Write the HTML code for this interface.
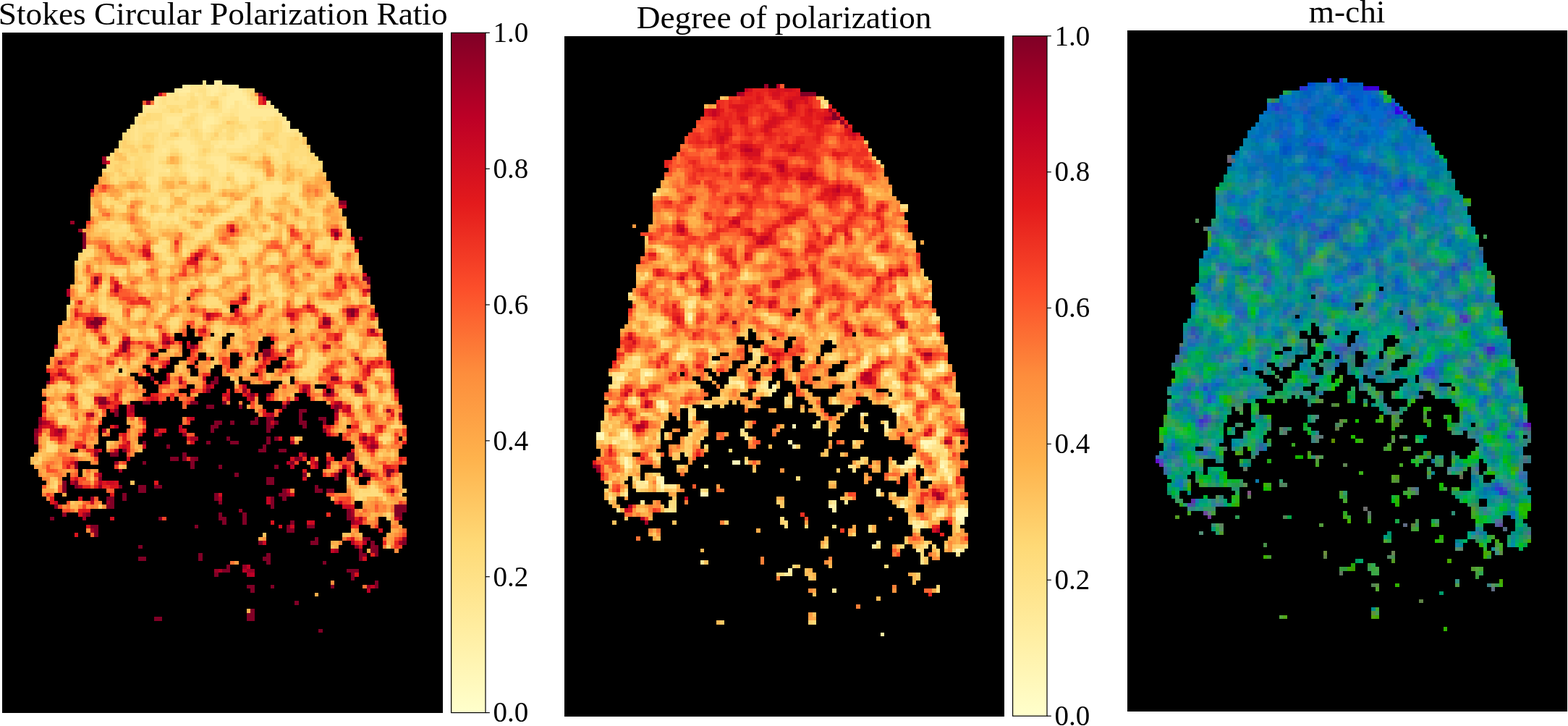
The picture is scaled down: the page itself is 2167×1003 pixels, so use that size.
<!DOCTYPE html>
<html><head><meta charset="utf-8"><title>Polarization maps</title>
<style>
html,body{margin:0;padding:0;background:#fff;}
body{width:2167px;height:1003px;position:relative;overflow:hidden;}
.pn{position:absolute;display:block;}
.ov{position:absolute;left:0;top:0;display:block;}
</style></head><body>
<svg class="pn" style="left:3px;top:45px" width="608.8" height="939.8" viewBox="0 0 110 170" preserveAspectRatio="none" shape-rendering="crispEdges"><rect width="110" height="170" fill="#000"/>
<path fill="#ffe58f" d="M50 12h1v1h-1zM47 13h4v1h-4zM47 14h2v1h-2zM55 14h1v1h-1zM60 14h1v1h-1zM42 15h2v1h-2zM46 15h1v1h-1zM49 15h1v1h-1zM54 15h1v1h-1zM39 16h1v1h-1zM41 16h2v1h-2zM44 16h3v1h-3zM49 16h1v1h-1zM54 16h1v1h-1zM61 16h1v1h-1zM39 17h1v1h-1zM41 17h5v1h-5zM49 17h2v1h-2zM58 17h1v1h-1zM62 17h1v1h-1zM66 17h1v1h-1zM35 18h1v1h-1zM39 18h2v1h-2zM50 18h1v1h-1zM58 18h1v1h-1zM63 18h1v1h-1zM65 18h3v1h-3zM35 19h5v1h-5zM45 19h4v1h-4zM50 19h3v1h-3zM57 19h2v1h-2zM40 20h5v1h-5zM46 20h1v1h-1zM49 20h2v1h-2zM53 20h1v1h-1zM55 20h2v1h-2zM58 20h1v1h-1zM68 20h2v1h-2zM40 21h1v1h-1zM49 21h1v1h-1zM54 21h1v1h-1zM62 21h3v1h-3zM66 21h1v1h-1zM70 21h1v1h-1zM38 22h1v1h-1zM40 22h1v1h-1zM44 22h1v1h-1zM49 22h1v1h-1zM54 22h1v1h-1zM60 22h4v1h-4zM33 23h1v1h-1zM36 23h3v1h-3zM40 23h3v1h-3zM44 23h1v1h-1zM49 23h1v1h-1zM52 23h1v1h-1zM61 23h2v1h-2zM70 23h1v1h-1zM33 24h1v1h-1zM40 24h2v1h-2zM45 24h2v1h-2zM52 24h1v1h-1zM55 24h1v1h-1zM61 24h1v1h-1zM64 24h1v1h-1zM70 24h1v1h-1zM72 24h2v1h-2zM33 25h1v1h-1zM39 25h1v1h-1zM46 25h1v1h-1zM50 25h1v1h-1zM60 25h2v1h-2zM33 26h1v1h-1zM39 26h1v1h-1zM44 26h1v1h-1zM46 26h1v1h-1zM50 26h1v1h-1zM55 26h1v1h-1zM58 26h1v1h-1zM61 26h1v1h-1zM39 27h1v1h-1zM41 27h2v1h-2zM47 27h1v1h-1zM52 27h2v1h-2zM56 27h2v1h-2zM62 27h2v1h-2zM39 28h3v1h-3zM43 28h1v1h-1zM48 28h1v1h-1zM55 28h1v1h-1zM60 28h1v1h-1zM38 29h2v1h-2zM41 29h1v1h-1zM44 29h1v1h-1zM48 29h1v1h-1zM53 29h1v1h-1zM56 29h4v1h-4zM67 29h2v1h-2zM38 30h3v1h-3zM45 30h1v1h-1zM47 30h2v1h-2zM52 30h4v1h-4zM68 30h1v1h-1zM38 31h1v1h-1zM46 31h1v1h-1zM48 31h1v1h-1zM51 31h1v1h-1zM38 32h1v1h-1zM46 32h1v1h-1zM51 32h2v1h-2zM56 32h1v1h-1zM38 33h2v1h-2zM45 33h1v1h-1zM47 33h2v1h-2zM53 33h1v1h-1zM56 33h1v1h-1zM58 33h3v1h-3zM38 34h3v1h-3zM45 34h1v1h-1zM48 34h2v1h-2zM56 34h2v1h-2zM60 34h2v1h-2zM38 35h1v1h-1zM46 35h1v1h-1zM49 35h1v1h-1zM54 35h2v1h-2zM61 35h4v1h-4zM36 36h3v1h-3zM47 36h2v1h-2zM58 36h1v1h-1zM64 36h1v1h-1zM37 37h2v1h-2zM53 37h1v1h-1zM59 37h2v1h-2zM68 37h1v1h-1zM53 38h1v1h-1zM65 38h5v1h-5zM65 39h5v1h-5zM65 40h2v1h-2zM40 41h1v1h-1zM66 41h1v1h-1zM39 42h2v1h-2zM54 42h2v1h-2zM58 43h3v1h-3zM35 44h1v1h-1zM58 44h2v1h-2zM39 45h2v1h-2zM55 45h3v1h-3zM38 46h1v1h-1zM43 46h1v1h-1zM54 46h2v1h-2zM53 47h1v1h-1zM51 49h1v1h-1zM62 53h1v1h-1z"/>
<path fill="#ffeda0" d="M53 12h2v1h-2zM45 13h2v1h-2zM51 13h3v1h-3zM56 13h2v1h-2zM44 14h3v1h-3zM52 14h2v1h-2zM58 14h2v1h-2zM52 15h1v1h-1zM57 15h3v1h-3zM56 16h5v1h-5zM56 17h2v1h-2zM60 17h1v1h-1zM56 18h1v1h-1zM61 18h1v1h-1zM51 21h2v1h-2zM50 22h3v1h-3zM50 23h1v1h-1z"/>
<path fill="#ffe998" d="M54 13h2v1h-2zM58 13h1v1h-1zM43 14h1v1h-1zM51 14h1v1h-1zM54 14h1v1h-1zM56 14h2v1h-2zM41 15h1v1h-1zM44 15h2v1h-2zM48 15h1v1h-1zM51 15h1v1h-1zM53 15h1v1h-1zM56 15h1v1h-1zM60 15h1v1h-1zM38 16h1v1h-1zM55 16h1v1h-1zM38 17h1v1h-1zM55 17h1v1h-1zM59 17h1v1h-1zM61 17h1v1h-1zM36 18h3v1h-3zM49 18h1v1h-1zM55 18h1v1h-1zM57 18h1v1h-1zM59 18h2v1h-2zM62 18h1v1h-1zM49 19h1v1h-1zM55 19h2v1h-2zM59 19h10v1h-10zM45 20h1v1h-1zM51 20h2v1h-2zM54 20h1v1h-1zM59 20h9v1h-9zM41 21h4v1h-4zM50 21h1v1h-1zM53 21h1v1h-1zM59 21h3v1h-3zM65 21h1v1h-1zM41 22h3v1h-3zM53 22h1v1h-1zM70 22h2v1h-2zM43 23h1v1h-1zM51 23h1v1h-1zM71 23h1v1h-1zM50 24h2v1h-2zM62 24h2v1h-2zM71 24h1v1h-1zM59 25h1v1h-1zM62 25h2v1h-2zM45 26h1v1h-1zM59 26h2v1h-2zM62 26h2v1h-2zM43 27h4v1h-4zM54 27h2v1h-2zM58 27h4v1h-4zM44 28h4v1h-4zM53 28h2v1h-2zM56 28h4v1h-4zM40 29h1v1h-1zM45 29h3v1h-3zM46 30h1v1h-1zM47 31h1v1h-1zM52 31h4v1h-4zM53 32h3v1h-3zM46 33h1v1h-1zM54 33h2v1h-2zM57 33h1v1h-1zM41 34h1v1h-1zM46 34h2v1h-2zM54 34h2v1h-2zM58 34h2v1h-2zM47 35h2v1h-2zM58 35h3v1h-3zM59 36h2v1h-2z"/>
<path fill="#fee187" d="M49 14h2v1h-2zM47 15h1v1h-1zM50 15h1v1h-1zM55 15h1v1h-1zM61 15h1v1h-1zM40 16h1v1h-1zM43 16h1v1h-1zM48 16h1v1h-1zM50 16h3v1h-3zM40 17h1v1h-1zM51 17h1v1h-1zM54 17h1v1h-1zM44 18h2v1h-2zM48 18h1v1h-1zM54 18h1v1h-1zM64 18h1v1h-1zM40 19h2v1h-2zM53 19h2v1h-2zM34 20h2v1h-2zM57 20h1v1h-1zM33 21h1v1h-1zM45 21h1v1h-1zM48 21h1v1h-1zM55 21h2v1h-2zM67 21h1v1h-1zM69 21h1v1h-1zM33 22h1v1h-1zM36 22h2v1h-2zM39 22h1v1h-1zM48 22h1v1h-1zM59 22h1v1h-1zM34 23h2v1h-2zM39 23h1v1h-1zM45 23h1v1h-1zM47 23h2v1h-2zM53 23h1v1h-1zM63 23h1v1h-1zM32 24h1v1h-1zM34 24h6v1h-6zM42 24h1v1h-1zM44 24h1v1h-1zM49 24h1v1h-1zM58 24h3v1h-3zM32 25h1v1h-1zM34 25h1v1h-1zM40 25h2v1h-2zM45 25h1v1h-1zM51 25h1v1h-1zM54 25h2v1h-2zM58 25h1v1h-1zM64 25h1v1h-1zM69 25h4v1h-4zM74 25h1v1h-1zM32 26h1v1h-1zM34 26h1v1h-1zM38 26h1v1h-1zM40 26h1v1h-1zM43 26h1v1h-1zM47 26h1v1h-1zM51 26h1v1h-1zM54 26h1v1h-1zM69 26h2v1h-2zM33 27h1v1h-1zM38 27h1v1h-1zM40 27h1v1h-1zM48 27h1v1h-1zM69 27h2v1h-2zM38 28h1v1h-1zM42 28h1v1h-1zM49 28h1v1h-1zM52 28h1v1h-1zM61 28h2v1h-2zM66 28h2v1h-2zM70 28h1v1h-1zM52 29h1v1h-1zM54 29h2v1h-2zM60 29h1v1h-1zM66 29h1v1h-1zM69 29h2v1h-2zM37 30h1v1h-1zM41 30h1v1h-1zM51 30h1v1h-1zM62 30h2v1h-2zM67 30h1v1h-1zM69 30h1v1h-1zM26 31h1v1h-1zM32 31h1v1h-1zM37 31h1v1h-1zM39 31h2v1h-2zM45 31h1v1h-1zM49 31h2v1h-2zM56 31h1v1h-1zM68 31h2v1h-2zM73 31h1v1h-1zM75 31h1v1h-1zM36 32h2v1h-2zM45 32h1v1h-1zM47 32h1v1h-1zM57 32h2v1h-2zM69 32h1v1h-1zM74 32h2v1h-2zM36 33h2v1h-2zM40 33h1v1h-1zM61 33h1v1h-1zM32 34h1v1h-1zM37 34h1v1h-1zM50 34h2v1h-2zM53 34h1v1h-1zM62 34h1v1h-1zM37 35h1v1h-1zM39 35h3v1h-3zM50 35h2v1h-2zM53 35h1v1h-1zM46 36h1v1h-1zM52 36h3v1h-3zM61 36h1v1h-1zM63 36h1v1h-1zM36 37h1v1h-1zM47 37h1v1h-1zM52 37h1v1h-1zM54 37h1v1h-1zM56 37h1v1h-1zM61 37h1v1h-1zM65 37h3v1h-3zM69 37h1v1h-1zM37 38h2v1h-2zM52 38h1v1h-1zM54 38h1v1h-1zM56 38h1v1h-1zM64 38h1v1h-1zM70 38h1v1h-1zM73 38h1v1h-1zM37 39h1v1h-1zM53 39h1v1h-1zM64 39h1v1h-1zM70 39h1v1h-1zM73 39h1v1h-1zM31 40h1v1h-1zM63 40h2v1h-2zM67 40h2v1h-2zM72 40h2v1h-2zM39 41h1v1h-1zM41 41h1v1h-1zM47 41h1v1h-1zM65 41h1v1h-1zM73 41h1v1h-1zM41 42h1v1h-1zM47 42h4v1h-4zM59 42h3v1h-3zM65 42h2v1h-2zM74 42h1v1h-1zM40 43h1v1h-1zM61 43h1v1h-1zM66 43h1v1h-1zM57 44h1v1h-1zM60 44h1v1h-1zM35 45h2v1h-2zM38 45h1v1h-1zM43 45h1v1h-1zM46 45h2v1h-2zM58 45h1v1h-1zM37 46h1v1h-1zM39 46h4v1h-4zM53 46h1v1h-1zM56 46h1v1h-1zM41 47h1v1h-1zM43 47h1v1h-1zM52 47h1v1h-1zM54 47h1v1h-1zM67 47h1v1h-1zM30 48h1v1h-1zM51 48h2v1h-2zM67 48h1v1h-1zM50 49h1v1h-1zM52 49h1v1h-1zM49 50h3v1h-3zM65 50h2v1h-2zM48 51h2v1h-2zM40 52h1v1h-1zM62 52h1v1h-1zM38 53h2v1h-2zM60 53h2v1h-2zM63 53h1v1h-1zM38 54h3v1h-3zM45 54h1v1h-1zM55 54h1v1h-1zM59 54h4v1h-4zM60 55h1v1h-1zM41 56h1v1h-1zM67 56h2v1h-2zM35 58h1v1h-1zM56 58h3v1h-3zM56 59h2v1h-2zM29 60h1v1h-1zM52 61h2v1h-2zM51 62h3v1h-3zM67 62h1v1h-1zM40 64h1v1h-1zM68 64h1v1h-1zM68 65h2v1h-2z"/>
<path fill="#fedd7e" d="M61 14h2v1h-2zM47 16h1v1h-1zM53 16h1v1h-1zM46 17h3v1h-3zM63 17h1v1h-1zM41 18h3v1h-3zM46 18h2v1h-2zM51 18h1v1h-1zM43 19h1v1h-1zM37 20h3v1h-3zM47 20h2v1h-2zM34 21h1v1h-1zM37 21h3v1h-3zM46 21h1v1h-1zM57 21h2v1h-2zM68 21h1v1h-1zM34 22h1v1h-1zM45 22h1v1h-1zM47 22h1v1h-1zM55 22h1v1h-1zM64 22h1v1h-1zM66 22h2v1h-2zM69 22h1v1h-1zM32 23h1v1h-1zM46 23h1v1h-1zM54 23h3v1h-3zM58 23h1v1h-1zM60 23h1v1h-1zM64 23h4v1h-4zM69 23h1v1h-1zM31 24h1v1h-1zM43 24h1v1h-1zM47 24h1v1h-1zM53 24h2v1h-2zM56 24h1v1h-1zM65 24h3v1h-3zM69 24h1v1h-1zM30 25h2v1h-2zM35 25h1v1h-1zM38 25h1v1h-1zM44 25h1v1h-1zM47 25h1v1h-1zM49 25h1v1h-1zM52 25h1v1h-1zM56 25h2v1h-2zM73 25h1v1h-1zM31 26h1v1h-1zM36 26h1v1h-1zM41 26h2v1h-2zM48 26h2v1h-2zM53 26h1v1h-1zM56 26h1v1h-1zM64 26h1v1h-1zM68 26h1v1h-1zM71 26h1v1h-1zM74 26h1v1h-1zM32 27h1v1h-1zM34 27h1v1h-1zM37 27h1v1h-1zM49 27h3v1h-3zM64 27h2v1h-2zM71 27h1v1h-1zM33 28h1v1h-1zM50 28h2v1h-2zM64 28h2v1h-2zM69 28h1v1h-1zM71 28h1v1h-1zM74 28h2v1h-2zM29 29h1v1h-1zM34 29h1v1h-1zM42 29h2v1h-2zM49 29h1v1h-1zM61 29h3v1h-3zM71 29h1v1h-1zM73 29h3v1h-3zM27 30h1v1h-1zM31 30h1v1h-1zM34 30h3v1h-3zM44 30h1v1h-1zM49 30h1v1h-1zM56 30h1v1h-1zM64 30h1v1h-1zM72 30h4v1h-4zM31 31h1v1h-1zM33 31h1v1h-1zM35 31h2v1h-2zM62 31h2v1h-2zM72 31h1v1h-1zM74 31h1v1h-1zM76 31h1v1h-1zM32 32h1v1h-1zM35 32h1v1h-1zM39 32h1v1h-1zM48 32h3v1h-3zM68 32h1v1h-1zM70 32h1v1h-1zM73 32h1v1h-1zM76 32h1v1h-1zM26 33h1v1h-1zM32 33h1v1h-1zM35 33h1v1h-1zM41 33h1v1h-1zM44 33h1v1h-1zM49 33h4v1h-4zM68 33h1v1h-1zM73 33h2v1h-2zM76 33h3v1h-3zM26 34h1v1h-1zM31 34h1v1h-1zM36 34h1v1h-1zM44 34h1v1h-1zM52 34h1v1h-1zM63 34h2v1h-2zM77 34h1v1h-1zM28 35h1v1h-1zM32 35h1v1h-1zM36 35h1v1h-1zM45 35h1v1h-1zM52 35h1v1h-1zM57 35h1v1h-1zM77 35h1v1h-1zM28 36h1v1h-1zM51 36h1v1h-1zM55 36h1v1h-1zM65 36h1v1h-1zM68 36h1v1h-1zM28 37h1v1h-1zM55 37h1v1h-1zM58 37h1v1h-1zM64 37h1v1h-1zM73 37h1v1h-1zM55 38h1v1h-1zM59 38h1v1h-1zM71 38h2v1h-2zM38 39h1v1h-1zM44 39h2v1h-2zM52 39h1v1h-1zM63 39h1v1h-1zM71 39h2v1h-2zM32 40h1v1h-1zM34 40h1v1h-1zM36 40h1v1h-1zM38 40h4v1h-4zM44 40h1v1h-1zM52 40h1v1h-1zM62 40h1v1h-1zM69 40h1v1h-1zM26 41h1v1h-1zM31 41h1v1h-1zM48 41h3v1h-3zM61 41h1v1h-1zM72 41h1v1h-1zM26 42h1v1h-1zM46 42h1v1h-1zM58 42h1v1h-1zM73 42h1v1h-1zM28 43h3v1h-3zM41 43h1v1h-1zM67 43h1v1h-1zM74 43h1v1h-1zM43 44h2v1h-2zM46 44h1v1h-1zM42 45h1v1h-1zM54 45h1v1h-1zM60 45h1v1h-1zM78 45h2v1h-2zM57 46h1v1h-1zM65 46h1v1h-1zM27 47h1v1h-1zM37 47h2v1h-2zM40 47h1v1h-1zM44 47h1v1h-1zM74 47h1v1h-1zM25 48h2v1h-2zM29 48h1v1h-1zM45 48h1v1h-1zM74 48h2v1h-2zM79 48h1v1h-1zM27 49h4v1h-4zM46 49h1v1h-1zM48 50h1v1h-1zM67 50h1v1h-1zM70 50h1v1h-1zM60 51h1v1h-1zM65 51h2v1h-2zM70 51h1v1h-1zM39 52h1v1h-1zM41 52h1v1h-1zM61 52h1v1h-1zM79 52h2v1h-2zM40 53h1v1h-1zM53 53h1v1h-1zM59 53h1v1h-1zM79 53h1v1h-1zM83 53h3v1h-3zM22 54h1v1h-1zM54 54h1v1h-1zM56 54h1v1h-1zM83 54h1v1h-1zM21 55h1v1h-1zM40 55h1v1h-1zM45 55h1v1h-1zM68 55h1v1h-1zM83 55h1v1h-1zM40 56h1v1h-1zM42 56h1v1h-1zM57 56h1v1h-1zM66 56h1v1h-1zM83 56h1v1h-1zM34 57h1v1h-1zM57 57h1v1h-1zM34 58h1v1h-1zM55 58h1v1h-1zM29 59h2v1h-2zM33 59h2v1h-2zM55 59h1v1h-1zM58 59h1v1h-1zM51 61h1v1h-1zM62 61h1v1h-1zM67 61h2v1h-2zM62 62h1v1h-1zM25 63h1v1h-1zM52 63h1v1h-1zM67 63h2v1h-2zM77 63h1v1h-1zM67 64h1v1h-1zM69 64h1v1h-1zM51 66h3v1h-3zM63 66h1v1h-1zM73 66h2v1h-2zM51 67h3v1h-3zM69 67h1v1h-1zM74 67h1v1h-1zM25 68h1v1h-1zM40 68h1v1h-1zM51 68h1v1h-1zM62 68h1v1h-1zM69 68h1v1h-1zM81 68h2v1h-2zM25 69h1v1h-1zM40 69h1v1h-1zM81 69h3v1h-3zM33 70h1v1h-1zM43 71h1v1h-1zM42 72h2v1h-2zM37 74h1v1h-1zM37 75h1v1h-1zM86 75h1v1h-1zM86 76h2v1h-2zM91 79h2v1h-2zM78 80h1v1h-1zM77 81h1v1h-1zM79 81h1v1h-1zM77 82h1v1h-1zM76 83h2v1h-2zM75 84h2v1h-2zM74 85h1v1h-1zM77 85h1v1h-1zM94 85h2v1h-2zM21 88h2v1h-2zM92 90h1v1h-1zM20 92h1v1h-1zM88 92h1v1h-1zM15 93h1v1h-1zM88 93h1v1h-1zM15 96h1v1h-1zM95 101h2v1h-2zM95 102h1v1h-1zM11 103h2v1h-2zM11 104h2v1h-2zM13 113h1v1h-1zM92 113h1v1h-1zM89 114h1v1h-1zM92 114h2v1h-2zM89 115h6v1h-6zM89 116h1v1h-1z"/>
<path fill="#c50524" d="M39 15h1v1h-1zM85 43h1v1h-1zM82 49h2v1h-2zM36 55h1v1h-1zM76 68h1v1h-1zM58 69h1v1h-1zM72 70h1v1h-1zM21 71h1v1h-1zM51 71h1v1h-1zM22 73h1v1h-1zM31 76h1v1h-1zM80 78h1v1h-1zM41 82h1v1h-1zM91 83h1v1h-1zM97 84h1v1h-1zM41 86h1v1h-1zM40 87h2v1h-2zM76 88h1v1h-1zM56 91h1v1h-1zM83 92h1v1h-1zM86 93h1v1h-1zM31 94h1v1h-1zM86 94h1v1h-1zM31 95h1v1h-1zM66 95h1v1h-1zM47 96h1v1h-1zM11 97h1v1h-1zM9 99h1v1h-1zM44 99h1v1h-1zM81 100h1v1h-1zM92 101h1v1h-1zM91 103h1v1h-1zM71 114h1v1h-1zM66 116h1v1h-1zM13 117h1v1h-1zM22 117h1v1h-1zM66 117h1v1h-1zM98 121h1v1h-1zM89 122h1v1h-1zM82 129h1v1h-1zM61 133h1v1h-1zM92 138h1v1h-1z"/>
<path fill="#fc5b2e" d="M40 15h1v1h-1zM35 17h1v1h-1zM22 40h1v1h-1zM84 49h1v1h-1zM55 51h1v1h-1zM36 52h1v1h-1zM43 53h1v1h-1zM67 53h1v1h-1zM69 53h1v1h-1zM50 55h1v1h-1zM46 56h1v1h-1zM30 57h1v1h-1zM21 58h1v1h-1zM21 59h1v1h-1zM37 59h1v1h-1zM23 60h1v1h-1zM76 60h1v1h-1zM42 61h1v1h-1zM27 63h1v1h-1zM30 64h1v1h-1zM27 65h1v1h-1zM29 65h3v1h-3zM80 65h1v1h-1zM84 65h1v1h-1zM29 66h1v1h-1zM71 67h1v1h-1zM76 67h1v1h-1zM65 68h1v1h-1zM90 68h1v1h-1zM42 69h1v1h-1zM59 69h1v1h-1zM75 69h1v1h-1zM23 70h1v1h-1zM31 70h1v1h-1zM63 70h1v1h-1zM78 70h1v1h-1zM91 70h1v1h-1zM50 71h1v1h-1zM61 71h1v1h-1zM20 72h1v1h-1zM59 72h1v1h-1zM86 72h2v1h-2zM45 74h1v1h-1zM41 75h1v1h-1zM45 75h1v1h-1zM66 75h2v1h-2zM26 77h1v1h-1zM33 77h1v1h-1zM62 77h1v1h-1zM73 77h1v1h-1zM80 77h1v1h-1zM30 80h1v1h-1zM32 80h1v1h-1zM15 81h1v1h-1zM94 81h1v1h-1zM13 82h1v1h-1zM16 82h1v1h-1zM83 82h1v1h-1zM95 82h1v1h-1zM14 83h1v1h-1zM73 83h1v1h-1zM83 83h1v1h-1zM13 84h1v1h-1zM71 84h1v1h-1zM16 85h1v1h-1zM14 86h1v1h-1zM80 86h2v1h-2zM33 87h1v1h-1zM66 87h1v1h-1zM33 88h1v1h-1zM28 89h1v1h-1zM16 90h1v1h-1zM41 90h1v1h-1zM27 91h1v1h-1zM40 91h1v1h-1zM46 91h1v1h-1zM17 92h1v1h-1zM45 92h1v1h-1zM84 94h1v1h-1zM10 95h1v1h-1zM91 95h1v1h-1zM18 96h1v1h-1zM22 96h1v1h-1zM21 98h1v1h-1zM20 99h2v1h-2zM31 99h1v1h-1zM86 99h1v1h-1zM19 100h1v1h-1zM26 100h1v1h-1zM46 100h2v1h-2zM83 100h1v1h-1zM85 100h1v1h-1zM98 101h1v1h-1zM20 102h1v1h-1zM46 102h1v1h-1zM15 106h2v1h-2zM85 106h1v1h-1zM86 107h1v1h-1zM95 107h1v1h-1zM17 108h1v1h-1zM13 109h1v1h-1zM18 110h1v1h-1zM86 110h1v1h-1zM94 111h1v1h-1zM10 113h1v1h-1zM14 113h1v1h-1zM22 113h1v1h-1zM14 114h1v1h-1zM27 114h1v1h-1zM97 115h1v1h-1zM23 116h1v1h-1zM21 117h1v1h-1zM93 118h1v1h-1zM90 122h1v1h-1z"/>
<path fill="#fed16e" d="M62 15h1v1h-1zM52 17h2v1h-2zM57 22h1v1h-1zM42 25h1v1h-1zM53 25h1v1h-1zM65 25h3v1h-3zM65 26h1v1h-1zM73 26h1v1h-1zM30 27h1v1h-1zM30 28h3v1h-3zM37 28h1v1h-1zM32 29h2v1h-2zM36 29h1v1h-1zM50 29h1v1h-1zM30 30h1v1h-1zM42 30h2v1h-2zM44 31h1v1h-1zM57 31h1v1h-1zM61 31h1v1h-1zM64 31h1v1h-1zM77 31h1v1h-1zM29 32h3v1h-3zM44 32h1v1h-1zM61 32h2v1h-2zM67 32h1v1h-1zM28 33h2v1h-2zM43 33h1v1h-1zM70 33h1v1h-1zM72 33h1v1h-1zM28 34h1v1h-1zM33 34h1v1h-1zM75 34h1v1h-1zM27 35h1v1h-1zM29 35h1v1h-1zM33 35h3v1h-3zM43 35h1v1h-1zM65 35h1v1h-1zM69 35h1v1h-1zM75 35h1v1h-1zM31 36h2v1h-2zM41 36h1v1h-1zM43 36h1v1h-1zM50 36h1v1h-1zM57 36h1v1h-1zM67 36h1v1h-1zM73 36h2v1h-2zM27 37h1v1h-1zM46 37h1v1h-1zM51 37h1v1h-1zM57 37h1v1h-1zM71 37h2v1h-2zM74 37h1v1h-1zM39 38h1v1h-1zM58 38h1v1h-1zM60 38h1v1h-1zM63 38h1v1h-1zM34 39h1v1h-1zM39 39h2v1h-2zM42 39h1v1h-1zM46 39h1v1h-1zM54 39h1v1h-1zM59 39h1v1h-1zM62 39h1v1h-1zM33 40h1v1h-1zM48 40h1v1h-1zM53 40h1v1h-1zM61 40h1v1h-1zM81 40h2v1h-2zM25 41h1v1h-1zM27 41h1v1h-1zM32 41h1v1h-1zM35 41h1v1h-1zM52 41h1v1h-1zM56 41h1v1h-1zM60 41h1v1h-1zM68 41h1v1h-1zM81 41h1v1h-1zM29 42h1v1h-1zM31 42h1v1h-1zM42 42h1v1h-1zM67 42h1v1h-1zM72 42h1v1h-1zM39 43h1v1h-1zM45 43h1v1h-1zM54 43h2v1h-2zM78 43h2v1h-2zM22 44h1v1h-1zM28 44h1v1h-1zM34 44h1v1h-1zM61 44h1v1h-1zM65 44h2v1h-2zM68 44h1v1h-1zM77 44h3v1h-3zM34 45h1v1h-1zM48 45h1v1h-1zM51 45h1v1h-1zM65 45h1v1h-1zM75 45h1v1h-1zM47 46h1v1h-1zM50 46h2v1h-2zM64 46h1v1h-1zM72 46h1v1h-1zM78 46h1v1h-1zM24 47h2v1h-2zM28 47h3v1h-3zM39 47h1v1h-1zM51 47h1v1h-1zM63 47h1v1h-1zM65 47h1v1h-1zM73 47h1v1h-1zM78 47h1v1h-1zM85 47h1v1h-1zM24 48h1v1h-1zM39 48h1v1h-1zM41 48h2v1h-2zM68 48h1v1h-1zM78 48h1v1h-1zM85 48h1v1h-1zM24 49h1v1h-1zM36 49h3v1h-3zM45 49h1v1h-1zM48 49h1v1h-1zM27 50h1v1h-1zM31 50h1v1h-1zM38 50h1v1h-1zM64 50h1v1h-1zM27 51h1v1h-1zM29 51h1v1h-1zM39 51h2v1h-2zM59 51h1v1h-1zM62 51h1v1h-1zM64 51h1v1h-1zM28 52h1v1h-1zM45 52h2v1h-2zM59 52h2v1h-2zM85 52h1v1h-1zM46 53h1v1h-1zM74 53h1v1h-1zM87 53h1v1h-1zM41 54h1v1h-1zM53 54h1v1h-1zM57 54h1v1h-1zM72 54h1v1h-1zM78 54h1v1h-1zM19 55h1v1h-1zM39 55h1v1h-1zM55 55h1v1h-1zM62 55h1v1h-1zM82 55h1v1h-1zM39 56h1v1h-1zM58 56h1v1h-1zM18 57h1v1h-1zM35 57h1v1h-1zM42 57h1v1h-1zM58 57h1v1h-1zM66 57h1v1h-1zM88 57h1v1h-1zM19 58h1v1h-1zM23 58h1v1h-1zM26 58h1v1h-1zM84 58h1v1h-1zM19 59h1v1h-1zM26 59h2v1h-2zM32 59h1v1h-1zM39 59h1v1h-1zM59 59h1v1h-1zM62 59h1v1h-1zM19 60h1v1h-1zM30 60h1v1h-1zM34 60h1v1h-1zM39 60h2v1h-2zM50 60h1v1h-1zM53 60h3v1h-3zM62 60h2v1h-2zM73 60h1v1h-1zM79 60h3v1h-3zM19 61h2v1h-2zM54 61h1v1h-1zM63 61h1v1h-1zM20 62h1v1h-1zM25 62h1v1h-1zM46 62h1v1h-1zM68 62h1v1h-1zM26 63h1v1h-1zM35 63h2v1h-2zM51 63h1v1h-1zM53 63h1v1h-1zM59 63h1v1h-1zM76 63h1v1h-1zM24 64h1v1h-1zM76 64h2v1h-2zM25 65h1v1h-1zM51 65h1v1h-1zM63 65h2v1h-2zM66 65h2v1h-2zM24 66h1v1h-1zM50 66h1v1h-1zM75 66h1v1h-1zM88 66h1v1h-1zM91 66h1v1h-1zM17 67h1v1h-1zM24 67h1v1h-1zM27 67h1v1h-1zM62 67h1v1h-1zM78 67h1v1h-1zM88 67h1v1h-1zM91 67h1v1h-1zM26 68h1v1h-1zM28 68h2v1h-2zM55 68h1v1h-1zM84 68h1v1h-1zM16 69h1v1h-1zM24 69h1v1h-1zM26 69h1v1h-1zM16 70h1v1h-1zM27 70h1v1h-1zM32 70h1v1h-1zM29 71h1v1h-1zM44 71h1v1h-1zM29 72h1v1h-1zM41 72h1v1h-1zM54 73h1v1h-1zM70 73h1v1h-1zM75 73h1v1h-1zM77 73h1v1h-1zM36 74h1v1h-1zM42 74h1v1h-1zM58 74h1v1h-1zM34 75h1v1h-1zM36 75h1v1h-1zM21 76h2v1h-2zM28 76h1v1h-1zM52 76h2v1h-2zM88 76h1v1h-1zM23 77h1v1h-1zM28 77h1v1h-1zM93 77h1v1h-1zM15 78h1v1h-1zM17 78h1v1h-1zM23 78h1v1h-1zM51 78h1v1h-1zM70 78h1v1h-1zM87 78h1v1h-1zM93 78h1v1h-1zM52 79h1v1h-1zM77 79h1v1h-1zM94 79h1v1h-1zM25 80h1v1h-1zM90 80h2v1h-2zM73 81h1v1h-1zM80 81h1v1h-1zM19 82h1v1h-1zM29 82h1v1h-1zM33 82h1v1h-1zM28 83h1v1h-1zM44 83h1v1h-1zM52 83h1v1h-1zM78 83h1v1h-1zM28 84h1v1h-1zM30 84h1v1h-1zM74 84h1v1h-1zM94 84h1v1h-1zM26 85h1v1h-1zM29 85h1v1h-1zM78 85h1v1h-1zM26 86h1v1h-1zM71 86h1v1h-1zM75 86h1v1h-1zM21 87h1v1h-1zM23 87h1v1h-1zM58 87h1v1h-1zM14 88h2v1h-2zM20 88h1v1h-1zM15 89h1v1h-1zM22 89h1v1h-1zM85 89h1v1h-1zM93 89h1v1h-1zM19 90h2v1h-2zM93 90h1v1h-1zM87 91h1v1h-1zM89 91h1v1h-1zM92 91h1v1h-1zM14 92h1v1h-1zM22 92h1v1h-1zM97 92h1v1h-1zM12 93h1v1h-1zM14 93h1v1h-1zM20 93h1v1h-1zM94 94h1v1h-1zM16 96h1v1h-1zM14 97h2v1h-2zM17 97h1v1h-1zM99 98h1v1h-1zM91 99h1v1h-1zM95 100h2v1h-2zM26 102h1v1h-1zM13 104h1v1h-1zM19 105h1v1h-1zM94 105h1v1h-1zM97 105h1v1h-1zM8 107h1v1h-1zM90 107h1v1h-1zM86 111h1v1h-1zM87 112h1v1h-1zM12 113h1v1h-1zM88 114h1v1h-1zM90 116h1v1h-1zM24 118h1v1h-1zM96 128h1v1h-1z"/>
<path fill="#fd8d3c" d="M63 15h1v1h-1zM66 32h1v1h-1zM66 34h1v1h-1zM23 38h1v1h-1zM63 42h1v1h-1zM82 43h1v1h-1zM73 44h1v1h-1zM81 44h1v1h-1zM22 46h1v1h-1zM33 49h1v1h-1zM55 49h1v1h-1zM22 52h1v1h-1zM35 52h1v1h-1zM56 52h1v1h-1zM72 52h1v1h-1zM76 52h1v1h-1zM31 53h1v1h-1zM77 53h1v1h-1zM25 54h1v1h-1zM27 54h1v1h-1zM33 54h1v1h-1zM69 54h1v1h-1zM75 54h1v1h-1zM29 55h1v1h-1zM51 55h2v1h-2zM23 56h2v1h-2zM64 56h1v1h-1zM76 56h1v1h-1zM78 56h2v1h-2zM27 57h1v1h-1zM31 57h1v1h-1zM72 57h1v1h-1zM77 57h1v1h-1zM68 58h1v1h-1zM73 58h1v1h-1zM36 59h1v1h-1zM38 59h1v1h-1zM44 59h1v1h-1zM66 59h1v1h-1zM21 60h1v1h-1zM43 60h1v1h-1zM46 60h3v1h-3zM33 61h1v1h-1zM76 61h1v1h-1zM42 62h2v1h-2zM73 62h1v1h-1zM23 64h1v1h-1zM81 64h1v1h-1zM85 64h1v1h-1zM79 65h1v1h-1zM36 66h1v1h-1zM58 66h1v1h-1zM76 66h1v1h-1zM30 67h1v1h-1zM42 68h1v1h-1zM46 68h1v1h-1zM48 68h1v1h-1zM72 68h1v1h-1zM17 69h1v1h-1zM53 69h1v1h-1zM63 69h1v1h-1zM90 69h2v1h-2zM30 70h1v1h-1zM62 70h1v1h-1zM81 70h1v1h-1zM17 71h1v1h-1zM54 71h1v1h-1zM67 71h1v1h-1zM82 71h1v1h-1zM34 72h1v1h-1zM45 72h1v1h-1zM14 73h1v1h-1zM17 73h1v1h-1zM45 73h1v1h-1zM91 73h1v1h-1zM29 74h1v1h-1zM60 74h1v1h-1zM85 74h1v1h-1zM23 75h1v1h-1zM61 75h1v1h-1zM78 75h1v1h-1zM89 75h1v1h-1zM15 76h1v1h-1zM73 76h1v1h-1zM78 76h1v1h-1zM24 77h1v1h-1zM54 77h1v1h-1zM63 77h1v1h-1zM68 77h1v1h-1zM81 77h1v1h-1zM34 78h1v1h-1zM63 78h1v1h-1zM73 78h1v1h-1zM79 79h1v1h-1zM87 79h1v1h-1zM36 80h1v1h-1zM55 80h1v1h-1zM39 81h2v1h-2zM60 81h1v1h-1zM83 81h1v1h-1zM95 81h1v1h-1zM51 82h1v1h-1zM74 82h1v1h-1zM12 83h1v1h-1zM15 83h1v1h-1zM27 83h1v1h-1zM59 83h1v1h-1zM34 84h1v1h-1zM55 84h1v1h-1zM62 84h1v1h-1zM72 84h1v1h-1zM55 85h1v1h-1zM68 85h1v1h-1zM79 85h1v1h-1zM31 86h1v1h-1zM42 86h1v1h-1zM61 86h1v1h-1zM63 86h1v1h-1zM65 86h1v1h-1zM16 87h1v1h-1zM42 87h2v1h-2zM74 87h2v1h-2zM80 87h1v1h-1zM17 88h1v1h-1zM25 88h1v1h-1zM27 88h1v1h-1zM84 88h2v1h-2zM32 89h1v1h-1zM42 89h1v1h-1zM68 89h1v1h-1zM77 89h1v1h-1zM97 89h1v1h-1zM79 90h1v1h-1zM18 91h1v1h-1zM68 91h1v1h-1zM12 92h1v1h-1zM31 92h1v1h-1zM98 93h1v1h-1zM90 94h1v1h-1zM99 94h1v1h-1zM64 95h1v1h-1zM93 96h1v1h-1zM93 97h1v1h-1zM96 97h1v1h-1zM14 98h1v1h-1zM32 98h1v1h-1zM83 98h1v1h-1zM19 99h1v1h-1zM89 99h1v1h-1zM95 99h1v1h-1zM99 99h1v1h-1zM25 100h1v1h-1zM99 100h1v1h-1zM19 101h1v1h-1zM33 101h1v1h-1zM100 101h1v1h-1zM16 102h2v1h-2zM14 104h1v1h-1zM26 104h1v1h-1zM90 104h1v1h-1zM16 105h1v1h-1zM32 105h1v1h-1zM78 106h1v1h-1zM13 107h1v1h-1zM22 107h1v1h-1zM82 107h1v1h-1zM10 108h1v1h-1zM12 108h1v1h-1zM87 108h1v1h-1zM14 109h1v1h-1zM80 109h1v1h-1zM9 110h1v1h-1zM21 110h1v1h-1zM11 111h1v1h-1zM94 112h1v1h-1zM96 112h1v1h-1zM72 114h1v1h-1zM84 115h2v1h-2zM87 116h1v1h-1zM24 117h1v1h-1zM87 117h1v1h-1zM15 118h1v1h-1zM19 118h1v1h-1zM23 118h1v1h-1zM94 118h1v1h-1zM91 119h1v1h-1zM94 119h2v1h-2zM91 122h2v1h-2zM98 122h1v1h-1zM21 124h1v1h-1zM88 124h1v1h-1zM99 124h1v1h-1zM98 125h1v1h-1zM84 127h1v1h-1zM98 129h1v1h-1zM82 137h1v1h-1z"/>
<path fill="#800026" d="M64 15h1v1h-1zM84 42h2v1h-2zM20 50h1v1h-1zM83 50h1v1h-1zM20 51h1v1h-1zM89 51h1v1h-1zM20 52h1v1h-1zM20 53h1v1h-1zM90 61h2v1h-2zM23 62h1v1h-1zM91 62h1v1h-1zM60 66h1v1h-1zM87 69h1v1h-1zM87 70h1v1h-1zM93 70h1v1h-1zM23 71h1v1h-1zM22 72h3v1h-3zM80 72h1v1h-1zM30 77h1v1h-1zM41 77h1v1h-1zM30 78h1v1h-1zM47 78h1v1h-1zM30 79h1v1h-1zM65 80h2v1h-2zM37 86h1v1h-1zM53 86h1v1h-1zM82 86h1v1h-1zM11 87h1v1h-1zM52 87h2v1h-2zM88 88h1v1h-1zM51 89h1v1h-1zM62 90h1v1h-1zM81 90h1v1h-1zM24 92h2v1h-2zM35 92h2v1h-2zM47 92h2v1h-2zM55 92h1v1h-1zM71 92h1v1h-1zM51 93h2v1h-2zM59 93h1v1h-1zM70 93h1v1h-1zM83 93h1v1h-1zM28 94h1v1h-1zM74 94h2v1h-2zM83 94h1v1h-1zM28 95h1v1h-1zM74 95h1v1h-1zM35 96h1v1h-1zM63 96h1v1h-1zM66 96h2v1h-2zM74 96h1v1h-1zM79 96h2v1h-2zM9 97h1v1h-1zM53 97h2v1h-2zM57 97h1v1h-1zM62 97h2v1h-2zM66 97h1v1h-1zM68 97h1v1h-1zM74 97h2v1h-2zM80 97h1v1h-1zM52 98h2v1h-2zM66 98h2v1h-2zM75 98h1v1h-1zM8 99h1v1h-1zM52 99h1v1h-1zM66 99h1v1h-1zM80 99h1v1h-1zM39 100h1v1h-1zM56 101h1v1h-1zM66 101h1v1h-1zM68 101h1v1h-1zM90 101h1v1h-1zM8 102h1v1h-1zM35 102h1v1h-1zM51 102h1v1h-1zM57 102h2v1h-2zM66 102h1v1h-1zM41 103h1v1h-1zM65 103h1v1h-1zM30 104h1v1h-1zM64 104h2v1h-2zM69 104h2v1h-2zM23 105h1v1h-1zM27 105h2v1h-2zM45 105h1v1h-1zM75 105h1v1h-1zM87 105h1v1h-1zM42 106h2v1h-2zM45 106h1v1h-1zM48 106h1v1h-1zM73 106h2v1h-2zM86 106h2v1h-2zM18 107h1v1h-1zM35 107h1v1h-1zM47 107h1v1h-1zM72 107h1v1h-1zM47 108h1v1h-1zM54 108h1v1h-1zM68 108h1v1h-1zM96 109h2v1h-2zM58 110h1v1h-1zM75 110h1v1h-1zM90 110h1v1h-1zM96 110h1v1h-1zM24 111h1v1h-1zM66 111h2v1h-2zM83 111h1v1h-1zM15 112h1v1h-1zM18 112h1v1h-1zM66 112h2v1h-2zM15 113h1v1h-1zM18 113h1v1h-1zM29 113h1v1h-1zM34 113h2v1h-2zM38 113h2v1h-2zM78 113h1v1h-1zM15 114h1v1h-1zM34 114h2v1h-2zM70 114h1v1h-1zM78 114h2v1h-2zM81 114h2v1h-2zM30 115h1v1h-1zM53 115h1v1h-1zM69 115h2v1h-2zM26 116h2v1h-2zM30 116h1v1h-1zM53 116h1v1h-1zM67 116h1v1h-1zM70 116h1v1h-1zM27 117h1v1h-1zM67 117h1v1h-1zM13 118h1v1h-1zM26 118h2v1h-2zM67 118h1v1h-1zM98 118h3v1h-3zM86 119h1v1h-1zM98 119h3v1h-3zM21 120h1v1h-1zM54 120h1v1h-1zM60 120h1v1h-1zM86 120h1v1h-1zM98 120h2v1h-2zM12 121h1v1h-1zM39 121h1v1h-1zM54 121h2v1h-2zM60 121h1v1h-1zM86 121h1v1h-1zM55 122h1v1h-1zM60 122h1v1h-1zM72 122h1v1h-1zM22 123h2v1h-2zM48 123h1v1h-1zM71 123h1v1h-1zM76 123h2v1h-2zM23 124h1v1h-1zM71 124h2v1h-2zM23 125h1v1h-1zM78 126h1v1h-1zM91 126h1v1h-1zM64 127h1v1h-1zM77 127h2v1h-2zM92 127h1v1h-1zM100 127h1v1h-1zM34 128h1v1h-1zM93 128h1v1h-1zM89 129h1v1h-1zM92 129h2v1h-2zM49 130h1v1h-1zM66 130h1v1h-1zM89 130h2v1h-2zM93 130h1v1h-1zM34 131h2v1h-2zM49 131h1v1h-1zM65 131h2v1h-2zM89 131h1v1h-1zM66 132h1v1h-1zM80 132h1v1h-1zM56 133h1v1h-1zM55 134h2v1h-2zM86 134h3v1h-3zM53 135h1v1h-1zM87 135h1v1h-1zM87 136h1v1h-1zM93 137h1v1h-1zM61 138h2v1h-2zM67 138h1v1h-1zM82 138h1v1h-1zM93 138h1v1h-1zM62 139h1v1h-1zM73 142h1v1h-1zM62 144h1v1h-1zM61 145h2v1h-2zM38 146h2v1h-2zM61 146h2v1h-2zM79 149h1v1h-1z"/>
<path fill="#fed976" d="M62 16h2v1h-2zM52 18h2v1h-2zM42 19h1v1h-1zM44 19h1v1h-1zM36 20h1v1h-1zM35 21h2v1h-2zM47 21h1v1h-1zM35 22h1v1h-1zM46 22h1v1h-1zM58 22h1v1h-1zM65 22h1v1h-1zM68 22h1v1h-1zM57 23h1v1h-1zM59 23h1v1h-1zM68 23h1v1h-1zM48 24h1v1h-1zM57 24h1v1h-1zM68 24h1v1h-1zM36 25h2v1h-2zM48 25h1v1h-1zM68 25h1v1h-1zM30 26h1v1h-1zM35 26h1v1h-1zM37 26h1v1h-1zM52 26h1v1h-1zM57 26h1v1h-1zM67 26h1v1h-1zM72 26h1v1h-1zM29 27h1v1h-1zM31 27h1v1h-1zM35 27h2v1h-2zM66 27h3v1h-3zM72 27h3v1h-3zM29 28h1v1h-1zM34 28h1v1h-1zM63 28h1v1h-1zM68 28h1v1h-1zM72 28h2v1h-2zM30 29h2v1h-2zM35 29h1v1h-1zM37 29h1v1h-1zM51 29h1v1h-1zM64 29h2v1h-2zM72 29h1v1h-1zM76 29h1v1h-1zM32 30h2v1h-2zM50 30h1v1h-1zM57 30h5v1h-5zM66 30h1v1h-1zM70 30h2v1h-2zM76 30h2v1h-2zM27 31h1v1h-1zM34 31h1v1h-1zM67 31h1v1h-1zM70 31h2v1h-2zM78 31h1v1h-1zM27 32h2v1h-2zM33 32h2v1h-2zM40 32h1v1h-1zM59 32h2v1h-2zM72 32h1v1h-1zM77 32h3v1h-3zM27 33h1v1h-1zM30 33h2v1h-2zM33 33h2v1h-2zM42 33h1v1h-1zM62 33h1v1h-1zM69 33h1v1h-1zM75 33h1v1h-1zM79 33h1v1h-1zM25 34h1v1h-1zM27 34h1v1h-1zM30 34h1v1h-1zM34 34h2v1h-2zM42 34h2v1h-2zM69 34h1v1h-1zM76 34h1v1h-1zM78 34h1v1h-1zM31 35h1v1h-1zM42 35h1v1h-1zM44 35h1v1h-1zM56 35h1v1h-1zM68 35h1v1h-1zM76 35h1v1h-1zM27 36h1v1h-1zM29 36h2v1h-2zM33 36h1v1h-1zM35 36h1v1h-1zM39 36h1v1h-1zM49 36h1v1h-1zM62 36h1v1h-1zM69 36h1v1h-1zM39 37h1v1h-1zM48 37h1v1h-1zM63 37h1v1h-1zM36 38h1v1h-1zM57 38h1v1h-1zM74 38h1v1h-1zM43 39h1v1h-1zM74 39h1v1h-1zM35 40h1v1h-1zM37 40h1v1h-1zM43 40h1v1h-1zM47 40h1v1h-1zM49 40h3v1h-3zM30 41h1v1h-1zM36 41h3v1h-3zM46 41h1v1h-1zM51 41h1v1h-1zM53 41h3v1h-3zM67 41h1v1h-1zM71 41h1v1h-1zM74 41h1v1h-1zM25 42h1v1h-1zM27 42h2v1h-2zM36 42h3v1h-3zM53 42h1v1h-1zM56 42h1v1h-1zM75 42h1v1h-1zM79 42h2v1h-2zM26 43h1v1h-1zM35 43h2v1h-2zM46 43h2v1h-2zM57 43h1v1h-1zM65 43h1v1h-1zM75 43h1v1h-1zM29 44h2v1h-2zM36 44h1v1h-1zM39 44h2v1h-2zM45 44h1v1h-1zM56 44h1v1h-1zM67 44h1v1h-1zM75 44h2v1h-2zM37 45h1v1h-1zM41 45h1v1h-1zM44 45h2v1h-2zM49 45h1v1h-1zM59 45h1v1h-1zM61 45h1v1h-1zM71 45h1v1h-1zM76 45h2v1h-2zM36 46h1v1h-1zM44 46h1v1h-1zM46 46h1v1h-1zM48 46h2v1h-2zM52 46h1v1h-1zM61 46h1v1h-1zM66 46h1v1h-1zM71 46h1v1h-1zM79 46h1v1h-1zM26 47h1v1h-1zM42 47h1v1h-1zM45 47h1v1h-1zM55 47h1v1h-1zM62 47h1v1h-1zM66 47h1v1h-1zM75 47h1v1h-1zM79 47h1v1h-1zM27 48h2v1h-2zM31 48h1v1h-1zM37 48h2v1h-2zM40 48h1v1h-1zM44 48h1v1h-1zM46 48h1v1h-1zM50 48h1v1h-1zM31 49h1v1h-1zM47 49h1v1h-1zM49 49h1v1h-1zM63 49h1v1h-1zM67 49h1v1h-1zM70 49h1v1h-1zM28 50h3v1h-3zM32 50h1v1h-1zM47 50h1v1h-1zM52 50h1v1h-1zM63 50h1v1h-1zM28 51h1v1h-1zM31 51h2v1h-2zM50 51h2v1h-2zM61 51h1v1h-1zM80 51h2v1h-2zM47 52h2v1h-2zM63 52h1v1h-1zM78 52h1v1h-1zM81 52h1v1h-1zM84 52h1v1h-1zM41 53h1v1h-1zM45 53h1v1h-1zM47 53h1v1h-1zM54 53h2v1h-2zM64 53h1v1h-1zM73 53h1v1h-1zM78 53h1v1h-1zM80 53h2v1h-2zM86 53h1v1h-1zM20 54h2v1h-2zM46 54h1v1h-1zM63 54h1v1h-1zM73 54h1v1h-1zM84 54h2v1h-2zM20 55h1v1h-1zM22 55h1v1h-1zM41 55h1v1h-1zM56 55h1v1h-1zM58 55h2v1h-2zM61 55h1v1h-1zM67 55h1v1h-1zM19 56h2v1h-2zM56 56h1v1h-1zM61 56h1v1h-1zM84 56h1v1h-1zM19 57h1v1h-1zM41 57h1v1h-1zM56 57h1v1h-1zM67 57h2v1h-2zM83 57h2v1h-2zM32 58h2v1h-2zM83 58h1v1h-1zM88 58h1v1h-1zM28 59h1v1h-1zM40 59h2v1h-2zM63 59h1v1h-1zM81 59h2v1h-2zM28 60h1v1h-1zM56 60h2v1h-2zM67 60h2v1h-2zM78 60h1v1h-1zM66 61h1v1h-1zM30 62h1v1h-1zM47 62h2v1h-2zM54 62h1v1h-1zM59 62h1v1h-1zM63 62h1v1h-1zM19 63h2v1h-2zM40 63h1v1h-1zM45 63h1v1h-1zM63 63h1v1h-1zM69 63h1v1h-1zM78 63h1v1h-1zM19 64h2v1h-2zM25 64h1v1h-1zM35 64h1v1h-1zM70 65h1v1h-1zM87 65h1v1h-1zM22 66h1v1h-1zM25 66h1v1h-1zM44 66h1v1h-1zM64 66h2v1h-2zM69 66h1v1h-1zM87 66h1v1h-1zM25 67h1v1h-1zM50 67h1v1h-1zM54 67h1v1h-1zM63 67h1v1h-1zM73 67h1v1h-1zM16 68h1v1h-1zM24 68h1v1h-1zM52 68h3v1h-3zM79 68h2v1h-2zM83 68h1v1h-1zM27 69h3v1h-3zM33 69h2v1h-2zM39 69h1v1h-1zM55 69h2v1h-2zM28 70h2v1h-2zM34 70h1v1h-1zM39 70h1v1h-1zM28 71h1v1h-1zM33 71h1v1h-1zM42 71h1v1h-1zM42 73h2v1h-2zM53 73h1v1h-1zM32 74h2v1h-2zM53 74h2v1h-2zM57 74h1v1h-1zM32 75h2v1h-2zM38 75h1v1h-1zM54 75h1v1h-1zM87 75h1v1h-1zM22 77h1v1h-1zM27 77h1v1h-1zM87 77h2v1h-2zM16 78h1v1h-1zM22 78h1v1h-1zM69 78h1v1h-1zM88 78h1v1h-1zM25 79h1v1h-1zM51 79h1v1h-1zM74 79h1v1h-1zM93 79h1v1h-1zM73 80h2v1h-2zM77 80h1v1h-1zM92 80h2v1h-2zM78 81h1v1h-1zM76 82h1v1h-1zM78 82h1v1h-1zM77 84h2v1h-2zM85 84h1v1h-1zM30 85h1v1h-1zM75 85h2v1h-2zM93 85h1v1h-1zM95 86h1v1h-1zM22 87h1v1h-1zM16 88h1v1h-1zM23 88h1v1h-1zM92 88h1v1h-1zM19 89h1v1h-1zM92 89h1v1h-1zM86 90h1v1h-1zM96 90h1v1h-1zM20 91h2v1h-2zM88 91h1v1h-1zM95 91h2v1h-2zM21 92h1v1h-1zM89 92h1v1h-1zM21 93h1v1h-1zM94 93h1v1h-1zM14 96h1v1h-1zM90 98h2v1h-2zM97 98h2v1h-2zM90 99h1v1h-1zM94 101h1v1h-1zM11 102h1v1h-1zM13 103h1v1h-1zM9 106h1v1h-1zM13 112h1v1h-1zM90 114h2v1h-2zM88 115h1v1h-1zM88 116h1v1h-1zM95 116h1v1h-1zM96 120h1v1h-1z"/>
<path fill="#ed2f22" d="M64 16h1v1h-1zM64 17h1v1h-1zM72 49h1v1h-1zM43 52h1v1h-1zM35 53h1v1h-1zM79 57h1v1h-1zM83 61h1v1h-1zM87 61h1v1h-1zM22 62h1v1h-1zM27 64h1v1h-1zM48 64h1v1h-1zM90 65h1v1h-1zM59 66h1v1h-1zM32 67h1v1h-1zM35 67h2v1h-2zM57 67h2v1h-2zM18 69h1v1h-1zM47 69h1v1h-1zM52 71h1v1h-1zM87 71h1v1h-1zM92 71h1v1h-1zM49 75h1v1h-1zM84 75h1v1h-1zM91 75h1v1h-1zM24 76h1v1h-1zM34 77h1v1h-1zM40 78h2v1h-2zM72 78h1v1h-1zM18 80h1v1h-1zM61 80h1v1h-1zM26 82h2v1h-2zM40 82h1v1h-1zM71 82h1v1h-1zM84 82h1v1h-1zM65 83h1v1h-1zM70 83h1v1h-1zM82 83h1v1h-1zM92 83h2v1h-2zM96 83h1v1h-1zM70 84h1v1h-1zM80 84h2v1h-2zM12 85h1v1h-1zM50 85h2v1h-2zM90 85h1v1h-1zM15 86h1v1h-1zM17 86h1v1h-1zM90 86h1v1h-1zM12 87h1v1h-1zM82 87h1v1h-1zM84 87h1v1h-1zM50 88h1v1h-1zM82 88h1v1h-1zM47 89h1v1h-1zM61 89h1v1h-1zM23 92h1v1h-1zM28 92h1v1h-1zM46 92h1v1h-1zM70 92h1v1h-1zM91 93h1v1h-1zM86 95h1v1h-1zM12 97h1v1h-1zM93 98h1v1h-1zM9 100h1v1h-1zM29 100h1v1h-1zM89 100h1v1h-1zM30 102h1v1h-1zM91 104h1v1h-1zM46 106h1v1h-1zM75 106h1v1h-1zM86 108h1v1h-1zM97 108h1v1h-1zM95 109h1v1h-1zM17 111h1v1h-1zM26 113h1v1h-1zM83 117h1v1h-1zM81 120h1v1h-1zM87 123h2v1h-2zM99 126h1v1h-1zM98 128h1v1h-1z"/>
<path fill="#b10026" d="M65 16h1v1h-1zM22 39h1v1h-1zM57 49h1v1h-1zM16 64h1v1h-1zM28 64h1v1h-1zM16 65h1v1h-1zM51 70h1v1h-1zM86 70h1v1h-1zM21 72h1v1h-1zM40 77h1v1h-1zM13 78h1v1h-1zM71 83h1v1h-1zM14 85h1v1h-1zM82 90h1v1h-1zM62 91h1v1h-1zM26 92h1v1h-1zM39 92h1v1h-1zM84 92h1v1h-1zM67 95h1v1h-1zM10 97h1v1h-1zM9 98h1v1h-1zM28 98h1v1h-1zM25 99h1v1h-1zM72 102h1v1h-1zM93 103h1v1h-1zM17 112h1v1h-1zM54 116h1v1h-1zM87 119h1v1h-1zM87 127h1v1h-1zM54 134h1v1h-1zM61 135h1v1h-1z"/>
<path fill="#980026" d="M36 17h1v1h-1zM25 31h1v1h-1zM25 32h1v1h-1zM17 47h1v1h-1zM19 49h1v1h-1zM86 69h1v1h-1zM80 71h1v1h-1zM92 74h1v1h-1zM31 77h1v1h-1zM71 79h1v1h-1zM88 81h1v1h-1zM60 89h1v1h-1zM88 89h1v1h-1zM24 91h1v1h-1zM96 94h1v1h-1zM14 99h1v1h-1zM8 100h1v1h-1zM45 100h1v1h-1zM92 103h1v1h-1zM28 107h1v1h-1zM83 110h1v1h-1zM71 115h1v1h-1zM22 116h1v1h-1zM59 119h1v1h-1zM99 121h1v1h-1zM87 122h1v1h-1zM100 126h1v1h-1zM60 133h1v1h-1zM53 134h1v1h-1zM61 134h2v1h-2zM91 138h1v1h-1z"/>
<path fill="#fd7435" d="M37 17h1v1h-1zM24 38h1v1h-1zM26 38h1v1h-1zM24 39h1v1h-1zM78 39h1v1h-1zM32 43h1v1h-1zM25 45h1v1h-1zM22 47h1v1h-1zM21 48h1v1h-1zM72 48h1v1h-1zM83 48h1v1h-1zM73 49h1v1h-1zM44 50h1v1h-1zM56 50h1v1h-1zM74 50h1v1h-1zM54 51h1v1h-1zM74 51h1v1h-1zM24 52h2v1h-2zM32 53h1v1h-1zM50 53h1v1h-1zM51 54h1v1h-1zM26 55h1v1h-1zM34 55h1v1h-1zM70 55h1v1h-1zM75 55h1v1h-1zM80 56h1v1h-1zM47 58h1v1h-1zM67 58h1v1h-1zM78 58h2v1h-2zM22 60h1v1h-1zM72 61h1v1h-1zM87 62h1v1h-1zM89 62h1v1h-1zM61 63h1v1h-1zM83 64h1v1h-1zM89 64h1v1h-1zM32 65h1v1h-1zM59 65h1v1h-1zM61 65h1v1h-1zM47 66h1v1h-1zM81 66h2v1h-2zM19 69h1v1h-1zM49 69h1v1h-1zM70 69h1v1h-1zM24 70h1v1h-1zM60 70h1v1h-1zM74 70h1v1h-1zM85 70h1v1h-1zM56 71h1v1h-1zM62 71h2v1h-2zM56 72h1v1h-1zM58 72h1v1h-1zM61 72h1v1h-1zM39 74h1v1h-1zM48 74h1v1h-1zM51 74h1v1h-1zM80 74h2v1h-2zM84 74h1v1h-1zM25 75h1v1h-1zM37 77h1v1h-1zM35 78h1v1h-1zM44 78h1v1h-1zM49 78h1v1h-1zM71 78h1v1h-1zM79 78h1v1h-1zM36 79h1v1h-1zM57 79h1v1h-1zM62 79h1v1h-1zM81 79h1v1h-1zM48 80h1v1h-1zM70 80h1v1h-1zM16 81h1v1h-1zM18 81h1v1h-1zM24 81h1v1h-1zM30 81h1v1h-1zM41 81h1v1h-1zM38 82h1v1h-1zM46 82h1v1h-1zM85 82h1v1h-1zM88 82h1v1h-1zM37 83h1v1h-1zM63 83h1v1h-1zM65 84h1v1h-1zM69 84h1v1h-1zM89 84h1v1h-1zM92 84h1v1h-1zM49 85h1v1h-1zM80 85h1v1h-1zM87 86h1v1h-1zM18 87h1v1h-1zM28 87h1v1h-1zM26 88h1v1h-1zM30 88h1v1h-1zM41 88h1v1h-1zM94 88h1v1h-1zM10 90h1v1h-1zM24 90h1v1h-1zM43 90h1v1h-1zM77 90h1v1h-1zM88 90h1v1h-1zM34 91h1v1h-1zM45 91h1v1h-1zM16 92h1v1h-1zM85 92h1v1h-1zM17 93h2v1h-2zM68 94h1v1h-1zM92 94h1v1h-1zM95 94h1v1h-1zM18 95h1v1h-1zM85 95h1v1h-1zM92 95h1v1h-1zM96 95h1v1h-1zM13 97h1v1h-1zM21 97h1v1h-1zM45 97h1v1h-1zM23 98h1v1h-1zM10 99h1v1h-1zM34 99h1v1h-1zM31 100h1v1h-1zM93 100h1v1h-1zM29 101h1v1h-1zM31 101h1v1h-1zM87 102h1v1h-1zM9 103h1v1h-1zM94 103h1v1h-1zM14 105h2v1h-2zM88 106h1v1h-1zM12 107h1v1h-1zM94 107h1v1h-1zM100 107h1v1h-1zM18 109h1v1h-1zM87 109h1v1h-1zM14 110h1v1h-1zM17 110h1v1h-1zM81 110h1v1h-1zM98 110h1v1h-1zM92 111h1v1h-1zM83 116h1v1h-1zM20 117h1v1h-1zM16 118h1v1h-1zM17 119h1v1h-1zM97 119h1v1h-1zM89 120h1v1h-1zM93 121h1v1h-1zM93 122h1v1h-1zM99 125h1v1h-1zM85 126h1v1h-1zM97 128h1v1h-1zM57 132h1v1h-1zM90 138h1v1h-1z"/>
<path fill="#d41020" d="M65 17h1v1h-1zM26 32h1v1h-1zM84 43h1v1h-1zM87 51h1v1h-1zM35 54h1v1h-1zM49 55h1v1h-1zM47 56h1v1h-1zM90 60h1v1h-1zM84 61h1v1h-1zM90 64h1v1h-1zM52 70h1v1h-1zM88 70h1v1h-1zM22 71h1v1h-1zM80 73h2v1h-2zM40 75h1v1h-1zM93 75h1v1h-1zM67 76h1v1h-1zM83 76h1v1h-1zM29 79h1v1h-1zM94 82h1v1h-1zM41 85h1v1h-1zM12 86h1v1h-1zM97 86h1v1h-1zM88 87h1v1h-1zM81 88h1v1h-1zM76 89h1v1h-1zM56 90h1v1h-1zM25 93h1v1h-1zM10 98h1v1h-1zM81 98h1v1h-1zM12 99h1v1h-1zM15 99h1v1h-1zM12 100h1v1h-1zM34 100h1v1h-1zM38 100h1v1h-1zM46 101h1v1h-1zM69 101h1v1h-1zM91 101h1v1h-1zM47 102h1v1h-1zM24 104h1v1h-1zM92 104h1v1h-1zM74 105h1v1h-1zM72 106h1v1h-1zM77 106h1v1h-1zM17 107h1v1h-1zM77 107h1v1h-1zM81 108h1v1h-1zM87 110h1v1h-1zM18 111h1v1h-1zM75 111h1v1h-1zM28 112h1v1h-1zM54 115h1v1h-1zM72 115h1v1h-1zM19 116h1v1h-1zM87 118h1v1h-1zM27 121h1v1h-1zM76 122h1v1h-1zM21 123h1v1h-1zM69 123h1v1h-1zM94 124h1v1h-1zM90 131h1v1h-1z"/>
<path fill="#fec965" d="M56 22h1v1h-1zM43 25h1v1h-1zM66 26h1v1h-1zM75 26h1v1h-1zM75 27h1v1h-1zM35 28h2v1h-2zM28 29h1v1h-1zM65 30h1v1h-1zM28 31h1v1h-1zM41 31h1v1h-1zM58 31h1v1h-1zM71 32h1v1h-1zM63 33h1v1h-1zM29 34h1v1h-1zM68 34h1v1h-1zM70 34h1v1h-1zM73 34h2v1h-2zM79 34h1v1h-1zM26 35h1v1h-1zM30 35h1v1h-1zM70 35h1v1h-1zM73 35h1v1h-1zM80 35h1v1h-1zM40 36h1v1h-1zM42 36h1v1h-1zM44 36h2v1h-2zM75 36h2v1h-2zM29 37h2v1h-2zM43 37h1v1h-1zM49 37h1v1h-1zM62 37h1v1h-1zM44 38h5v1h-5zM61 38h1v1h-1zM31 39h1v1h-1zM36 39h1v1h-1zM41 39h1v1h-1zM47 39h1v1h-1zM60 39h1v1h-1zM25 40h1v1h-1zM30 40h1v1h-1zM45 40h2v1h-2zM70 40h2v1h-2zM74 40h1v1h-1zM29 41h1v1h-1zM34 41h1v1h-1zM42 41h1v1h-1zM45 41h1v1h-1zM62 41h1v1h-1zM80 41h1v1h-1zM82 41h1v1h-1zM30 42h1v1h-1zM57 42h1v1h-1zM78 42h1v1h-1zM22 43h1v1h-1zM38 43h1v1h-1zM43 43h2v1h-2zM68 43h1v1h-1zM23 44h1v1h-1zM38 44h1v1h-1zM41 44h1v1h-1zM47 44h1v1h-1zM55 44h1v1h-1zM71 44h1v1h-1zM22 45h2v1h-2zM53 45h1v1h-1zM28 46h1v1h-1zM35 46h1v1h-1zM60 46h1v1h-1zM62 46h1v1h-1zM74 46h2v1h-2zM80 46h1v1h-1zM46 47h1v1h-1zM50 47h1v1h-1zM71 47h2v1h-2zM23 48h1v1h-1zM43 48h1v1h-1zM53 48h1v1h-1zM62 48h2v1h-2zM70 48h1v1h-1zM77 48h1v1h-1zM23 49h1v1h-1zM25 49h2v1h-2zM44 49h1v1h-1zM64 49h1v1h-1zM66 49h1v1h-1zM68 49h1v1h-1zM79 49h1v1h-1zM86 49h1v1h-1zM37 50h1v1h-1zM46 50h1v1h-1zM61 50h1v1h-1zM68 50h1v1h-1zM47 51h1v1h-1zM52 51h1v1h-1zM63 51h1v1h-1zM79 51h1v1h-1zM49 52h1v1h-1zM53 52h1v1h-1zM70 52h1v1h-1zM21 53h2v1h-2zM37 53h1v1h-1zM48 53h1v1h-1zM82 53h1v1h-1zM58 54h1v1h-1zM64 54h1v1h-1zM79 54h1v1h-1zM87 54h1v1h-1zM46 55h1v1h-1zM57 55h1v1h-1zM66 55h1v1h-1zM72 55h1v1h-1zM84 55h1v1h-1zM21 56h1v1h-1zM55 56h1v1h-1zM62 56h1v1h-1zM69 56h1v1h-1zM32 57h1v1h-1zM51 57h1v1h-1zM62 57h1v1h-1zM65 57h1v1h-1zM27 58h1v1h-1zM36 58h1v1h-1zM40 58h1v1h-1zM87 58h1v1h-1zM35 59h1v1h-1zM73 59h1v1h-1zM77 59h1v1h-1zM88 59h1v1h-1zM33 60h1v1h-1zM41 60h1v1h-1zM58 60h1v1h-1zM66 60h1v1h-1zM74 60h1v1h-1zM35 61h1v1h-1zM50 61h1v1h-1zM74 61h1v1h-1zM78 61h2v1h-2zM44 62h2v1h-2zM50 62h1v1h-1zM60 62h1v1h-1zM66 62h1v1h-1zM81 62h1v1h-1zM18 63h1v1h-1zM34 63h1v1h-1zM37 63h1v1h-1zM44 63h1v1h-1zM48 63h1v1h-1zM58 63h1v1h-1zM34 64h1v1h-1zM41 64h1v1h-1zM44 64h3v1h-3zM66 64h1v1h-1zM78 64h1v1h-1zM87 64h1v1h-1zM19 65h1v1h-1zM24 65h1v1h-1zM36 65h1v1h-1zM44 65h1v1h-1zM52 65h1v1h-1zM62 65h1v1h-1zM73 65h2v1h-2zM88 65h1v1h-1zM43 66h1v1h-1zM45 66h1v1h-1zM62 66h1v1h-1zM78 66h1v1h-1zM21 67h1v1h-1zM26 67h1v1h-1zM39 67h1v1h-1zM43 67h1v1h-1zM49 67h1v1h-1zM68 67h1v1h-1zM79 67h3v1h-3zM83 67h2v1h-2zM27 68h1v1h-1zM39 68h1v1h-1zM61 68h1v1h-1zM35 69h1v1h-1zM35 70h1v1h-1zM38 70h1v1h-1zM44 70h1v1h-1zM66 70h1v1h-1zM32 71h1v1h-1zM38 71h1v1h-1zM49 71h1v1h-1zM77 71h1v1h-1zM44 72h1v1h-1zM53 72h2v1h-2zM70 72h1v1h-1zM77 72h1v1h-1zM84 72h1v1h-1zM93 72h1v1h-1zM52 73h1v1h-1zM55 73h1v1h-1zM71 73h1v1h-1zM76 73h1v1h-1zM93 73h1v1h-1zM16 74h1v1h-1zM18 74h1v1h-1zM26 74h1v1h-1zM59 74h1v1h-1zM75 74h2v1h-2zM18 75h1v1h-1zM21 75h1v1h-1zM53 75h1v1h-1zM58 75h2v1h-2zM27 76h1v1h-1zM54 76h1v1h-1zM64 76h1v1h-1zM17 77h1v1h-1zM21 77h1v1h-1zM52 77h1v1h-1zM58 77h1v1h-1zM70 77h1v1h-1zM86 77h1v1h-1zM50 78h1v1h-1zM52 78h1v1h-1zM59 78h1v1h-1zM86 78h1v1h-1zM92 78h1v1h-1zM14 79h1v1h-1zM16 79h1v1h-1zM23 79h2v1h-2zM26 79h1v1h-1zM42 79h1v1h-1zM73 79h1v1h-1zM24 80h1v1h-1zM35 80h1v1h-1zM76 80h1v1h-1zM79 80h1v1h-1zM76 81h1v1h-1zM86 81h1v1h-1zM32 82h1v1h-1zM53 82h1v1h-1zM61 82h2v1h-2zM79 82h2v1h-2zM30 83h1v1h-1zM75 83h1v1h-1zM79 83h1v1h-1zM44 84h1v1h-1zM93 84h1v1h-1zM20 85h1v1h-1zM27 85h1v1h-1zM85 85h2v1h-2zM96 85h1v1h-1zM21 86h1v1h-1zM27 86h1v1h-1zM57 86h1v1h-1zM66 86h1v1h-1zM70 86h1v1h-1zM74 86h1v1h-1zM77 86h1v1h-1zM85 86h1v1h-1zM96 86h1v1h-1zM71 87h1v1h-1zM19 88h1v1h-1zM12 89h1v1h-1zM86 89h1v1h-1zM31 90h1v1h-1zM85 90h1v1h-1zM95 90h1v1h-1zM19 91h1v1h-1zM22 91h1v1h-1zM30 91h1v1h-1zM93 91h1v1h-1zM15 92h1v1h-1zM96 92h1v1h-1zM12 94h1v1h-1zM16 94h1v1h-1zM15 95h2v1h-2zM24 95h1v1h-1zM85 96h1v1h-1zM16 97h1v1h-1zM18 97h1v1h-1zM91 97h1v1h-1zM98 97h1v1h-1zM18 98h1v1h-1zM73 101h1v1h-1zM12 102h1v1h-1zM26 103h1v1h-1zM89 104h1v1h-1zM9 105h1v1h-1zM90 106h1v1h-1zM9 107h1v1h-1zM29 108h1v1h-1zM12 111h1v1h-1zM22 111h1v1h-1zM12 112h1v1h-1zM87 113h2v1h-2zM91 113h1v1h-1zM93 113h1v1h-1zM13 114h1v1h-1zM100 114h1v1h-1zM99 115h1v1h-1zM17 117h1v1h-1zM96 121h1v1h-1z"/>
<path fill="#fec25d" d="M76 28h1v1h-1zM28 30h2v1h-2zM29 31h2v1h-2zM59 31h1v1h-1zM41 32h1v1h-1zM64 33h1v1h-1zM72 34h1v1h-1zM78 35h1v1h-1zM26 36h1v1h-1zM34 36h1v1h-1zM56 36h1v1h-1zM66 36h1v1h-1zM70 36h1v1h-1zM77 36h1v1h-1zM34 37h2v1h-2zM70 37h1v1h-1zM40 38h1v1h-1zM43 38h1v1h-1zM30 39h1v1h-1zM33 39h1v1h-1zM35 39h1v1h-1zM48 39h2v1h-2zM51 39h1v1h-1zM56 39h3v1h-3zM61 39h1v1h-1zM42 40h1v1h-1zM54 40h1v1h-1zM33 41h1v1h-1zM64 41h1v1h-1zM69 41h1v1h-1zM75 41h1v1h-1zM78 41h2v1h-2zM35 42h1v1h-1zM51 42h1v1h-1zM62 42h1v1h-1zM77 42h1v1h-1zM25 43h1v1h-1zM27 43h1v1h-1zM48 43h3v1h-3zM53 43h1v1h-1zM56 43h1v1h-1zM69 43h3v1h-3zM73 43h1v1h-1zM76 43h1v1h-1zM80 43h1v1h-1zM37 44h1v1h-1zM42 44h1v1h-1zM48 44h1v1h-1zM70 44h1v1h-1zM84 44h1v1h-1zM28 45h1v1h-1zM64 45h1v1h-1zM72 45h1v1h-1zM29 46h1v1h-1zM45 46h1v1h-1zM73 46h1v1h-1zM76 46h1v1h-1zM59 47h1v1h-1zM61 47h1v1h-1zM64 47h1v1h-1zM68 47h1v1h-1zM77 47h1v1h-1zM80 47h1v1h-1zM84 47h1v1h-1zM35 48h1v1h-1zM47 48h1v1h-1zM69 48h1v1h-1zM73 48h1v1h-1zM39 49h2v1h-2zM42 49h1v1h-1zM61 49h2v1h-2zM80 49h1v1h-1zM23 50h2v1h-2zM26 50h1v1h-1zM33 50h1v1h-1zM39 50h1v1h-1zM45 50h1v1h-1zM60 50h1v1h-1zM76 50h1v1h-1zM80 50h1v1h-1zM86 50h1v1h-1zM30 51h1v1h-1zM33 51h2v1h-2zM46 51h1v1h-1zM58 51h1v1h-1zM67 51h1v1h-1zM76 51h1v1h-1zM50 52h1v1h-1zM52 52h1v1h-1zM73 52h1v1h-1zM82 52h2v1h-2zM52 53h1v1h-1zM56 53h1v1h-1zM58 53h1v1h-1zM72 53h1v1h-1zM81 54h2v1h-2zM86 54h1v1h-1zM42 55h1v1h-1zM63 55h1v1h-1zM73 55h1v1h-1zM72 56h1v1h-1zM88 56h1v1h-1zM33 57h1v1h-1zM39 57h2v1h-2zM50 57h1v1h-1zM87 57h1v1h-1zM25 58h1v1h-1zM28 58h2v1h-2zM41 58h1v1h-1zM51 58h1v1h-1zM59 58h1v1h-1zM76 58h1v1h-1zM82 58h1v1h-1zM23 59h1v1h-1zM25 59h1v1h-1zM43 59h1v1h-1zM54 59h1v1h-1zM64 59h1v1h-1zM79 59h1v1h-1zM83 59h1v1h-1zM85 59h1v1h-1zM87 59h1v1h-1zM89 59h1v1h-1zM35 60h1v1h-1zM52 60h1v1h-1zM82 60h1v1h-1zM29 61h1v1h-1zM36 61h1v1h-1zM47 61h1v1h-1zM49 61h1v1h-1zM65 61h1v1h-1zM80 61h2v1h-2zM26 62h1v1h-1zM40 62h1v1h-1zM58 62h1v1h-1zM61 62h1v1h-1zM65 62h1v1h-1zM69 62h1v1h-1zM77 62h2v1h-2zM82 62h1v1h-1zM46 63h1v1h-1zM64 63h1v1h-1zM81 63h1v1h-1zM36 64h2v1h-2zM55 64h1v1h-1zM58 64h1v1h-1zM63 64h1v1h-1zM70 64h1v1h-1zM75 64h1v1h-1zM88 64h1v1h-1zM20 65h1v1h-1zM41 65h1v1h-1zM45 65h1v1h-1zM55 65h3v1h-3zM71 65h1v1h-1zM75 65h1v1h-1zM86 65h1v1h-1zM21 66h1v1h-1zM49 66h1v1h-1zM66 66h3v1h-3zM84 66h1v1h-1zM90 66h1v1h-1zM28 67h1v1h-1zM44 67h1v1h-1zM75 67h1v1h-1zM87 67h1v1h-1zM41 68h1v1h-1zM68 68h1v1h-1zM73 68h1v1h-1zM62 69h1v1h-1zM66 69h2v1h-2zM80 69h1v1h-1zM76 70h1v1h-1zM82 70h2v1h-2zM34 71h1v1h-1zM65 71h1v1h-1zM76 71h1v1h-1zM75 72h1v1h-1zM26 73h1v1h-1zM57 73h2v1h-2zM69 73h1v1h-1zM74 73h1v1h-1zM89 73h1v1h-1zM17 74h1v1h-1zM27 74h1v1h-1zM38 74h1v1h-1zM43 74h1v1h-1zM52 74h1v1h-1zM55 74h2v1h-2zM69 74h3v1h-3zM86 74h2v1h-2zM16 75h1v1h-1zM27 75h1v1h-1zM55 75h1v1h-1zM75 75h1v1h-1zM88 75h1v1h-1zM17 76h2v1h-2zM37 76h2v1h-2zM58 76h1v1h-1zM85 76h1v1h-1zM89 76h1v1h-1zM15 77h2v1h-2zM18 77h1v1h-1zM51 77h1v1h-1zM59 77h1v1h-1zM69 77h1v1h-1zM76 77h1v1h-1zM92 77h1v1h-1zM27 78h1v1h-1zM91 78h1v1h-1zM13 79h1v1h-1zM15 79h1v1h-1zM22 79h1v1h-1zM27 79h1v1h-1zM85 79h1v1h-1zM90 79h1v1h-1zM52 80h1v1h-1zM85 80h1v1h-1zM19 81h3v1h-3zM34 81h1v1h-1zM53 81h1v1h-1zM62 81h1v1h-1zM74 81h1v1h-1zM52 82h1v1h-1zM18 83h1v1h-1zM29 83h1v1h-1zM32 83h2v1h-2zM38 83h1v1h-1zM87 83h1v1h-1zM27 84h1v1h-1zM31 84h1v1h-1zM84 84h1v1h-1zM86 84h1v1h-1zM66 85h1v1h-1zM73 85h1v1h-1zM46 86h1v1h-1zM76 86h1v1h-1zM14 87h1v1h-1zM20 87h1v1h-1zM78 87h1v1h-1zM12 88h2v1h-2zM34 88h1v1h-1zM91 88h1v1h-1zM11 89h1v1h-1zM14 89h1v1h-1zM18 89h1v1h-1zM20 89h2v1h-2zM78 89h1v1h-1zM96 89h1v1h-1zM11 90h1v1h-1zM21 90h1v1h-1zM72 90h1v1h-1zM84 90h1v1h-1zM87 90h1v1h-1zM31 91h1v1h-1zM69 91h1v1h-1zM85 91h2v1h-2zM94 91h1v1h-1zM13 92h1v1h-1zM19 92h1v1h-1zM30 92h1v1h-1zM87 92h1v1h-1zM95 92h1v1h-1zM13 93h1v1h-1zM19 93h1v1h-1zM89 93h1v1h-1zM14 95h1v1h-1zM33 96h1v1h-1zM23 97h1v1h-1zM85 97h1v1h-1zM90 97h1v1h-1zM17 98h1v1h-1zM84 99h1v1h-1zM11 101h1v1h-1zM97 101h1v1h-1zM27 102h1v1h-1zM96 102h1v1h-1zM10 104h1v1h-1zM34 104h1v1h-1zM95 104h1v1h-1zM97 104h1v1h-1zM10 105h1v1h-1zM20 105h1v1h-1zM95 105h2v1h-2zM7 106h2v1h-2zM89 106h1v1h-1zM91 106h1v1h-1zM91 107h1v1h-1zM13 111h1v1h-1zM32 112h1v1h-1zM86 112h1v1h-1zM92 112h1v1h-1zM87 114h1v1h-1zM94 114h1v1h-1zM95 115h1v1h-1zM95 120h1v1h-1zM65 125h1v1h-1zM85 125h2v1h-2zM82 128h1v1h-1z"/>
<path fill="#feab49" d="M42 31h1v1h-1zM65 31h1v1h-1zM65 33h1v1h-1zM25 36h1v1h-1zM71 36h1v1h-1zM79 36h2v1h-2zM33 37h1v1h-1zM44 37h2v1h-2zM76 37h1v1h-1zM78 37h2v1h-2zM33 38h2v1h-2zM42 38h1v1h-1zM79 38h1v1h-1zM81 38h1v1h-1zM28 40h2v1h-2zM59 41h1v1h-1zM63 41h1v1h-1zM70 41h1v1h-1zM23 42h2v1h-2zM64 42h1v1h-1zM31 43h1v1h-1zM51 43h1v1h-1zM26 44h1v1h-1zM33 44h1v1h-1zM51 44h1v1h-1zM53 44h1v1h-1zM62 44h1v1h-1zM27 45h1v1h-1zM30 45h1v1h-1zM33 45h1v1h-1zM63 45h1v1h-1zM82 45h2v1h-2zM34 46h1v1h-1zM23 47h1v1h-1zM34 47h2v1h-2zM56 47h1v1h-1zM58 47h1v1h-1zM82 47h2v1h-2zM22 48h1v1h-1zM33 48h2v1h-2zM49 48h1v1h-1zM61 48h1v1h-1zM84 48h1v1h-1zM20 49h1v1h-1zM35 49h1v1h-1zM65 49h1v1h-1zM76 49h1v1h-1zM21 50h1v1h-1zM40 50h3v1h-3zM81 50h1v1h-1zM25 51h1v1h-1zM37 51h1v1h-1zM42 51h1v1h-1zM68 51h2v1h-2zM86 51h1v1h-1zM34 52h1v1h-1zM42 52h1v1h-1zM51 52h1v1h-1zM58 52h1v1h-1zM71 52h1v1h-1zM74 52h1v1h-1zM29 53h1v1h-1zM42 53h1v1h-1zM65 53h1v1h-1zM30 54h1v1h-1zM42 54h1v1h-1zM52 54h1v1h-1zM68 54h1v1h-1zM77 54h1v1h-1zM71 55h1v1h-1zM78 55h1v1h-1zM31 56h1v1h-1zM51 56h1v1h-1zM63 56h1v1h-1zM71 56h1v1h-1zM73 56h1v1h-1zM87 56h1v1h-1zM36 57h1v1h-1zM38 57h1v1h-1zM53 57h1v1h-1zM59 57h1v1h-1zM22 58h1v1h-1zM38 58h1v1h-1zM42 58h2v1h-2zM61 58h1v1h-1zM64 58h2v1h-2zM74 58h1v1h-1zM86 58h1v1h-1zM50 59h1v1h-1zM84 59h1v1h-1zM25 60h1v1h-1zM31 60h1v1h-1zM42 60h1v1h-1zM77 60h1v1h-1zM89 60h1v1h-1zM18 61h1v1h-1zM46 61h1v1h-1zM48 61h1v1h-1zM55 61h1v1h-1zM73 61h1v1h-1zM89 61h1v1h-1zM38 62h1v1h-1zM41 62h1v1h-1zM49 62h1v1h-1zM57 62h1v1h-1zM70 62h1v1h-1zM74 62h1v1h-1zM17 63h1v1h-1zM24 63h1v1h-1zM42 63h1v1h-1zM57 63h1v1h-1zM60 63h1v1h-1zM65 63h1v1h-1zM51 64h1v1h-1zM59 64h1v1h-1zM65 64h1v1h-1zM79 64h1v1h-1zM18 65h1v1h-1zM37 65h1v1h-1zM54 65h1v1h-1zM28 66h1v1h-1zM40 66h1v1h-1zM56 66h1v1h-1zM71 66h2v1h-2zM77 66h1v1h-1zM79 66h1v1h-1zM38 67h1v1h-1zM45 67h1v1h-1zM55 67h1v1h-1zM64 67h1v1h-1zM77 67h1v1h-1zM86 67h1v1h-1zM90 67h1v1h-1zM20 68h2v1h-2zM56 68h1v1h-1zM74 68h1v1h-1zM92 68h1v1h-1zM20 69h2v1h-2zM52 69h1v1h-1zM65 69h1v1h-1zM40 70h1v1h-1zM55 70h2v1h-2zM75 70h1v1h-1zM36 71h1v1h-1zM39 71h1v1h-1zM64 71h1v1h-1zM15 72h1v1h-1zM32 72h1v1h-1zM40 72h1v1h-1zM63 72h1v1h-1zM66 72h1v1h-1zM68 72h1v1h-1zM71 72h1v1h-1zM78 72h1v1h-1zM85 72h1v1h-1zM15 73h1v1h-1zM32 73h2v1h-2zM48 73h1v1h-1zM66 73h1v1h-1zM72 73h1v1h-1zM82 73h2v1h-2zM87 73h1v1h-1zM34 74h2v1h-2zM41 74h1v1h-1zM61 74h1v1h-1zM63 74h1v1h-1zM68 74h1v1h-1zM73 74h1v1h-1zM78 74h1v1h-1zM83 74h1v1h-1zM88 74h1v1h-1zM19 75h1v1h-1zM28 75h2v1h-2zM62 75h2v1h-2zM69 75h2v1h-2zM72 75h1v1h-1zM29 76h1v1h-1zM35 76h2v1h-2zM51 76h1v1h-1zM62 76h2v1h-2zM72 76h1v1h-1zM79 76h1v1h-1zM94 76h1v1h-1zM20 77h1v1h-1zM57 77h1v1h-1zM75 77h1v1h-1zM91 77h1v1h-1zM19 78h1v1h-1zM24 78h3v1h-3zM78 78h1v1h-1zM85 78h1v1h-1zM89 78h1v1h-1zM20 79h2v1h-2zM33 79h1v1h-1zM41 79h1v1h-1zM56 79h1v1h-1zM69 79h1v1h-1zM76 79h1v1h-1zM83 79h2v1h-2zM88 79h2v1h-2zM19 80h1v1h-1zM26 80h1v1h-1zM34 80h1v1h-1zM39 80h1v1h-1zM41 80h1v1h-1zM75 80h1v1h-1zM86 80h1v1h-1zM89 80h1v1h-1zM33 81h1v1h-1zM75 81h1v1h-1zM18 82h1v1h-1zM21 82h3v1h-3zM25 82h1v1h-1zM87 82h1v1h-1zM19 83h1v1h-1zM88 83h1v1h-1zM16 84h1v1h-1zM25 84h2v1h-2zM33 84h1v1h-1zM18 85h1v1h-1zM70 85h1v1h-1zM58 86h1v1h-1zM67 86h3v1h-3zM73 86h1v1h-1zM93 86h1v1h-1zM24 87h1v1h-1zM48 87h1v1h-1zM63 87h1v1h-1zM92 87h1v1h-1zM31 88h2v1h-2zM42 88h1v1h-1zM17 89h1v1h-1zM26 89h1v1h-1zM69 89h1v1h-1zM73 89h1v1h-1zM15 90h1v1h-1zM34 90h1v1h-1zM71 90h1v1h-1zM97 90h1v1h-1zM90 91h2v1h-2zM97 91h1v1h-1zM93 92h1v1h-1zM61 93h1v1h-1zM93 93h1v1h-1zM11 94h1v1h-1zM20 94h1v1h-1zM23 94h1v1h-1zM98 94h1v1h-1zM11 95h1v1h-1zM84 95h1v1h-1zM88 95h1v1h-1zM95 95h1v1h-1zM90 96h1v1h-1zM31 97h2v1h-2zM92 97h1v1h-1zM89 98h1v1h-1zM32 99h1v1h-1zM83 99h1v1h-1zM85 99h1v1h-1zM32 100h1v1h-1zM97 100h1v1h-1zM22 102h1v1h-1zM33 102h1v1h-1zM14 103h1v1h-1zM27 103h1v1h-1zM34 103h1v1h-1zM15 104h1v1h-1zM18 105h1v1h-1zM21 105h1v1h-1zM11 106h1v1h-1zM93 106h1v1h-1zM9 108h1v1h-1zM14 108h1v1h-1zM82 108h1v1h-1zM91 108h1v1h-1zM10 109h1v1h-1zM16 109h1v1h-1zM20 109h1v1h-1zM81 109h2v1h-2zM10 110h1v1h-1zM20 110h1v1h-1zM10 114h3v1h-3zM15 115h1v1h-1zM100 116h1v1h-1zM90 117h1v1h-1zM89 119h1v1h-1zM96 119h1v1h-1zM87 124h1v1h-1zM98 124h1v1h-1zM88 125h1v1h-1zM96 125h1v1h-1zM64 126h1v1h-1zM82 127h1v1h-1zM91 129h1v1h-1zM78 140h1v1h-1z"/>
<path fill="#feba54" d="M43 31h1v1h-1zM60 31h1v1h-1zM66 31h1v1h-1zM43 32h1v1h-1zM63 32h2v1h-2zM71 33h1v1h-1zM65 34h1v1h-1zM25 35h1v1h-1zM71 35h1v1h-1zM74 35h1v1h-1zM79 35h1v1h-1zM72 36h1v1h-1zM26 37h1v1h-1zM40 37h1v1h-1zM50 37h1v1h-1zM75 37h1v1h-1zM77 37h1v1h-1zM28 38h2v1h-2zM35 38h1v1h-1zM49 38h1v1h-1zM51 38h1v1h-1zM80 38h1v1h-1zM32 39h1v1h-1zM50 39h1v1h-1zM55 39h1v1h-1zM80 39h2v1h-2zM26 40h1v1h-1zM60 40h1v1h-1zM80 40h1v1h-1zM22 41h1v1h-1zM24 41h1v1h-1zM57 41h1v1h-1zM83 41h1v1h-1zM22 42h1v1h-1zM52 42h1v1h-1zM68 42h1v1h-1zM71 42h1v1h-1zM82 42h1v1h-1zM34 43h1v1h-1zM37 43h1v1h-1zM42 43h1v1h-1zM62 43h1v1h-1zM64 43h1v1h-1zM72 43h1v1h-1zM77 43h1v1h-1zM27 44h1v1h-1zM54 44h1v1h-1zM64 44h1v1h-1zM69 44h1v1h-1zM72 44h1v1h-1zM74 44h1v1h-1zM29 45h1v1h-1zM50 45h1v1h-1zM62 45h1v1h-1zM66 45h1v1h-1zM70 45h1v1h-1zM74 45h1v1h-1zM84 45h1v1h-1zM27 46h1v1h-1zM58 46h1v1h-1zM70 46h1v1h-1zM77 46h1v1h-1zM81 46h1v1h-1zM36 47h1v1h-1zM32 48h1v1h-1zM36 48h1v1h-1zM59 48h1v1h-1zM64 48h1v1h-1zM66 48h1v1h-1zM76 48h1v1h-1zM32 49h1v1h-1zM41 49h1v1h-1zM43 49h1v1h-1zM69 49h1v1h-1zM74 49h2v1h-2zM78 49h1v1h-1zM22 50h1v1h-1zM25 50h1v1h-1zM62 50h1v1h-1zM69 50h1v1h-1zM71 50h1v1h-1zM79 50h1v1h-1zM26 51h1v1h-1zM41 51h1v1h-1zM53 51h1v1h-1zM71 51h1v1h-1zM75 51h1v1h-1zM78 51h1v1h-1zM85 51h1v1h-1zM29 52h1v1h-1zM33 52h1v1h-1zM38 52h1v1h-1zM64 52h1v1h-1zM86 52h1v1h-1zM23 54h1v1h-1zM37 54h1v1h-1zM47 54h1v1h-1zM74 54h1v1h-1zM80 54h1v1h-1zM23 55h1v1h-1zM38 55h1v1h-1zM44 55h1v1h-1zM54 55h1v1h-1zM69 55h1v1h-1zM88 55h1v1h-1zM22 56h1v1h-1zM38 56h1v1h-1zM43 56h1v1h-1zM82 56h1v1h-1zM20 57h1v1h-1zM43 57h1v1h-1zM52 57h1v1h-1zM61 57h1v1h-1zM69 57h1v1h-1zM75 57h1v1h-1zM82 57h1v1h-1zM18 58h1v1h-1zM20 58h1v1h-1zM24 58h1v1h-1zM30 58h1v1h-1zM62 58h2v1h-2zM75 58h1v1h-1zM85 58h1v1h-1zM74 59h3v1h-3zM78 59h1v1h-1zM80 59h1v1h-1zM18 60h1v1h-1zM26 60h1v1h-1zM32 60h1v1h-1zM51 60h1v1h-1zM64 60h1v1h-1zM26 61h1v1h-1zM30 61h1v1h-1zM40 61h1v1h-1zM64 61h1v1h-1zM82 61h1v1h-1zM21 62h1v1h-1zM35 62h3v1h-3zM64 62h1v1h-1zM76 62h1v1h-1zM79 62h1v1h-1zM38 63h2v1h-2zM41 63h1v1h-1zM47 63h1v1h-1zM62 63h1v1h-1zM66 63h1v1h-1zM70 63h1v1h-1zM75 63h1v1h-1zM82 63h1v1h-1zM26 64h1v1h-1zM54 64h1v1h-1zM56 64h1v1h-1zM62 64h1v1h-1zM64 64h1v1h-1zM72 64h1v1h-1zM35 65h1v1h-1zM40 65h1v1h-1zM65 65h1v1h-1zM78 65h1v1h-1zM23 66h1v1h-1zM26 66h1v1h-1zM54 66h1v1h-1zM70 66h1v1h-1zM89 66h1v1h-1zM23 67h1v1h-1zM40 67h2v1h-2zM66 67h1v1h-1zM70 67h1v1h-1zM82 67h1v1h-1zM85 67h1v1h-1zM17 68h1v1h-1zM34 68h1v1h-1zM45 68h1v1h-1zM50 68h1v1h-1zM63 68h1v1h-1zM61 69h1v1h-1zM68 69h2v1h-2zM37 70h1v1h-1zM43 70h1v1h-1zM45 70h1v1h-1zM67 70h1v1h-1zM16 71h1v1h-1zM27 71h1v1h-1zM37 71h1v1h-1zM46 71h1v1h-1zM48 71h1v1h-1zM66 71h1v1h-1zM69 71h2v1h-2zM75 71h1v1h-1zM83 71h2v1h-2zM89 71h1v1h-1zM16 72h1v1h-1zM28 72h1v1h-1zM30 72h1v1h-1zM37 72h1v1h-1zM48 72h2v1h-2zM64 72h2v1h-2zM69 72h1v1h-1zM76 72h1v1h-1zM92 72h1v1h-1zM30 73h1v1h-1zM36 73h2v1h-2zM41 73h1v1h-1zM44 73h1v1h-1zM56 73h1v1h-1zM64 73h1v1h-1zM15 74h1v1h-1zM19 74h1v1h-1zM65 74h1v1h-1zM14 75h1v1h-1zM17 75h1v1h-1zM22 75h1v1h-1zM35 75h1v1h-1zM14 76h1v1h-1zM20 76h1v1h-1zM23 76h1v1h-1zM33 76h2v1h-2zM59 76h1v1h-1zM92 76h1v1h-1zM19 77h1v1h-1zM50 77h1v1h-1zM53 77h1v1h-1zM85 77h1v1h-1zM21 78h1v1h-1zM58 78h1v1h-1zM60 78h1v1h-1zM77 78h1v1h-1zM94 78h1v1h-1zM35 79h1v1h-1zM43 79h1v1h-1zM53 79h1v1h-1zM78 79h1v1h-1zM14 80h1v1h-1zM21 80h1v1h-1zM42 80h1v1h-1zM84 80h1v1h-1zM95 80h1v1h-1zM35 81h1v1h-1zM81 81h1v1h-1zM20 82h1v1h-1zM34 82h1v1h-1zM86 82h1v1h-1zM43 83h1v1h-1zM45 83h1v1h-1zM61 83h1v1h-1zM45 84h1v1h-1zM60 84h1v1h-1zM73 84h1v1h-1zM87 84h1v1h-1zM25 85h1v1h-1zM28 85h1v1h-1zM60 85h1v1h-1zM87 85h1v1h-1zM22 86h1v1h-1zM25 86h1v1h-1zM47 86h2v1h-2zM86 86h1v1h-1zM15 87h1v1h-1zM70 87h1v1h-1zM77 87h1v1h-1zM91 87h1v1h-1zM24 88h1v1h-1zM23 89h3v1h-3zM79 89h1v1h-1zM12 90h1v1h-1zM32 90h1v1h-1zM91 90h1v1h-1zM94 90h1v1h-1zM32 91h1v1h-1zM94 92h1v1h-1zM22 93h1v1h-1zM13 94h1v1h-1zM15 94h1v1h-1zM24 94h1v1h-1zM88 94h1v1h-1zM13 95h1v1h-1zM89 95h1v1h-1zM94 95h1v1h-1zM17 96h1v1h-1zM19 96h1v1h-1zM89 96h1v1h-1zM95 96h1v1h-1zM98 96h1v1h-1zM33 97h1v1h-1zM33 98h1v1h-1zM85 98h1v1h-1zM96 98h1v1h-1zM96 99h1v1h-1zM33 103h1v1h-1zM94 104h1v1h-1zM11 105h2v1h-2zM90 105h1v1h-1zM10 106h1v1h-1zM94 106h1v1h-1zM97 106h1v1h-1zM7 107h1v1h-1zM89 107h1v1h-1zM30 108h1v1h-1zM83 108h1v1h-1zM92 108h1v1h-1zM22 110h1v1h-1zM76 110h1v1h-1zM98 111h1v1h-1zM98 112h1v1h-1zM87 115h1v1h-1zM82 116h1v1h-1zM94 116h1v1h-1zM18 117h2v1h-2zM96 117h1v1h-1zM17 118h2v1h-2zM92 120h1v1h-1zM89 125h1v1h-1z"/>
<path fill="#feb24c" d="M42 32h1v1h-1zM67 33h1v1h-1zM71 34h1v1h-1zM72 35h1v1h-1zM78 36h1v1h-1zM25 37h1v1h-1zM31 37h1v1h-1zM41 37h2v1h-2zM30 38h1v1h-1zM41 38h1v1h-1zM62 38h1v1h-1zM29 39h1v1h-1zM24 40h1v1h-1zM56 40h1v1h-1zM58 40h2v1h-2zM23 41h1v1h-1zM28 41h1v1h-1zM43 41h2v1h-2zM77 41h1v1h-1zM43 42h3v1h-3zM69 42h2v1h-2zM76 42h1v1h-1zM81 42h1v1h-1zM83 42h1v1h-1zM52 43h1v1h-1zM83 43h1v1h-1zM31 44h1v1h-1zM50 44h1v1h-1zM63 44h1v1h-1zM83 44h1v1h-1zM24 45h1v1h-1zM52 45h1v1h-1zM80 45h1v1h-1zM23 46h3v1h-3zM30 46h1v1h-1zM59 46h1v1h-1zM63 46h1v1h-1zM67 46h1v1h-1zM84 46h2v1h-2zM31 47h1v1h-1zM49 47h1v1h-1zM60 47h1v1h-1zM70 47h1v1h-1zM76 47h1v1h-1zM54 48h1v1h-1zM80 48h1v1h-1zM22 49h1v1h-1zM53 49h1v1h-1zM60 49h1v1h-1zM77 49h1v1h-1zM85 49h1v1h-1zM36 50h1v1h-1zM53 50h1v1h-1zM75 50h1v1h-1zM85 50h1v1h-1zM22 51h1v1h-1zM38 51h1v1h-1zM45 51h1v1h-1zM57 51h1v1h-1zM27 52h1v1h-1zM30 52h1v1h-1zM32 52h1v1h-1zM65 52h1v1h-1zM28 53h1v1h-1zM57 53h1v1h-1zM29 54h1v1h-1zM44 54h1v1h-1zM67 54h1v1h-1zM71 54h1v1h-1zM30 55h3v1h-3zM74 55h1v1h-1zM32 56h1v1h-1zM44 56h2v1h-2zM59 56h2v1h-2zM65 56h1v1h-1zM22 57h2v1h-2zM25 57h2v1h-2zM55 57h1v1h-1zM85 57h1v1h-1zM31 58h1v1h-1zM39 58h1v1h-1zM50 58h1v1h-1zM52 58h1v1h-1zM77 58h1v1h-1zM89 58h1v1h-1zM18 59h1v1h-1zM24 59h1v1h-1zM31 59h1v1h-1zM42 59h1v1h-1zM47 59h1v1h-1zM86 59h1v1h-1zM20 60h1v1h-1zM59 60h1v1h-1zM86 60h1v1h-1zM21 61h1v1h-1zM25 61h1v1h-1zM39 61h1v1h-1zM61 61h1v1h-1zM69 61h1v1h-1zM18 62h2v1h-2zM31 62h1v1h-1zM39 62h1v1h-1zM75 62h1v1h-1zM33 63h1v1h-1zM43 63h1v1h-1zM54 63h1v1h-1zM56 63h1v1h-1zM74 63h1v1h-1zM79 63h1v1h-1zM18 64h1v1h-1zM38 64h2v1h-2zM43 64h1v1h-1zM52 64h1v1h-1zM57 64h1v1h-1zM71 64h1v1h-1zM74 64h1v1h-1zM86 64h1v1h-1zM21 65h1v1h-1zM23 65h1v1h-1zM43 65h1v1h-1zM50 65h1v1h-1zM53 65h1v1h-1zM77 65h1v1h-1zM27 66h1v1h-1zM55 66h1v1h-1zM22 67h1v1h-1zM37 67h1v1h-1zM47 67h2v1h-2zM89 67h1v1h-1zM38 68h1v1h-1zM44 68h1v1h-1zM49 68h1v1h-1zM78 68h1v1h-1zM32 69h1v1h-1zM38 69h1v1h-1zM41 69h1v1h-1zM45 69h1v1h-1zM54 69h1v1h-1zM60 69h1v1h-1zM26 70h1v1h-1zM46 70h1v1h-1zM65 70h1v1h-1zM84 70h1v1h-1zM90 70h1v1h-1zM30 71h1v1h-1zM41 71h1v1h-1zM45 71h1v1h-1zM78 71h1v1h-1zM90 71h1v1h-1zM19 72h1v1h-1zM26 72h1v1h-1zM36 72h1v1h-1zM89 72h1v1h-1zM19 73h1v1h-1zM27 73h1v1h-1zM29 73h1v1h-1zM31 73h1v1h-1zM62 73h1v1h-1zM65 73h1v1h-1zM67 73h2v1h-2zM78 73h1v1h-1zM86 73h1v1h-1zM88 73h1v1h-1zM25 74h1v1h-1zM31 74h1v1h-1zM62 74h1v1h-1zM74 74h1v1h-1zM77 74h1v1h-1zM94 74h1v1h-1zM15 75h1v1h-1zM26 75h1v1h-1zM60 75h1v1h-1zM74 75h1v1h-1zM19 76h1v1h-1zM71 76h1v1h-1zM71 77h1v1h-1zM77 77h1v1h-1zM89 77h1v1h-1zM20 78h1v1h-1zM28 78h1v1h-1zM53 78h1v1h-1zM76 78h1v1h-1zM50 79h1v1h-1zM82 79h1v1h-1zM13 80h1v1h-1zM20 80h1v1h-1zM40 80h1v1h-1zM51 80h1v1h-1zM53 80h1v1h-1zM81 80h2v1h-2zM94 80h1v1h-1zM29 81h1v1h-1zM61 81h1v1h-1zM90 81h1v1h-1zM30 82h1v1h-1zM44 82h2v1h-2zM25 83h1v1h-1zM31 83h1v1h-1zM51 83h1v1h-1zM86 83h1v1h-1zM18 84h2v1h-2zM32 84h1v1h-1zM43 84h1v1h-1zM79 84h1v1h-1zM95 84h1v1h-1zM31 85h1v1h-1zM42 85h2v1h-2zM45 85h2v1h-2zM56 85h1v1h-1zM61 85h1v1h-1zM67 85h1v1h-1zM88 85h1v1h-1zM20 86h1v1h-1zM78 86h1v1h-1zM92 86h1v1h-1zM96 87h1v1h-1zM13 89h1v1h-1zM16 89h1v1h-1zM40 89h1v1h-1zM84 89h1v1h-1zM91 89h1v1h-1zM14 90h1v1h-1zM22 90h1v1h-1zM30 90h1v1h-1zM48 90h1v1h-1zM69 90h1v1h-1zM79 91h1v1h-1zM11 92h1v1h-1zM11 93h1v1h-1zM89 94h1v1h-1zM93 94h1v1h-1zM19 95h1v1h-1zM20 96h1v1h-1zM84 96h1v1h-1zM19 97h1v1h-1zM84 97h1v1h-1zM34 98h1v1h-1zM84 98h1v1h-1zM97 99h1v1h-1zM10 100h1v1h-1zM17 100h1v1h-1zM10 101h1v1h-1zM74 101h1v1h-1zM10 102h1v1h-1zM88 102h1v1h-1zM10 103h1v1h-1zM16 103h1v1h-1zM16 104h1v1h-1zM8 105h1v1h-1zM89 105h1v1h-1zM93 105h1v1h-1zM98 105h1v1h-1zM21 106h1v1h-1zM76 107h1v1h-1zM94 108h1v1h-1zM93 112h1v1h-1zM11 113h1v1h-1zM99 113h1v1h-1zM91 116h2v1h-2zM96 116h1v1h-1zM95 117h1v1h-1zM97 117h1v1h-1zM93 120h1v1h-1zM97 120h1v1h-1zM91 121h2v1h-2zM97 124h1v1h-1zM83 127h1v1h-1zM96 127h1v1h-1zM83 128h1v1h-1zM61 144h1v1h-1z"/>
<path fill="#fd9c42" d="M65 32h1v1h-1zM66 33h1v1h-1zM67 35h1v1h-1zM24 37h1v1h-1zM77 38h2v1h-2zM23 39h1v1h-1zM27 39h2v1h-2zM23 40h1v1h-1zM57 40h1v1h-1zM76 40h1v1h-1zM79 40h1v1h-1zM58 41h1v1h-1zM32 42h1v1h-1zM24 43h1v1h-1zM52 44h1v1h-1zM31 45h1v1h-1zM67 45h1v1h-1zM69 45h1v1h-1zM26 46h1v1h-1zM48 47h1v1h-1zM60 48h1v1h-1zM81 48h1v1h-1zM21 49h1v1h-1zM54 49h1v1h-1zM59 49h1v1h-1zM71 49h1v1h-1zM34 50h1v1h-1zM43 50h1v1h-1zM54 50h1v1h-1zM77 50h1v1h-1zM24 51h1v1h-1zM35 51h2v1h-2zM77 51h1v1h-1zM37 52h1v1h-1zM54 52h1v1h-1zM66 52h1v1h-1zM69 52h1v1h-1zM75 52h1v1h-1zM27 53h1v1h-1zM30 53h1v1h-1zM33 53h1v1h-1zM71 53h1v1h-1zM28 54h1v1h-1zM31 54h1v1h-1zM25 55h1v1h-1zM33 55h1v1h-1zM64 55h1v1h-1zM79 55h2v1h-2zM34 56h1v1h-1zM50 56h1v1h-1zM54 56h1v1h-1zM63 57h2v1h-2zM74 57h1v1h-1zM76 57h1v1h-1zM37 58h1v1h-1zM60 58h1v1h-1zM66 58h1v1h-1zM70 58h1v1h-1zM22 59h1v1h-1zM46 59h1v1h-1zM53 59h1v1h-1zM60 59h1v1h-1zM65 59h1v1h-1zM38 60h1v1h-1zM65 60h1v1h-1zM72 60h1v1h-1zM88 60h1v1h-1zM31 61h2v1h-2zM41 61h1v1h-1zM45 61h1v1h-1zM56 61h1v1h-1zM58 61h3v1h-3zM75 61h1v1h-1zM77 61h1v1h-1zM55 62h1v1h-1zM71 62h1v1h-1zM71 63h1v1h-1zM82 64h1v1h-1zM22 65h1v1h-1zM34 65h1v1h-1zM46 65h1v1h-1zM85 65h1v1h-1zM89 65h1v1h-1zM17 66h2v1h-2zM38 66h1v1h-1zM42 66h1v1h-1zM57 66h1v1h-1zM86 66h1v1h-1zM20 67h1v1h-1zM42 67h1v1h-1zM56 67h1v1h-1zM23 68h1v1h-1zM33 68h1v1h-1zM67 68h1v1h-1zM85 68h1v1h-1zM44 69h1v1h-1zM79 69h1v1h-1zM41 70h2v1h-2zM48 70h1v1h-1zM35 71h1v1h-1zM40 71h1v1h-1zM18 72h1v1h-1zM31 72h1v1h-1zM33 72h1v1h-1zM39 72h1v1h-1zM62 72h1v1h-1zM67 72h1v1h-1zM83 72h1v1h-1zM91 72h1v1h-1zM18 73h1v1h-1zM34 73h1v1h-1zM40 73h1v1h-1zM59 73h1v1h-1zM84 73h2v1h-2zM92 73h1v1h-1zM14 74h1v1h-1zM20 74h1v1h-1zM30 74h1v1h-1zM89 74h1v1h-1zM31 75h1v1h-1zM71 75h1v1h-1zM26 76h1v1h-1zM57 76h1v1h-1zM61 76h1v1h-1zM90 76h1v1h-1zM38 77h1v1h-1zM72 77h1v1h-1zM78 77h1v1h-1zM94 77h1v1h-1zM42 78h2v1h-2zM54 78h1v1h-1zM82 78h1v1h-1zM19 79h1v1h-1zM32 79h1v1h-1zM34 79h1v1h-1zM49 79h1v1h-1zM59 79h1v1h-1zM63 79h1v1h-1zM75 79h1v1h-1zM22 80h1v1h-1zM44 80h1v1h-1zM12 82h1v1h-1zM28 82h1v1h-1zM49 82h1v1h-1zM60 82h1v1h-1zM73 82h1v1h-1zM11 83h1v1h-1zM17 83h1v1h-1zM50 83h1v1h-1zM80 83h1v1h-1zM17 84h1v1h-1zM24 84h1v1h-1zM96 84h1v1h-1zM23 85h1v1h-1zM35 85h1v1h-1zM19 86h1v1h-1zM23 86h1v1h-1zM25 87h3v1h-3zM64 87h1v1h-1zM90 87h1v1h-1zM48 88h2v1h-2zM69 88h1v1h-1zM77 88h1v1h-1zM86 88h1v1h-1zM96 88h1v1h-1zM10 89h1v1h-1zM41 89h1v1h-1zM87 89h1v1h-1zM95 89h1v1h-1zM25 90h1v1h-1zM47 90h1v1h-1zM70 90h1v1h-1zM33 91h1v1h-1zM72 91h1v1h-1zM84 91h1v1h-1zM92 92h1v1h-1zM16 93h1v1h-1zM64 93h1v1h-1zM14 94h1v1h-1zM18 94h1v1h-1zM12 95h1v1h-1zM17 95h1v1h-1zM90 95h1v1h-1zM23 96h1v1h-1zM86 96h1v1h-1zM20 97h1v1h-1zM19 98h1v1h-1zM100 98h1v1h-1zM33 99h1v1h-1zM16 100h1v1h-1zM33 100h1v1h-1zM87 100h1v1h-1zM18 101h1v1h-1zM23 101h1v1h-1zM9 102h1v1h-1zM28 102h1v1h-1zM32 102h1v1h-1zM73 102h1v1h-1zM94 102h1v1h-1zM97 102h1v1h-1zM17 103h1v1h-1zM88 103h2v1h-2zM19 104h1v1h-1zM88 104h1v1h-1zM13 105h1v1h-1zM12 106h1v1h-1zM22 106h1v1h-1zM96 106h1v1h-1zM98 106h1v1h-1zM14 107h1v1h-1zM83 107h1v1h-1zM96 107h1v1h-1zM13 108h1v1h-1zM90 108h1v1h-1zM15 109h1v1h-1zM11 110h1v1h-1zM21 111h1v1h-1zM87 111h1v1h-1zM95 111h1v1h-1zM99 111h1v1h-1zM90 113h1v1h-1zM95 113h1v1h-1zM99 114h1v1h-1zM96 115h1v1h-1zM93 116h1v1h-1zM98 116h1v1h-1zM91 118h1v1h-1zM97 121h1v1h-1zM89 126h1v1h-1zM97 126h1v1h-1zM58 132h1v1h-1z"/>
<path fill="#fea346" d="M67 34h1v1h-1zM24 36h1v1h-1zM32 37h1v1h-1zM80 37h2v1h-2zM31 38h1v1h-1zM50 38h1v1h-1zM75 38h1v1h-1zM75 39h1v1h-1zM27 40h1v1h-1zM55 40h1v1h-1zM75 40h1v1h-1zM77 40h1v1h-1zM76 41h1v1h-1zM34 42h1v1h-1zM23 43h1v1h-1zM33 43h1v1h-1zM63 43h1v1h-1zM81 43h1v1h-1zM32 44h1v1h-1zM80 44h1v1h-1zM82 44h1v1h-1zM68 45h1v1h-1zM81 45h1v1h-1zM82 46h2v1h-2zM47 47h1v1h-1zM69 47h1v1h-1zM81 47h1v1h-1zM48 48h1v1h-1zM55 48h1v1h-1zM35 50h1v1h-1zM59 50h1v1h-1zM78 50h1v1h-1zM23 51h1v1h-1zM23 53h1v1h-1zM44 53h1v1h-1zM49 53h1v1h-1zM70 53h1v1h-1zM24 54h1v1h-1zM66 54h1v1h-1zM24 55h1v1h-1zM43 55h1v1h-1zM65 55h1v1h-1zM81 55h1v1h-1zM85 55h1v1h-1zM87 55h1v1h-1zM25 56h1v1h-1zM33 56h1v1h-1zM70 56h1v1h-1zM74 56h2v1h-2zM21 57h1v1h-1zM37 57h1v1h-1zM44 57h1v1h-1zM70 57h1v1h-1zM73 57h1v1h-1zM86 57h1v1h-1zM54 58h1v1h-1zM69 58h1v1h-1zM81 58h1v1h-1zM20 59h1v1h-1zM51 59h1v1h-1zM61 59h1v1h-1zM67 59h1v1h-1zM69 59h1v1h-1zM27 60h1v1h-1zM49 60h1v1h-1zM61 60h1v1h-1zM69 60h1v1h-1zM57 61h1v1h-1zM29 62h1v1h-1zM34 62h1v1h-1zM80 62h1v1h-1zM86 62h1v1h-1zM21 63h1v1h-1zM31 63h1v1h-1zM73 63h1v1h-1zM80 63h1v1h-1zM87 63h1v1h-1zM42 64h1v1h-1zM53 64h1v1h-1zM80 64h1v1h-1zM26 65h1v1h-1zM38 65h1v1h-1zM42 65h1v1h-1zM58 65h1v1h-1zM72 65h1v1h-1zM76 65h1v1h-1zM19 66h2v1h-2zM41 66h1v1h-1zM48 66h1v1h-1zM85 66h1v1h-1zM46 67h1v1h-1zM65 67h1v1h-1zM72 67h1v1h-1zM60 68h1v1h-1zM66 68h1v1h-1zM70 68h1v1h-1zM36 69h1v1h-1zM51 69h1v1h-1zM84 69h1v1h-1zM25 70h1v1h-1zM36 70h1v1h-1zM47 70h1v1h-1zM68 70h2v1h-2zM47 71h1v1h-1zM85 71h1v1h-1zM27 72h1v1h-1zM50 72h1v1h-1zM52 72h1v1h-1zM55 72h1v1h-1zM74 72h1v1h-1zM88 72h1v1h-1zM90 72h1v1h-1zM16 73h1v1h-1zM25 73h1v1h-1zM28 73h1v1h-1zM35 73h1v1h-1zM51 73h1v1h-1zM60 73h1v1h-1zM63 73h1v1h-1zM90 73h1v1h-1zM21 74h1v1h-1zM28 74h1v1h-1zM66 74h1v1h-1zM42 75h1v1h-1zM48 75h1v1h-1zM64 75h1v1h-1zM73 75h1v1h-1zM76 75h1v1h-1zM79 75h2v1h-2zM85 75h1v1h-1zM32 76h1v1h-1zM69 76h2v1h-2zM74 76h3v1h-3zM91 76h1v1h-1zM93 76h1v1h-1zM14 77h1v1h-1zM84 77h1v1h-1zM95 77h1v1h-1zM18 78h1v1h-1zM56 78h2v1h-2zM75 78h1v1h-1zM17 79h1v1h-1zM54 79h1v1h-1zM86 79h1v1h-1zM95 79h1v1h-1zM23 80h1v1h-1zM56 80h1v1h-1zM60 80h1v1h-1zM83 80h1v1h-1zM12 81h1v1h-1zM22 81h1v1h-1zM25 81h1v1h-1zM32 81h1v1h-1zM82 81h1v1h-1zM85 81h1v1h-1zM87 81h1v1h-1zM63 82h1v1h-1zM75 82h1v1h-1zM81 82h1v1h-1zM26 83h1v1h-1zM34 83h1v1h-1zM60 83h1v1h-1zM62 83h1v1h-1zM51 84h1v1h-1zM58 84h2v1h-2zM61 84h1v1h-1zM68 84h1v1h-1zM88 84h1v1h-1zM19 85h1v1h-1zM21 85h1v1h-1zM24 85h1v1h-1zM57 85h1v1h-1zM59 85h1v1h-1zM71 85h2v1h-2zM84 85h1v1h-1zM92 85h1v1h-1zM24 86h1v1h-1zM30 86h1v1h-1zM94 86h1v1h-1zM46 87h2v1h-2zM49 87h1v1h-1zM95 87h1v1h-1zM18 88h1v1h-1zM43 88h1v1h-1zM58 88h1v1h-1zM71 88h2v1h-2zM83 88h1v1h-1zM93 88h1v1h-1zM30 89h2v1h-2zM71 89h2v1h-2zM13 90h1v1h-1zM33 90h1v1h-1zM13 91h2v1h-2zM70 91h1v1h-1zM78 91h1v1h-1zM81 92h1v1h-1zM86 92h1v1h-1zM98 92h1v1h-1zM63 93h1v1h-1zM87 93h1v1h-1zM95 93h1v1h-1zM17 94h1v1h-1zM19 94h1v1h-1zM63 94h1v1h-1zM98 95h1v1h-1zM13 96h1v1h-1zM88 96h1v1h-1zM22 97h1v1h-1zM86 97h1v1h-1zM89 97h1v1h-1zM97 97h1v1h-1zM92 98h1v1h-1zM18 99h1v1h-1zM26 99h1v1h-1zM92 99h1v1h-1zM22 100h1v1h-1zM94 100h1v1h-1zM17 101h1v1h-1zM32 101h1v1h-1zM87 101h1v1h-1zM13 102h1v1h-1zM21 102h1v1h-1zM23 102h1v1h-1zM15 103h1v1h-1zM96 103h1v1h-1zM9 104h1v1h-1zM33 104h1v1h-1zM96 104h1v1h-1zM98 104h1v1h-1zM91 105h1v1h-1zM20 106h1v1h-1zM95 106h1v1h-1zM92 107h1v1h-1zM8 108h1v1h-1zM93 108h1v1h-1zM9 109h1v1h-1zM22 109h1v1h-1zM94 109h1v1h-1zM99 110h1v1h-1zM22 112h1v1h-1zM97 112h1v1h-1zM99 112h1v1h-1zM86 113h1v1h-1zM89 113h1v1h-1zM94 113h1v1h-1zM98 115h1v1h-1zM97 116h1v1h-1zM99 116h1v1h-1zM91 117h1v1h-1zM98 117h1v1h-1zM96 118h1v1h-1zM18 119h1v1h-1zM94 120h1v1h-1zM97 122h1v1h-1zM99 123h1v1h-1zM97 125h1v1h-1zM96 126h1v1h-1z"/>
<path fill="#fd943f" d="M66 35h1v1h-1zM27 38h1v1h-1zM32 38h1v1h-1zM76 38h1v1h-1zM26 39h1v1h-1zM77 39h1v1h-1zM79 39h1v1h-1zM33 42h1v1h-1zM24 44h2v1h-2zM49 44h1v1h-1zM73 45h1v1h-1zM31 46h1v1h-1zM33 46h1v1h-1zM69 46h1v1h-1zM33 47h1v1h-1zM57 47h1v1h-1zM65 48h1v1h-1zM71 48h1v1h-1zM34 49h1v1h-1zM21 51h1v1h-1zM82 51h1v1h-1zM84 51h1v1h-1zM26 52h1v1h-1zM44 52h1v1h-1zM57 52h1v1h-1zM77 52h1v1h-1zM87 52h1v1h-1zM34 53h1v1h-1zM51 53h1v1h-1zM48 54h1v1h-1zM65 54h1v1h-1zM28 55h1v1h-1zM26 56h1v1h-1zM81 56h1v1h-1zM85 56h1v1h-1zM24 57h1v1h-1zM49 57h1v1h-1zM54 57h1v1h-1zM71 57h1v1h-1zM44 58h1v1h-1zM53 58h1v1h-1zM52 59h1v1h-1zM68 59h1v1h-1zM70 59h1v1h-1zM72 59h1v1h-1zM36 60h1v1h-1zM34 61h1v1h-1zM37 61h2v1h-2zM43 61h2v1h-2zM70 61h2v1h-2zM30 63h1v1h-1zM32 63h1v1h-1zM49 63h2v1h-2zM55 63h1v1h-1zM86 63h1v1h-1zM33 64h1v1h-1zM50 64h1v1h-1zM73 64h1v1h-1zM39 65h1v1h-1zM49 65h1v1h-1zM37 66h1v1h-1zM39 66h1v1h-1zM80 66h1v1h-1zM29 67h1v1h-1zM61 67h1v1h-1zM67 67h1v1h-1zM22 68h1v1h-1zM30 68h2v1h-2zM35 68h1v1h-1zM37 68h1v1h-1zM46 69h1v1h-1zM17 70h1v1h-1zM49 70h1v1h-1zM61 70h1v1h-1zM77 70h1v1h-1zM79 70h1v1h-1zM89 70h1v1h-1zM26 71h1v1h-1zM31 71h1v1h-1zM68 71h1v1h-1zM74 71h1v1h-1zM38 72h1v1h-1zM73 72h1v1h-1zM20 73h1v1h-1zM49 73h1v1h-1zM73 73h1v1h-1zM44 74h1v1h-1zM67 74h1v1h-1zM79 74h1v1h-1zM82 74h1v1h-1zM90 74h1v1h-1zM20 75h1v1h-1zM65 75h1v1h-1zM68 75h1v1h-1zM60 76h1v1h-1zM80 76h1v1h-1zM60 77h1v1h-1zM90 77h1v1h-1zM14 78h1v1h-1zM33 78h1v1h-1zM39 78h1v1h-1zM61 78h1v1h-1zM68 78h1v1h-1zM74 78h1v1h-1zM90 78h1v1h-1zM60 79h1v1h-1zM70 79h1v1h-1zM15 80h1v1h-1zM33 80h1v1h-1zM43 80h1v1h-1zM80 80h1v1h-1zM23 81h1v1h-1zM28 81h1v1h-1zM71 81h2v1h-2zM84 81h1v1h-1zM91 81h2v1h-2zM24 82h1v1h-1zM35 82h1v1h-1zM50 82h1v1h-1zM54 82h1v1h-1zM90 82h1v1h-1zM49 83h1v1h-1zM85 83h1v1h-1zM38 84h1v1h-1zM49 84h2v1h-2zM22 85h1v1h-1zM44 85h1v1h-1zM58 85h1v1h-1zM65 85h1v1h-1zM28 86h2v1h-2zM32 86h1v1h-1zM45 86h1v1h-1zM49 86h1v1h-1zM60 86h1v1h-1zM62 86h1v1h-1zM91 86h1v1h-1zM19 87h1v1h-1zM31 87h1v1h-1zM62 87h1v1h-1zM76 87h1v1h-1zM79 87h1v1h-1zM11 88h1v1h-1zM27 89h1v1h-1zM34 89h1v1h-1zM70 89h1v1h-1zM83 89h1v1h-1zM18 90h1v1h-1zM26 90h1v1h-1zM12 91h1v1h-1zM63 91h1v1h-1zM83 91h1v1h-1zM63 92h1v1h-1zM90 92h1v1h-1zM23 93h1v1h-1zM97 93h1v1h-1zM21 94h1v1h-1zM87 94h1v1h-1zM93 95h1v1h-1zM24 96h1v1h-1zM31 96h1v1h-1zM91 96h1v1h-1zM94 96h1v1h-1zM94 97h2v1h-2zM99 97h1v1h-1zM16 98h1v1h-1zM11 99h1v1h-1zM18 100h1v1h-1zM88 100h1v1h-1zM9 101h1v1h-1zM16 101h1v1h-1zM21 101h1v1h-1zM88 101h1v1h-1zM22 103h1v1h-1zM28 103h1v1h-1zM32 103h1v1h-1zM95 103h1v1h-1zM17 105h1v1h-1zM88 105h1v1h-1zM13 106h2v1h-2zM19 106h1v1h-1zM92 106h1v1h-1zM10 107h1v1h-1zM93 107h1v1h-1zM17 109h1v1h-1zM23 109h1v1h-1zM12 110h1v1h-1zM15 110h1v1h-1zM94 110h1v1h-1zM97 111h1v1h-1zM11 112h1v1h-1zM14 112h1v1h-1zM92 117h1v1h-1zM94 117h1v1h-1zM21 118h1v1h-1zM25 118h1v1h-1zM90 118h1v1h-1zM92 118h1v1h-1zM92 119h1v1h-1zM90 120h2v1h-2zM87 125h1v1h-1zM65 126h1v1h-1zM97 127h1v1h-1z"/>
<path fill="#f74427" d="M25 38h1v1h-1zM56 49h1v1h-1zM73 50h1v1h-1zM36 53h1v1h-1zM50 54h1v1h-1zM28 56h2v1h-2zM45 59h1v1h-1zM84 60h1v1h-1zM22 61h1v1h-1zM24 62h1v1h-1zM85 62h1v1h-1zM22 64h1v1h-1zM47 65h1v1h-1zM81 65h1v1h-1zM30 66h2v1h-2zM61 66h1v1h-1zM64 68h1v1h-1zM89 68h1v1h-1zM74 69h1v1h-1zM78 69h1v1h-1zM92 69h1v1h-1zM20 70h1v1h-1zM80 70h1v1h-1zM20 71h1v1h-1zM73 71h1v1h-1zM60 72h1v1h-1zM50 73h1v1h-1zM50 75h1v1h-1zM42 76h1v1h-1zM81 76h2v1h-2zM67 78h1v1h-1zM37 79h2v1h-2zM47 80h1v1h-1zM59 80h1v1h-1zM72 80h1v1h-1zM36 81h1v1h-1zM46 81h1v1h-1zM15 82h1v1h-1zM47 82h1v1h-1zM56 82h1v1h-1zM66 82h1v1h-1zM91 82h1v1h-1zM81 83h1v1h-1zM90 83h1v1h-1zM82 84h1v1h-1zM34 85h1v1h-1zM13 86h1v1h-1zM38 87h1v1h-1zM59 88h1v1h-1zM97 88h1v1h-1zM29 89h1v1h-1zM58 89h1v1h-1zM17 90h1v1h-1zM39 90h1v1h-1zM83 90h1v1h-1zM16 91h1v1h-1zM81 91h2v1h-2zM98 91h1v1h-1zM62 92h1v1h-1zM99 93h1v1h-1zM87 95h1v1h-1zM24 97h1v1h-1zM82 98h1v1h-1zM23 99h1v1h-1zM86 100h1v1h-1zM92 100h1v1h-1zM100 100h1v1h-1zM14 102h1v1h-1zM27 104h1v1h-1zM22 105h1v1h-1zM17 106h1v1h-1zM23 106h1v1h-1zM15 107h1v1h-1zM30 107h1v1h-1zM84 107h1v1h-1zM28 108h1v1h-1zM91 109h1v1h-1zM97 110h1v1h-1zM20 111h1v1h-1zM86 116h1v1h-1zM86 117h1v1h-1zM99 117h1v1h-1zM14 118h1v1h-1zM20 118h1v1h-1zM40 121h1v1h-1zM100 125h1v1h-1zM99 128h1v1h-1z"/>
<path fill="#fc6731" d="M25 39h1v1h-1zM26 45h1v1h-1zM32 46h1v1h-1zM73 51h1v1h-1zM67 52h2v1h-2zM24 53h2v1h-2zM66 53h1v1h-1zM32 54h1v1h-1zM43 54h1v1h-1zM76 54h1v1h-1zM37 55h1v1h-1zM86 55h1v1h-1zM30 56h1v1h-1zM37 56h1v1h-1zM52 56h1v1h-1zM77 56h1v1h-1zM28 57h2v1h-2zM60 57h1v1h-1zM80 57h1v1h-1zM71 58h1v1h-1zM85 61h1v1h-1zM88 61h1v1h-1zM32 62h1v1h-1zM89 63h1v1h-1zM91 63h1v1h-1zM31 64h1v1h-1zM47 64h1v1h-1zM61 64h1v1h-1zM33 65h1v1h-1zM82 65h2v1h-2zM33 66h1v1h-1zM18 67h1v1h-1zM36 68h1v1h-1zM43 68h1v1h-1zM47 68h1v1h-1zM86 68h1v1h-1zM88 68h1v1h-1zM22 69h1v1h-1zM48 69h1v1h-1zM64 70h1v1h-1zM70 70h1v1h-1zM53 71h1v1h-1zM55 71h1v1h-1zM88 71h1v1h-1zM35 72h1v1h-1zM57 72h1v1h-1zM72 72h1v1h-1zM82 72h1v1h-1zM38 73h1v1h-1zM47 73h1v1h-1zM22 74h1v1h-1zM24 74h1v1h-1zM93 74h1v1h-1zM24 75h1v1h-1zM30 75h1v1h-1zM51 75h1v1h-1zM29 77h1v1h-1zM35 77h1v1h-1zM39 77h1v1h-1zM43 77h1v1h-1zM61 77h1v1h-1zM83 77h1v1h-1zM62 78h1v1h-1zM84 78h1v1h-1zM95 78h1v1h-1zM18 79h1v1h-1zM58 79h1v1h-1zM68 79h1v1h-1zM27 80h1v1h-1zM87 80h2v1h-2zM13 81h1v1h-1zM17 81h1v1h-1zM26 81h1v1h-1zM54 81h1v1h-1zM89 81h1v1h-1zM93 81h1v1h-1zM37 82h1v1h-1zM64 82h1v1h-1zM21 83h1v1h-1zM55 83h1v1h-1zM89 83h1v1h-1zM95 83h1v1h-1zM23 84h1v1h-1zM57 84h1v1h-1zM69 85h1v1h-1zM89 85h1v1h-1zM18 86h1v1h-1zM43 86h1v1h-1zM29 87h1v1h-1zM65 87h1v1h-1zM85 87h1v1h-1zM94 87h1v1h-1zM28 88h2v1h-2zM40 88h1v1h-1zM44 88h1v1h-1zM35 89h1v1h-1zM39 89h1v1h-1zM43 89h1v1h-1zM49 89h1v1h-1zM59 89h1v1h-1zM94 89h1v1h-1zM29 90h1v1h-1zM45 90h1v1h-1zM89 90h1v1h-1zM11 91h1v1h-1zM15 91h1v1h-1zM45 93h1v1h-1zM92 93h1v1h-1zM64 94h1v1h-1zM25 95h1v1h-1zM68 95h1v1h-1zM32 96h1v1h-1zM87 96h1v1h-1zM97 96h1v1h-1zM87 97h1v1h-1zM20 98h1v1h-1zM22 98h1v1h-1zM35 98h1v1h-1zM88 99h1v1h-1zM93 101h1v1h-1zM15 102h1v1h-1zM99 103h1v1h-1zM81 105h1v1h-1zM18 106h1v1h-1zM29 107h1v1h-1zM98 107h1v1h-1zM21 109h1v1h-1zM23 111h1v1h-1zM88 111h1v1h-1zM20 112h2v1h-2zM96 113h1v1h-1zM26 114h1v1h-1zM98 114h1v1h-1zM12 115h1v1h-1zM100 117h1v1h-1zM90 119h1v1h-1zM93 119h1v1h-1zM100 124h1v1h-1zM22 125h1v1h-1zM95 126h1v1h-1z"/>
<path fill="#fd8038" d="M76 39h1v1h-1zM78 40h1v1h-1zM32 45h1v1h-1zM68 46h1v1h-1zM32 47h1v1h-1zM58 48h1v1h-1zM82 48h1v1h-1zM81 49h1v1h-1zM55 50h1v1h-1zM58 50h1v1h-1zM43 51h2v1h-2zM56 51h1v1h-1zM72 51h1v1h-1zM21 52h1v1h-1zM23 52h1v1h-1zM31 52h1v1h-1zM55 52h1v1h-1zM70 54h1v1h-1zM53 55h1v1h-1zM77 55h1v1h-1zM35 56h1v1h-1zM86 56h1v1h-1zM45 57h1v1h-1zM81 57h1v1h-1zM46 58h1v1h-1zM49 58h1v1h-1zM80 58h1v1h-1zM49 59h1v1h-1zM37 60h1v1h-1zM60 60h1v1h-1zM70 60h2v1h-2zM75 60h1v1h-1zM83 60h1v1h-1zM85 60h1v1h-1zM87 60h1v1h-1zM28 61h1v1h-1zM86 61h1v1h-1zM33 62h1v1h-1zM56 62h1v1h-1zM90 62h1v1h-1zM72 63h1v1h-1zM88 63h1v1h-1zM90 63h1v1h-1zM17 64h1v1h-1zM21 64h1v1h-1zM32 64h1v1h-1zM60 64h1v1h-1zM17 65h1v1h-1zM48 65h1v1h-1zM91 65h1v1h-1zM83 66h1v1h-1zM18 68h2v1h-2zM32 68h1v1h-1zM59 68h1v1h-1zM91 68h1v1h-1zM23 69h1v1h-1zM30 69h1v1h-1zM37 69h1v1h-1zM43 69h1v1h-1zM89 69h1v1h-1zM57 70h1v1h-1zM19 71h1v1h-1zM59 71h1v1h-1zM71 71h1v1h-1zM91 71h1v1h-1zM93 71h1v1h-1zM17 72h1v1h-1zM51 72h1v1h-1zM61 73h1v1h-1zM40 74h1v1h-1zM64 74h1v1h-1zM39 75h1v1h-1zM77 75h1v1h-1zM90 75h1v1h-1zM16 76h1v1h-1zM39 76h1v1h-1zM50 76h1v1h-1zM49 77h1v1h-1zM79 77h1v1h-1zM82 77h1v1h-1zM32 78h1v1h-1zM38 78h1v1h-1zM83 78h1v1h-1zM44 79h1v1h-1zM55 79h1v1h-1zM61 79h1v1h-1zM16 80h1v1h-1zM54 80h1v1h-1zM62 80h1v1h-1zM14 81h1v1h-1zM27 81h1v1h-1zM64 81h1v1h-1zM31 82h1v1h-1zM70 82h1v1h-1zM16 83h1v1h-1zM20 83h1v1h-1zM23 83h2v1h-2zM39 83h1v1h-1zM74 83h1v1h-1zM84 83h1v1h-1zM20 84h2v1h-2zM46 84h1v1h-1zM83 84h1v1h-1zM17 85h1v1h-1zM88 86h2v1h-2zM13 87h1v1h-1zM30 87h1v1h-1zM32 87h1v1h-1zM73 88h1v1h-1zM90 88h1v1h-1zM95 88h1v1h-1zM33 89h1v1h-1zM23 90h1v1h-1zM68 90h1v1h-1zM78 90h1v1h-1zM29 91h1v1h-1zM44 91h1v1h-1zM80 91h1v1h-1zM10 92h1v1h-1zM56 92h1v1h-1zM59 92h1v1h-1zM91 92h1v1h-1zM96 93h1v1h-1zM22 94h1v1h-1zM20 95h1v1h-1zM23 95h1v1h-1zM11 96h2v1h-2zM45 96h1v1h-1zM92 96h1v1h-1zM34 97h1v1h-1zM16 99h2v1h-2zM22 99h1v1h-1zM82 99h1v1h-1zM98 99h1v1h-1zM11 100h1v1h-1zM21 100h1v1h-1zM23 100h1v1h-1zM91 100h1v1h-1zM22 101h1v1h-1zM86 101h1v1h-1zM29 102h1v1h-1zM99 102h1v1h-1zM21 103h1v1h-1zM97 103h2v1h-2zM20 104h1v1h-1zM32 104h1v1h-1zM93 104h1v1h-1zM11 107h1v1h-1zM23 107h1v1h-1zM97 107h1v1h-1zM84 108h1v1h-1zM83 109h1v1h-1zM92 109h2v1h-2zM13 110h1v1h-1zM10 111h1v1h-1zM14 111h1v1h-1zM88 112h1v1h-1zM95 112h1v1h-1zM98 113h1v1h-1zM86 114h1v1h-1zM95 114h1v1h-1zM10 115h1v1h-1zM83 115h1v1h-1zM86 115h1v1h-1zM11 116h1v1h-1zM23 117h1v1h-1zM93 117h1v1h-1zM22 118h1v1h-1zM95 118h1v1h-1zM97 118h1v1h-1zM88 119h1v1h-1zM88 120h1v1h-1zM92 123h1v1h-1zM97 123h2v1h-2zM88 126h1v1h-1zM95 128h1v1h-1z"/>
<path fill="#f23924" d="M21 47h1v1h-1zM56 48h1v1h-1zM72 50h1v1h-1zM26 53h1v1h-1zM26 54h1v1h-1zM49 54h1v1h-1zM36 56h1v1h-1zM49 56h1v1h-1zM78 57h1v1h-1zM48 58h1v1h-1zM45 60h1v1h-1zM27 61h1v1h-1zM27 62h1v1h-1zM84 62h1v1h-1zM23 63h1v1h-1zM28 65h1v1h-1zM35 66h1v1h-1zM33 67h2v1h-2zM75 68h1v1h-1zM71 69h3v1h-3zM76 69h1v1h-1zM85 69h1v1h-1zM19 70h1v1h-1zM22 70h1v1h-1zM50 70h1v1h-1zM54 70h1v1h-1zM59 70h1v1h-1zM73 70h1v1h-1zM57 71h1v1h-1zM60 71h1v1h-1zM25 72h1v1h-1zM79 72h1v1h-1zM24 73h1v1h-1zM39 73h1v1h-1zM81 75h2v1h-2zM84 76h1v1h-1zM32 77h1v1h-1zM29 80h1v1h-1zM31 80h1v1h-1zM68 80h1v1h-1zM71 80h1v1h-1zM48 81h1v1h-1zM51 81h1v1h-1zM55 81h1v1h-1zM55 82h1v1h-1zM59 82h1v1h-1zM72 82h1v1h-1zM93 82h1v1h-1zM56 84h1v1h-1zM64 84h1v1h-1zM64 85h1v1h-1zM82 85h2v1h-2zM84 86h1v1h-1zM45 87h1v1h-1zM81 87h1v1h-1zM87 87h1v1h-1zM74 88h1v1h-1zM26 91h1v1h-1zM42 91h1v1h-1zM47 91h1v1h-1zM55 91h1v1h-1zM67 91h1v1h-1zM18 92h1v1h-1zM26 93h2v1h-2zM97 94h1v1h-1zM21 96h1v1h-1zM46 97h1v1h-1zM13 98h1v1h-1zM93 99h1v1h-1zM100 99h1v1h-1zM82 100h1v1h-1zM98 100h1v1h-1zM15 101h1v1h-1zM72 101h1v1h-1zM85 101h1v1h-1zM18 102h2v1h-2zM89 102h1v1h-1zM90 103h1v1h-1zM100 106h1v1h-1zM16 107h1v1h-1zM73 107h1v1h-1zM99 107h1v1h-1zM98 108h1v1h-1zM80 110h1v1h-1zM89 110h1v1h-1zM93 110h1v1h-1zM23 112h1v1h-1zM96 114h1v1h-1zM11 115h1v1h-1zM85 117h1v1h-1zM90 121h1v1h-1zM93 123h1v1h-1zM86 126h1v1h-1zM89 127h1v1h-1z"/>
<path fill="#db151e" d="M57 48h1v1h-1zM82 50h1v1h-1zM36 54h1v1h-1zM35 55h1v1h-1zM47 57h2v1h-2zM28 62h1v1h-1zM18 70h1v1h-1zM58 70h1v1h-1zM92 70h1v1h-1zM79 73h1v1h-1zM92 75h1v1h-1zM42 77h1v1h-1zM46 77h1v1h-1zM36 78h2v1h-2zM67 79h1v1h-1zM28 80h1v1h-1zM67 80h1v1h-1zM68 81h1v1h-1zM64 83h1v1h-1zM15 85h1v1h-1zM36 85h1v1h-1zM97 85h1v1h-1zM16 86h1v1h-1zM50 89h1v1h-1zM80 89h1v1h-1zM76 90h1v1h-1zM98 90h1v1h-1zM28 91h1v1h-1zM38 91h1v1h-1zM66 91h1v1h-1zM24 93h1v1h-1zM65 95h1v1h-1zM46 96h1v1h-1zM99 96h1v1h-1zM11 98h1v1h-1zM94 98h1v1h-1zM35 99h1v1h-1zM40 99h1v1h-1zM45 99h1v1h-1zM30 100h1v1h-1zM90 100h1v1h-1zM87 104h1v1h-1zM16 108h1v1h-1zM75 109h1v1h-1zM92 110h1v1h-1zM25 112h1v1h-1zM27 113h2v1h-2zM20 119h1v1h-1zM19 120h1v1h-1zM67 122h1v1h-1zM18 125h1v1h-1zM87 126h1v1h-1zM89 128h1v1h-1zM88 135h1v1h-1z"/>
<path fill="#fc4e2a" d="M58 49h1v1h-1zM57 50h1v1h-1zM68 53h1v1h-1zM75 53h1v1h-1zM34 54h1v1h-1zM27 55h1v1h-1zM47 55h1v1h-1zM76 55h1v1h-1zM27 56h1v1h-1zM45 58h1v1h-1zM72 58h1v1h-1zM48 59h1v1h-1zM71 59h1v1h-1zM24 60h1v1h-1zM44 60h1v1h-1zM72 62h1v1h-1zM83 62h1v1h-1zM88 62h1v1h-1zM22 63h1v1h-1zM83 63h2v1h-2zM29 64h1v1h-1zM49 64h1v1h-1zM84 64h1v1h-1zM32 66h1v1h-1zM31 67h1v1h-1zM71 68h1v1h-1zM87 68h1v1h-1zM31 69h1v1h-1zM50 69h1v1h-1zM21 70h1v1h-1zM18 71h1v1h-1zM58 71h1v1h-1zM79 71h1v1h-1zM46 72h2v1h-2zM94 75h1v1h-1zM68 76h1v1h-1zM77 76h1v1h-1zM36 77h1v1h-1zM74 77h1v1h-1zM28 79h1v1h-1zM48 79h1v1h-1zM80 79h1v1h-1zM64 80h1v1h-1zM69 80h1v1h-1zM31 81h1v1h-1zM47 81h1v1h-1zM56 81h1v1h-1zM17 82h1v1h-1zM36 82h1v1h-1zM39 82h1v1h-1zM82 82h1v1h-1zM13 83h1v1h-1zM22 83h1v1h-1zM48 83h1v1h-1zM56 83h1v1h-1zM94 83h1v1h-1zM12 84h1v1h-1zM22 84h1v1h-1zM35 84h1v1h-1zM81 85h1v1h-1zM64 86h1v1h-1zM79 86h1v1h-1zM50 87h1v1h-1zM73 87h1v1h-1zM86 87h1v1h-1zM89 87h1v1h-1zM93 87h1v1h-1zM39 88h1v1h-1zM45 88h1v1h-1zM70 88h1v1h-1zM48 89h1v1h-1zM27 90h1v1h-1zM40 90h1v1h-1zM44 90h1v1h-1zM90 90h1v1h-1zM35 91h1v1h-1zM39 91h1v1h-1zM71 91h1v1h-1zM77 91h1v1h-1zM62 93h1v1h-1zM90 93h1v1h-1zM25 94h1v1h-1zM34 96h1v1h-1zM96 96h1v1h-1zM83 97h1v1h-1zM88 97h1v1h-1zM15 98h1v1h-1zM95 98h1v1h-1zM87 99h1v1h-1zM20 100h1v1h-1zM12 101h2v1h-2zM20 101h1v1h-1zM98 102h1v1h-1zM31 105h1v1h-1zM92 105h1v1h-1zM85 107h1v1h-1zM87 107h1v1h-1zM11 108h1v1h-1zM15 108h1v1h-1zM11 109h2v1h-2zM95 110h1v1h-1zM19 111h1v1h-1zM93 111h1v1h-1zM96 111h1v1h-1zM19 112h1v1h-1zM91 112h1v1h-1zM97 113h1v1h-1zM81 115h2v1h-2zM84 116h2v1h-2zM16 117h1v1h-1zM15 119h2v1h-2zM98 126h1v1h-1z"/>
<path fill="#e31a1c" d="M84 50h1v1h-1zM76 53h1v1h-1zM88 54h1v1h-1zM46 57h1v1h-1zM85 63h1v1h-1zM60 65h1v1h-1zM19 67h1v1h-1zM60 67h1v1h-1zM53 70h1v1h-1zM72 71h1v1h-1zM49 74h1v1h-1zM83 75h1v1h-1zM30 76h1v1h-1zM44 77h1v1h-1zM29 78h1v1h-1zM67 81h1v1h-1zM65 82h1v1h-1zM89 82h1v1h-1zM92 82h1v1h-1zM72 83h1v1h-1zM14 84h1v1h-1zM63 84h1v1h-1zM91 85h1v1h-1zM87 88h1v1h-1zM37 90h1v1h-1zM60 90h1v1h-1zM63 90h1v1h-1zM36 91h1v1h-1zM85 93h1v1h-1zM10 94h1v1h-1zM65 94h1v1h-1zM69 94h1v1h-1zM91 94h1v1h-1zM97 95h1v1h-1zM80 98h1v1h-1zM39 99h1v1h-1zM14 101h1v1h-1zM30 101h1v1h-1zM93 102h1v1h-1zM100 102h1v1h-1zM18 103h2v1h-2zM29 103h1v1h-1zM31 103h1v1h-1zM31 104h1v1h-1zM81 106h2v1h-2zM99 106h1v1h-1zM95 108h2v1h-2zM38 112h1v1h-1zM23 113h1v1h-1zM27 115h1v1h-1zM12 116h1v1h-1zM12 117h1v1h-1zM19 119h1v1h-1zM21 119h1v1h-1zM88 121h1v1h-1z"/>
<path fill="#cc0a22" d="M83 51h1v1h-1zM48 55h1v1h-1zM71 70h1v1h-1zM21 73h1v1h-1zM50 74h1v1h-1zM25 76h1v1h-1zM40 76h2v1h-2zM31 78h1v1h-1zM46 78h1v1h-1zM48 78h1v1h-1zM81 78h1v1h-1zM37 81h1v1h-1zM40 83h1v1h-1zM91 84h1v1h-1zM44 86h1v1h-1zM52 88h1v1h-1zM28 90h1v1h-1zM55 90h1v1h-1zM17 91h1v1h-1zM23 91h1v1h-1zM37 91h1v1h-1zM61 91h1v1h-1zM28 93h1v1h-1zM31 93h1v1h-1zM27 94h1v1h-1zM85 94h1v1h-1zM21 95h1v1h-1zM32 95h1v1h-1zM67 97h1v1h-1zM12 98h1v1h-1zM89 101h1v1h-1zM31 102h1v1h-1zM90 102h1v1h-1zM30 103h1v1h-1zM35 103h1v1h-1zM31 106h1v1h-1zM26 112h2v1h-2zM85 118h2v1h-2zM77 122h1v1h-1zM72 123h1v1h-1zM65 127h1v1h-1z"/>
<path fill="#8c0026" d="M48 56h1v1h-1zM23 61h1v1h-1zM81 72h1v1h-1zM23 73h1v1h-1zM65 79h2v1h-2zM83 86h1v1h-1zM89 88h1v1h-1zM75 89h1v1h-1zM82 89h1v1h-1zM89 89h1v1h-1zM66 90h1v1h-1zM25 91h1v1h-1zM9 96h1v1h-1zM38 99h1v1h-1zM8 101h1v1h-1zM86 105h1v1h-1zM47 106h1v1h-1zM81 107h1v1h-1zM18 108h1v1h-1zM91 110h1v1h-1zM24 113h1v1h-1zM54 117h1v1h-1zM15 120h1v1h-1zM87 121h1v1h-1zM90 126h1v1h-1zM88 128h1v1h-1zM92 128h1v1h-1z"/>
<path fill="#e8241f" d="M53 56h1v1h-1zM24 61h1v1h-1zM29 63h1v1h-1zM34 66h1v1h-1zM59 67h1v1h-1zM77 68h1v1h-1zM64 69h1v1h-1zM77 69h1v1h-1zM86 71h1v1h-1zM23 74h1v1h-1zM91 74h1v1h-1zM25 77h1v1h-1zM31 79h1v1h-1zM47 79h1v1h-1zM72 79h1v1h-1zM17 80h1v1h-1zM38 81h1v1h-1zM66 81h1v1h-1zM96 82h1v1h-1zM11 84h1v1h-1zM15 84h1v1h-1zM90 84h1v1h-1zM13 85h1v1h-1zM17 87h1v1h-1zM83 87h1v1h-1zM56 89h1v1h-1zM74 89h1v1h-1zM90 89h1v1h-1zM38 90h1v1h-1zM42 90h1v1h-1zM67 90h1v1h-1zM27 92h1v1h-1zM29 92h1v1h-1zM82 92h1v1h-1zM10 93h1v1h-1zM10 96h1v1h-1zM35 97h1v1h-1zM27 98h1v1h-1zM87 98h2v1h-2zM81 99h1v1h-1zM94 99h1v1h-1zM15 100h1v1h-1zM91 102h1v1h-1zM21 104h2v1h-2zM77 108h1v1h-1zM86 109h1v1h-1zM98 109h1v1h-1zM23 110h1v1h-1zM82 110h1v1h-1zM20 113h2v1h-2zM25 113h1v1h-1zM88 127h1v1h-1zM95 127h1v1h-1zM98 127h1v1h-1zM92 130h1v1h-1z"/>
<path fill="#bd0026" d="M28 63h1v1h-1zM88 69h1v1h-1zM25 71h1v1h-1zM81 71h1v1h-1zM65 81h1v1h-1zM50 86h1v1h-1zM97 87h1v1h-1zM60 88h1v1h-1zM75 88h1v1h-1zM61 90h1v1h-1zM80 90h1v1h-1zM73 91h1v1h-1zM82 93h1v1h-1zM83 95h1v1h-1zM83 96h1v1h-1zM44 98h1v1h-1zM13 99h1v1h-1zM13 100h2v1h-2zM92 102h1v1h-1zM28 104h1v1h-1zM71 107h1v1h-1zM72 108h1v1h-1zM78 108h1v1h-1zM85 108h1v1h-1zM90 109h1v1h-1zM24 112h1v1h-1zM97 114h1v1h-1zM84 117h1v1h-1zM88 122h1v1h-1zM90 127h1v1h-1zM60 134h1v1h-1zM62 135h1v1h-1zM91 139h1v1h-1z"/>
<path fill="#a50026" d="M91 64h1v1h-1zM24 71h1v1h-1zM14 82h1v1h-1zM44 87h1v1h-1zM51 88h1v1h-1zM98 89h1v1h-1zM32 93h1v1h-1zM84 93h1v1h-1zM32 94h1v1h-1zM22 95h1v1h-1zM99 95h1v1h-1zM47 101h2v1h-2zM20 103h1v1h-1zM23 104h1v1h-1zM78 107h1v1h-1zM29 109h1v1h-1zM84 109h1v1h-1zM24 110h1v1h-1zM19 113h1v1h-1zM26 117h1v1h-1zM20 120h1v1h-1zM87 120h1v1h-1zM20 121h1v1h-1zM89 121h1v1h-1zM22 124h1v1h-1zM99 127h1v1h-1zM83 129h1v1h-1z"/></svg>
<svg class="pn" style="left:780px;top:49.5px" width="607.8" height="940" viewBox="0 0 110 170" preserveAspectRatio="none" shape-rendering="crispEdges"><rect width="110" height="170" fill="#000"/>
<path fill="#980026" d="M50 12h1v1h-1zM43 14h1v1h-1zM66 18h1v1h-1zM69 21h1v1h-1zM70 22h1v1h-1zM8 108h1v1h-1zM93 115h1v1h-1z"/>
<path fill="#b10026" d="M53 12h1v1h-1zM44 14h1v1h-1zM84 72h1v1h-1zM75 84h1v1h-1zM20 92h1v1h-1zM18 97h2v1h-2zM8 107h1v1h-1zM19 120h1v1h-1zM93 123h1v1h-1z"/>
<path fill="#fc5b2e" d="M54 12h1v1h-1zM47 20h1v1h-1zM33 22h1v1h-1zM67 22h1v1h-1zM68 23h1v1h-1zM42 25h2v1h-2zM65 25h1v1h-1zM68 26h1v1h-1zM31 27h1v1h-1zM68 27h1v1h-1zM29 28h2v1h-2zM34 28h1v1h-1zM51 28h1v1h-1zM31 29h3v1h-3zM50 29h2v1h-2zM65 29h1v1h-1zM76 29h1v1h-1zM29 30h1v1h-1zM35 30h1v1h-1zM57 30h1v1h-1zM70 30h1v1h-1zM27 31h1v1h-1zM29 31h1v1h-1zM34 31h2v1h-2zM41 31h3v1h-3zM56 31h1v1h-1zM27 32h1v1h-1zM29 32h1v1h-1zM40 32h1v1h-1zM49 32h2v1h-2zM69 32h1v1h-1zM30 33h1v1h-1zM39 33h1v1h-1zM63 33h1v1h-1zM73 33h1v1h-1zM25 34h2v1h-2zM30 34h1v1h-1zM68 34h1v1h-1zM35 35h1v1h-1zM42 35h1v1h-1zM65 35h1v1h-1zM30 36h1v1h-1zM38 36h1v1h-1zM42 36h1v1h-1zM45 36h1v1h-1zM66 36h1v1h-1zM70 36h1v1h-1zM31 37h1v1h-1zM35 37h1v1h-1zM39 37h1v1h-1zM42 37h2v1h-2zM50 37h2v1h-2zM62 37h2v1h-2zM73 37h1v1h-1zM28 38h2v1h-2zM41 38h3v1h-3zM46 38h1v1h-1zM56 38h1v1h-1zM63 38h1v1h-1zM30 39h2v1h-2zM52 39h2v1h-2zM59 39h2v1h-2zM62 39h1v1h-1zM25 40h1v1h-1zM36 40h1v1h-1zM42 40h1v1h-1zM50 40h1v1h-1zM52 40h1v1h-1zM60 40h1v1h-1zM70 40h1v1h-1zM23 41h1v1h-1zM36 41h2v1h-2zM61 41h1v1h-1zM64 41h1v1h-1zM71 41h1v1h-1zM75 41h1v1h-1zM22 42h1v1h-1zM24 42h1v1h-1zM27 42h1v1h-1zM37 42h1v1h-1zM39 42h1v1h-1zM41 42h1v1h-1zM44 42h1v1h-1zM57 42h1v1h-1zM65 42h1v1h-1zM75 42h1v1h-1zM30 43h1v1h-1zM38 43h2v1h-2zM44 43h1v1h-1zM47 43h1v1h-1zM68 43h1v1h-1zM75 43h1v1h-1zM80 43h1v1h-1zM38 44h1v1h-1zM67 44h1v1h-1zM28 45h1v1h-1zM47 45h1v1h-1zM49 45h1v1h-1zM59 45h1v1h-1zM61 45h1v1h-1zM73 45h1v1h-1zM37 46h1v1h-1zM46 46h1v1h-1zM50 46h2v1h-2zM66 46h1v1h-1zM69 46h1v1h-1zM73 46h1v1h-1zM25 47h1v1h-1zM30 47h1v1h-1zM39 47h1v1h-1zM45 47h2v1h-2zM55 47h1v1h-1zM61 47h1v1h-1zM63 47h1v1h-1zM72 47h3v1h-3zM78 47h1v1h-1zM23 48h1v1h-1zM26 48h1v1h-1zM43 48h1v1h-1zM49 48h1v1h-1zM71 48h1v1h-1zM85 48h1v1h-1zM22 49h2v1h-2zM43 49h1v1h-1zM55 49h1v1h-1zM76 49h1v1h-1zM23 50h1v1h-1zM45 50h1v1h-1zM53 50h1v1h-1zM76 50h1v1h-1zM25 51h2v1h-2zM33 51h1v1h-1zM36 51h2v1h-2zM53 51h1v1h-1zM67 51h1v1h-1zM71 51h1v1h-1zM81 51h1v1h-1zM41 52h1v1h-1zM52 52h2v1h-2zM81 52h1v1h-1zM29 53h1v1h-1zM38 53h1v1h-1zM42 53h1v1h-1zM56 53h1v1h-1zM83 53h1v1h-1zM20 54h1v1h-1zM38 54h1v1h-1zM42 54h1v1h-1zM57 54h1v1h-1zM59 54h1v1h-1zM85 54h1v1h-1zM63 55h1v1h-1zM67 55h2v1h-2zM72 55h1v1h-1zM33 56h1v1h-1zM57 56h1v1h-1zM61 56h1v1h-1zM63 56h1v1h-1zM66 56h1v1h-1zM33 57h1v1h-1zM51 57h2v1h-2zM57 57h1v1h-1zM70 57h1v1h-1zM72 57h2v1h-2zM83 57h1v1h-1zM88 57h1v1h-1zM25 58h1v1h-1zM33 58h2v1h-2zM60 58h1v1h-1zM77 58h1v1h-1zM39 59h1v1h-1zM64 59h1v1h-1zM76 59h1v1h-1zM27 60h1v1h-1zM41 60h1v1h-1zM53 60h1v1h-1zM64 60h1v1h-1zM56 61h1v1h-1zM67 61h2v1h-2zM81 61h1v1h-1zM21 62h1v1h-1zM36 62h1v1h-1zM65 62h1v1h-1zM79 62h1v1h-1zM65 64h1v1h-1zM71 64h1v1h-1zM77 64h1v1h-1zM35 65h1v1h-1zM53 65h1v1h-1zM56 65h1v1h-1zM62 65h1v1h-1zM75 65h1v1h-1zM86 65h1v1h-1zM25 66h1v1h-1zM27 66h2v1h-2zM47 66h1v1h-1zM77 66h2v1h-2zM84 66h1v1h-1zM88 66h1v1h-1zM21 67h1v1h-1zM24 67h1v1h-1zM78 67h1v1h-1zM82 67h1v1h-1zM91 67h1v1h-1zM24 68h1v1h-1zM29 68h1v1h-1zM40 68h1v1h-1zM51 68h1v1h-1zM56 68h1v1h-1zM60 68h2v1h-2zM69 68h1v1h-1zM81 68h1v1h-1zM33 69h1v1h-1zM41 69h1v1h-1zM44 69h1v1h-1zM38 70h1v1h-1zM41 70h2v1h-2zM47 70h1v1h-1zM56 70h1v1h-1zM60 70h1v1h-1zM47 71h1v1h-1zM69 72h1v1h-1zM30 73h1v1h-1zM33 73h1v1h-1zM42 73h2v1h-2zM74 73h1v1h-1zM93 73h1v1h-1zM15 74h1v1h-1zM34 74h1v1h-1zM37 74h1v1h-1zM52 74h1v1h-1zM14 75h1v1h-1zM33 75h2v1h-2zM37 75h1v1h-1zM86 75h1v1h-1zM18 77h1v1h-1zM21 77h1v1h-1zM57 77h1v1h-1zM59 77h1v1h-1zM13 78h1v1h-1zM43 78h1v1h-1zM24 79h1v1h-1zM33 79h2v1h-2zM88 79h1v1h-1zM35 80h1v1h-1zM44 80h1v1h-1zM56 80h1v1h-1zM78 80h1v1h-1zM86 80h1v1h-1zM93 80h1v1h-1zM21 81h2v1h-2zM24 81h1v1h-1zM33 81h1v1h-1zM25 82h1v1h-1zM61 82h1v1h-1zM33 83h2v1h-2zM60 83h1v1h-1zM34 84h1v1h-1zM50 84h2v1h-2zM59 84h2v1h-2zM97 84h1v1h-1zM46 85h1v1h-1zM73 85h1v1h-1zM94 85h1v1h-1zM27 86h1v1h-1zM61 86h1v1h-1zM86 86h1v1h-1zM75 87h1v1h-1zM18 88h1v1h-1zM93 88h1v1h-1zM10 89h2v1h-2zM73 89h1v1h-1zM86 89h1v1h-1zM14 90h1v1h-1zM19 90h1v1h-1zM14 91h1v1h-1zM63 91h1v1h-1zM88 91h1v1h-1zM92 91h1v1h-1zM95 91h1v1h-1zM90 92h1v1h-1zM97 92h1v1h-1zM14 93h1v1h-1zM88 94h1v1h-1zM17 96h1v1h-1zM33 96h1v1h-1zM97 96h1v1h-1zM99 97h1v1h-1zM97 99h2v1h-2zM39 100h1v1h-1zM47 101h1v1h-1zM100 101h1v1h-1zM96 102h1v1h-1zM10 104h1v1h-1zM24 104h1v1h-1zM32 104h1v1h-1zM34 104h1v1h-1zM89 104h1v1h-1zM9 105h1v1h-1zM11 105h1v1h-1zM18 105h1v1h-1zM32 105h1v1h-1zM12 106h1v1h-1zM21 106h1v1h-1zM47 106h1v1h-1zM90 106h1v1h-1zM99 107h1v1h-1zM12 108h1v1h-1zM80 109h1v1h-1zM86 110h1v1h-1zM83 111h1v1h-1zM86 111h1v1h-1zM12 112h1v1h-1zM32 112h1v1h-1zM87 112h1v1h-1zM94 113h1v1h-1zM91 114h1v1h-1zM99 115h1v1h-1zM96 117h1v1h-1zM89 119h1v1h-1zM82 128h1v1h-1z"/>
<path fill="#c50524" d="M45 13h1v1h-1zM56 16h1v1h-1zM56 17h1v1h-1zM37 18h1v1h-1zM37 19h1v1h-1zM65 20h1v1h-1zM72 24h1v1h-1zM57 28h1v1h-1zM53 32h1v1h-1zM61 34h1v1h-1zM59 35h2v1h-2zM42 46h1v1h-1zM50 50h1v1h-1zM29 60h1v1h-1zM35 62h1v1h-1zM34 63h1v1h-1zM84 71h1v1h-1zM16 75h1v1h-1zM76 85h1v1h-1zM18 98h1v1h-1zM96 101h1v1h-1zM30 115h1v1h-1z"/>
<path fill="#d41020" d="M46 13h1v1h-1zM53 13h1v1h-1zM55 13h2v1h-2zM52 14h2v1h-2zM57 15h2v1h-2zM60 15h1v1h-1zM55 16h1v1h-1zM57 16h1v1h-1zM60 16h1v1h-1zM57 17h1v1h-1zM36 18h1v1h-1zM38 18h1v1h-1zM56 18h2v1h-2zM61 18h1v1h-1zM36 19h1v1h-1zM38 19h1v1h-1zM66 19h1v1h-1zM44 20h1v1h-1zM52 20h1v1h-1zM51 21h2v1h-2zM65 21h1v1h-1zM50 22h2v1h-2zM50 23h1v1h-1zM71 23h1v1h-1zM40 24h1v1h-1zM71 24h1v1h-1zM39 26h1v1h-1zM44 27h1v1h-1zM46 27h1v1h-1zM47 28h2v1h-2zM45 29h4v1h-4zM53 33h1v1h-1zM45 34h1v1h-1zM49 35h2v1h-2zM61 35h1v1h-1zM67 39h2v1h-2zM44 40h1v1h-1zM57 45h1v1h-1zM29 47h1v1h-1zM46 49h1v1h-1zM51 49h1v1h-1zM70 49h1v1h-1zM53 61h1v1h-1zM51 66h2v1h-2zM63 66h1v1h-1zM28 70h1v1h-1zM28 71h1v1h-1zM70 72h1v1h-1zM71 73h1v1h-1zM75 73h1v1h-1zM17 76h1v1h-1zM52 79h1v1h-1zM90 80h1v1h-1zM79 81h1v1h-1zM16 88h1v1h-1zM98 98h1v1h-1zM90 99h1v1h-1zM92 113h1v1h-1zM94 114h1v1h-1zM92 123h1v1h-1z"/>
<path fill="#e8241f" d="M47 13h4v1h-4zM47 14h1v1h-1zM49 14h1v1h-1zM55 14h1v1h-1zM44 15h4v1h-4zM54 15h1v1h-1zM61 15h1v1h-1zM38 16h1v1h-1zM41 16h1v1h-1zM44 16h1v1h-1zM47 16h1v1h-1zM49 16h1v1h-1zM54 16h1v1h-1zM61 16h1v1h-1zM46 17h1v1h-1zM50 17h1v1h-1zM58 17h1v1h-1zM60 17h1v1h-1zM66 17h1v1h-1zM42 18h1v1h-1zM49 18h3v1h-3zM58 18h1v1h-1zM63 18h1v1h-1zM39 19h1v1h-1zM41 19h1v1h-1zM45 19h1v1h-1zM49 19h1v1h-1zM51 19h1v1h-1zM53 19h1v1h-1zM55 19h1v1h-1zM58 19h1v1h-1zM62 19h1v1h-1zM38 20h4v1h-4zM56 20h1v1h-1zM62 20h1v1h-1zM54 21h1v1h-1zM59 21h1v1h-1zM67 21h1v1h-1zM70 21h1v1h-1zM38 22h1v1h-1zM45 22h1v1h-1zM49 22h1v1h-1zM53 22h1v1h-1zM60 22h1v1h-1zM62 22h1v1h-1zM71 22h1v1h-1zM39 23h1v1h-1zM45 23h1v1h-1zM61 23h2v1h-2zM64 23h1v1h-1zM37 24h1v1h-1zM45 24h1v1h-1zM52 24h1v1h-1zM55 24h1v1h-1zM64 24h1v1h-1zM33 25h1v1h-1zM37 25h1v1h-1zM51 25h1v1h-1zM58 25h2v1h-2zM62 25h1v1h-1zM71 25h1v1h-1zM33 26h2v1h-2zM40 26h1v1h-1zM44 26h3v1h-3zM55 26h1v1h-1zM63 26h1v1h-1zM39 27h1v1h-1zM42 27h2v1h-2zM48 27h2v1h-2zM39 28h1v1h-1zM49 28h1v1h-1zM55 28h1v1h-1zM59 28h2v1h-2zM56 29h2v1h-2zM60 29h2v1h-2zM69 29h2v1h-2zM40 30h1v1h-1zM45 30h1v1h-1zM62 30h1v1h-1zM68 30h1v1h-1zM25 31h1v1h-1zM32 31h1v1h-1zM47 31h2v1h-2zM51 31h1v1h-1zM55 31h1v1h-1zM25 32h1v1h-1zM74 32h1v1h-1zM76 32h1v1h-1zM34 33h1v1h-1zM45 33h1v1h-1zM47 33h1v1h-1zM57 33h4v1h-4zM40 34h1v1h-1zM48 34h1v1h-1zM53 34h1v1h-1zM58 34h1v1h-1zM44 35h1v1h-1zM46 35h1v1h-1zM48 35h1v1h-1zM54 35h1v1h-1zM60 36h1v1h-1zM62 36h1v1h-1zM64 36h1v1h-1zM47 37h2v1h-2zM66 37h1v1h-1zM73 38h1v1h-1zM69 39h3v1h-3zM45 40h1v1h-1zM47 40h1v1h-1zM63 40h1v1h-1zM65 40h1v1h-1zM73 40h1v1h-1zM26 41h1v1h-1zM45 41h1v1h-1zM53 41h1v1h-1zM66 41h1v1h-1zM46 42h1v1h-1zM54 42h2v1h-2zM58 43h3v1h-3zM35 44h1v1h-1zM56 44h1v1h-1zM72 44h1v1h-1zM36 45h1v1h-1zM42 47h1v1h-1zM62 47h1v1h-1zM70 47h1v1h-1zM79 47h1v1h-1zM30 48h1v1h-1zM38 48h1v1h-1zM45 48h1v1h-1zM52 48h1v1h-1zM67 48h1v1h-1zM30 49h1v1h-1zM45 49h1v1h-1zM49 49h1v1h-1zM21 50h1v1h-1zM47 50h1v1h-1zM71 50h1v1h-1zM52 51h1v1h-1zM65 51h1v1h-1zM80 52h1v1h-1zM41 53h1v1h-1zM60 53h4v1h-4zM40 54h1v1h-1zM46 54h1v1h-1zM40 55h2v1h-2zM41 56h1v1h-1zM32 57h1v1h-1zM42 57h1v1h-1zM62 57h1v1h-1zM32 58h1v1h-1zM58 58h1v1h-1zM85 58h1v1h-1zM24 59h1v1h-1zM29 59h1v1h-1zM82 59h1v1h-1zM28 60h1v1h-1zM34 60h1v1h-1zM55 60h1v1h-1zM57 60h1v1h-1zM78 61h1v1h-1zM67 62h1v1h-1zM77 63h1v1h-1zM20 64h1v1h-1zM46 64h1v1h-1zM67 64h1v1h-1zM69 64h1v1h-1zM75 66h1v1h-1zM52 67h1v1h-1zM74 67h1v1h-1zM83 67h1v1h-1zM82 68h1v1h-1zM27 69h2v1h-2zM40 69h1v1h-1zM70 71h1v1h-1zM32 74h1v1h-1zM76 74h1v1h-1zM15 75h1v1h-1zM16 77h1v1h-1zM59 78h1v1h-1zM13 79h1v1h-1zM24 80h1v1h-1zM25 81h1v1h-1zM23 82h1v1h-1zM29 82h1v1h-1zM27 84h1v1h-1zM85 84h1v1h-1zM26 85h1v1h-1zM95 85h1v1h-1zM74 86h1v1h-1zM15 88h1v1h-1zM20 88h1v1h-1zM22 88h1v1h-1zM92 89h1v1h-1zM92 90h2v1h-2zM73 91h1v1h-1zM21 92h1v1h-1zM12 93h1v1h-1zM99 99h1v1h-1zM96 100h1v1h-1zM11 104h1v1h-1zM9 109h1v1h-1zM98 110h1v1h-1zM98 111h1v1h-1zM96 121h1v1h-1zM92 122h1v1h-1zM94 124h1v1h-1zM91 139h1v1h-1z"/>
<path fill="#db151e" d="M51 13h2v1h-2zM54 13h1v1h-1zM57 13h1v1h-1zM58 14h1v1h-1zM48 15h1v1h-1zM52 15h2v1h-2zM56 15h1v1h-1zM58 16h1v1h-1zM38 17h1v1h-1zM42 17h4v1h-4zM55 17h1v1h-1zM35 18h1v1h-1zM43 18h2v1h-2zM56 19h1v1h-1zM61 19h1v1h-1zM65 19h1v1h-1zM68 19h1v1h-1zM45 20h1v1h-1zM53 20h2v1h-2zM64 20h1v1h-1zM44 21h1v1h-1zM53 21h1v1h-1zM66 21h1v1h-1zM52 22h1v1h-1zM38 23h1v1h-1zM40 23h1v1h-1zM38 24h2v1h-2zM41 24h1v1h-1zM73 24h1v1h-1zM38 25h1v1h-1zM40 25h1v1h-1zM72 25h1v1h-1zM38 26h1v1h-1zM54 27h1v1h-1zM57 27h2v1h-2zM56 28h1v1h-1zM46 30h1v1h-1zM52 31h3v1h-3zM46 33h1v1h-1zM55 33h1v1h-1zM61 33h1v1h-1zM47 34h1v1h-1zM49 34h1v1h-1zM54 34h2v1h-2zM45 35h1v1h-1zM71 37h1v1h-1zM65 38h2v1h-2zM70 38h2v1h-2zM65 39h1v1h-1zM73 39h1v1h-1zM67 40h1v1h-1zM79 42h1v1h-1zM78 43h1v1h-1zM43 45h1v1h-1zM55 45h2v1h-2zM41 46h1v1h-1zM43 47h1v1h-1zM29 49h1v1h-1zM48 50h1v1h-1zM51 50h1v1h-1zM66 50h1v1h-1zM50 51h1v1h-1zM66 51h1v1h-1zM79 52h1v1h-1zM45 54h1v1h-1zM57 58h1v1h-1zM62 58h1v1h-1zM23 59h1v1h-1zM56 59h2v1h-2zM62 59h1v1h-1zM85 59h1v1h-1zM78 60h1v1h-1zM52 61h1v1h-1zM34 62h1v1h-1zM52 62h2v1h-2zM35 63h1v1h-1zM56 69h1v1h-1zM39 70h1v1h-1zM70 73h1v1h-1zM16 74h1v1h-1zM89 79h1v1h-1zM91 80h1v1h-1zM77 82h1v1h-1zM74 84h1v1h-1zM77 85h1v1h-1zM85 85h1v1h-1zM92 88h1v1h-1zM93 89h1v1h-1zM21 91h1v1h-1zM20 96h1v1h-1zM17 97h1v1h-1zM20 97h1v1h-1zM11 103h1v1h-1zM19 105h1v1h-1zM16 118h1v1h-1z"/>
<path fill="#e31a1c" d="M58 13h1v1h-1zM45 14h2v1h-2zM48 14h1v1h-1zM51 14h1v1h-1zM54 14h1v1h-1zM56 14h2v1h-2zM49 15h1v1h-1zM55 15h1v1h-1zM45 16h2v1h-2zM48 16h1v1h-1zM59 16h1v1h-1zM41 17h1v1h-1zM61 17h1v1h-1zM39 18h1v1h-1zM45 18h1v1h-1zM60 18h1v1h-1zM62 18h1v1h-1zM65 18h1v1h-1zM67 18h1v1h-1zM35 19h1v1h-1zM43 19h2v1h-2zM52 19h1v1h-1zM57 19h1v1h-1zM60 19h1v1h-1zM63 19h2v1h-2zM37 20h1v1h-1zM43 20h1v1h-1zM51 20h1v1h-1zM55 20h1v1h-1zM59 20h3v1h-3zM63 20h1v1h-1zM69 20h1v1h-1zM40 21h1v1h-1zM45 21h1v1h-1zM50 21h1v1h-1zM60 21h2v1h-2zM64 21h1v1h-1zM40 22h1v1h-1zM61 22h1v1h-1zM63 22h2v1h-2zM37 23h1v1h-1zM41 23h1v1h-1zM49 23h1v1h-1zM51 23h1v1h-1zM63 23h1v1h-1zM70 23h1v1h-1zM46 24h1v1h-1zM50 24h2v1h-2zM63 24h1v1h-1zM70 24h1v1h-1zM63 25h1v1h-1zM36 26h1v1h-1zM58 26h2v1h-2zM47 27h1v1h-1zM55 27h2v1h-2zM58 28h1v1h-1zM39 29h2v1h-2zM44 29h1v1h-1zM67 29h2v1h-2zM39 30h1v1h-1zM47 30h2v1h-2zM52 32h1v1h-1zM55 32h1v1h-1zM44 34h1v1h-1zM50 34h1v1h-1zM56 34h1v1h-1zM62 34h1v1h-1zM51 35h1v1h-1zM55 35h1v1h-1zM58 35h1v1h-1zM63 35h1v1h-1zM48 36h3v1h-3zM61 36h1v1h-1zM67 37h1v1h-1zM69 37h1v1h-1zM69 38h1v1h-1zM64 39h1v1h-1zM66 39h1v1h-1zM72 39h1v1h-1zM31 40h1v1h-1zM64 40h1v1h-1zM66 40h1v1h-1zM72 40h1v1h-1zM40 41h1v1h-1zM46 41h1v1h-1zM73 42h2v1h-2zM57 44h3v1h-3zM42 45h1v1h-1zM71 45h1v1h-1zM78 45h1v1h-1zM55 46h2v1h-2zM41 47h1v1h-1zM52 47h2v1h-2zM46 48h1v1h-1zM51 48h1v1h-1zM70 48h1v1h-1zM47 49h1v1h-1zM50 49h1v1h-1zM63 49h1v1h-1zM51 51h1v1h-1zM61 52h2v1h-2zM21 54h2v1h-2zM55 54h1v1h-1zM45 55h1v1h-1zM42 56h1v1h-1zM23 58h1v1h-1zM81 58h1v1h-1zM83 58h1v1h-1zM33 59h1v1h-1zM58 59h1v1h-1zM56 60h1v1h-1zM34 64h1v1h-1zM40 64h1v1h-1zM27 67h1v1h-1zM27 70h1v1h-1zM76 73h1v1h-1zM54 79h1v1h-1zM53 80h1v1h-1zM12 81h1v1h-1zM53 81h1v1h-1zM86 81h1v1h-1zM33 82h1v1h-1zM78 82h1v1h-1zM86 82h1v1h-1zM76 83h1v1h-1zM77 86h1v1h-1zM89 92h1v1h-1zM15 93h1v1h-1zM16 94h1v1h-1zM19 98h1v1h-1zM33 104h1v1h-1zM7 106h1v1h-1zM93 122h1v1h-1z"/>
<path fill="#ed2f22" d="M50 14h1v1h-1zM51 15h1v1h-1zM39 16h1v1h-1zM42 16h2v1h-2zM39 17h1v1h-1zM47 17h1v1h-1zM49 17h1v1h-1zM59 17h1v1h-1zM41 18h1v1h-1zM46 18h1v1h-1zM48 18h1v1h-1zM52 18h1v1h-1zM55 18h1v1h-1zM59 18h1v1h-1zM64 18h1v1h-1zM40 19h1v1h-1zM42 19h1v1h-1zM46 19h1v1h-1zM54 19h1v1h-1zM59 19h1v1h-1zM42 20h1v1h-1zM49 20h1v1h-1zM57 20h2v1h-2zM38 21h2v1h-2zM41 21h3v1h-3zM62 21h2v1h-2zM39 22h1v1h-1zM41 22h1v1h-1zM44 22h1v1h-1zM59 22h1v1h-1zM46 23h3v1h-3zM54 23h1v1h-1zM65 23h1v1h-1zM32 24h2v1h-2zM47 24h1v1h-1zM53 24h2v1h-2zM62 24h1v1h-1zM69 24h1v1h-1zM32 25h1v1h-1zM36 25h1v1h-1zM41 25h1v1h-1zM46 25h1v1h-1zM50 25h1v1h-1zM52 25h1v1h-1zM54 25h1v1h-1zM60 25h2v1h-2zM69 25h1v1h-1zM73 25h2v1h-2zM31 26h2v1h-2zM35 26h1v1h-1zM37 26h1v1h-1zM49 26h3v1h-3zM57 26h1v1h-1zM60 26h3v1h-3zM36 27h1v1h-1zM41 27h1v1h-1zM53 27h1v1h-1zM59 27h4v1h-4zM40 28h2v1h-2zM43 28h1v1h-1zM53 28h2v1h-2zM61 28h1v1h-1zM67 28h1v1h-1zM71 28h1v1h-1zM74 28h2v1h-2zM38 29h1v1h-1zM41 29h1v1h-1zM58 29h2v1h-2zM62 29h1v1h-1zM73 29h3v1h-3zM38 30h1v1h-1zM41 30h1v1h-1zM44 30h1v1h-1zM49 30h1v1h-1zM52 30h2v1h-2zM60 30h2v1h-2zM26 31h1v1h-1zM31 31h1v1h-1zM45 31h1v1h-1zM62 31h1v1h-1zM72 31h2v1h-2zM75 31h1v1h-1zM32 32h1v1h-1zM46 32h1v1h-1zM75 32h1v1h-1zM33 33h1v1h-1zM37 33h1v1h-1zM48 33h1v1h-1zM56 33h1v1h-1zM62 33h1v1h-1zM32 34h1v1h-1zM41 34h1v1h-1zM51 34h1v1h-1zM57 34h1v1h-1zM32 35h1v1h-1zM47 35h1v1h-1zM64 35h1v1h-1zM33 36h1v1h-1zM36 36h1v1h-1zM47 36h1v1h-1zM51 36h1v1h-1zM59 36h1v1h-1zM63 36h1v1h-1zM65 36h1v1h-1zM68 36h1v1h-1zM36 37h1v1h-1zM61 37h1v1h-1zM65 37h1v1h-1zM70 37h1v1h-1zM48 38h1v1h-1zM64 38h1v1h-1zM72 38h1v1h-1zM43 39h2v1h-2zM48 39h1v1h-1zM40 40h1v1h-1zM43 40h1v1h-1zM68 40h1v1h-1zM25 41h1v1h-1zM44 41h1v1h-1zM72 41h2v1h-2zM66 42h1v1h-1zM78 42h1v1h-1zM57 43h1v1h-1zM73 43h2v1h-2zM79 43h1v1h-1zM44 44h2v1h-2zM77 44h2v1h-2zM44 45h1v1h-1zM46 45h1v1h-1zM54 45h1v1h-1zM72 45h1v1h-1zM28 46h1v1h-1zM53 46h1v1h-1zM70 46h2v1h-2zM79 46h1v1h-1zM69 47h1v1h-1zM85 47h1v1h-1zM39 48h1v1h-1zM50 48h1v1h-1zM69 48h1v1h-1zM28 49h1v1h-1zM37 49h1v1h-1zM32 50h1v1h-1zM52 50h1v1h-1zM63 50h1v1h-1zM61 51h1v1h-1zM47 52h3v1h-3zM39 54h1v1h-1zM41 54h1v1h-1zM54 54h1v1h-1zM56 54h1v1h-1zM46 55h1v1h-1zM88 55h1v1h-1zM68 56h1v1h-1zM61 57h1v1h-1zM55 58h2v1h-2zM61 58h1v1h-1zM71 58h1v1h-1zM76 58h1v1h-1zM30 59h1v1h-1zM55 59h1v1h-1zM63 59h1v1h-1zM84 59h1v1h-1zM33 60h1v1h-1zM81 60h1v1h-1zM78 62h1v1h-1zM67 63h1v1h-1zM19 64h1v1h-1zM68 64h1v1h-1zM48 65h1v1h-1zM63 65h1v1h-1zM68 65h1v1h-1zM48 66h1v1h-1zM62 66h1v1h-1zM90 66h1v1h-1zM16 68h1v1h-1zM27 68h1v1h-1zM55 69h1v1h-1zM67 69h1v1h-1zM29 70h1v1h-1zM29 71h1v1h-1zM85 71h1v1h-1zM85 72h1v1h-1zM70 74h1v1h-1zM17 75h1v1h-1zM16 76h1v1h-1zM15 77h1v1h-1zM17 77h1v1h-1zM16 78h1v1h-1zM51 78h1v1h-1zM53 78h1v1h-1zM88 78h1v1h-1zM14 79h1v1h-1zM51 79h1v1h-1zM52 80h1v1h-1zM34 82h1v1h-1zM53 82h1v1h-1zM77 83h1v1h-1zM87 83h1v1h-1zM30 84h1v1h-1zM15 87h1v1h-1zM22 87h1v1h-1zM19 88h1v1h-1zM21 88h1v1h-1zM14 89h1v1h-1zM20 89h1v1h-1zM88 92h1v1h-1zM16 95h1v1h-1zM97 98h1v1h-1zM91 99h1v1h-1zM95 100h1v1h-1zM87 109h1v1h-1zM13 113h1v1h-1zM93 113h1v1h-1zM89 114h2v1h-2zM59 119h1v1h-1z"/>
<path fill="#800026" d="M59 14h4v1h-4zM67 19h1v1h-1zM67 20h2v1h-2zM42 71h1v1h-1zM100 98h1v1h-1zM7 107h1v1h-1z"/>
<path fill="#fec965" d="M39 15h1v1h-1zM64 15h1v1h-1zM64 17h1v1h-1zM75 26h1v1h-1zM77 30h1v1h-1zM79 32h1v1h-1zM23 38h1v1h-1zM25 38h1v1h-1zM76 38h1v1h-1zM84 43h2v1h-2zM26 45h1v1h-1zM20 50h1v1h-1zM20 51h1v1h-1zM87 51h1v1h-1zM22 52h1v1h-1zM87 52h1v1h-1zM75 53h1v1h-1zM25 54h1v1h-1zM49 54h1v1h-1zM35 55h1v1h-1zM37 55h1v1h-1zM49 55h1v1h-1zM37 56h1v1h-1zM45 58h1v1h-1zM18 59h1v1h-1zM44 59h1v1h-1zM46 59h1v1h-1zM20 60h1v1h-1zM83 61h1v1h-1zM23 62h1v1h-1zM84 62h1v1h-1zM27 63h1v1h-1zM29 63h1v1h-1zM85 63h1v1h-1zM29 64h1v1h-1zM60 65h1v1h-1zM84 65h1v1h-1zM90 65h1v1h-1zM60 66h1v1h-1zM19 67h1v1h-1zM76 68h1v1h-1zM19 69h1v1h-1zM32 69h1v1h-1zM87 69h2v1h-2zM18 70h2v1h-2zM64 70h1v1h-1zM21 71h1v1h-1zM50 71h1v1h-1zM80 71h1v1h-1zM25 72h1v1h-1zM58 72h2v1h-2zM18 73h1v1h-1zM45 73h1v1h-1zM56 73h1v1h-1zM81 73h1v1h-1zM44 74h1v1h-1zM60 74h1v1h-1zM84 74h1v1h-1zM50 75h2v1h-2zM82 75h1v1h-1zM26 76h1v1h-1zM90 76h2v1h-2zM29 77h1v1h-1zM31 77h2v1h-2zM35 77h2v1h-2zM40 77h2v1h-2zM78 77h1v1h-1zM76 78h1v1h-1zM78 78h1v1h-1zM81 78h1v1h-1zM66 79h1v1h-1zM84 79h1v1h-1zM27 80h1v1h-1zM76 80h1v1h-1zM38 81h1v1h-1zM76 81h1v1h-1zM15 83h1v1h-1zM22 83h1v1h-1zM11 84h1v1h-1zM57 84h1v1h-1zM69 84h1v1h-1zM79 84h1v1h-1zM82 84h1v1h-1zM20 85h2v1h-2zM80 85h1v1h-1zM14 86h1v1h-1zM81 86h1v1h-1zM30 87h1v1h-1zM33 87h1v1h-1zM27 88h1v1h-1zM29 88h1v1h-1zM44 88h1v1h-1zM82 88h1v1h-1zM39 89h1v1h-1zM75 89h1v1h-1zM83 89h1v1h-1zM96 89h1v1h-1zM38 90h1v1h-1zM40 90h1v1h-1zM80 90h1v1h-1zM83 90h1v1h-1zM35 91h1v1h-1zM42 91h1v1h-1zM79 91h1v1h-1zM86 91h1v1h-1zM98 93h1v1h-1zM22 95h1v1h-1zM74 95h1v1h-1zM10 96h1v1h-1zM13 96h1v1h-1zM35 97h1v1h-1zM45 97h1v1h-1zM74 97h2v1h-2zM88 97h1v1h-1zM16 98h1v1h-1zM88 98h1v1h-1zM95 98h1v1h-1zM13 99h1v1h-1zM25 100h1v1h-1zM31 100h1v1h-1zM46 100h1v1h-1zM98 100h1v1h-1zM11 101h1v1h-1zM20 101h1v1h-1zM23 101h1v1h-1zM33 101h1v1h-1zM13 102h1v1h-1zM31 102h1v1h-1zM73 102h1v1h-1zM27 104h2v1h-2zM31 104h1v1h-1zM65 104h1v1h-1zM93 104h1v1h-1zM13 105h1v1h-1zM27 105h1v1h-1zM45 105h1v1h-1zM23 106h1v1h-1zM18 107h1v1h-1zM28 107h1v1h-1zM16 108h1v1h-1zM47 108h1v1h-1zM68 108h1v1h-1zM81 108h1v1h-1zM97 108h1v1h-1zM23 109h1v1h-1zM97 109h1v1h-1zM15 110h1v1h-1zM18 110h1v1h-1zM17 111h1v1h-1zM19 113h1v1h-1zM26 113h1v1h-1zM97 113h1v1h-1zM86 114h1v1h-1zM27 115h1v1h-1zM11 116h1v1h-1zM86 116h1v1h-1zM54 117h1v1h-1zM19 118h1v1h-1zM95 118h1v1h-1zM15 120h1v1h-1zM93 120h1v1h-1zM22 124h1v1h-1zM65 126h1v1h-1zM88 127h1v1h-1zM97 127h1v1h-1zM93 129h1v1h-1zM90 130h1v1h-1zM90 131h1v1h-1zM58 132h1v1h-1zM61 135h1v1h-1zM88 135h1v1h-1zM39 146h1v1h-1z"/>
<path fill="#feba54" d="M40 15h1v1h-1zM63 15h1v1h-1zM35 17h1v1h-1zM24 39h1v1h-1zM25 44h1v1h-1zM32 45h1v1h-1zM84 49h1v1h-1zM55 51h1v1h-1zM83 51h1v1h-1zM85 51h1v1h-1zM20 52h1v1h-1zM24 52h1v1h-1zM58 52h1v1h-1zM32 54h1v1h-1zM35 54h1v1h-1zM48 54h1v1h-1zM76 54h1v1h-1zM26 55h1v1h-1zM24 56h1v1h-1zM48 56h1v1h-1zM26 57h1v1h-1zM29 57h2v1h-2zM19 59h1v1h-1zM48 59h1v1h-1zM68 59h2v1h-2zM89 60h1v1h-1zM18 61h1v1h-1zM32 61h1v1h-1zM37 61h1v1h-1zM84 61h1v1h-1zM73 62h2v1h-2zM89 62h1v1h-1zM62 63h1v1h-1zM27 64h1v1h-1zM59 64h1v1h-1zM42 65h1v1h-1zM29 66h1v1h-1zM36 66h2v1h-2zM45 66h1v1h-1zM18 67h1v1h-1zM20 67h1v1h-1zM45 67h1v1h-1zM65 67h1v1h-1zM19 68h2v1h-2zM64 68h1v1h-1zM77 68h1v1h-1zM89 68h1v1h-1zM48 69h1v1h-1zM74 69h1v1h-1zM90 69h1v1h-1zM49 70h1v1h-1zM71 70h1v1h-1zM17 71h1v1h-1zM73 71h1v1h-1zM79 71h1v1h-1zM18 72h1v1h-1zM45 72h1v1h-1zM79 72h1v1h-1zM87 72h1v1h-1zM39 73h1v1h-1zM58 73h1v1h-1zM65 73h1v1h-1zM79 73h1v1h-1zM20 74h1v1h-1zM22 74h1v1h-1zM24 75h1v1h-1zM45 75h1v1h-1zM63 75h1v1h-1zM65 75h1v1h-1zM73 75h1v1h-1zM29 76h1v1h-1zM31 76h1v1h-1zM35 76h1v1h-1zM41 76h2v1h-2zM60 76h1v1h-1zM75 76h2v1h-2zM62 77h1v1h-1zM74 77h1v1h-1zM95 77h1v1h-1zM24 78h1v1h-1zM63 78h1v1h-1zM68 78h1v1h-1zM75 78h1v1h-1zM77 78h1v1h-1zM17 79h1v1h-1zM36 79h1v1h-1zM49 79h1v1h-1zM60 79h1v1h-1zM78 79h1v1h-1zM83 79h1v1h-1zM60 80h1v1h-1zM31 81h1v1h-1zM48 81h1v1h-1zM51 81h1v1h-1zM93 81h1v1h-1zM95 81h1v1h-1zM14 83h1v1h-1zM24 83h1v1h-1zM70 83h1v1h-1zM74 83h1v1h-1zM82 83h1v1h-1zM50 85h2v1h-2zM56 85h1v1h-1zM68 85h1v1h-1zM72 85h1v1h-1zM29 86h1v1h-1zM57 86h1v1h-1zM80 86h1v1h-1zM25 87h2v1h-2zM30 88h1v1h-1zM70 88h2v1h-2zM84 88h1v1h-1zM28 89h2v1h-2zM40 89h1v1h-1zM48 89h1v1h-1zM95 89h1v1h-1zM18 90h1v1h-1zM24 90h1v1h-1zM28 90h1v1h-1zM61 90h1v1h-1zM90 90h1v1h-1zM15 91h1v1h-1zM39 91h1v1h-1zM77 91h1v1h-1zM81 91h1v1h-1zM85 91h1v1h-1zM18 92h1v1h-1zM82 92h1v1h-1zM92 92h2v1h-2zM23 93h1v1h-1zM25 94h1v1h-1zM63 94h1v1h-1zM69 94h1v1h-1zM84 94h1v1h-1zM12 95h1v1h-1zM23 95h1v1h-1zM90 95h1v1h-1zM92 95h1v1h-1zM31 96h1v1h-1zM45 96h1v1h-1zM99 96h1v1h-1zM10 97h1v1h-1zM12 97h2v1h-2zM66 97h1v1h-1zM87 97h1v1h-1zM89 97h1v1h-1zM12 98h1v1h-1zM32 99h1v1h-1zM35 99h1v1h-1zM86 99h1v1h-1zM17 100h1v1h-1zM21 100h1v1h-1zM32 100h1v1h-1zM90 100h1v1h-1zM21 101h1v1h-1zM51 102h1v1h-1zM98 102h1v1h-1zM29 103h1v1h-1zM15 104h1v1h-1zM64 104h1v1h-1zM87 104h1v1h-1zM93 105h1v1h-1zM17 106h1v1h-1zM75 106h1v1h-1zM93 106h1v1h-1zM17 107h1v1h-1zM93 107h1v1h-1zM96 107h2v1h-2zM18 108h1v1h-1zM86 108h1v1h-1zM84 109h1v1h-1zM90 109h1v1h-1zM21 110h1v1h-1zM82 110h1v1h-1zM88 111h1v1h-1zM21 112h1v1h-1zM12 114h1v1h-1zM81 114h1v1h-1zM70 115h2v1h-2zM94 117h1v1h-1zM20 118h1v1h-1zM85 118h1v1h-1zM97 118h1v1h-1zM97 122h1v1h-1zM97 123h1v1h-1zM91 126h1v1h-1zM95 126h1v1h-1zM64 127h1v1h-1zM34 128h1v1h-1zM92 128h1v1h-1zM66 132h1v1h-1zM60 134h1v1h-1zM87 134h1v1h-1zM62 135h1v1h-1zM87 135h1v1h-1zM78 140h1v1h-1zM38 146h1v1h-1z"/>
<path fill="#f23924" d="M41 15h2v1h-2zM50 15h1v1h-1zM62 15h1v1h-1zM40 16h1v1h-1zM50 16h1v1h-1zM53 16h1v1h-1zM62 16h1v1h-1zM40 17h1v1h-1zM48 17h1v1h-1zM51 17h1v1h-1zM54 17h1v1h-1zM62 17h1v1h-1zM40 18h1v1h-1zM47 18h1v1h-1zM47 19h2v1h-2zM50 19h1v1h-1zM34 20h3v1h-3zM50 20h1v1h-1zM49 21h1v1h-1zM55 21h2v1h-2zM58 21h1v1h-1zM37 22h1v1h-1zM46 22h1v1h-1zM48 22h1v1h-1zM54 22h1v1h-1zM58 22h1v1h-1zM65 22h1v1h-1zM36 23h1v1h-1zM44 23h1v1h-1zM52 23h2v1h-2zM55 23h2v1h-2zM60 23h1v1h-1zM66 23h1v1h-1zM31 24h1v1h-1zM36 24h1v1h-1zM42 24h1v1h-1zM44 24h1v1h-1zM48 24h2v1h-2zM56 24h1v1h-1zM59 24h3v1h-3zM68 24h1v1h-1zM31 25h1v1h-1zM34 25h1v1h-1zM45 25h1v1h-1zM47 25h1v1h-1zM55 25h1v1h-1zM57 25h1v1h-1zM64 25h1v1h-1zM41 26h1v1h-1zM48 26h1v1h-1zM52 26h1v1h-1zM54 26h1v1h-1zM64 26h1v1h-1zM69 26h1v1h-1zM33 27h2v1h-2zM38 27h1v1h-1zM51 27h2v1h-2zM63 27h1v1h-1zM71 27h1v1h-1zM74 27h1v1h-1zM52 28h1v1h-1zM62 28h1v1h-1zM70 28h1v1h-1zM72 28h1v1h-1zM29 29h1v1h-1zM42 29h1v1h-1zM49 29h1v1h-1zM71 29h2v1h-2zM54 30h2v1h-2zM63 30h1v1h-1zM69 30h1v1h-1zM72 30h3v1h-3zM33 31h1v1h-1zM40 31h1v1h-1zM46 31h1v1h-1zM49 31h2v1h-2zM61 31h1v1h-1zM63 31h1v1h-1zM76 31h1v1h-1zM33 32h1v1h-1zM45 32h1v1h-1zM51 32h1v1h-1zM58 32h1v1h-1zM61 32h2v1h-2zM72 32h2v1h-2zM32 33h1v1h-1zM35 33h2v1h-2zM38 33h1v1h-1zM44 33h1v1h-1zM52 33h1v1h-1zM75 33h2v1h-2zM34 34h1v1h-1zM38 34h1v1h-1zM52 34h1v1h-1zM31 35h1v1h-1zM53 35h1v1h-1zM56 35h1v1h-1zM32 36h1v1h-1zM35 36h1v1h-1zM54 36h2v1h-2zM37 37h2v1h-2zM49 37h1v1h-1zM60 37h1v1h-1zM64 37h1v1h-1zM37 38h1v1h-1zM47 38h1v1h-1zM53 38h1v1h-1zM45 39h1v1h-1zM49 39h1v1h-1zM74 39h1v1h-1zM32 40h1v1h-1zM41 40h1v1h-1zM46 40h1v1h-1zM48 40h2v1h-2zM30 41h2v1h-2zM41 41h1v1h-1zM47 41h1v1h-1zM65 41h1v1h-1zM67 41h2v1h-2zM45 42h1v1h-1zM80 42h1v1h-1zM45 43h2v1h-2zM55 43h1v1h-1zM46 44h1v1h-1zM60 44h1v1h-1zM71 44h1v1h-1zM73 44h1v1h-1zM75 44h1v1h-1zM35 45h1v1h-1zM38 45h1v1h-1zM40 45h1v1h-1zM45 45h1v1h-1zM58 45h1v1h-1zM79 45h1v1h-1zM54 46h1v1h-1zM57 46h1v1h-1zM27 47h1v1h-1zM38 47h1v1h-1zM40 47h1v1h-1zM51 47h1v1h-1zM68 47h1v1h-1zM27 48h1v1h-1zM40 48h1v1h-1zM44 48h1v1h-1zM68 48h1v1h-1zM79 48h1v1h-1zM36 49h1v1h-1zM38 49h1v1h-1zM44 49h1v1h-1zM52 49h1v1h-1zM71 49h1v1h-1zM31 50h1v1h-1zM36 50h3v1h-3zM65 50h1v1h-1zM70 50h1v1h-1zM47 51h1v1h-1zM62 51h1v1h-1zM79 51h2v1h-2zM28 52h1v1h-1zM46 52h1v1h-1zM50 52h1v1h-1zM78 52h1v1h-1zM39 53h1v1h-1zM46 53h1v1h-1zM64 53h1v1h-1zM79 53h1v1h-1zM60 54h1v1h-1zM63 54h1v1h-1zM88 54h1v1h-1zM21 55h2v1h-2zM32 56h1v1h-1zM67 56h1v1h-1zM88 56h1v1h-1zM71 57h1v1h-1zM84 57h1v1h-1zM22 58h1v1h-1zM24 58h1v1h-1zM74 58h1v1h-1zM82 58h1v1h-1zM34 59h1v1h-1zM59 59h1v1h-1zM73 59h1v1h-1zM62 60h2v1h-2zM79 60h2v1h-2zM63 61h1v1h-1zM79 61h1v1h-1zM47 62h1v1h-1zM36 63h1v1h-1zM47 63h1v1h-1zM68 63h1v1h-1zM81 63h1v1h-1zM35 64h1v1h-1zM52 65h1v1h-1zM22 66h1v1h-1zM49 66h1v1h-1zM53 66h1v1h-1zM87 66h1v1h-1zM47 67h1v1h-1zM63 67h1v1h-1zM73 67h1v1h-1zM81 67h1v1h-1zM25 68h1v1h-1zM28 68h1v1h-1zM73 68h1v1h-1zM68 69h1v1h-1zM82 69h1v1h-1zM34 70h1v1h-1zM38 71h1v1h-1zM29 72h1v1h-1zM71 72h1v1h-1zM83 72h1v1h-1zM77 73h1v1h-1zM33 74h1v1h-1zM94 74h1v1h-1zM32 75h1v1h-1zM14 76h2v1h-2zM15 78h1v1h-1zM50 78h1v1h-1zM52 78h1v1h-1zM54 78h1v1h-1zM25 79h1v1h-1zM56 79h2v1h-2zM92 79h1v1h-1zM54 80h1v1h-1zM23 81h1v1h-1zM80 81h1v1h-1zM30 83h1v1h-1zM38 83h2v1h-2zM52 83h1v1h-1zM78 83h1v1h-1zM86 83h1v1h-1zM77 84h1v1h-1zM84 84h1v1h-1zM27 85h1v1h-1zM96 85h1v1h-1zM23 87h1v1h-1zM31 90h1v1h-1zM14 92h1v1h-1zM19 92h1v1h-1zM13 93h1v1h-1zM88 93h1v1h-1zM17 94h1v1h-1zM17 98h1v1h-1zM33 103h1v1h-1zM19 104h1v1h-1zM91 106h1v1h-1zM9 110h1v1h-1zM95 113h1v1h-1zM89 115h1v1h-1zM22 118h1v1h-1zM69 123h1v1h-1z"/>
<path fill="#f74427" d="M43 15h1v1h-1zM51 16h2v1h-2zM63 16h1v1h-1zM63 17h1v1h-1zM53 18h2v1h-2zM46 20h1v1h-1zM33 21h2v1h-2zM37 21h1v1h-1zM46 21h1v1h-1zM48 21h1v1h-1zM57 21h1v1h-1zM36 22h1v1h-1zM42 22h2v1h-2zM47 22h1v1h-1zM55 22h1v1h-1zM57 22h1v1h-1zM66 22h1v1h-1zM32 23h1v1h-1zM35 23h1v1h-1zM42 23h2v1h-2zM57 23h2v1h-2zM69 23h1v1h-1zM34 24h2v1h-2zM57 24h2v1h-2zM65 24h3v1h-3zM35 25h1v1h-1zM44 25h1v1h-1zM49 25h1v1h-1zM53 25h1v1h-1zM56 25h1v1h-1zM70 25h1v1h-1zM42 26h2v1h-2zM47 26h1v1h-1zM53 26h1v1h-1zM56 26h1v1h-1zM70 26h5v1h-5zM32 27h1v1h-1zM35 27h1v1h-1zM37 27h1v1h-1zM40 27h1v1h-1zM50 27h1v1h-1zM69 27h2v1h-2zM73 27h1v1h-1zM38 28h1v1h-1zM42 28h1v1h-1zM64 28h3v1h-3zM68 28h2v1h-2zM73 28h1v1h-1zM43 29h1v1h-1zM52 29h2v1h-2zM55 29h1v1h-1zM63 29h1v1h-1zM66 29h1v1h-1zM27 30h1v1h-1zM30 30h4v1h-4zM42 30h2v1h-2zM50 30h2v1h-2zM39 31h1v1h-1zM44 31h1v1h-1zM26 32h1v1h-1zM30 32h1v1h-1zM34 32h1v1h-1zM36 32h1v1h-1zM47 32h1v1h-1zM56 32h2v1h-2zM60 32h1v1h-1zM77 32h1v1h-1zM26 33h1v1h-1zM41 33h1v1h-1zM49 33h1v1h-1zM77 33h1v1h-1zM31 34h1v1h-1zM33 34h1v1h-1zM35 34h3v1h-3zM39 34h1v1h-1zM43 34h1v1h-1zM63 34h1v1h-1zM37 35h1v1h-1zM40 35h2v1h-2zM52 35h1v1h-1zM57 35h1v1h-1zM77 35h1v1h-1zM31 36h1v1h-1zM37 36h1v1h-1zM46 36h1v1h-1zM52 36h1v1h-1zM67 36h1v1h-1zM69 36h1v1h-1zM71 36h1v1h-1zM53 37h3v1h-3zM59 37h1v1h-1zM38 38h1v1h-1zM54 38h1v1h-1zM59 38h1v1h-1zM37 39h1v1h-1zM41 39h2v1h-2zM47 39h1v1h-1zM63 39h1v1h-1zM30 40h1v1h-1zM69 40h1v1h-1zM74 40h1v1h-1zM24 41h1v1h-1zM29 41h1v1h-1zM43 41h1v1h-1zM48 41h3v1h-3zM52 41h1v1h-1zM54 41h1v1h-1zM74 41h1v1h-1zM79 41h1v1h-1zM25 42h2v1h-2zM28 42h1v1h-1zM53 42h1v1h-1zM56 42h1v1h-1zM58 42h3v1h-3zM67 42h1v1h-1zM72 42h1v1h-1zM28 43h2v1h-2zM56 43h1v1h-1zM36 44h1v1h-1zM55 44h1v1h-1zM39 45h1v1h-1zM41 45h1v1h-1zM60 45h1v1h-1zM70 45h1v1h-1zM29 46h1v1h-1zM38 46h1v1h-1zM52 46h1v1h-1zM62 46h1v1h-1zM72 46h1v1h-1zM44 47h1v1h-1zM50 47h1v1h-1zM54 47h1v1h-1zM67 47h1v1h-1zM71 47h1v1h-1zM24 48h1v1h-1zM62 48h1v1h-1zM77 48h1v1h-1zM19 49h3v1h-3zM27 49h1v1h-1zM48 49h1v1h-1zM62 49h1v1h-1zM67 49h1v1h-1zM77 49h1v1h-1zM22 50h1v1h-1zM33 50h1v1h-1zM35 50h1v1h-1zM67 50h1v1h-1zM30 51h2v1h-2zM70 51h1v1h-1zM29 52h2v1h-2zM34 52h1v1h-1zM45 52h1v1h-1zM63 52h1v1h-1zM40 53h1v1h-1zM45 53h1v1h-1zM54 53h2v1h-2zM80 53h1v1h-1zM55 55h1v1h-1zM60 55h1v1h-1zM19 56h1v1h-1zM40 56h1v1h-1zM56 57h1v1h-1zM68 57h1v1h-1zM85 57h1v1h-1zM73 58h1v1h-1zM75 58h1v1h-1zM22 59h1v1h-1zM32 59h1v1h-1zM74 59h1v1h-1zM77 59h1v1h-1zM83 59h1v1h-1zM35 60h1v1h-1zM39 60h1v1h-1zM54 60h1v1h-1zM29 61h1v1h-1zM34 61h1v1h-1zM51 61h1v1h-1zM54 61h1v1h-1zM62 61h1v1h-1zM51 62h1v1h-1zM68 62h1v1h-1zM19 63h2v1h-2zM33 63h1v1h-1zM41 63h1v1h-1zM46 63h1v1h-1zM48 63h1v1h-1zM52 63h1v1h-1zM65 63h1v1h-1zM78 63h1v1h-1zM41 64h1v1h-1zM47 64h1v1h-1zM66 64h1v1h-1zM78 64h1v1h-1zM47 65h1v1h-1zM64 65h1v1h-1zM69 65h1v1h-1zM87 65h1v1h-1zM50 66h1v1h-1zM73 66h2v1h-2zM48 67h1v1h-1zM88 67h1v1h-1zM83 68h1v1h-1zM26 69h1v1h-1zM29 69h1v1h-1zM34 69h1v1h-1zM39 69h1v1h-1zM60 69h2v1h-2zM33 70h1v1h-1zM40 70h1v1h-1zM66 70h1v1h-1zM82 70h2v1h-2zM27 71h1v1h-1zM33 71h1v1h-1zM28 72h1v1h-1zM42 72h1v1h-1zM75 72h1v1h-1zM34 73h1v1h-1zM52 73h1v1h-1zM53 74h2v1h-2zM71 74h1v1h-1zM75 74h1v1h-1zM77 74h2v1h-2zM18 76h1v1h-1zM50 77h1v1h-1zM58 77h1v1h-1zM56 78h1v1h-1zM58 78h1v1h-1zM90 78h2v1h-2zM55 79h1v1h-1zM93 79h1v1h-1zM13 80h1v1h-1zM25 80h1v1h-1zM89 80h1v1h-1zM78 81h1v1h-1zM81 81h1v1h-1zM90 81h1v1h-1zM12 82h1v1h-1zM52 82h1v1h-1zM29 83h1v1h-1zM51 83h1v1h-1zM60 85h1v1h-1zM86 85h1v1h-1zM46 86h1v1h-1zM16 87h1v1h-1zM76 87h2v1h-2zM58 88h1v1h-1zM18 89h1v1h-1zM85 89h1v1h-1zM20 90h1v1h-1zM30 90h1v1h-1zM30 91h1v1h-1zM12 94h1v1h-1zM47 96h1v1h-1zM98 97h1v1h-1zM90 98h1v1h-1zM68 101h1v1h-1zM11 102h1v1h-1zM87 102h1v1h-1zM97 104h1v1h-1zM99 111h1v1h-1zM13 112h1v1h-1zM71 114h1v1h-1zM92 115h1v1h-1zM89 116h1v1h-1zM20 120h1v1h-1zM100 125h1v1h-1z"/>
<path fill="#cc0a22" d="M59 15h1v1h-1zM39 25h1v1h-1zM45 27h1v1h-1zM44 28h1v1h-1zM46 34h1v1h-1zM59 34h2v1h-2zM62 35h1v1h-1zM68 37h1v1h-1zM67 38h1v1h-1zM43 46h1v1h-1zM28 47h1v1h-1zM28 48h1v1h-1zM49 50h1v1h-1zM48 51h1v1h-1zM84 58h1v1h-1zM81 59h1v1h-1zM35 61h1v1h-1zM51 67h1v1h-1zM53 79h1v1h-1zM75 86h1v1h-1zM15 89h1v1h-1zM20 91h1v1h-1zM19 96h1v1h-1zM91 98h1v1h-1zM100 99h1v1h-1zM15 118h1v1h-1z"/>
<path fill="#fee187" d="M64 16h1v1h-1zM78 31h1v1h-1zM84 42h2v1h-2zM83 49h1v1h-1zM24 53h1v1h-1zM77 55h1v1h-1zM20 59h1v1h-1zM45 60h1v1h-1zM50 69h1v1h-1zM85 69h1v1h-1zM92 69h1v1h-1zM24 71h1v1h-1zM92 71h1v1h-1zM81 72h1v1h-1zM92 74h1v1h-1zM66 75h1v1h-1zM79 77h1v1h-1zM36 78h1v1h-1zM85 78h1v1h-1zM47 79h1v1h-1zM80 79h1v1h-1zM74 81h1v1h-1zM17 82h1v1h-1zM74 82h1v1h-1zM93 82h1v1h-1zM19 83h1v1h-1zM21 83h1v1h-1zM71 83h1v1h-1zM91 83h2v1h-2zM81 84h1v1h-1zM41 85h1v1h-1zM57 85h1v1h-1zM19 86h1v1h-1zM83 86h1v1h-1zM82 87h1v1h-1zM88 89h1v1h-1zM98 89h1v1h-1zM81 90h1v1h-1zM55 91h2v1h-2zM29 92h1v1h-1zM86 92h1v1h-1zM31 93h1v1h-1zM85 93h1v1h-1zM85 94h1v1h-1zM94 98h1v1h-1zM16 99h1v1h-1zM31 99h1v1h-1zM44 99h2v1h-2zM66 99h1v1h-1zM13 100h1v1h-1zM23 100h1v1h-1zM92 100h1v1h-1zM13 101h1v1h-1zM16 101h1v1h-1zM93 102h1v1h-1zM91 103h1v1h-1zM92 104h1v1h-1zM14 105h1v1h-1zM16 105h1v1h-1zM94 105h1v1h-1zM72 107h1v1h-1zM15 108h1v1h-1zM85 108h1v1h-1zM94 108h1v1h-1zM17 110h1v1h-1zM96 111h1v1h-1zM23 112h1v1h-1zM34 113h1v1h-1zM66 116h1v1h-1zM26 117h1v1h-1zM85 117h1v1h-1zM99 117h1v1h-1zM25 118h1v1h-1zM27 118h1v1h-1zM93 118h1v1h-1zM55 122h1v1h-1zM67 122h1v1h-1zM76 123h1v1h-1zM97 128h1v1h-1zM93 138h1v1h-1z"/>
<path fill="#fed976" d="M65 16h1v1h-1zM76 28h1v1h-1zM23 39h1v1h-1zM84 50h1v1h-1zM78 55h1v1h-1zM36 56h1v1h-1zM79 56h1v1h-1zM37 59h1v1h-1zM37 60h1v1h-1zM87 60h1v1h-1zM90 60h1v1h-1zM88 61h1v1h-1zM28 63h1v1h-1zM61 63h1v1h-1zM84 63h1v1h-1zM28 64h1v1h-1zM83 64h1v1h-1zM17 65h1v1h-1zM32 65h1v1h-1zM36 67h1v1h-1zM20 70h1v1h-1zM23 70h2v1h-2zM30 70h1v1h-1zM53 70h1v1h-1zM86 70h1v1h-1zM22 72h1v1h-1zM57 72h1v1h-1zM80 72h1v1h-1zM22 73h2v1h-2zM90 75h1v1h-1zM67 76h1v1h-1zM82 76h1v1h-1zM30 77h1v1h-1zM34 77h1v1h-1zM29 78h1v1h-1zM83 78h1v1h-1zM67 79h1v1h-1zM71 79h1v1h-1zM31 80h1v1h-1zM36 81h1v1h-1zM47 81h1v1h-1zM14 82h3v1h-3zM18 82h1v1h-1zM81 83h1v1h-1zM95 83h1v1h-1zM70 84h2v1h-2zM69 85h1v1h-1zM20 86h1v1h-1zM32 87h1v1h-1zM43 87h1v1h-1zM48 87h1v1h-1zM81 87h1v1h-1zM49 88h1v1h-1zM39 90h1v1h-1zM56 90h1v1h-1zM67 90h1v1h-1zM82 90h1v1h-1zM18 91h1v1h-1zM84 91h1v1h-1zM32 93h1v1h-1zM92 93h1v1h-1zM19 94h2v1h-2zM75 94h1v1h-1zM11 97h1v1h-1zM63 97h1v1h-1zM14 98h1v1h-1zM23 99h1v1h-1zM25 99h1v1h-1zM10 100h1v1h-1zM30 100h1v1h-1zM34 100h1v1h-1zM10 101h1v1h-1zM15 101h1v1h-1zM17 101h1v1h-1zM14 102h1v1h-1zM18 102h1v1h-1zM35 102h1v1h-1zM94 102h1v1h-1zM41 103h1v1h-1zM94 104h1v1h-1zM22 105h1v1h-1zM74 105h1v1h-1zM95 105h1v1h-1zM83 107h1v1h-1zM22 109h1v1h-1zM93 109h2v1h-2zM93 110h1v1h-1zM95 110h1v1h-1zM10 113h1v1h-1zM18 113h1v1h-1zM23 113h1v1h-1zM35 113h1v1h-1zM11 114h1v1h-1zM14 114h1v1h-1zM97 114h1v1h-1zM85 115h1v1h-1zM85 116h1v1h-1zM92 119h1v1h-1zM90 121h1v1h-1zM60 122h1v1h-1zM76 122h1v1h-1zM98 122h1v1h-1zM88 123h1v1h-1zM98 123h1v1h-1zM72 124h1v1h-1zM90 126h1v1h-1zM65 127h1v1h-1zM78 127h1v1h-1zM89 127h1v1h-1zM92 127h1v1h-1zM89 128h1v1h-1zM93 128h1v1h-1zM57 132h1v1h-1zM93 137h1v1h-1zM62 146h1v1h-1z"/>
<path fill="#fd9c42" d="M36 17h1v1h-1zM65 31h1v1h-1zM66 32h1v1h-1zM66 33h1v1h-1zM70 33h2v1h-2zM66 34h1v1h-1zM70 34h1v1h-1zM73 34h1v1h-1zM73 35h2v1h-2zM79 36h1v1h-1zM26 37h1v1h-1zM75 39h1v1h-1zM22 40h1v1h-1zM76 40h2v1h-2zM81 40h2v1h-2zM76 41h1v1h-1zM32 42h1v1h-1zM34 42h1v1h-1zM63 42h1v1h-1zM70 42h1v1h-1zM42 43h1v1h-1zM62 43h1v1h-1zM82 43h1v1h-1zM22 44h1v1h-1zM24 45h1v1h-1zM27 45h1v1h-1zM22 46h1v1h-1zM76 46h1v1h-1zM83 46h2v1h-2zM17 47h1v1h-1zM65 47h1v1h-1zM21 48h1v1h-1zM59 49h1v1h-1zM85 49h1v1h-1zM56 51h1v1h-1zM74 51h1v1h-1zM76 51h1v1h-1zM82 51h1v1h-1zM37 52h1v1h-1zM44 52h1v1h-1zM54 52h1v1h-1zM56 52h1v1h-1zM67 52h1v1h-1zM20 53h1v1h-1zM31 53h1v1h-1zM37 53h1v1h-1zM58 53h1v1h-1zM71 53h1v1h-1zM77 53h1v1h-1zM87 53h1v1h-1zM27 54h1v1h-1zM31 54h1v1h-1zM43 54h1v1h-1zM65 54h1v1h-1zM68 54h1v1h-1zM34 55h1v1h-1zM30 56h1v1h-1zM64 56h1v1h-1zM74 56h1v1h-1zM21 57h1v1h-1zM40 57h1v1h-1zM46 57h1v1h-1zM64 57h1v1h-1zM18 58h2v1h-2zM21 58h1v1h-1zM26 58h1v1h-1zM38 58h1v1h-1zM40 58h1v1h-1zM46 58h1v1h-1zM53 58h1v1h-1zM66 58h1v1h-1zM35 59h1v1h-1zM67 59h1v1h-1zM86 59h1v1h-1zM49 60h1v1h-1zM72 60h1v1h-1zM33 61h1v1h-1zM41 61h1v1h-1zM47 61h2v1h-2zM59 61h1v1h-1zM61 61h1v1h-1zM70 61h1v1h-1zM73 61h1v1h-1zM75 61h2v1h-2zM18 62h1v1h-1zM26 62h1v1h-1zM86 62h1v1h-1zM74 63h1v1h-1zM42 64h1v1h-1zM44 64h1v1h-1zM51 64h1v1h-1zM62 64h1v1h-1zM82 64h1v1h-1zM24 65h1v1h-1zM26 65h2v1h-2zM39 65h1v1h-1zM45 65h1v1h-1zM54 65h2v1h-2zM82 65h2v1h-2zM23 66h1v1h-1zM43 66h1v1h-1zM66 66h2v1h-2zM71 66h1v1h-1zM37 67h1v1h-1zM55 67h1v1h-1zM86 67h1v1h-1zM23 68h1v1h-1zM35 68h1v1h-1zM42 68h1v1h-1zM70 68h1v1h-1zM79 68h1v1h-1zM65 69h1v1h-1zM80 69h1v1h-1zM45 70h1v1h-1zM81 70h1v1h-1zM32 71h1v1h-1zM65 71h1v1h-1zM68 71h1v1h-1zM89 71h2v1h-2zM32 72h1v1h-1zM52 72h1v1h-1zM63 72h1v1h-1zM78 72h1v1h-1zM24 73h1v1h-1zM61 73h1v1h-1zM73 73h1v1h-1zM85 73h1v1h-1zM18 74h1v1h-1zM24 74h1v1h-1zM40 74h1v1h-1zM51 74h1v1h-1zM59 74h1v1h-1zM62 74h1v1h-1zM82 74h1v1h-1zM90 74h1v1h-1zM28 75h1v1h-1zM41 75h1v1h-1zM72 75h1v1h-1zM77 75h1v1h-1zM81 75h1v1h-1zM28 76h1v1h-1zM32 76h1v1h-1zM34 76h1v1h-1zM50 76h1v1h-1zM71 76h1v1h-1zM88 76h1v1h-1zM68 77h1v1h-1zM70 77h2v1h-2zM89 77h1v1h-1zM18 78h1v1h-1zM22 78h1v1h-1zM25 78h1v1h-1zM35 78h1v1h-1zM40 78h1v1h-1zM74 78h1v1h-1zM82 78h1v1h-1zM15 79h1v1h-1zM41 79h1v1h-1zM84 80h1v1h-1zM56 81h1v1h-1zM68 81h1v1h-1zM73 81h1v1h-1zM26 82h1v1h-1zM45 82h1v1h-1zM83 82h1v1h-1zM90 82h1v1h-1zM96 82h1v1h-1zM13 83h1v1h-1zM25 83h1v1h-1zM31 83h1v1h-1zM56 83h1v1h-1zM63 83h1v1h-1zM79 83h1v1h-1zM83 83h1v1h-1zM16 84h1v1h-1zM32 84h1v1h-1zM35 84h1v1h-1zM43 84h1v1h-1zM95 84h1v1h-1zM24 85h1v1h-1zM58 85h1v1h-1zM97 85h1v1h-1zM18 86h1v1h-1zM45 86h1v1h-1zM48 86h1v1h-1zM90 86h1v1h-1zM62 87h2v1h-2zM71 87h1v1h-1zM59 88h1v1h-1zM73 88h1v1h-1zM94 88h1v1h-1zM17 89h1v1h-1zM41 89h1v1h-1zM10 90h1v1h-1zM26 90h1v1h-1zM44 90h1v1h-1zM60 90h1v1h-1zM63 90h1v1h-1zM77 90h1v1h-1zM79 90h1v1h-1zM13 91h1v1h-1zM71 91h1v1h-1zM82 91h1v1h-1zM87 91h1v1h-1zM11 92h2v1h-2zM45 92h1v1h-1zM59 92h1v1h-1zM63 92h1v1h-1zM81 92h1v1h-1zM91 92h1v1h-1zM98 92h1v1h-1zM19 93h1v1h-1zM26 93h1v1h-1zM61 93h1v1h-1zM90 93h1v1h-1zM18 94h1v1h-1zM64 94h1v1h-1zM11 95h1v1h-1zM23 96h1v1h-1zM14 97h1v1h-1zM32 97h1v1h-1zM86 97h1v1h-1zM27 98h1v1h-1zM85 98h1v1h-1zM89 98h1v1h-1zM11 99h1v1h-1zM17 99h1v1h-1zM20 99h1v1h-1zM87 99h1v1h-1zM95 99h1v1h-1zM22 100h1v1h-1zM26 100h1v1h-1zM29 101h1v1h-1zM46 101h1v1h-1zM10 102h1v1h-1zM20 102h1v1h-1zM27 102h1v1h-1zM95 102h1v1h-1zM27 103h1v1h-1zM96 103h1v1h-1zM70 104h1v1h-1zM17 105h1v1h-1zM97 106h1v1h-1zM92 107h1v1h-1zM98 107h1v1h-1zM83 108h1v1h-1zM75 109h1v1h-1zM94 111h1v1h-1zM38 112h1v1h-1zM11 113h1v1h-1zM86 113h1v1h-1zM70 114h1v1h-1zM15 115h1v1h-1zM97 115h2v1h-2zM22 116h1v1h-1zM91 116h1v1h-1zM20 117h1v1h-1zM87 117h1v1h-1zM90 117h1v1h-1zM17 119h1v1h-1zM21 119h1v1h-1zM60 121h1v1h-1zM71 123h1v1h-1zM99 123h1v1h-1zM88 124h1v1h-1zM98 124h1v1h-1zM87 126h2v1h-2zM100 126h1v1h-1zM92 129h1v1h-1zM61 144h1v1h-1z"/>
<path fill="#feab49" d="M37 17h1v1h-1zM24 37h1v1h-1zM75 37h1v1h-1zM78 38h2v1h-2zM27 39h1v1h-1zM80 39h1v1h-1zM78 40h2v1h-2zM32 43h1v1h-1zM81 44h1v1h-1zM26 46h1v1h-1zM21 47h1v1h-1zM65 48h1v1h-1zM73 48h1v1h-1zM83 48h1v1h-1zM74 49h1v1h-1zM69 50h1v1h-1zM73 50h1v1h-1zM82 50h1v1h-1zM58 51h1v1h-1zM77 51h1v1h-1zM89 51h1v1h-1zM25 52h1v1h-1zM36 52h1v1h-1zM43 52h1v1h-1zM72 52h1v1h-1zM32 53h1v1h-1zM66 53h1v1h-1zM37 54h1v1h-1zM75 54h1v1h-1zM24 55h1v1h-1zM86 55h1v1h-1zM25 56h1v1h-1zM35 56h1v1h-1zM86 56h1v1h-1zM36 57h1v1h-1zM45 57h1v1h-1zM20 58h1v1h-1zM28 58h2v1h-2zM39 58h1v1h-1zM44 58h1v1h-1zM67 58h1v1h-1zM78 58h2v1h-2zM38 59h1v1h-1zM70 59h1v1h-1zM87 59h1v1h-1zM75 60h2v1h-2zM83 60h1v1h-1zM86 60h1v1h-1zM23 61h2v1h-2zM44 61h1v1h-1zM46 61h1v1h-1zM43 62h1v1h-1zM30 64h1v1h-1zM38 64h1v1h-1zM73 64h1v1h-1zM90 64h1v1h-1zM18 65h1v1h-1zM29 65h1v1h-1zM37 65h2v1h-2zM80 65h1v1h-1zM19 66h1v1h-1zM42 66h1v1h-1zM59 66h1v1h-1zM85 66h1v1h-1zM29 67h1v1h-1zM34 67h1v1h-1zM42 67h1v1h-1zM71 67h1v1h-1zM76 67h1v1h-1zM85 67h1v1h-1zM48 68h1v1h-1zM65 68h1v1h-1zM71 68h1v1h-1zM78 68h1v1h-1zM86 68h1v1h-1zM90 68h1v1h-1zM17 69h1v1h-1zM21 69h1v1h-1zM37 69h1v1h-1zM53 69h1v1h-1zM58 69h1v1h-1zM72 69h1v1h-1zM84 69h1v1h-1zM25 70h1v1h-1zM89 70h1v1h-1zM26 71h1v1h-1zM35 71h1v1h-1zM54 71h2v1h-2zM64 71h1v1h-1zM86 71h1v1h-1zM15 72h1v1h-1zM31 72h1v1h-1zM44 72h1v1h-1zM47 72h1v1h-1zM55 72h1v1h-1zM60 72h1v1h-1zM17 73h1v1h-1zM38 73h1v1h-1zM63 73h1v1h-1zM67 73h1v1h-1zM80 73h1v1h-1zM19 74h1v1h-1zM29 74h1v1h-1zM39 74h1v1h-1zM56 74h1v1h-1zM58 74h1v1h-1zM65 74h1v1h-1zM87 74h1v1h-1zM91 74h1v1h-1zM93 74h1v1h-1zM22 75h1v1h-1zM29 75h2v1h-2zM40 75h1v1h-1zM64 75h1v1h-1zM88 75h1v1h-1zM27 76h1v1h-1zM33 76h1v1h-1zM36 76h1v1h-1zM39 76h2v1h-2zM61 76h2v1h-2zM74 76h1v1h-1zM78 76h2v1h-2zM54 77h1v1h-1zM60 77h1v1h-1zM23 78h1v1h-1zM61 78h1v1h-1zM86 78h1v1h-1zM19 79h1v1h-1zM21 79h1v1h-1zM62 79h1v1h-1zM69 79h1v1h-1zM86 79h1v1h-1zM62 80h1v1h-1zM77 80h1v1h-1zM83 80h1v1h-1zM55 81h1v1h-1zM89 81h1v1h-1zM84 82h1v1h-1zM17 83h2v1h-2zM64 83h1v1h-1zM17 84h1v1h-1zM24 84h1v1h-1zM46 84h1v1h-1zM63 84h1v1h-1zM17 85h1v1h-1zM65 85h1v1h-1zM31 86h1v1h-1zM69 86h1v1h-1zM71 86h1v1h-1zM19 87h1v1h-1zM64 87h1v1h-1zM94 87h1v1h-1zM27 89h1v1h-1zM43 89h1v1h-1zM49 89h1v1h-1zM61 89h1v1h-1zM72 89h1v1h-1zM23 90h1v1h-1zM62 90h1v1h-1zM66 90h1v1h-1zM84 90h1v1h-1zM97 90h1v1h-1zM45 91h1v1h-1zM61 91h1v1h-1zM83 91h1v1h-1zM96 91h1v1h-1zM87 92h1v1h-1zM18 93h1v1h-1zM28 93h1v1h-1zM52 93h1v1h-1zM22 94h1v1h-1zM97 94h1v1h-1zM14 95h1v1h-1zM28 95h1v1h-1zM32 95h1v1h-1zM64 95h1v1h-1zM68 95h1v1h-1zM85 95h1v1h-1zM93 95h1v1h-1zM34 96h1v1h-1zM74 96h1v1h-1zM86 96h1v1h-1zM67 97h1v1h-1zM83 97h1v1h-1zM34 98h1v1h-1zM22 99h1v1h-1zM34 99h1v1h-1zM81 99h2v1h-2zM18 101h2v1h-2zM32 101h1v1h-1zM66 101h1v1h-1zM88 101h1v1h-1zM29 102h1v1h-1zM13 103h1v1h-1zM98 103h1v1h-1zM91 104h1v1h-1zM31 105h1v1h-1zM88 105h1v1h-1zM13 106h1v1h-1zM77 106h1v1h-1zM81 106h1v1h-1zM89 106h1v1h-1zM10 107h1v1h-1zM30 107h1v1h-1zM17 108h1v1h-1zM28 108h1v1h-1zM77 108h2v1h-2zM11 109h1v1h-1zM20 109h1v1h-1zM92 109h1v1h-1zM13 110h1v1h-1zM22 110h1v1h-1zM75 110h1v1h-1zM97 110h1v1h-1zM93 111h1v1h-1zM97 111h1v1h-1zM15 112h1v1h-1zM67 112h1v1h-1zM88 112h1v1h-1zM14 113h1v1h-1zM27 114h1v1h-1zM96 114h1v1h-1zM98 114h1v1h-1zM98 116h1v1h-1zM12 117h1v1h-1zM91 118h2v1h-2zM19 119h1v1h-1zM88 120h1v1h-1zM94 120h1v1h-1zM72 122h1v1h-1zM77 122h1v1h-1zM91 122h1v1h-1zM48 123h1v1h-1zM72 123h1v1h-1zM21 124h1v1h-1zM22 125h1v1h-1zM96 125h1v1h-1zM87 127h1v1h-1zM95 128h1v1h-1zM66 131h1v1h-1zM86 134h1v1h-1zM92 138h1v1h-1zM62 145h1v1h-1z"/>
<path fill="#fc4e2a" d="M52 17h2v1h-2zM48 20h1v1h-1zM35 21h2v1h-2zM68 21h1v1h-1zM34 22h2v1h-2zM56 22h1v1h-1zM69 22h1v1h-1zM33 23h1v1h-1zM59 23h1v1h-1zM67 23h1v1h-1zM43 24h1v1h-1zM30 25h1v1h-1zM48 25h1v1h-1zM68 25h1v1h-1zM30 26h1v1h-1zM64 27h2v1h-2zM72 27h1v1h-1zM75 27h1v1h-1zM33 28h1v1h-1zM50 28h1v1h-1zM63 28h1v1h-1zM30 29h1v1h-1zM54 29h1v1h-1zM64 29h1v1h-1zM36 30h2v1h-2zM56 30h1v1h-1zM59 30h1v1h-1zM67 30h1v1h-1zM71 30h1v1h-1zM75 30h1v1h-1zM30 31h1v1h-1zM36 31h1v1h-1zM38 31h1v1h-1zM60 31h1v1h-1zM68 31h2v1h-2zM74 31h1v1h-1zM28 32h1v1h-1zM31 32h1v1h-1zM35 32h1v1h-1zM37 32h2v1h-2zM44 32h1v1h-1zM48 32h1v1h-1zM59 32h1v1h-1zM31 33h1v1h-1zM40 33h1v1h-1zM43 33h1v1h-1zM50 33h2v1h-2zM74 33h1v1h-1zM64 34h1v1h-1zM76 34h1v1h-1zM33 35h2v1h-2zM36 35h1v1h-1zM38 35h2v1h-2zM43 35h1v1h-1zM68 35h1v1h-1zM41 36h1v1h-1zM43 36h2v1h-2zM53 36h1v1h-1zM58 36h1v1h-1zM52 37h1v1h-1zM56 37h1v1h-1zM72 37h1v1h-1zM36 38h1v1h-1zM49 38h1v1h-1zM52 38h1v1h-1zM60 38h1v1h-1zM40 39h1v1h-1zM46 39h1v1h-1zM37 40h3v1h-3zM53 40h1v1h-1zM62 40h1v1h-1zM71 40h1v1h-1zM39 41h1v1h-1zM51 41h1v1h-1zM55 41h2v1h-2zM60 41h1v1h-1zM78 41h1v1h-1zM29 42h1v1h-1zM40 42h1v1h-1zM47 42h4v1h-4zM52 42h1v1h-1zM68 42h1v1h-1zM54 43h1v1h-1zM66 43h2v1h-2zM72 43h1v1h-1zM39 44h1v1h-1zM43 44h1v1h-1zM54 44h1v1h-1zM68 44h1v1h-1zM70 44h1v1h-1zM74 44h1v1h-1zM76 44h1v1h-1zM79 44h1v1h-1zM84 44h1v1h-1zM37 45h1v1h-1zM77 45h1v1h-1zM39 46h2v1h-2zM44 46h1v1h-1zM61 46h1v1h-1zM78 46h1v1h-1zM24 47h1v1h-1zM49 47h1v1h-1zM25 48h1v1h-1zM37 48h1v1h-1zM41 48h2v1h-2zM47 48h1v1h-1zM63 48h1v1h-1zM78 48h1v1h-1zM24 49h1v1h-1zM31 49h1v1h-1zM61 49h1v1h-1zM66 49h1v1h-1zM30 50h1v1h-1zM46 50h1v1h-1zM61 50h2v1h-2zM64 50h1v1h-1zM80 50h1v1h-1zM27 51h3v1h-3zM32 51h1v1h-1zM34 51h1v1h-1zM46 51h1v1h-1zM60 51h1v1h-1zM63 51h2v1h-2zM39 52h1v1h-1zM60 52h1v1h-1zM64 52h2v1h-2zM30 53h1v1h-1zM47 53h1v1h-1zM53 53h1v1h-1zM78 53h1v1h-1zM29 54h1v1h-1zM61 54h2v1h-2zM42 55h1v1h-1zM56 55h1v1h-1zM56 56h1v1h-1zM62 56h1v1h-1zM72 56h1v1h-1zM84 56h1v1h-1zM34 57h1v1h-1zM41 57h1v1h-1zM43 57h1v1h-1zM50 57h1v1h-1zM31 58h1v1h-1zM43 58h1v1h-1zM63 58h1v1h-1zM72 58h1v1h-1zM25 59h2v1h-2zM28 59h1v1h-1zM41 59h1v1h-1zM61 59h1v1h-1zM72 59h1v1h-1zM75 59h1v1h-1zM80 59h1v1h-1zM30 60h1v1h-1zM58 60h1v1h-1zM36 61h1v1h-1zM55 61h1v1h-1zM20 62h1v1h-1zM48 62h1v1h-1zM54 62h1v1h-1zM63 62h1v1h-1zM66 62h1v1h-1zM77 62h1v1h-1zM81 62h2v1h-2zM40 63h1v1h-1zM45 63h1v1h-1zM64 63h1v1h-1zM66 63h1v1h-1zM69 63h1v1h-1zM79 63h1v1h-1zM64 64h1v1h-1zM70 64h1v1h-1zM72 64h1v1h-1zM20 65h1v1h-1zM49 65h1v1h-1zM51 65h1v1h-1zM57 65h1v1h-1zM66 65h1v1h-1zM70 65h1v1h-1zM76 65h1v1h-1zM64 66h1v1h-1zM89 66h1v1h-1zM91 66h1v1h-1zM17 67h1v1h-1zM25 67h1v1h-1zM39 67h1v1h-1zM50 67h1v1h-1zM53 67h1v1h-1zM69 67h1v1h-1zM75 67h1v1h-1zM87 67h1v1h-1zM26 68h1v1h-1zM54 68h2v1h-2zM16 69h1v1h-1zM25 69h1v1h-1zM66 69h1v1h-1zM83 69h1v1h-1zM61 70h1v1h-1zM67 70h1v1h-1zM84 70h1v1h-1zM39 71h1v1h-1zM48 71h1v1h-1zM69 71h1v1h-1zM93 72h1v1h-1zM27 73h1v1h-1zM51 73h1v1h-1zM17 74h1v1h-1zM18 75h1v1h-1zM38 75h1v1h-1zM22 77h1v1h-1zM44 78h1v1h-1zM57 78h1v1h-1zM89 78h1v1h-1zM94 79h2v1h-2zM92 80h1v1h-1zM95 80h1v1h-1zM34 81h1v1h-1zM62 82h1v1h-1zM79 82h1v1h-1zM85 82h1v1h-1zM87 82h1v1h-1zM59 83h1v1h-1zM75 83h1v1h-1zM28 85h1v1h-1zM30 85h1v1h-1zM59 85h1v1h-1zM84 85h1v1h-1zM87 85h1v1h-1zM47 86h1v1h-1zM85 86h1v1h-1zM95 86h1v1h-1zM21 87h1v1h-1zM14 88h1v1h-1zM23 88h1v1h-1zM58 89h1v1h-1zM48 90h1v1h-1zM94 90h1v1h-1zM19 91h1v1h-1zM89 91h1v1h-1zM13 92h1v1h-1zM96 92h1v1h-1zM11 93h1v1h-1zM16 93h1v1h-1zM65 94h1v1h-1zM66 95h1v1h-1zM88 95h1v1h-1zM96 95h1v1h-1zM95 96h1v1h-1zM91 97h1v1h-1zM97 97h1v1h-1zM18 99h1v1h-1zM84 99h1v1h-1zM48 101h1v1h-1zM12 104h1v1h-1zM20 104h1v1h-1zM8 106h1v1h-1zM10 106h2v1h-2zM9 107h1v1h-1zM9 108h1v1h-1zM99 110h1v1h-1zM12 113h1v1h-1zM91 113h1v1h-1zM72 114h1v1h-1zM100 114h1v1h-1zM93 116h1v1h-1zM17 117h1v1h-1zM23 118h1v1h-1zM60 120h1v1h-1zM96 120h1v1h-1zM87 125h1v1h-1zM83 129h1v1h-1z"/>
<path fill="#ffe998" d="M65 17h1v1h-1zM22 39h1v1h-1zM31 66h1v1h-1zM83 75h1v1h-1zM84 77h1v1h-1zM79 78h1v1h-1zM48 79h1v1h-1zM29 80h1v1h-1zM14 84h1v1h-1zM91 84h1v1h-1zM42 86h1v1h-1zM50 86h1v1h-1zM49 87h1v1h-1zM51 88h1v1h-1zM51 89h1v1h-1zM17 90h1v1h-1zM23 92h1v1h-1zM31 94h1v1h-1zM91 94h1v1h-1zM31 95h1v1h-1zM99 95h1v1h-1zM80 96h1v1h-1zM44 98h1v1h-1zM75 98h1v1h-1zM80 98h1v1h-1zM93 99h1v1h-1zM14 100h1v1h-1zM16 102h1v1h-1zM35 107h1v1h-1zM95 107h1v1h-1zM91 110h1v1h-1zM19 111h1v1h-1zM18 112h2v1h-2zM26 112h2v1h-2zM11 115h1v1h-1zM67 116h1v1h-1zM70 116h1v1h-1zM84 116h1v1h-1zM13 118h1v1h-1zM98 121h1v1h-1zM88 128h1v1h-1zM99 128h1v1h-1zM34 131h1v1h-1zM56 134h1v1h-1zM67 138h1v1h-1z"/>
<path fill="#bd0026" d="M66 20h1v1h-1zM45 28h2v1h-2zM54 32h1v1h-1zM54 33h1v1h-1zM68 38h1v1h-1zM29 48h1v1h-1zM49 51h1v1h-1zM83 71h1v1h-1zM76 84h1v1h-1zM74 85h2v1h-2zM76 86h1v1h-1zM19 89h1v1h-1zM92 114h1v1h-1zM94 115h1v1h-1z"/>
<path fill="#fc6731" d="M47 21h1v1h-1zM34 23h1v1h-1zM65 26h1v1h-1zM66 27h2v1h-2zM35 29h1v1h-1zM37 29h1v1h-1zM34 30h1v1h-1zM58 30h1v1h-1zM64 30h1v1h-1zM76 30h1v1h-1zM37 31h1v1h-1zM58 31h1v1h-1zM64 31h1v1h-1zM71 31h1v1h-1zM77 31h1v1h-1zM41 32h1v1h-1zM43 32h1v1h-1zM63 32h1v1h-1zM68 32h1v1h-1zM70 32h1v1h-1zM78 32h1v1h-1zM27 33h1v1h-1zM42 33h1v1h-1zM64 33h1v1h-1zM68 33h1v1h-1zM72 33h1v1h-1zM78 33h1v1h-1zM42 34h1v1h-1zM75 34h1v1h-1zM77 34h1v1h-1zM30 35h1v1h-1zM75 35h2v1h-2zM39 36h2v1h-2zM56 36h2v1h-2zM28 37h1v1h-1zM30 37h1v1h-1zM32 37h1v1h-1zM40 37h2v1h-2zM46 37h1v1h-1zM39 38h1v1h-1zM44 38h2v1h-2zM51 38h1v1h-1zM55 38h1v1h-1zM61 38h1v1h-1zM74 38h1v1h-1zM36 39h1v1h-1zM39 39h1v1h-1zM50 39h1v1h-1zM24 40h1v1h-1zM29 40h1v1h-1zM51 40h1v1h-1zM59 40h1v1h-1zM61 40h1v1h-1zM75 40h1v1h-1zM22 41h1v1h-1zM27 41h1v1h-1zM38 41h1v1h-1zM42 41h1v1h-1zM59 41h1v1h-1zM63 41h1v1h-1zM69 41h1v1h-1zM80 41h1v1h-1zM23 42h1v1h-1zM30 42h1v1h-1zM36 42h1v1h-1zM38 42h1v1h-1zM42 42h2v1h-2zM51 42h1v1h-1zM22 43h2v1h-2zM36 43h1v1h-1zM40 43h1v1h-1zM50 43h1v1h-1zM53 43h1v1h-1zM61 43h1v1h-1zM69 43h1v1h-1zM71 43h1v1h-1zM77 43h1v1h-1zM28 44h2v1h-2zM37 44h1v1h-1zM47 44h1v1h-1zM61 44h1v1h-1zM69 44h1v1h-1zM83 44h1v1h-1zM48 45h1v1h-1zM50 45h2v1h-2zM53 45h1v1h-1zM74 45h3v1h-3zM35 46h1v1h-1zM45 46h1v1h-1zM49 46h1v1h-1zM65 46h1v1h-1zM74 46h1v1h-1zM80 46h1v1h-1zM37 47h1v1h-1zM77 47h1v1h-1zM80 47h1v1h-1zM53 48h1v1h-1zM75 48h1v1h-1zM35 49h1v1h-1zM39 49h4v1h-4zM54 49h1v1h-1zM64 49h1v1h-1zM80 49h1v1h-1zM27 50h2v1h-2zM34 50h1v1h-1zM43 50h1v1h-1zM54 50h1v1h-1zM56 50h1v1h-1zM21 51h1v1h-1zM35 51h1v1h-1zM27 52h1v1h-1zM33 52h1v1h-1zM40 52h1v1h-1zM42 52h1v1h-1zM51 52h1v1h-1zM34 53h1v1h-1zM52 53h1v1h-1zM53 54h1v1h-1zM64 54h1v1h-1zM72 54h1v1h-1zM20 55h1v1h-1zM39 55h1v1h-1zM54 55h1v1h-1zM57 55h1v1h-1zM59 55h1v1h-1zM66 55h1v1h-1zM69 55h1v1h-1zM20 56h1v1h-1zM45 56h1v1h-1zM51 56h1v1h-1zM55 56h1v1h-1zM69 56h3v1h-3zM35 57h1v1h-1zM49 57h1v1h-1zM67 57h1v1h-1zM81 57h1v1h-1zM42 58h1v1h-1zM49 58h3v1h-3zM70 58h1v1h-1zM88 58h1v1h-1zM31 59h1v1h-1zM40 59h1v1h-1zM42 59h2v1h-2zM79 59h1v1h-1zM26 60h1v1h-1zM52 60h1v1h-1zM73 60h1v1h-1zM82 60h1v1h-1zM21 61h1v1h-1zM39 61h1v1h-1zM57 61h1v1h-1zM64 61h1v1h-1zM30 62h1v1h-1zM45 62h2v1h-2zM64 62h1v1h-1zM69 62h1v1h-1zM18 63h1v1h-1zM53 63h1v1h-1zM63 63h1v1h-1zM70 63h1v1h-1zM24 64h1v1h-1zM45 64h1v1h-1zM63 64h1v1h-1zM76 64h1v1h-1zM79 64h1v1h-1zM86 64h1v1h-1zM21 65h1v1h-1zM50 65h1v1h-1zM67 65h1v1h-1zM71 65h1v1h-1zM77 65h2v1h-2zM21 66h1v1h-1zM57 66h1v1h-1zM69 66h1v1h-1zM72 66h1v1h-1zM22 67h1v1h-1zM26 67h1v1h-1zM28 67h1v1h-1zM62 67h1v1h-1zM80 67h1v1h-1zM89 67h1v1h-1zM34 68h1v1h-1zM39 68h1v1h-1zM52 68h2v1h-2zM68 68h1v1h-1zM92 68h1v1h-1zM35 69h1v1h-1zM26 70h1v1h-1zM35 70h1v1h-1zM43 70h2v1h-2zM55 70h1v1h-1zM34 71h1v1h-1zM43 71h1v1h-1zM61 71h1v1h-1zM66 71h1v1h-1zM41 72h1v1h-1zM43 72h1v1h-1zM48 72h1v1h-1zM62 72h1v1h-1zM31 73h1v1h-1zM53 73h1v1h-1zM72 73h1v1h-1zM26 74h2v1h-2zM36 74h1v1h-1zM79 74h1v1h-1zM31 75h1v1h-1zM21 76h1v1h-1zM58 76h2v1h-2zM87 76h1v1h-1zM14 77h1v1h-1zM20 77h1v1h-1zM17 78h1v1h-1zM20 78h1v1h-1zM87 78h1v1h-1zM93 78h1v1h-1zM35 79h1v1h-1zM43 79h2v1h-2zM58 79h1v1h-1zM14 80h1v1h-1zM23 80h1v1h-1zM33 80h1v1h-1zM55 80h1v1h-1zM73 80h1v1h-1zM85 80h1v1h-1zM85 81h1v1h-1zM91 81h1v1h-1zM13 82h1v1h-1zM32 82h1v1h-1zM39 82h1v1h-1zM28 83h1v1h-1zM61 83h1v1h-1zM85 83h1v1h-1zM26 84h1v1h-1zM78 84h1v1h-1zM96 84h1v1h-1zM34 85h1v1h-1zM26 86h1v1h-1zM60 86h1v1h-1zM67 86h1v1h-1zM73 86h1v1h-1zM89 86h1v1h-1zM93 86h1v1h-1zM58 87h1v1h-1zM16 89h1v1h-1zM22 89h1v1h-1zM31 89h1v1h-1zM35 89h1v1h-1zM59 89h1v1h-1zM78 89h1v1h-1zM91 89h1v1h-1zM13 90h1v1h-1zM15 90h1v1h-1zM29 90h1v1h-1zM32 90h3v1h-3zM90 91h1v1h-1zM93 91h1v1h-1zM17 93h1v1h-1zM64 93h1v1h-1zM89 93h1v1h-1zM15 94h1v1h-1zM89 95h1v1h-1zM15 96h1v1h-1zM53 97h1v1h-1zM92 98h1v1h-1zM19 99h1v1h-1zM38 99h2v1h-2zM83 99h1v1h-1zM87 100h1v1h-1zM99 100h2v1h-2zM10 103h1v1h-1zM34 103h1v1h-1zM10 105h1v1h-1zM20 105h1v1h-1zM89 105h3v1h-3zM20 106h1v1h-1zM99 106h1v1h-1zM12 107h2v1h-2zM76 107h1v1h-1zM100 107h1v1h-1zM10 109h1v1h-1zM29 109h1v1h-1zM82 109h1v1h-1zM10 110h1v1h-1zM87 110h1v1h-1zM86 112h1v1h-1zM92 112h1v1h-1zM94 112h2v1h-2zM98 112h1v1h-1zM38 113h1v1h-1zM95 114h1v1h-1zM99 114h1v1h-1zM91 115h1v1h-1zM95 115h1v1h-1zM96 116h1v1h-1zM15 119h2v1h-2zM89 120h1v1h-1zM95 120h1v1h-1zM88 125h1v1h-1zM90 138h2v1h-2z"/>
<path fill="#fd7435" d="M68 22h1v1h-1zM66 25h2v1h-2zM29 27h2v1h-2zM32 28h1v1h-1zM35 28h2v1h-2zM28 29h1v1h-1zM34 29h1v1h-1zM36 29h1v1h-1zM66 30h1v1h-1zM28 31h1v1h-1zM57 31h1v1h-1zM59 31h1v1h-1zM67 31h1v1h-1zM70 31h1v1h-1zM39 32h1v1h-1zM42 32h1v1h-1zM64 32h1v1h-1zM29 33h1v1h-1zM79 33h1v1h-1zM69 34h1v1h-1zM69 35h2v1h-2zM28 36h1v1h-1zM34 36h1v1h-1zM72 36h1v1h-1zM75 36h2v1h-2zM27 37h1v1h-1zM33 37h1v1h-1zM58 37h1v1h-1zM30 38h1v1h-1zM32 38h1v1h-1zM40 38h1v1h-1zM57 38h1v1h-1zM29 39h1v1h-1zM32 39h1v1h-1zM38 39h1v1h-1zM51 39h1v1h-1zM61 39h1v1h-1zM54 40h1v1h-1zM28 41h1v1h-1zM32 41h1v1h-1zM35 41h1v1h-1zM57 41h1v1h-1zM31 42h1v1h-1zM77 42h1v1h-1zM27 43h1v1h-1zM35 43h1v1h-1zM37 43h1v1h-1zM49 43h1v1h-1zM52 43h1v1h-1zM83 43h1v1h-1zM30 44h1v1h-1zM34 44h1v1h-1zM40 44h1v1h-1zM50 44h1v1h-1zM53 44h1v1h-1zM66 44h1v1h-1zM82 44h1v1h-1zM52 45h1v1h-1zM62 45h4v1h-4zM69 45h1v1h-1zM27 46h1v1h-1zM36 46h1v1h-1zM47 46h2v1h-2zM63 46h2v1h-2zM81 46h1v1h-1zM26 47h1v1h-1zM56 47h1v1h-1zM66 47h1v1h-1zM75 47h1v1h-1zM82 47h1v1h-1zM84 47h1v1h-1zM35 48h1v1h-1zM54 48h2v1h-2zM60 48h2v1h-2zM53 49h1v1h-1zM60 49h1v1h-1zM69 49h1v1h-1zM78 49h2v1h-2zM24 50h1v1h-1zM26 50h1v1h-1zM29 50h1v1h-1zM42 50h1v1h-1zM60 50h1v1h-1zM72 50h1v1h-1zM75 50h1v1h-1zM81 50h1v1h-1zM22 51h1v1h-1zM38 51h1v1h-1zM42 51h1v1h-1zM45 51h1v1h-1zM35 52h1v1h-1zM70 52h1v1h-1zM84 52h1v1h-1zM21 53h1v1h-1zM28 53h1v1h-1zM48 53h1v1h-1zM81 53h2v1h-2zM84 53h1v1h-1zM71 54h1v1h-1zM73 54h1v1h-1zM83 54h1v1h-1zM87 54h1v1h-1zM19 55h1v1h-1zM28 55h1v1h-1zM44 55h1v1h-1zM58 55h1v1h-1zM62 55h1v1h-1zM71 55h1v1h-1zM31 56h1v1h-1zM34 56h1v1h-1zM39 56h1v1h-1zM43 56h2v1h-2zM46 56h1v1h-1zM52 56h1v1h-1zM60 56h1v1h-1zM31 57h1v1h-1zM54 57h2v1h-2zM63 57h1v1h-1zM66 57h1v1h-1zM74 57h3v1h-3zM82 57h1v1h-1zM35 58h1v1h-1zM41 58h1v1h-1zM54 58h1v1h-1zM59 58h1v1h-1zM86 58h1v1h-1zM27 59h1v1h-1zM60 59h1v1h-1zM71 59h1v1h-1zM78 59h1v1h-1zM23 60h1v1h-1zM32 60h1v1h-1zM40 60h1v1h-1zM42 60h1v1h-1zM51 60h1v1h-1zM59 60h1v1h-1zM28 61h1v1h-1zM77 61h1v1h-1zM80 61h1v1h-1zM39 62h3v1h-3zM55 62h1v1h-1zM76 62h1v1h-1zM21 63h1v1h-1zM25 63h1v1h-1zM37 63h1v1h-1zM76 63h1v1h-1zM80 63h1v1h-1zM82 63h1v1h-1zM90 63h1v1h-1zM18 64h1v1h-1zM36 64h1v1h-1zM48 64h1v1h-1zM53 64h1v1h-1zM56 64h2v1h-2zM87 64h1v1h-1zM22 65h1v1h-1zM25 65h1v1h-1zM34 65h1v1h-1zM36 65h1v1h-1zM65 65h1v1h-1zM72 65h1v1h-1zM26 66h1v1h-1zM56 66h1v1h-1zM76 66h1v1h-1zM81 66h1v1h-1zM49 67h1v1h-1zM72 67h1v1h-1zM77 67h1v1h-1zM45 68h1v1h-1zM47 68h1v1h-1zM62 68h1v1h-1zM72 68h1v1h-1zM38 69h1v1h-1zM54 69h1v1h-1zM62 69h1v1h-1zM69 69h1v1h-1zM81 69h1v1h-1zM16 70h1v1h-1zM69 70h1v1h-1zM40 71h2v1h-2zM46 71h1v1h-1zM49 71h1v1h-1zM75 71h1v1h-1zM27 72h1v1h-1zM30 72h1v1h-1zM33 72h1v1h-1zM49 72h1v1h-1zM61 72h1v1h-1zM68 72h1v1h-1zM72 72h1v1h-1zM74 72h1v1h-1zM76 72h2v1h-2zM29 73h1v1h-1zM32 73h1v1h-1zM35 73h2v1h-2zM69 73h1v1h-1zM84 73h1v1h-1zM89 73h1v1h-1zM30 74h1v1h-1zM38 74h1v1h-1zM42 74h1v1h-1zM21 75h1v1h-1zM36 75h1v1h-1zM54 75h1v1h-1zM58 75h2v1h-2zM80 75h1v1h-1zM19 76h2v1h-2zM37 76h1v1h-1zM19 77h1v1h-1zM44 77h1v1h-1zM49 77h1v1h-1zM51 77h1v1h-1zM72 77h1v1h-1zM60 78h1v1h-1zM92 78h1v1h-1zM59 79h1v1h-1zM34 80h1v1h-1zM40 80h1v1h-1zM81 80h1v1h-1zM32 81h1v1h-1zM35 81h1v1h-1zM54 81h1v1h-1zM64 81h1v1h-1zM71 81h2v1h-2zM87 81h1v1h-1zM22 82h1v1h-1zM28 82h1v1h-1zM80 82h1v1h-1zM11 83h1v1h-1zM40 83h1v1h-1zM49 83h1v1h-1zM65 83h1v1h-1zM88 83h1v1h-1zM49 84h1v1h-1zM61 84h1v1h-1zM86 84h1v1h-1zM31 85h1v1h-1zM55 85h1v1h-1zM61 85h1v1h-1zM78 85h1v1h-1zM88 85h1v1h-1zM96 86h1v1h-1zM17 87h1v1h-1zM46 87h1v1h-1zM66 87h1v1h-1zM74 87h1v1h-1zM78 87h1v1h-1zM91 87h1v1h-1zM34 88h1v1h-1zM85 88h1v1h-1zM21 89h1v1h-1zM34 89h1v1h-1zM79 89h1v1h-1zM87 89h1v1h-1zM11 90h1v1h-1zM45 90h1v1h-1zM47 90h1v1h-1zM71 90h1v1h-1zM91 90h1v1h-1zM26 91h1v1h-1zM29 91h1v1h-1zM31 91h1v1h-1zM72 91h1v1h-1zM94 91h1v1h-1zM95 92h1v1h-1zM45 93h1v1h-1zM13 94h1v1h-1zM87 94h1v1h-1zM94 94h1v1h-1zM84 95h1v1h-1zM95 95h1v1h-1zM18 96h1v1h-1zM21 96h1v1h-1zM32 96h1v1h-1zM85 96h1v1h-1zM21 97h2v1h-2zM96 97h1v1h-1zM52 99h1v1h-1zM89 99h1v1h-1zM96 99h1v1h-1zM85 101h1v1h-1zM87 101h1v1h-1zM28 102h1v1h-1zM47 102h1v1h-1zM100 102h1v1h-1zM12 103h1v1h-1zM26 103h1v1h-1zM26 104h1v1h-1zM90 104h1v1h-1zM98 104h1v1h-1zM97 105h1v1h-1zM9 106h1v1h-1zM19 106h1v1h-1zM11 107h1v1h-1zM13 108h1v1h-1zM87 108h1v1h-1zM92 108h1v1h-1zM81 109h1v1h-1zM83 109h1v1h-1zM86 109h1v1h-1zM80 110h1v1h-1zM72 115h1v1h-1zM88 115h1v1h-1zM90 115h1v1h-1zM88 116h1v1h-1zM92 116h1v1h-1zM94 116h1v1h-1zM88 119h1v1h-1zM90 120h1v1h-1zM23 123h1v1h-1zM87 124h1v1h-1zM18 125h1v1h-1zM86 125h1v1h-1zM91 129h1v1h-1z"/>
<path fill="#fd8d3c" d="M66 26h1v1h-1zM65 32h1v1h-1zM67 32h1v1h-1zM28 33h1v1h-1zM65 33h1v1h-1zM67 33h1v1h-1zM27 34h1v1h-1zM74 34h1v1h-1zM79 34h1v1h-1zM29 35h1v1h-1zM67 35h1v1h-1zM71 35h1v1h-1zM29 36h1v1h-1zM74 36h1v1h-1zM77 36h2v1h-2zM45 37h1v1h-1zM57 37h1v1h-1zM81 37h1v1h-1zM33 38h2v1h-2zM58 38h1v1h-1zM28 39h1v1h-1zM35 39h1v1h-1zM56 39h1v1h-1zM58 39h1v1h-1zM26 40h1v1h-1zM34 40h2v1h-2zM56 40h1v1h-1zM58 40h1v1h-1zM33 41h1v1h-1zM71 42h1v1h-1zM81 42h1v1h-1zM24 43h1v1h-1zM33 43h1v1h-1zM41 43h1v1h-1zM43 43h1v1h-1zM48 43h1v1h-1zM70 43h1v1h-1zM23 44h1v1h-1zM27 44h1v1h-1zM41 44h2v1h-2zM49 44h1v1h-1zM52 44h1v1h-1zM63 44h1v1h-1zM23 45h1v1h-1zM29 45h1v1h-1zM67 45h1v1h-1zM81 45h1v1h-1zM24 46h1v1h-1zM59 46h1v1h-1zM75 46h1v1h-1zM77 46h1v1h-1zM23 47h1v1h-1zM34 47h1v1h-1zM58 47h3v1h-3zM81 47h1v1h-1zM22 48h1v1h-1zM33 48h1v1h-1zM36 48h1v1h-1zM64 48h1v1h-1zM80 48h1v1h-1zM84 48h1v1h-1zM25 49h2v1h-2zM33 49h2v1h-2zM56 49h1v1h-1zM81 49h1v1h-1zM86 49h1v1h-1zM25 50h1v1h-1zM40 50h1v1h-1zM86 50h1v1h-1zM23 51h1v1h-1zM43 51h2v1h-2zM59 51h1v1h-1zM31 52h2v1h-2zM38 52h1v1h-1zM59 52h1v1h-1zM71 52h1v1h-1zM22 53h1v1h-1zM33 53h1v1h-1zM51 53h1v1h-1zM65 53h1v1h-1zM70 53h1v1h-1zM85 53h1v1h-1zM23 54h1v1h-1zM28 54h1v1h-1zM34 54h1v1h-1zM58 54h1v1h-1zM67 54h1v1h-1zM82 54h1v1h-1zM86 54h1v1h-1zM47 55h1v1h-1zM52 55h2v1h-2zM65 55h1v1h-1zM87 55h1v1h-1zM50 56h1v1h-1zM75 56h1v1h-1zM85 56h1v1h-1zM18 57h3v1h-3zM22 57h1v1h-1zM25 57h1v1h-1zM38 57h2v1h-2zM60 57h1v1h-1zM65 57h1v1h-1zM86 57h1v1h-1zM30 58h1v1h-1zM36 58h1v1h-1zM47 58h2v1h-2zM52 58h1v1h-1zM65 58h1v1h-1zM69 58h1v1h-1zM80 58h1v1h-1zM50 59h2v1h-2zM22 60h1v1h-1zM38 60h1v1h-1zM61 60h1v1h-1zM65 60h2v1h-2zM68 60h1v1h-1zM85 60h1v1h-1zM20 61h1v1h-1zM30 61h1v1h-1zM40 61h1v1h-1zM50 61h1v1h-1zM37 62h2v1h-2zM42 62h1v1h-1zM56 62h1v1h-1zM58 62h1v1h-1zM75 62h1v1h-1zM26 63h1v1h-1zM38 63h1v1h-1zM57 63h2v1h-2zM75 63h1v1h-1zM22 64h1v1h-1zM32 64h2v1h-2zM52 64h1v1h-1zM55 64h1v1h-1zM23 65h1v1h-1zM41 65h1v1h-1zM46 65h1v1h-1zM58 65h1v1h-1zM74 65h1v1h-1zM38 66h1v1h-1zM58 66h1v1h-1zM65 66h1v1h-1zM41 67h1v1h-1zM43 67h2v1h-2zM64 67h1v1h-1zM70 67h1v1h-1zM90 67h1v1h-1zM17 68h1v1h-1zM22 68h1v1h-1zM33 68h1v1h-1zM63 68h1v1h-1zM67 68h1v1h-1zM74 68h1v1h-1zM24 69h1v1h-1zM45 69h2v1h-2zM57 70h1v1h-1zM62 70h1v1h-1zM70 70h1v1h-1zM37 71h1v1h-1zM59 71h1v1h-1zM71 71h1v1h-1zM76 71h1v1h-1zM82 71h1v1h-1zM19 72h1v1h-1zM37 72h2v1h-2zM51 72h1v1h-1zM67 72h1v1h-1zM90 72h1v1h-1zM37 73h1v1h-1zM54 73h1v1h-1zM90 73h2v1h-2zM41 74h1v1h-1zM55 74h1v1h-1zM69 74h1v1h-1zM80 74h2v1h-2zM39 75h1v1h-1zM42 75h1v1h-1zM53 75h1v1h-1zM55 75h1v1h-1zM78 75h1v1h-1zM87 75h1v1h-1zM72 76h1v1h-1zM28 77h1v1h-1zM46 77h1v1h-1zM52 77h1v1h-1zM88 77h1v1h-1zM93 77h1v1h-1zM19 78h1v1h-1zM26 78h1v1h-1zM39 78h1v1h-1zM42 78h1v1h-1zM49 78h1v1h-1zM70 78h1v1h-1zM94 78h1v1h-1zM16 79h1v1h-1zM26 79h1v1h-1zM50 79h1v1h-1zM63 79h1v1h-1zM73 79h2v1h-2zM26 80h1v1h-1zM41 80h1v1h-1zM70 80h1v1h-1zM13 81h1v1h-1zM26 81h1v1h-1zM40 81h2v1h-2zM62 81h1v1h-1zM35 82h1v1h-1zM44 82h1v1h-1zM54 82h1v1h-1zM64 82h2v1h-2zM70 82h1v1h-1zM81 82h2v1h-2zM12 83h1v1h-1zM26 83h1v1h-1zM32 83h1v1h-1zM44 83h1v1h-1zM62 83h1v1h-1zM84 83h1v1h-1zM25 84h1v1h-1zM38 84h1v1h-1zM73 84h1v1h-1zM83 84h1v1h-1zM88 84h1v1h-1zM16 86h2v1h-2zM22 86h3v1h-3zM28 86h1v1h-1zM68 86h1v1h-1zM18 87h1v1h-1zM70 87h1v1h-1zM96 87h1v1h-1zM17 88h1v1h-1zM24 88h1v1h-1zM31 88h1v1h-1zM77 88h1v1h-1zM13 89h1v1h-1zM69 89h1v1h-1zM74 89h1v1h-1zM77 89h1v1h-1zM94 89h1v1h-1zM70 90h1v1h-1zM22 91h1v1h-1zM27 91h1v1h-1zM27 92h1v1h-1zM48 92h1v1h-1zM27 93h1v1h-1zM95 93h1v1h-1zM23 94h1v1h-1zM65 95h1v1h-1zM67 95h1v1h-1zM94 95h1v1h-1zM22 96h1v1h-1zM88 96h1v1h-1zM23 97h1v1h-1zM85 97h1v1h-1zM95 97h1v1h-1zM52 98h1v1h-1zM29 100h1v1h-1zM83 100h1v1h-1zM94 101h1v1h-1zM21 102h1v1h-1zM26 102h1v1h-1zM32 102h1v1h-1zM66 102h1v1h-1zM88 103h1v1h-1zM88 104h1v1h-1zM8 105h1v1h-1zM78 106h1v1h-1zM92 106h1v1h-1zM98 106h1v1h-1zM22 107h1v1h-1zM98 109h1v1h-1zM12 111h1v1h-1zM14 112h1v1h-1zM87 113h1v1h-1zM90 113h1v1h-1zM96 113h1v1h-1zM13 114h1v1h-1zM96 115h1v1h-1zM23 117h1v1h-1zM91 117h1v1h-1zM93 117h1v1h-1zM96 118h1v1h-1zM90 119h1v1h-1zM21 123h1v1h-1zM100 124h1v1h-1zM86 126h1v1h-1zM96 126h1v1h-1zM92 130h1v1h-1zM65 131h1v1h-1zM61 138h1v1h-1z"/>
<path fill="#fd8038" d="M67 26h1v1h-1zM31 28h1v1h-1zM37 28h1v1h-1zM28 30h1v1h-1zM71 32h1v1h-1zM69 33h1v1h-1zM65 34h1v1h-1zM67 34h1v1h-1zM78 34h1v1h-1zM28 35h1v1h-1zM78 35h1v1h-1zM80 35h1v1h-1zM27 36h1v1h-1zM73 36h1v1h-1zM29 37h1v1h-1zM34 37h1v1h-1zM44 37h1v1h-1zM74 37h1v1h-1zM31 38h1v1h-1zM35 38h1v1h-1zM50 38h1v1h-1zM62 38h1v1h-1zM33 39h2v1h-2zM54 39h1v1h-1zM33 40h1v1h-1zM58 41h1v1h-1zM62 41h1v1h-1zM81 41h1v1h-1zM35 42h1v1h-1zM61 42h2v1h-2zM69 42h1v1h-1zM83 42h1v1h-1zM25 43h2v1h-2zM34 43h1v1h-1zM51 43h1v1h-1zM65 43h1v1h-1zM76 43h1v1h-1zM48 44h1v1h-1zM51 44h1v1h-1zM65 44h1v1h-1zM34 45h1v1h-1zM66 45h1v1h-1zM80 45h1v1h-1zM82 45h1v1h-1zM23 46h1v1h-1zM30 46h1v1h-1zM58 46h1v1h-1zM60 46h1v1h-1zM67 46h2v1h-2zM82 46h1v1h-1zM47 47h2v1h-2zM57 47h1v1h-1zM83 47h1v1h-1zM31 48h1v1h-1zM34 48h1v1h-1zM48 48h1v1h-1zM59 48h1v1h-1zM74 48h1v1h-1zM76 48h1v1h-1zM32 49h1v1h-1zM68 49h1v1h-1zM75 49h1v1h-1zM39 50h1v1h-1zM41 50h1v1h-1zM44 50h1v1h-1zM55 50h1v1h-1zM68 50h1v1h-1zM77 50h1v1h-1zM79 50h1v1h-1zM24 51h1v1h-1zM39 51h2v1h-2zM72 51h1v1h-1zM75 51h1v1h-1zM78 51h1v1h-1zM66 52h1v1h-1zM83 52h1v1h-1zM49 53h1v1h-1zM59 53h1v1h-1zM30 54h1v1h-1zM44 54h1v1h-1zM47 54h1v1h-1zM52 54h1v1h-1zM74 54h1v1h-1zM80 54h2v1h-2zM84 54h1v1h-1zM23 55h1v1h-1zM30 55h1v1h-1zM32 55h2v1h-2zM51 55h1v1h-1zM61 55h1v1h-1zM64 55h1v1h-1zM70 55h1v1h-1zM73 55h2v1h-2zM83 55h2v1h-2zM21 56h1v1h-1zM38 56h1v1h-1zM54 56h1v1h-1zM58 56h1v1h-1zM73 56h1v1h-1zM83 56h1v1h-1zM44 57h1v1h-1zM47 57h2v1h-2zM53 57h1v1h-1zM58 57h2v1h-2zM69 57h1v1h-1zM77 57h1v1h-1zM64 58h1v1h-1zM54 59h1v1h-1zM65 59h1v1h-1zM24 60h2v1h-2zM31 60h1v1h-1zM50 60h1v1h-1zM67 60h1v1h-1zM74 60h1v1h-1zM77 60h1v1h-1zM22 61h1v1h-1zM49 61h1v1h-1zM65 61h2v1h-2zM22 62h1v1h-1zM29 62h1v1h-1zM44 62h1v1h-1zM57 62h1v1h-1zM62 62h1v1h-1zM70 62h1v1h-1zM80 62h1v1h-1zM91 62h1v1h-1zM30 63h2v1h-2zM39 63h1v1h-1zM42 63h1v1h-1zM51 63h1v1h-1zM54 63h1v1h-1zM56 63h1v1h-1zM21 64h1v1h-1zM23 64h1v1h-1zM25 64h2v1h-2zM31 64h1v1h-1zM54 64h1v1h-1zM58 64h1v1h-1zM75 64h1v1h-1zM80 64h1v1h-1zM19 65h1v1h-1zM40 65h1v1h-1zM73 65h1v1h-1zM79 65h1v1h-1zM88 65h1v1h-1zM70 66h1v1h-1zM79 66h2v1h-2zM82 66h2v1h-2zM38 67h1v1h-1zM56 67h2v1h-2zM68 67h1v1h-1zM84 67h1v1h-1zM41 68h1v1h-1zM44 68h1v1h-1zM66 68h1v1h-1zM80 68h1v1h-1zM84 68h1v1h-1zM43 69h1v1h-1zM46 70h1v1h-1zM48 70h1v1h-1zM68 70h1v1h-1zM36 71h1v1h-1zM60 71h1v1h-1zM50 72h1v1h-1zM92 72h1v1h-1zM28 73h1v1h-1zM48 73h2v1h-2zM62 73h1v1h-1zM78 73h1v1h-1zM82 73h2v1h-2zM86 73h1v1h-1zM25 74h1v1h-1zM31 74h1v1h-1zM35 74h1v1h-1zM19 75h1v1h-1zM48 75h1v1h-1zM69 75h3v1h-3zM79 75h1v1h-1zM22 76h1v1h-1zM69 76h1v1h-1zM86 76h1v1h-1zM27 77h1v1h-1zM14 78h1v1h-1zM21 78h1v1h-1zM34 78h1v1h-1zM73 78h1v1h-1zM42 79h1v1h-1zM21 80h1v1h-1zM39 80h1v1h-1zM42 80h1v1h-1zM82 80h1v1h-1zM94 80h1v1h-1zM14 81h1v1h-1zM82 81h1v1h-1zM21 82h1v1h-1zM24 82h1v1h-1zM30 82h1v1h-1zM40 82h1v1h-1zM56 82h1v1h-1zM60 82h1v1h-1zM63 82h1v1h-1zM43 83h1v1h-1zM48 83h1v1h-1zM50 83h1v1h-1zM28 84h1v1h-1zM31 84h1v1h-1zM33 84h1v1h-1zM45 84h1v1h-1zM55 84h1v1h-1zM58 84h1v1h-1zM65 84h1v1h-1zM87 84h1v1h-1zM25 85h1v1h-1zM29 85h1v1h-1zM45 85h1v1h-1zM93 85h1v1h-1zM62 86h1v1h-1zM66 86h1v1h-1zM78 86h1v1h-1zM92 86h1v1h-1zM94 86h1v1h-1zM24 87h1v1h-1zM38 87h1v1h-1zM73 87h1v1h-1zM90 87h1v1h-1zM92 87h1v1h-1zM11 88h1v1h-1zM42 88h1v1h-1zM86 88h1v1h-1zM91 88h1v1h-1zM12 89h1v1h-1zM25 89h1v1h-1zM30 89h1v1h-1zM32 89h1v1h-1zM42 89h1v1h-1zM12 90h1v1h-1zM72 90h1v1h-1zM78 90h1v1h-1zM85 90h2v1h-2zM32 91h1v1h-1zM91 91h1v1h-1zM15 92h1v1h-1zM22 92h1v1h-1zM20 93h1v1h-1zM27 94h2v1h-2zM89 94h1v1h-1zM15 95h1v1h-1zM17 95h1v1h-1zM19 95h1v1h-1zM16 96h1v1h-1zM96 96h1v1h-1zM98 96h1v1h-1zM90 97h1v1h-1zM92 97h1v1h-1zM20 98h1v1h-1zM28 98h1v1h-1zM96 98h1v1h-1zM88 99h1v1h-1zM38 100h1v1h-1zM47 100h1v1h-1zM88 100h1v1h-1zM69 101h1v1h-1zM86 101h1v1h-1zM97 101h1v1h-1zM23 102h1v1h-1zM46 102h1v1h-1zM99 102h1v1h-1zM20 103h1v1h-1zM32 103h1v1h-1zM99 103h1v1h-1zM12 105h1v1h-1zM21 105h1v1h-1zM81 105h1v1h-1zM96 105h1v1h-1zM98 105h1v1h-1zM18 106h1v1h-1zM90 107h2v1h-2zM76 110h1v1h-1zM22 111h1v1h-1zM87 111h1v1h-1zM93 112h1v1h-1zM99 112h1v1h-1zM29 113h1v1h-1zM39 113h1v1h-1zM89 113h1v1h-1zM23 116h1v1h-1zM30 116h1v1h-1zM90 116h1v1h-1zM95 116h1v1h-1zM97 116h1v1h-1zM21 117h1v1h-1zM92 117h1v1h-1zM21 118h1v1h-1zM18 119h1v1h-1zM39 121h1v1h-1zM99 125h1v1h-1zM82 129h1v1h-1zM49 130h1v1h-1zM66 130h1v1h-1zM49 131h1v1h-1zM53 135h1v1h-1zM82 137h1v1h-1zM73 142h1v1h-1z"/>
<path fill="#fd943f" d="M65 30h1v1h-1zM66 31h1v1h-1zM28 34h2v1h-2zM72 34h1v1h-1zM25 35h3v1h-3zM66 35h1v1h-1zM72 35h1v1h-1zM79 35h1v1h-1zM26 36h1v1h-1zM80 36h1v1h-1zM77 37h1v1h-1zM79 37h2v1h-2zM80 38h1v1h-1zM55 39h1v1h-1zM57 39h1v1h-1zM23 40h1v1h-1zM28 40h1v1h-1zM55 40h1v1h-1zM57 40h1v1h-1zM34 41h1v1h-1zM70 41h1v1h-1zM77 41h1v1h-1zM82 41h2v1h-2zM33 42h1v1h-1zM64 42h1v1h-1zM82 42h1v1h-1zM31 43h1v1h-1zM81 43h1v1h-1zM31 44h2v1h-2zM62 44h1v1h-1zM64 44h1v1h-1zM80 44h1v1h-1zM68 45h1v1h-1zM83 45h1v1h-1zM25 46h1v1h-1zM34 46h1v1h-1zM85 46h1v1h-1zM35 47h1v1h-1zM64 47h1v1h-1zM32 48h1v1h-1zM66 48h1v1h-1zM81 48h1v1h-1zM65 49h1v1h-1zM78 50h1v1h-1zM41 51h1v1h-1zM57 51h1v1h-1zM68 51h1v1h-1zM26 52h1v1h-1zM74 52h1v1h-1zM82 52h1v1h-1zM44 53h1v1h-1zM50 53h1v1h-1zM57 53h1v1h-1zM72 53h3v1h-3zM86 53h1v1h-1zM33 54h1v1h-1zM51 54h1v1h-1zM69 54h2v1h-2zM79 54h1v1h-1zM27 55h1v1h-1zM29 55h1v1h-1zM31 55h1v1h-1zM38 55h1v1h-1zM43 55h1v1h-1zM82 55h1v1h-1zM85 55h1v1h-1zM28 56h1v1h-1zM47 56h1v1h-1zM59 56h1v1h-1zM65 56h1v1h-1zM87 56h1v1h-1zM23 57h1v1h-1zM37 57h1v1h-1zM80 57h1v1h-1zM87 57h1v1h-1zM87 58h1v1h-1zM52 59h2v1h-2zM66 59h1v1h-1zM88 59h1v1h-1zM60 60h1v1h-1zM71 60h1v1h-1zM84 60h1v1h-1zM25 61h2v1h-2zM38 61h1v1h-1zM43 61h1v1h-1zM58 61h1v1h-1zM69 61h1v1h-1zM82 61h1v1h-1zM19 62h1v1h-1zM33 62h1v1h-1zM49 62h2v1h-2zM59 62h1v1h-1zM17 63h1v1h-1zM22 63h2v1h-2zM32 63h1v1h-1zM44 63h1v1h-1zM49 63h1v1h-1zM55 63h1v1h-1zM71 63h1v1h-1zM86 63h1v1h-1zM37 64h1v1h-1zM39 64h1v1h-1zM49 64h1v1h-1zM81 64h1v1h-1zM44 65h1v1h-1zM85 65h1v1h-1zM89 65h1v1h-1zM20 66h1v1h-1zM39 66h2v1h-2zM44 66h1v1h-1zM55 66h1v1h-1zM68 66h1v1h-1zM23 67h1v1h-1zM33 67h1v1h-1zM40 67h1v1h-1zM54 67h1v1h-1zM58 67h1v1h-1zM61 67h1v1h-1zM79 67h1v1h-1zM21 68h1v1h-1zM38 68h1v1h-1zM46 68h1v1h-1zM59 68h1v1h-1zM91 68h1v1h-1zM42 69h1v1h-1zM59 69h1v1h-1zM17 70h1v1h-1zM36 70h2v1h-2zM65 70h1v1h-1zM73 70h1v1h-1zM76 70h1v1h-1zM90 70h1v1h-1zM19 71h1v1h-1zM44 71h1v1h-1zM62 71h1v1h-1zM67 71h1v1h-1zM74 71h1v1h-1zM77 71h2v1h-2zM26 72h1v1h-1zM34 72h1v1h-1zM36 72h1v1h-1zM39 72h2v1h-2zM54 72h1v1h-1zM73 72h1v1h-1zM91 72h1v1h-1zM16 73h1v1h-1zM26 73h1v1h-1zM41 73h1v1h-1zM50 73h1v1h-1zM68 73h1v1h-1zM88 73h1v1h-1zM14 74h1v1h-1zM28 74h1v1h-1zM48 74h1v1h-1zM86 74h1v1h-1zM20 75h1v1h-1zM35 75h1v1h-1zM60 75h1v1h-1zM38 76h1v1h-1zM57 76h1v1h-1zM64 76h1v1h-1zM94 76h1v1h-1zM38 77h1v1h-1zM43 77h1v1h-1zM69 77h1v1h-1zM73 77h1v1h-1zM87 77h1v1h-1zM27 78h1v1h-1zM33 78h1v1h-1zM20 79h1v1h-1zM23 79h1v1h-1zM82 79h1v1h-1zM43 80h1v1h-1zM51 80h1v1h-1zM72 80h1v1h-1zM79 80h1v1h-1zM27 81h3v1h-3zM77 81h1v1h-1zM92 81h1v1h-1zM38 82h1v1h-1zM49 82h1v1h-1zM66 82h1v1h-1zM88 82h1v1h-1zM91 82h1v1h-1zM27 83h1v1h-1zM55 83h1v1h-1zM44 84h1v1h-1zM62 84h1v1h-1zM64 85h1v1h-1zM25 86h1v1h-1zM58 86h1v1h-1zM63 86h1v1h-1zM91 86h1v1h-1zM14 87h1v1h-1zM47 87h1v1h-1zM85 87h1v1h-1zM93 87h1v1h-1zM32 88h1v1h-1zM69 88h1v1h-1zM23 89h2v1h-2zM26 89h1v1h-1zM33 89h1v1h-1zM21 90h1v1h-1zM25 90h1v1h-1zM43 90h1v1h-1zM69 90h1v1h-1zM87 90h1v1h-1zM95 90h1v1h-1zM28 91h1v1h-1zM47 91h1v1h-1zM70 91h1v1h-1zM98 91h1v1h-1zM10 92h1v1h-1zM10 93h1v1h-1zM21 93h2v1h-2zM51 93h1v1h-1zM87 93h1v1h-1zM94 93h1v1h-1zM96 93h1v1h-1zM11 94h1v1h-1zM97 95h1v1h-1zM14 96h1v1h-1zM46 96h1v1h-1zM84 96h1v1h-1zM89 96h1v1h-1zM16 97h1v1h-1zM46 97h1v1h-1zM84 97h1v1h-1zM35 98h1v1h-1zM53 98h1v1h-1zM83 98h1v1h-1zM26 99h1v1h-1zM92 99h1v1h-1zM18 100h1v1h-1zM85 100h2v1h-2zM9 102h1v1h-1zM33 102h1v1h-1zM88 102h1v1h-1zM97 102h1v1h-1zM19 103h1v1h-1zM21 103h1v1h-1zM97 103h1v1h-1zM31 106h1v1h-1zM46 106h1v1h-1zM48 106h1v1h-1zM100 106h1v1h-1zM23 107h1v1h-1zM14 108h1v1h-1zM29 108h1v1h-1zM54 108h1v1h-1zM82 108h1v1h-1zM91 108h1v1h-1zM98 108h1v1h-1zM18 109h1v1h-1zM83 110h1v1h-1zM13 111h1v1h-1zM96 112h1v1h-1zM22 113h1v1h-1zM88 114h1v1h-1zM87 115h1v1h-1zM22 117h1v1h-1zM97 117h1v1h-1zM17 118h1v1h-1zM96 119h1v1h-1zM81 120h1v1h-1zM23 124h1v1h-1zM89 125h1v1h-1zM99 126h1v1h-1zM82 127h1v1h-1zM96 127h1v1h-1zM83 128h1v1h-1zM96 128h1v1h-1zM93 130h1v1h-1zM82 138h1v1h-1z"/>
<path fill="#fea346" d="M71 34h1v1h-1zM24 36h1v1h-1zM25 37h1v1h-1zM76 37h1v1h-1zM78 37h1v1h-1zM27 38h1v1h-1zM27 40h1v1h-1zM80 40h1v1h-1zM76 42h1v1h-1zM63 43h2v1h-2zM24 44h1v1h-1zM26 44h1v1h-1zM33 44h1v1h-1zM22 45h1v1h-1zM30 45h1v1h-1zM33 45h1v1h-1zM84 45h1v1h-1zM22 47h1v1h-1zM31 47h1v1h-1zM33 47h1v1h-1zM36 47h1v1h-1zM76 47h1v1h-1zM56 48h1v1h-1zM58 48h1v1h-1zM72 48h1v1h-1zM82 48h1v1h-1zM72 49h1v1h-1zM57 50h1v1h-1zM59 50h1v1h-1zM74 50h1v1h-1zM85 50h1v1h-1zM54 51h1v1h-1zM69 51h1v1h-1zM73 51h1v1h-1zM55 52h1v1h-1zM68 52h2v1h-2zM73 52h1v1h-1zM77 52h1v1h-1zM27 53h1v1h-1zM35 53h1v1h-1zM43 53h1v1h-1zM69 53h1v1h-1zM66 54h1v1h-1zM78 54h1v1h-1zM75 55h1v1h-1zM81 55h1v1h-1zM22 56h1v1h-1zM29 56h1v1h-1zM53 56h1v1h-1zM76 56h1v1h-1zM81 56h2v1h-2zM24 57h1v1h-1zM37 58h1v1h-1zM68 58h1v1h-1zM49 59h1v1h-1zM36 60h1v1h-1zM42 61h1v1h-1zM45 61h1v1h-1zM60 61h1v1h-1zM74 61h1v1h-1zM25 62h1v1h-1zM28 62h1v1h-1zM31 62h1v1h-1zM60 62h2v1h-2zM90 62h1v1h-1zM24 63h1v1h-1zM43 63h1v1h-1zM59 63h1v1h-1zM72 63h1v1h-1zM89 63h1v1h-1zM91 63h1v1h-1zM17 64h1v1h-1zM43 64h1v1h-1zM50 64h1v1h-1zM74 64h1v1h-1zM85 64h1v1h-1zM88 64h2v1h-2zM28 65h1v1h-1zM61 65h1v1h-1zM81 65h1v1h-1zM24 66h1v1h-1zM41 66h1v1h-1zM54 66h1v1h-1zM61 66h1v1h-1zM46 67h1v1h-1zM59 67h2v1h-2zM66 67h1v1h-1zM37 68h1v1h-1zM43 68h1v1h-1zM50 68h1v1h-1zM87 68h2v1h-2zM36 69h1v1h-1zM47 69h1v1h-1zM70 69h2v1h-2zM73 69h1v1h-1zM89 69h1v1h-1zM91 69h1v1h-1zM59 70h1v1h-1zM74 70h2v1h-2zM79 70h1v1h-1zM16 71h1v1h-1zM20 71h1v1h-1zM45 71h1v1h-1zM56 71h1v1h-1zM87 71h1v1h-1zM93 71h1v1h-1zM16 72h1v1h-1zM20 72h1v1h-1zM35 72h1v1h-1zM66 72h1v1h-1zM82 72h1v1h-1zM86 72h1v1h-1zM88 72h2v1h-2zM15 73h1v1h-1zM25 73h1v1h-1zM55 73h1v1h-1zM87 73h1v1h-1zM92 73h1v1h-1zM43 74h1v1h-1zM57 74h1v1h-1zM61 74h1v1h-1zM74 74h1v1h-1zM83 74h1v1h-1zM89 74h1v1h-1zM27 75h1v1h-1zM62 75h1v1h-1zM68 75h1v1h-1zM75 75h2v1h-2zM23 76h1v1h-1zM52 76h3v1h-3zM63 76h1v1h-1zM68 76h1v1h-1zM70 76h1v1h-1zM73 76h1v1h-1zM89 76h1v1h-1zM23 77h1v1h-1zM53 77h1v1h-1zM76 77h2v1h-2zM91 77h2v1h-2zM94 77h1v1h-1zM32 78h1v1h-1zM38 78h1v1h-1zM46 78h1v1h-1zM67 78h1v1h-1zM69 78h1v1h-1zM72 78h1v1h-1zM32 79h1v1h-1zM38 79h1v1h-1zM70 79h1v1h-1zM87 79h1v1h-1zM22 80h1v1h-1zM59 80h1v1h-1zM64 80h1v1h-1zM71 80h1v1h-1zM80 80h1v1h-1zM87 80h1v1h-1zM20 81h1v1h-1zM39 81h1v1h-1zM83 81h2v1h-2zM20 82h1v1h-1zM27 82h1v1h-1zM51 82h1v1h-1zM76 82h1v1h-1zM23 83h1v1h-1zM45 83h1v1h-1zM96 83h1v1h-1zM64 84h1v1h-1zM18 85h1v1h-1zM23 85h1v1h-1zM35 85h1v1h-1zM66 85h2v1h-2zM83 85h1v1h-1zM89 85h1v1h-1zM92 85h1v1h-1zM15 86h1v1h-1zM21 86h1v1h-1zM37 86h1v1h-1zM65 86h1v1h-1zM70 86h1v1h-1zM87 86h2v1h-2zM12 88h2v1h-2zM43 88h1v1h-1zM72 88h1v1h-1zM74 88h1v1h-1zM68 89h1v1h-1zM70 89h2v1h-2zM80 89h1v1h-1zM84 89h1v1h-1zM27 90h1v1h-1zM41 90h2v1h-2zM33 91h1v1h-1zM44 91h1v1h-1zM69 91h1v1h-1zM78 91h1v1h-1zM97 91h1v1h-1zM16 92h2v1h-2zM28 92h1v1h-1zM94 92h1v1h-1zM97 93h1v1h-1zM14 94h1v1h-1zM68 94h1v1h-1zM93 94h1v1h-1zM95 94h1v1h-1zM20 95h1v1h-1zM24 95h1v1h-1zM98 95h1v1h-1zM91 96h1v1h-1zM21 98h1v1h-1zM82 98h1v1h-1zM84 98h1v1h-1zM40 99h1v1h-1zM19 100h1v1h-1zM81 100h2v1h-2zM74 101h1v1h-1zM12 102h1v1h-1zM22 102h1v1h-1zM9 103h1v1h-1zM28 103h1v1h-1zM9 104h1v1h-1zM13 104h1v1h-1zM22 106h1v1h-1zM72 106h1v1h-1zM10 108h2v1h-2zM90 108h1v1h-1zM91 109h1v1h-1zM75 111h1v1h-1zM95 111h1v1h-1zM22 112h1v1h-1zM97 112h1v1h-1zM28 113h1v1h-1zM88 113h1v1h-1zM99 113h1v1h-1zM26 114h1v1h-1zM87 114h1v1h-1zM54 115h1v1h-1zM81 115h1v1h-1zM83 115h1v1h-1zM99 116h1v1h-1zM86 118h2v1h-2zM87 119h1v1h-1zM91 119h1v1h-1zM91 120h1v1h-1zM97 120h1v1h-1zM99 124h1v1h-1zM97 125h1v1h-1zM64 126h1v1h-1zM97 126h1v1h-1zM62 138h1v1h-1zM61 145h1v1h-1z"/>
<path fill="#feb24c" d="M25 36h1v1h-1zM26 38h1v1h-1zM77 38h1v1h-1zM81 38h1v1h-1zM25 39h2v1h-2zM76 39h2v1h-2zM79 39h1v1h-1zM81 39h1v1h-1zM25 45h1v1h-1zM31 45h1v1h-1zM31 46h3v1h-3zM32 47h1v1h-1zM57 48h1v1h-1zM84 51h1v1h-1zM21 52h1v1h-1zM57 52h1v1h-1zM75 52h1v1h-1zM68 53h1v1h-1zM24 54h1v1h-1zM50 54h1v1h-1zM77 54h1v1h-1zM50 55h1v1h-1zM80 55h1v1h-1zM23 56h1v1h-1zM26 56h2v1h-2zM49 56h1v1h-1zM21 59h1v1h-1zM47 59h1v1h-1zM21 60h1v1h-1zM43 60h1v1h-1zM69 60h2v1h-2zM19 61h1v1h-1zM71 61h2v1h-2zM85 61h2v1h-2zM89 61h2v1h-2zM71 62h1v1h-1zM85 62h1v1h-1zM50 63h1v1h-1zM73 63h1v1h-1zM87 63h1v1h-1zM30 65h1v1h-1zM43 65h1v1h-1zM17 66h2v1h-2zM33 66h2v1h-2zM86 66h1v1h-1zM67 67h1v1h-1zM32 68h1v1h-1zM36 68h1v1h-1zM49 68h1v1h-1zM51 69h2v1h-2zM32 70h1v1h-1zM54 70h1v1h-1zM58 70h1v1h-1zM77 70h2v1h-2zM80 70h1v1h-1zM18 71h1v1h-1zM30 71h1v1h-1zM58 71h1v1h-1zM63 71h1v1h-1zM53 72h1v1h-1zM64 72h2v1h-2zM14 73h1v1h-1zM19 73h2v1h-2zM40 73h1v1h-1zM44 73h1v1h-1zM57 73h1v1h-1zM60 73h1v1h-1zM64 73h1v1h-1zM66 73h1v1h-1zM21 74h1v1h-1zM49 74h1v1h-1zM63 74h1v1h-1zM68 74h1v1h-1zM73 74h1v1h-1zM88 74h1v1h-1zM25 75h2v1h-2zM49 75h1v1h-1zM74 75h1v1h-1zM94 75h1v1h-1zM51 76h1v1h-1zM77 76h1v1h-1zM92 76h1v1h-1zM37 77h1v1h-1zM39 77h1v1h-1zM42 77h1v1h-1zM61 77h1v1h-1zM63 77h1v1h-1zM75 77h1v1h-1zM81 77h1v1h-1zM90 77h1v1h-1zM28 78h1v1h-1zM31 78h1v1h-1zM41 78h1v1h-1zM62 78h1v1h-1zM71 78h1v1h-1zM22 79h1v1h-1zM27 79h1v1h-1zM77 79h1v1h-1zM81 79h1v1h-1zM85 79h1v1h-1zM15 80h1v1h-1zM20 80h1v1h-1zM32 80h1v1h-1zM69 80h1v1h-1zM74 80h1v1h-1zM88 80h1v1h-1zM19 81h1v1h-1zM30 81h1v1h-1zM61 81h1v1h-1zM65 81h3v1h-3zM19 82h1v1h-1zM31 82h1v1h-1zM41 82h1v1h-1zM50 82h1v1h-1zM55 82h1v1h-1zM59 82h1v1h-1zM71 82h1v1h-1zM92 82h1v1h-1zM37 83h1v1h-1zM18 84h1v1h-1zM23 84h1v1h-1zM56 84h1v1h-1zM22 85h1v1h-1zM44 85h1v1h-1zM49 85h1v1h-1zM30 86h1v1h-1zM32 86h1v1h-1zM64 86h1v1h-1zM84 86h1v1h-1zM20 87h1v1h-1zM27 87h1v1h-1zM45 87h1v1h-1zM65 87h1v1h-1zM79 87h1v1h-1zM86 87h1v1h-1zM95 87h1v1h-1zM33 88h1v1h-1zM39 88h1v1h-1zM41 88h1v1h-1zM75 88h2v1h-2zM81 88h1v1h-1zM90 88h1v1h-1zM97 88h1v1h-1zM56 89h1v1h-1zM60 89h1v1h-1zM22 90h1v1h-1zM68 90h1v1h-1zM76 90h1v1h-1zM96 90h1v1h-1zM98 90h1v1h-1zM12 91h1v1h-1zM46 91h1v1h-1zM62 91h1v1h-1zM66 91h1v1h-1zM26 92h1v1h-1zM30 92h1v1h-1zM47 92h1v1h-1zM62 93h2v1h-2zM24 94h1v1h-1zM90 94h1v1h-1zM96 94h1v1h-1zM98 94h1v1h-1zM13 95h1v1h-1zM18 95h1v1h-1zM25 95h1v1h-1zM66 96h2v1h-2zM90 96h1v1h-1zM92 96h1v1h-1zM15 97h1v1h-1zM33 97h1v1h-1zM54 97h1v1h-1zM68 97h1v1h-1zM94 97h1v1h-1zM22 98h2v1h-2zM67 98h1v1h-1zM87 98h1v1h-1zM12 99h1v1h-1zM21 99h1v1h-1zM33 99h1v1h-1zM85 99h1v1h-1zM33 100h1v1h-1zM94 100h1v1h-1zM97 100h1v1h-1zM8 102h1v1h-1zM19 102h1v1h-1zM14 103h1v1h-1zM17 103h2v1h-2zM22 103h1v1h-1zM35 103h1v1h-1zM89 103h1v1h-1zM16 104h1v1h-1zM96 104h1v1h-1zM92 105h1v1h-1zM14 107h1v1h-1zM47 107h1v1h-1zM73 107h1v1h-1zM78 107h1v1h-1zM30 108h1v1h-1zM12 109h1v1h-1zM14 109h1v1h-1zM16 109h2v1h-2zM11 110h1v1h-1zM20 110h1v1h-1zM94 110h1v1h-1zM21 111h1v1h-1zM92 111h1v1h-1zM17 112h1v1h-1zM28 112h1v1h-1zM66 112h1v1h-1zM91 112h1v1h-1zM21 113h1v1h-1zM98 113h1v1h-1zM10 114h1v1h-1zM79 114h1v1h-1zM10 115h1v1h-1zM53 115h1v1h-1zM82 115h1v1h-1zM84 115h1v1h-1zM86 115h1v1h-1zM12 116h1v1h-1zM82 116h1v1h-1zM87 116h1v1h-1zM100 116h1v1h-1zM13 117h1v1h-1zM18 117h2v1h-2zM86 117h1v1h-1zM14 118h1v1h-1zM24 118h1v1h-1zM90 118h1v1h-1zM20 119h1v1h-1zM86 119h1v1h-1zM21 120h1v1h-1zM91 121h3v1h-3zM97 121h1v1h-1zM22 123h1v1h-1zM77 123h1v1h-1zM71 124h1v1h-1zM97 124h1v1h-1zM65 125h1v1h-1zM98 125h1v1h-1zM89 126h1v1h-1zM98 126h1v1h-1zM61 133h1v1h-1zM62 134h1v1h-1z"/>
<path fill="#fec25d" d="M24 38h1v1h-1zM75 38h1v1h-1zM78 39h1v1h-1zM57 49h2v1h-2zM73 49h1v1h-1zM82 49h1v1h-1zM58 50h1v1h-1zM86 51h1v1h-1zM76 52h1v1h-1zM85 52h1v1h-1zM26 53h1v1h-1zM36 53h1v1h-1zM67 53h1v1h-1zM76 53h1v1h-1zM25 55h1v1h-1zM48 55h1v1h-1zM77 56h1v1h-1zM80 56h1v1h-1zM28 57h1v1h-1zM27 58h1v1h-1zM89 58h1v1h-1zM36 59h1v1h-1zM89 59h1v1h-1zM18 60h1v1h-1zM47 60h2v1h-2zM88 60h1v1h-1zM27 61h1v1h-1zM31 61h1v1h-1zM91 61h1v1h-1zM27 62h1v1h-1zM72 62h1v1h-1zM88 63h1v1h-1zM33 65h1v1h-1zM59 65h1v1h-1zM35 66h1v1h-1zM18 68h1v1h-1zM75 68h1v1h-1zM85 68h1v1h-1zM20 69h1v1h-1zM22 69h2v1h-2zM63 69h1v1h-1zM76 69h1v1h-1zM79 69h1v1h-1zM50 70h1v1h-1zM63 70h1v1h-1zM72 70h1v1h-1zM85 70h1v1h-1zM87 70h2v1h-2zM57 71h1v1h-1zM72 71h1v1h-1zM91 71h1v1h-1zM21 72h1v1h-1zM46 72h1v1h-1zM47 73h1v1h-1zM23 74h1v1h-1zM50 74h1v1h-1zM85 74h1v1h-1zM23 75h1v1h-1zM61 75h1v1h-1zM30 76h1v1h-1zM80 76h2v1h-2zM93 76h1v1h-1zM26 77h1v1h-1zM33 77h1v1h-1zM82 77h1v1h-1zM86 77h1v1h-1zM95 78h1v1h-1zM18 79h1v1h-1zM61 79h1v1h-1zM65 79h1v1h-1zM72 79h1v1h-1zM19 80h1v1h-1zM36 80h1v1h-1zM60 81h1v1h-1zM37 82h1v1h-1zM46 82h2v1h-2zM72 82h2v1h-2zM89 82h1v1h-1zM16 83h1v1h-1zM73 83h1v1h-1zM89 83h1v1h-1zM68 84h1v1h-1zM72 84h1v1h-1zM89 84h1v1h-1zM93 84h2v1h-2zM15 85h2v1h-2zM90 85h1v1h-1zM53 86h1v1h-1zM79 86h1v1h-1zM97 86h1v1h-1zM28 87h1v1h-1zM80 87h1v1h-1zM84 87h1v1h-1zM89 87h1v1h-1zM97 87h1v1h-1zM25 88h1v1h-1zM28 88h1v1h-1zM40 88h1v1h-1zM45 88h1v1h-1zM60 88h1v1h-1zM83 88h1v1h-1zM87 88h1v1h-1zM96 88h1v1h-1zM47 89h1v1h-1zM76 89h1v1h-1zM37 90h1v1h-1zM88 90h2v1h-2zM37 91h2v1h-2zM40 91h1v1h-1zM46 92h1v1h-1zM56 92h1v1h-1zM62 92h1v1h-1zM59 93h1v1h-1zM92 94h1v1h-1zM21 95h1v1h-1zM83 95h1v1h-1zM87 95h1v1h-1zM11 96h2v1h-2zM79 96h1v1h-1zM83 96h1v1h-1zM87 96h1v1h-1zM93 96h2v1h-2zM9 97h1v1h-1zM31 97h1v1h-1zM10 98h2v1h-2zM33 98h1v1h-1zM89 100h1v1h-1zM91 100h1v1h-1zM8 101h2v1h-2zM22 101h1v1h-1zM73 101h1v1h-1zM98 101h1v1h-1zM72 102h1v1h-1zM15 103h1v1h-1zM65 103h1v1h-1zM21 104h1v1h-1zM23 104h1v1h-1zM69 104h1v1h-1zM28 105h1v1h-1zM77 107h1v1h-1zM81 107h2v1h-2zM21 109h1v1h-1zM12 110h1v1h-1zM14 110h1v1h-1zM81 110h1v1h-1zM89 110h1v1h-1zM10 111h1v1h-1zM14 111h1v1h-1zM66 111h2v1h-2zM11 112h1v1h-1zM20 113h1v1h-1zM25 113h1v1h-1zM69 115h1v1h-1zM54 116h1v1h-1zM83 116h1v1h-1zM24 117h1v1h-1zM95 117h1v1h-1zM100 117h1v1h-1zM18 118h1v1h-1zM95 119h1v1h-1zM86 120h1v1h-1zM12 121h1v1h-1zM27 121h1v1h-1zM87 123h1v1h-1zM23 125h1v1h-1zM85 125h1v1h-1zM83 127h1v1h-1zM35 131h1v1h-1zM60 133h1v1h-1zM61 134h1v1h-1zM87 136h1v1h-1zM62 139h1v1h-1zM62 144h1v1h-1z"/>
<path fill="#fed16e" d="M83 50h1v1h-1zM23 52h1v1h-1zM86 52h1v1h-1zM23 53h1v1h-1zM25 53h1v1h-1zM26 54h1v1h-1zM76 55h1v1h-1zM79 55h1v1h-1zM78 56h1v1h-1zM27 57h1v1h-1zM78 57h1v1h-1zM46 60h1v1h-1zM24 62h1v1h-1zM32 62h1v1h-1zM87 62h1v1h-1zM60 63h1v1h-1zM16 65h1v1h-1zM31 65h1v1h-1zM91 65h1v1h-1zM30 67h1v1h-1zM35 67h1v1h-1zM30 68h2v1h-2zM18 69h1v1h-1zM49 69h1v1h-1zM75 69h1v1h-1zM77 69h2v1h-2zM21 70h1v1h-1zM91 70h1v1h-1zM22 71h1v1h-1zM51 71h1v1h-1zM53 71h1v1h-1zM81 71h1v1h-1zM88 71h1v1h-1zM17 72h1v1h-1zM56 72h1v1h-1zM59 73h1v1h-1zM45 74h1v1h-1zM64 74h1v1h-1zM66 74h2v1h-2zM85 77h1v1h-1zM31 79h1v1h-1zM37 79h1v1h-1zM68 79h1v1h-1zM75 79h1v1h-1zM79 79h1v1h-1zM16 80h1v1h-1zM30 80h1v1h-1zM65 80h1v1h-1zM68 80h1v1h-1zM15 81h2v1h-2zM46 81h1v1h-1zM88 81h1v1h-1zM36 82h1v1h-1zM80 83h1v1h-1zM22 84h1v1h-1zM92 84h1v1h-1zM36 85h1v1h-1zM42 85h2v1h-2zM71 85h1v1h-1zM79 85h1v1h-1zM81 85h2v1h-2zM29 87h1v1h-1zM31 87h1v1h-1zM40 87h1v1h-1zM42 87h1v1h-1zM53 87h1v1h-1zM87 87h1v1h-1zM26 88h1v1h-1zM95 88h1v1h-1zM50 89h1v1h-1zM90 89h1v1h-1zM97 89h1v1h-1zM16 90h1v1h-1zM11 91h1v1h-1zM34 91h1v1h-1zM36 91h1v1h-1zM68 91h1v1h-1zM80 91h1v1h-1zM31 92h1v1h-1zM39 92h1v1h-1zM55 92h1v1h-1zM70 92h1v1h-1zM86 93h1v1h-1zM91 93h1v1h-1zM93 93h1v1h-1zM10 94h1v1h-1zM21 94h1v1h-1zM86 94h1v1h-1zM10 95h1v1h-1zM86 95h1v1h-1zM9 96h1v1h-1zM24 96h1v1h-1zM34 97h1v1h-1zM93 97h1v1h-1zM9 98h1v1h-1zM13 98h1v1h-1zM32 98h1v1h-1zM66 98h1v1h-1zM81 98h1v1h-1zM10 99h1v1h-1zM80 99h1v1h-1zM11 100h1v1h-1zM93 100h1v1h-1zM14 101h1v1h-1zM30 101h2v1h-2zM30 102h1v1h-1zM58 102h1v1h-1zM16 103h1v1h-1zM30 103h2v1h-2zM14 104h1v1h-1zM75 105h1v1h-1zM73 106h1v1h-1zM88 106h1v1h-1zM96 106h1v1h-1zM29 107h1v1h-1zM89 107h1v1h-1zM84 108h1v1h-1zM93 108h1v1h-1zM13 109h1v1h-1zM15 109h1v1h-1zM27 113h1v1h-1zM12 115h1v1h-1zM53 116h1v1h-1zM83 117h1v1h-1zM98 117h1v1h-1zM87 120h1v1h-1zM40 121h1v1h-1zM54 121h1v1h-1zM86 121h1v1h-1zM85 126h1v1h-1zM95 127h1v1h-1zM98 127h2v1h-2zM53 134h1v1h-1zM88 134h1v1h-1zM61 146h1v1h-1z"/>
<path fill="#ffe58f" d="M36 54h1v1h-1zM36 55h1v1h-1zM45 59h1v1h-1zM16 64h1v1h-1zM91 64h1v1h-1zM32 66h1v1h-1zM93 70h1v1h-1zM23 71h1v1h-1zM23 72h2v1h-2zM91 75h1v1h-1zM93 75h1v1h-1zM24 76h1v1h-1zM83 77h1v1h-1zM47 78h1v1h-1zM29 79h1v1h-1zM17 80h2v1h-2zM61 80h1v1h-1zM66 80h1v1h-1zM75 82h1v1h-1zM20 83h1v1h-1zM72 83h1v1h-1zM12 84h2v1h-2zM19 84h1v1h-1zM12 85h1v1h-1zM19 85h1v1h-1zM13 86h1v1h-1zM12 87h2v1h-2zM88 87h1v1h-1zM50 88h1v1h-1zM88 88h2v1h-2zM55 90h1v1h-1zM67 91h1v1h-1zM36 92h1v1h-1zM83 92h1v1h-1zM70 93h1v1h-1zM82 93h1v1h-1zM99 93h1v1h-1zM91 95h1v1h-1zM35 96h1v1h-1zM62 97h1v1h-1zM93 98h1v1h-1zM94 99h1v1h-1zM16 100h1v1h-1zM89 102h1v1h-1zM92 102h1v1h-1zM95 103h1v1h-1zM23 105h1v1h-1zM86 105h2v1h-2zM16 106h1v1h-1zM45 106h1v1h-1zM71 107h1v1h-1zM87 107h1v1h-1zM72 108h1v1h-1zM95 109h2v1h-2zM20 112h1v1h-1zM25 112h1v1h-1zM24 113h1v1h-1zM26 118h1v1h-1zM94 118h1v1h-1zM88 121h1v1h-1zM90 127h1v1h-1zM98 129h1v1h-1zM89 131h1v1h-1z"/>
<path fill="#fedd7e" d="M79 57h1v1h-1zM19 60h1v1h-1zM44 60h1v1h-1zM87 61h1v1h-1zM83 62h1v1h-1zM88 62h1v1h-1zM83 63h1v1h-1zM60 64h2v1h-2zM84 64h1v1h-1zM30 66h1v1h-1zM32 67h1v1h-1zM30 69h1v1h-1zM64 69h1v1h-1zM86 69h1v1h-1zM22 70h1v1h-1zM51 70h2v1h-2zM25 71h1v1h-1zM31 71h1v1h-1zM52 71h1v1h-1zM21 73h1v1h-1zM67 75h1v1h-1zM85 75h1v1h-1zM89 75h1v1h-1zM92 75h1v1h-1zM25 76h1v1h-1zM85 76h1v1h-1zM24 77h2v1h-2zM80 77h1v1h-1zM30 78h1v1h-1zM37 78h1v1h-1zM48 78h1v1h-1zM76 79h1v1h-1zM47 80h2v1h-2zM67 80h1v1h-1zM17 81h2v1h-2zM94 81h1v1h-1zM95 82h1v1h-1zM90 83h1v1h-1zM15 84h1v1h-1zM70 85h1v1h-1zM91 85h1v1h-1zM12 86h1v1h-1zM49 86h1v1h-1zM11 87h1v1h-1zM41 87h1v1h-1zM48 88h1v1h-1zM82 89h1v1h-1zM16 91h1v1h-1zM25 91h1v1h-1zM71 92h1v1h-1zM25 93h1v1h-1zM32 94h1v1h-1zM63 96h1v1h-1zM24 97h1v1h-1zM12 100h1v1h-1zM20 100h1v1h-1zM72 101h1v1h-1zM93 101h1v1h-1zM15 102h1v1h-1zM17 102h1v1h-1zM90 103h1v1h-1zM92 103h3v1h-3zM22 104h1v1h-1zM30 104h1v1h-1zM95 104h1v1h-1zM14 106h1v1h-1zM74 106h1v1h-1zM82 106h1v1h-1zM96 108h1v1h-1zM58 110h1v1h-1zM92 110h1v1h-1zM11 111h1v1h-1zM15 113h1v1h-1zM82 114h1v1h-1zM26 116h2v1h-2zM27 117h1v1h-1zM97 119h1v1h-1zM54 120h1v1h-1zM92 120h1v1h-1zM55 121h1v1h-1zM90 122h1v1h-1zM84 127h1v1h-1zM100 127h1v1h-1zM89 129h1v1h-1zM89 130h1v1h-1zM80 132h1v1h-1zM54 134h1v1h-1z"/>
<path fill="#ffeda0" d="M31 67h1v1h-1zM92 70h1v1h-1zM84 78h1v1h-1zM28 79h1v1h-1zM30 79h1v1h-1zM75 80h1v1h-1zM37 81h1v1h-1zM90 84h1v1h-1zM41 86h1v1h-1zM44 86h1v1h-1zM50 87h1v1h-1zM83 87h1v1h-1zM52 88h1v1h-1zM89 89h1v1h-1zM17 91h1v1h-1zM25 92h1v1h-1zM85 92h1v1h-1zM24 93h1v1h-1zM45 100h1v1h-1zM12 101h1v1h-1zM91 102h1v1h-1zM85 106h1v1h-1zM95 106h1v1h-1zM16 107h1v1h-1zM86 107h1v1h-1zM18 111h1v1h-1zM23 111h1v1h-1zM15 114h1v1h-1zM19 116h1v1h-1zM94 119h1v1h-1zM87 121h1v1h-1zM89 122h1v1h-1zM78 126h1v1h-1zM55 134h1v1h-1zM79 149h1v1h-1z"/>
<path fill="#fff1a9" d="M31 69h1v1h-1zM80 78h1v1h-1zM28 80h1v1h-1zM21 84h1v1h-1zM80 84h1v1h-1zM13 85h1v1h-1zM43 86h1v1h-1zM82 86h1v1h-1zM44 87h1v1h-1zM23 91h1v1h-1zM84 93h1v1h-1zM99 94h1v1h-1zM15 98h1v1h-1zM14 99h1v1h-1zM8 100h1v1h-1zM15 100h1v1h-1zM92 101h1v1h-1zM94 106h1v1h-1zM85 107h1v1h-1zM24 110h1v1h-1zM20 111h1v1h-1zM78 114h1v1h-1zM67 117h1v1h-1zM67 118h1v1h-1zM100 118h1v1h-1zM93 119h1v1h-1zM89 121h1v1h-1zM87 122h2v1h-2zM77 127h1v1h-1zM56 133h1v1h-1z"/>
<path fill="#fff8ba" d="M31 70h1v1h-1zM94 82h1v1h-1zM94 83h1v1h-1zM20 84h1v1h-1zM52 87h1v1h-1zM24 91h1v1h-1zM24 92h1v1h-1zM35 92h1v1h-1zM83 93h1v1h-1zM74 94h1v1h-1zM57 97h1v1h-1zM8 99h2v1h-2zM15 99h1v1h-1zM9 100h1v1h-1zM89 101h3v1h-3zM90 102h1v1h-1zM15 106h1v1h-1zM42 106h2v1h-2zM86 106h2v1h-2zM84 107h1v1h-1zM94 107h1v1h-1zM90 110h1v1h-1zM24 111h1v1h-1zM24 112h1v1h-1zM34 114h1v1h-1zM84 117h1v1h-1zM98 118h2v1h-2zM98 119h3v1h-3zM98 120h2v1h-2zM98 128h1v1h-1z"/>
<path fill="#fff4b2" d="M84 75h1v1h-1zM83 76h2v1h-2zM75 81h1v1h-1zM93 83h1v1h-1zM14 85h1v1h-1zM84 92h1v1h-1zM83 94h1v1h-1zM80 97h1v1h-1zM56 101h1v1h-1zM57 102h1v1h-1zM15 105h1v1h-1zM15 107h1v1h-1zM95 108h1v1h-1zM23 110h1v1h-1zM96 110h1v1h-1zM78 113h1v1h-1zM35 114h1v1h-1zM66 117h1v1h-1zM99 121h1v1h-1z"/>
<path fill="#a50026" d="M90 79h2v1h-2zM95 101h1v1h-1zM93 114h1v1h-1zM16 117h1v1h-1zM20 121h1v1h-1z"/>
<path fill="#8c0026" d="M99 98h1v1h-1z"/></svg>
<svg class="pn" style="left:1558px;top:42px" width="607.8" height="940.7" viewBox="0 0 110 170" preserveAspectRatio="none" shape-rendering="crispEdges"><rect width="110" height="170" fill="#000"/>
<path fill="#3024d8" d="M50 12h1v1h-1z"/>
<path fill="#243cd8" d="M53 12h1v1h-1zM44 14h1v1h-1zM68 38h1v1h-1z"/>
<path fill="#0084b4" d="M54 12h1v1h-1zM42 22h1v1h-1zM42 23h2v1h-2zM43 24h1v1h-1zM42 25h1v1h-1zM65 25h1v1h-1zM65 26h1v1h-1zM51 28h1v1h-1zM63 28h1v1h-1zM35 29h1v1h-1zM37 29h1v1h-1zM51 29h1v1h-1zM63 30h1v1h-1zM70 30h1v1h-1zM75 30h1v1h-1zM74 31h1v1h-1zM28 32h1v1h-1zM59 32h1v1h-1zM27 33h1v1h-1zM49 33h1v1h-1zM73 33h1v1h-1zM46 36h1v1h-1zM57 36h1v1h-1zM58 37h1v1h-1zM57 38h1v1h-1zM63 38h1v1h-1zM36 40h3v1h-3zM50 40h1v1h-1zM52 40h1v1h-1zM27 41h1v1h-1zM51 41h1v1h-1zM55 41h1v1h-1zM27 42h1v1h-1zM30 42h1v1h-1zM48 42h2v1h-2zM66 43h1v1h-1zM49 46h1v1h-1zM61 46h1v1h-1zM78 47h1v1h-1zM47 53h1v1h-1zM78 53h1v1h-1zM20 54h1v1h-1zM66 56h1v1h-1zM88 58h1v1h-1zM16 69h1v1h-1zM25 69h1v1h-1zM37 74h1v1h-1zM33 75h1v1h-1zM78 80h1v1h-1zM19 90h1v1h-1zM88 91h1v1h-1zM85 96h1v1h-1zM91 115h1v1h-1zM89 116h1v1h-1z"/>
<path fill="#0048d8" d="M45 13h1v1h-1zM53 14h1v1h-1zM51 22h1v1h-1z"/>
<path fill="#0054cc" d="M46 13h1v1h-1zM52 13h1v1h-1zM54 13h2v1h-2zM52 14h1v1h-1zM57 17h1v1h-1zM61 17h1v1h-1zM56 18h1v1h-1zM62 18h1v1h-1zM50 23h2v1h-2zM40 29h1v1h-1zM52 32h1v1h-1zM69 38h1v1h-1z"/>
<path fill="#006cb4" d="M47 13h2v1h-2zM47 14h1v1h-1zM43 15h1v1h-1zM43 16h2v1h-2zM49 16h1v1h-1zM62 16h1v1h-1zM49 17h2v1h-2zM63 17h1v1h-1zM50 18h1v1h-1zM47 19h2v1h-2zM54 19h1v1h-1zM37 21h1v1h-1zM48 21h1v1h-1zM57 21h2v1h-2zM68 21h1v1h-1zM70 21h1v1h-1zM37 22h1v1h-1zM39 22h1v1h-1zM60 22h1v1h-1zM71 22h1v1h-1zM33 23h1v1h-1zM35 23h1v1h-1zM60 23h1v1h-1zM34 24h1v1h-1zM34 25h1v1h-1zM45 25h1v1h-1zM55 25h1v1h-1zM44 26h1v1h-1zM40 27h1v1h-1zM43 27h1v1h-1zM71 27h1v1h-1zM43 28h1v1h-1zM71 28h1v1h-1zM42 29h3v1h-3zM71 29h1v1h-1zM27 30h1v1h-1zM51 30h1v1h-1zM55 30h1v1h-1zM26 31h1v1h-1zM34 31h3v1h-3zM38 31h3v1h-3zM50 31h1v1h-1zM34 32h3v1h-3zM56 32h2v1h-2zM37 33h2v1h-2zM30 34h3v1h-3zM37 34h2v1h-2zM36 35h1v1h-1zM38 35h1v1h-1zM53 35h1v1h-1zM77 35h1v1h-1zM38 36h1v1h-1zM52 36h1v1h-1zM55 36h1v1h-1zM63 36h1v1h-1zM69 36h1v1h-1zM38 37h1v1h-1zM37 38h1v1h-1zM53 38h1v1h-1zM59 38h1v1h-1zM63 39h1v1h-1zM60 43h1v1h-1zM35 45h1v1h-1zM38 45h3v1h-3zM38 46h1v1h-1zM52 46h3v1h-3zM24 47h1v1h-1zM38 47h1v1h-1zM27 49h1v1h-1zM39 53h1v1h-1zM67 56h1v1h-1zM84 56h1v1h-1zM34 57h1v1h-1zM62 61h1v1h-1zM67 61h1v1h-1zM69 65h1v1h-1zM89 91h1v1h-1zM91 114h1v1h-1z"/>
<path fill="#0c6cb4" d="M49 13h1v1h-1zM48 14h1v1h-1zM66 17h1v1h-1zM51 18h1v1h-1zM53 18h1v1h-1zM64 18h1v1h-1zM36 20h1v1h-1zM38 21h2v1h-2zM46 22h1v1h-1zM47 23h1v1h-1zM57 23h1v1h-1zM65 23h1v1h-1zM70 23h1v1h-1zM37 24h1v1h-1zM47 24h1v1h-1zM57 25h1v1h-1zM37 27h1v1h-1zM68 28h1v1h-1zM33 30h1v1h-1zM42 30h1v1h-1zM44 30h1v1h-1zM33 31h1v1h-1zM32 33h2v1h-2zM75 33h2v1h-2zM35 34h1v1h-1zM43 34h1v1h-1zM52 34h1v1h-1zM63 34h1v1h-1zM31 35h1v1h-1zM56 35h1v1h-1zM51 36h1v1h-1zM65 36h1v1h-1zM64 37h2v1h-2zM72 38h1v1h-1zM45 39h1v1h-1zM72 41h1v1h-1zM25 42h1v1h-1zM56 42h1v1h-1zM55 43h1v1h-1zM46 44h1v1h-1zM59 44h1v1h-1zM71 46h1v1h-1zM27 47h1v1h-1zM40 47h1v1h-1zM27 48h1v1h-1zM40 48h1v1h-1zM44 48h1v1h-1zM28 49h1v1h-1zM62 51h1v1h-1zM41 53h1v1h-1zM40 55h1v1h-1zM68 57h1v1h-1zM55 58h1v1h-1zM30 59h1v1h-1zM58 60h1v1h-1zM80 60h1v1h-1zM47 62h1v1h-1zM68 62h1v1h-1zM19 63h2v1h-2zM68 65h1v1h-1zM93 73h1v1h-1zM92 79h1v1h-1zM92 80h1v1h-1zM20 90h1v1h-1zM88 93h1v1h-1zM89 114h1v1h-1z"/>
<path fill="#0c6cc0" d="M50 13h1v1h-1zM48 15h1v1h-1zM61 15h1v1h-1zM46 16h1v1h-1zM48 16h1v1h-1zM42 17h1v1h-1zM46 17h1v1h-1zM46 18h1v1h-1zM41 19h1v1h-1zM52 19h1v1h-1zM43 20h1v1h-1zM55 20h2v1h-2zM64 21h1v1h-1zM39 23h1v1h-1zM48 23h1v1h-1zM54 23h1v1h-1zM64 24h1v1h-1zM70 24h1v1h-1zM31 26h1v1h-1zM34 26h1v1h-1zM52 26h1v1h-1zM56 27h1v1h-1zM69 28h1v1h-1zM57 29h1v1h-1zM70 29h1v1h-1zM72 30h2v1h-2zM32 31h1v1h-1zM74 32h2v1h-2zM47 37h1v1h-1zM61 37h1v1h-1zM44 39h1v1h-1zM64 39h1v1h-1zM63 40h1v1h-1zM65 40h1v1h-1zM68 40h1v1h-1zM73 41h1v1h-1zM46 42h1v1h-1zM54 42h1v1h-1zM66 42h1v1h-1zM74 43h1v1h-1zM58 44h1v1h-1zM44 45h1v1h-1zM46 45h1v1h-1zM54 45h1v1h-1zM52 48h1v1h-1zM62 53h2v1h-2zM40 54h1v1h-1zM63 54h1v1h-1zM22 55h1v1h-1zM56 58h1v1h-1zM55 59h1v1h-1zM21 88h1v1h-1zM88 92h1v1h-1z"/>
<path fill="#0060cc" d="M51 13h1v1h-1zM45 14h2v1h-2zM52 15h1v1h-1zM56 15h3v1h-3zM57 16h2v1h-2zM58 17h1v1h-1zM61 19h1v1h-1zM58 20h1v1h-1zM44 21h1v1h-1zM50 21h1v1h-1zM53 21h1v1h-1zM49 22h1v1h-1zM53 22h1v1h-1zM49 23h1v1h-1zM51 24h1v1h-1zM74 25h1v1h-1zM46 26h1v1h-1zM39 27h1v1h-1zM58 27h1v1h-1zM51 31h1v1h-1zM46 33h1v1h-1zM47 34h1v1h-1zM58 35h1v1h-1zM69 39h1v1h-1z"/>
<path fill="#0048cc" d="M53 13h1v1h-1zM52 22h1v1h-1z"/>
<path fill="#0054c0" d="M56 13h2v1h-2zM54 14h1v1h-1zM39 29h1v1h-1zM39 30h1v1h-1z"/>
<path fill="#0060c0" d="M58 13h1v1h-1zM55 14h4v1h-4zM44 15h2v1h-2zM45 16h1v1h-1zM38 17h1v1h-1zM55 17h1v1h-1zM62 17h1v1h-1zM49 18h1v1h-1zM40 19h1v1h-1zM46 19h1v1h-1zM64 19h1v1h-1zM67 21h1v1h-1zM38 22h1v1h-1zM44 22h1v1h-1zM52 23h1v1h-1zM50 24h1v1h-1zM52 24h1v1h-1zM55 24h1v1h-1zM58 25h1v1h-1zM58 26h2v1h-2zM54 27h1v1h-1zM59 27h1v1h-1zM39 28h2v1h-2zM38 29h1v1h-1zM46 29h1v1h-1zM38 30h1v1h-1zM40 30h1v1h-1zM45 30h2v1h-2zM45 31h1v1h-1zM47 31h1v1h-1zM55 33h1v1h-1zM57 33h2v1h-2zM56 34h3v1h-3zM48 35h1v1h-1zM54 35h1v1h-1zM64 36h1v1h-1zM55 42h1v1h-1z"/>
<path fill="#3030d8" d="M43 14h1v1h-1zM66 18h1v1h-1z"/>
<path fill="#1878b4" d="M49 14h2v1h-2zM53 25h1v1h-1zM35 26h1v1h-1zM74 29h1v1h-1zM30 30h1v1h-1zM44 31h1v1h-1zM32 35h1v1h-1zM32 36h2v1h-2zM42 39h1v1h-1zM52 41h1v1h-1zM67 41h2v1h-2zM53 42h1v1h-1zM54 43h1v1h-1zM79 46h1v1h-1zM50 47h1v1h-1zM62 49h1v1h-1zM32 58h1v1h-1zM59 59h1v1h-1zM39 60h1v1h-1zM48 63h1v1h-1zM56 65h1v1h-1zM63 67h1v1h-1zM26 69h1v1h-1zM53 74h2v1h-2zM58 77h1v1h-1zM62 82h1v1h-1zM75 83h1v1h-1zM23 87h1v1h-1zM18 89h1v1h-1zM17 117h1v1h-1z"/>
<path fill="#006cc0" d="M51 14h1v1h-1zM46 15h1v1h-1zM51 15h1v1h-1zM38 16h1v1h-1zM41 16h1v1h-1zM54 17h1v1h-1zM39 18h1v1h-1zM47 18h2v1h-2zM55 18h1v1h-1zM63 18h1v1h-1zM67 18h1v1h-1zM49 19h1v1h-1zM51 19h1v1h-1zM55 19h1v1h-1zM63 19h1v1h-1zM34 20h2v1h-2zM40 20h3v1h-3zM49 20h2v1h-2zM57 20h1v1h-1zM59 20h1v1h-1zM49 21h1v1h-1zM54 21h1v1h-1zM60 21h1v1h-1zM40 22h1v1h-1zM48 22h1v1h-1zM37 23h1v1h-1zM41 23h1v1h-1zM44 23h1v1h-1zM53 23h1v1h-1zM56 23h1v1h-1zM33 24h1v1h-1zM35 24h1v1h-1zM44 24h1v1h-1zM33 25h1v1h-1zM47 25h1v1h-1zM50 25h1v1h-1zM52 25h1v1h-1zM54 25h1v1h-1zM59 25h1v1h-1zM61 25h1v1h-1zM69 25h1v1h-1zM71 25h1v1h-1zM32 26h2v1h-2zM41 26h1v1h-1zM45 26h1v1h-1zM49 26h1v1h-1zM51 26h1v1h-1zM53 26h2v1h-2zM60 26h3v1h-3zM69 26h2v1h-2zM32 27h1v1h-1zM38 27h1v1h-1zM41 27h2v1h-2zM53 27h1v1h-1zM55 27h1v1h-1zM60 27h1v1h-1zM62 27h1v1h-1zM69 27h2v1h-2zM38 28h1v1h-1zM41 28h1v1h-1zM55 28h1v1h-1zM59 28h1v1h-1zM70 28h1v1h-1zM41 29h1v1h-1zM56 29h1v1h-1zM36 30h1v1h-1zM41 30h1v1h-1zM52 30h3v1h-3zM46 31h1v1h-1zM75 31h1v1h-1zM45 32h1v1h-1zM47 32h1v1h-1zM51 32h1v1h-1zM35 33h2v1h-2zM44 33h2v1h-2zM59 33h1v1h-1zM36 34h1v1h-1zM40 34h2v1h-2zM48 34h1v1h-1zM51 34h1v1h-1zM37 35h1v1h-1zM46 35h2v1h-2zM64 35h1v1h-1zM37 36h1v1h-1zM47 36h1v1h-1zM54 36h1v1h-1zM68 36h1v1h-1zM37 37h1v1h-1zM59 37h2v1h-2zM64 38h1v1h-1zM47 41h1v1h-1zM66 41h1v1h-1zM58 43h2v1h-2zM76 44h1v1h-1zM57 46h1v1h-1zM52 49h1v1h-1zM65 50h1v1h-1zM39 54h1v1h-1zM59 54h1v1h-1zM21 55h1v1h-1zM60 55h1v1h-1zM68 56h1v1h-1zM68 63h1v1h-1zM68 64h1v1h-1z"/>
<path fill="#3000d8" d="M59 14h1v1h-1z"/>
<path fill="#3c00d8" d="M60 14h3v1h-3z"/>
<path fill="#24a848" d="M39 15h1v1h-1zM90 60h1v1h-1zM21 73h1v1h-1zM93 103h1v1h-1z"/>
<path fill="#189c6c" d="M40 15h1v1h-1zM36 52h1v1h-1zM68 52h1v1h-1zM68 53h1v1h-1zM27 56h1v1h-1zM70 60h1v1h-1zM72 61h1v1h-1zM85 61h1v1h-1zM29 65h2v1h-2zM79 71h1v1h-1zM46 72h1v1h-1zM45 75h1v1h-1zM14 83h1v1h-1zM23 84h1v1h-1zM46 84h1v1h-1zM41 88h1v1h-1zM29 89h1v1h-1zM48 89h1v1h-1zM90 90h1v1h-1zM40 91h1v1h-1zM25 95h1v1h-1zM21 99h1v1h-1zM86 99h1v1h-1zM21 112h1v1h-1zM91 112h1v1h-1zM93 121h1v1h-1zM95 126h1v1h-1z"/>
<path fill="#0078b4" d="M41 15h2v1h-2zM50 15h1v1h-1zM42 16h1v1h-1zM50 16h1v1h-1zM52 16h1v1h-1zM39 17h1v1h-1zM48 17h1v1h-1zM54 18h1v1h-1zM35 21h1v1h-1zM33 22h4v1h-4zM41 22h1v1h-1zM43 22h1v1h-1zM47 22h1v1h-1zM32 23h1v1h-1zM34 23h1v1h-1zM36 23h1v1h-1zM58 23h1v1h-1zM31 24h1v1h-1zM36 24h1v1h-1zM49 24h1v1h-1zM56 24h3v1h-3zM65 24h2v1h-2zM30 25h2v1h-2zM35 25h1v1h-1zM48 25h2v1h-2zM30 26h1v1h-1zM42 26h1v1h-1zM50 27h1v1h-1zM65 27h1v1h-1zM33 28h1v1h-1zM42 28h1v1h-1zM50 28h1v1h-1zM62 28h1v1h-1zM64 28h2v1h-2zM54 29h2v1h-2zM58 29h1v1h-1zM32 30h1v1h-1zM34 30h1v1h-1zM37 30h1v1h-1zM56 30h2v1h-2zM62 30h1v1h-1zM67 30h1v1h-1zM71 30h1v1h-1zM63 31h1v1h-1zM68 31h2v1h-2zM29 32h1v1h-1zM48 32h1v1h-1zM50 32h1v1h-1zM60 32h1v1h-1zM69 32h1v1h-1zM26 33h1v1h-1zM29 33h3v1h-3zM41 33h1v1h-1zM43 33h1v1h-1zM51 33h1v1h-1zM74 33h1v1h-1zM77 33h1v1h-1zM64 34h1v1h-1zM39 35h2v1h-2zM57 35h1v1h-1zM30 36h1v1h-1zM39 36h1v1h-1zM39 37h1v1h-1zM52 37h5v1h-5zM63 37h1v1h-1zM73 37h1v1h-1zM44 38h1v1h-1zM52 38h1v1h-1zM54 38h2v1h-2zM37 39h1v1h-1zM52 39h1v1h-1zM39 40h1v1h-1zM62 40h1v1h-1zM39 41h1v1h-1zM48 41h1v1h-1zM56 41h1v1h-1zM29 42h1v1h-1zM50 42h1v1h-1zM58 42h3v1h-3zM72 42h1v1h-1zM75 42h1v1h-1zM28 43h2v1h-2zM75 43h1v1h-1zM39 44h1v1h-1zM60 44h1v1h-1zM37 45h1v1h-1zM47 45h1v1h-1zM49 45h1v1h-1zM58 45h1v1h-1zM76 45h1v1h-1zM79 45h1v1h-1zM40 46h1v1h-1zM46 46h3v1h-3zM45 47h1v1h-1zM67 47h1v1h-1zM25 48h1v1h-1zM42 48h1v1h-1zM64 50h1v1h-1zM67 50h1v1h-1zM70 51h1v1h-1zM40 53h1v1h-1zM53 53h1v1h-1zM59 53h1v1h-1zM83 53h1v1h-1zM57 54h1v1h-1zM56 55h3v1h-3zM57 56h1v1h-1zM83 57h1v1h-1zM53 60h1v1h-1zM48 62h1v1h-1zM69 63h1v1h-1zM64 66h1v1h-1zM69 67h1v1h-1zM54 68h1v1h-1zM81 68h1v1h-1zM83 69h1v1h-1zM86 75h1v1h-1zM87 76h1v1h-1zM22 77h1v1h-1zM28 83h1v1h-1zM95 91h1v1h-1zM96 120h1v1h-1z"/>
<path fill="#0c78c0" d="M47 15h1v1h-1zM32 24h1v1h-1zM31 30h1v1h-1zM44 35h1v1h-1zM43 39h1v1h-1zM31 41h1v1h-1zM77 45h1v1h-1zM53 66h1v1h-1zM11 102h1v1h-1z"/>
<path fill="#0c78b4" d="M49 15h1v1h-1zM56 22h1v1h-1zM66 23h1v1h-1zM48 24h1v1h-1zM73 26h2v1h-2zM34 27h1v1h-1zM61 28h1v1h-1zM72 28h3v1h-3zM72 29h1v1h-1zM75 29h1v1h-1zM74 30h1v1h-1zM62 31h1v1h-1zM76 31h1v1h-1zM31 32h1v1h-1zM44 32h1v1h-1zM68 34h1v1h-1zM43 35h1v1h-1zM68 35h1v1h-1zM31 36h1v1h-1zM67 36h1v1h-1zM72 37h1v1h-1zM36 38h1v1h-1zM43 38h1v1h-1zM74 41h1v1h-1zM78 46h1v1h-1zM24 48h1v1h-1zM77 48h1v1h-1zM63 50h1v1h-1zM70 50h1v1h-1zM64 51h1v1h-1zM80 51h1v1h-1zM63 52h1v1h-1zM64 53h1v1h-1zM79 53h1v1h-1zM19 56h1v1h-1zM56 57h1v1h-1zM88 57h1v1h-1zM54 60h1v1h-1zM54 61h1v1h-1zM35 64h1v1h-1zM51 65h1v1h-1zM87 65h1v1h-1zM50 66h1v1h-1zM91 66h1v1h-1zM78 67h1v1h-1zM83 68h1v1h-1zM29 69h1v1h-1zM82 69h1v1h-1zM34 70h1v1h-1zM33 71h1v1h-1zM33 74h1v1h-1zM32 75h1v1h-1zM25 79h1v1h-1zM78 81h1v1h-1zM14 88h1v1h-1zM85 89h1v1h-1zM13 112h1v1h-1z"/>
<path fill="#0054d8" d="M53 15h1v1h-1zM61 18h1v1h-1zM50 22h1v1h-1z"/>
<path fill="#0c60cc" d="M54 15h1v1h-1zM59 15h2v1h-2zM58 18h1v1h-1zM35 19h1v1h-1zM56 19h1v1h-1zM65 19h1v1h-1zM52 20h1v1h-1zM64 20h1v1h-1zM69 20h1v1h-1zM45 21h1v1h-1zM63 22h1v1h-1zM40 23h1v1h-1zM39 25h1v1h-1zM39 26h1v1h-1zM53 31h1v1h-1zM49 34h1v1h-1zM55 46h1v1h-1z"/>
<path fill="#1860c0" d="M55 15h1v1h-1zM44 17h2v1h-2zM43 18h1v1h-1zM37 20h1v1h-1zM39 20h1v1h-1zM64 22h1v1h-1zM63 23h1v1h-1zM38 25h1v1h-1zM40 25h1v1h-1zM34 33h1v1h-1zM62 34h1v1h-1zM55 35h1v1h-1zM66 39h1v1h-1zM67 40h1v1h-1zM26 41h1v1h-1zM73 42h1v1h-1zM55 45h1v1h-1zM41 47h1v1h-1zM43 47h1v1h-1zM52 47h1v1h-1zM30 48h1v1h-1zM45 48h1v1h-1zM30 49h1v1h-1zM50 49h1v1h-1zM63 49h1v1h-1zM48 50h1v1h-1zM66 50h1v1h-1zM65 51h2v1h-2zM62 52h1v1h-1zM83 58h1v1h-1zM58 59h1v1h-1zM20 64h1v1h-1zM40 64h1v1h-1zM52 67h1v1h-1zM89 92h1v1h-1z"/>
<path fill="#186cb4" d="M62 15h1v1h-1zM42 19h1v1h-1zM57 22h1v1h-1zM64 23h1v1h-1zM53 24h1v1h-1zM69 24h1v1h-1zM61 29h1v1h-1zM43 30h1v1h-1zM32 32h2v1h-2zM62 33h1v1h-1zM62 36h1v1h-1zM40 40h2v1h-2zM43 40h1v1h-1zM73 40h1v1h-1zM25 41h1v1h-1zM78 42h1v1h-1zM57 43h1v1h-1zM45 45h1v1h-1zM62 46h1v1h-1zM51 47h1v1h-1zM50 48h1v1h-1zM67 48h1v1h-1zM49 49h1v1h-1zM47 52h2v1h-2zM84 57h1v1h-1zM63 60h1v1h-1zM79 60h1v1h-1zM63 61h1v1h-1zM79 61h1v1h-1zM19 64h1v1h-1zM63 65h1v1h-1zM75 66h1v1h-1zM87 66h1v1h-1zM73 67h1v1h-1zM40 69h1v1h-1zM32 74h1v1h-1zM15 78h2v1h-2zM29 83h1v1h-1zM52 83h1v1h-1zM78 83h1v1h-1zM30 84h1v1h-1zM77 84h1v1h-1zM26 85h1v1h-1zM95 85h1v1h-1zM19 88h1v1h-1zM92 90h1v1h-1zM30 91h1v1h-1zM14 92h1v1h-1zM12 94h1v1h-1zM98 97h1v1h-1zM90 114h1v1h-1zM96 121h1v1h-1z"/>
<path fill="#00a878" d="M63 15h1v1h-1zM58 52h1v1h-1zM48 54h1v1h-1zM80 55h1v1h-1zM36 57h1v1h-1zM47 59h1v1h-1zM48 60h1v1h-1zM73 62h1v1h-1zM18 68h1v1h-1zM20 69h1v1h-1zM17 71h1v1h-1zM53 72h1v1h-1zM44 73h2v1h-2zM57 73h1v1h-1zM20 74h1v1h-1zM61 75h1v1h-1zM63 75h1v1h-1zM73 75h1v1h-1zM35 76h1v1h-1zM51 76h1v1h-1zM90 76h1v1h-1zM63 78h1v1h-1zM60 79h2v1h-2zM36 80h1v1h-1zM60 80h1v1h-1zM89 84h1v1h-1zM72 85h1v1h-1zM29 86h1v1h-1zM20 87h1v1h-1zM26 87h1v1h-1zM95 88h2v1h-2zM88 90h1v1h-1zM12 91h1v1h-1zM93 96h2v1h-2zM31 97h1v1h-1zM89 97h1v1h-1zM97 100h1v1h-1zM22 101h1v1h-1zM93 107h1v1h-1zM23 109h1v1h-1zM15 110h1v1h-1zM94 110h1v1h-1zM18 118h1v1h-1zM91 121h2v1h-2z"/>
<path fill="#54a818" d="M64 15h1v1h-1zM41 77h1v1h-1zM27 105h1v1h-1zM39 146h1v1h-1z"/>
<path fill="#0078c0" d="M39 16h2v1h-2zM40 17h1v1h-1zM40 18h1v1h-1zM50 19h1v1h-1zM33 21h2v1h-2zM41 21h3v1h-3zM55 21h2v1h-2zM55 22h1v1h-1zM55 23h1v1h-1zM59 24h3v1h-3zM32 25h1v1h-1zM60 25h1v1h-1zM70 25h1v1h-1zM50 26h1v1h-1zM64 26h1v1h-1zM33 27h1v1h-1zM51 27h1v1h-1zM61 27h1v1h-1zM63 27h1v1h-1zM53 28h2v1h-2zM60 28h1v1h-1zM52 29h2v1h-2zM59 29h1v1h-1zM35 30h1v1h-1zM69 30h1v1h-1zM58 32h1v1h-1zM48 33h1v1h-1zM50 33h1v1h-1zM39 34h1v1h-1zM58 36h1v1h-1zM36 37h1v1h-1zM56 38h1v1h-1zM32 40h1v1h-1zM69 40h1v1h-1zM49 41h2v1h-2zM65 41h1v1h-1zM26 42h1v1h-1zM28 42h1v1h-1zM47 42h1v1h-1zM43 44h1v1h-1zM44 46h1v1h-1zM44 47h1v1h-1zM59 55h1v1h-1zM51 61h1v1h-1zM51 62h1v1h-1zM54 62h1v1h-1zM53 67h1v1h-1zM33 70h1v1h-1zM92 115h1v1h-1z"/>
<path fill="#186cc0" d="M47 16h1v1h-1zM47 17h1v1h-1zM41 18h2v1h-2zM45 18h1v1h-1zM39 24h1v1h-1zM49 27h1v1h-1zM49 28h1v1h-1zM73 29h1v1h-1zM31 31h1v1h-1zM72 31h1v1h-1zM45 35h1v1h-1zM51 35h1v1h-1zM66 37h1v1h-1zM71 39h1v1h-1zM31 40h1v1h-1zM72 40h1v1h-1zM29 41h1v1h-1zM44 44h1v1h-1zM57 44h1v1h-1zM75 44h1v1h-1zM78 45h1v1h-1zM42 47h1v1h-1zM21 54h1v1h-1zM56 54h1v1h-1zM33 59h1v1h-1zM28 60h1v1h-1zM69 64h1v1h-1zM16 68h1v1h-1zM82 68h1v1h-1zM77 83h1v1h-1zM92 89h1v1h-1zM13 113h1v1h-1z"/>
<path fill="#0078a8" d="M51 16h1v1h-1zM51 17h1v1h-1zM36 21h1v1h-1zM67 22h1v1h-1zM59 23h1v1h-1zM67 23h1v1h-1zM67 24h1v1h-1zM56 25h1v1h-1zM68 25h1v1h-1zM68 26h1v1h-1zM71 26h1v1h-1zM31 27h1v1h-1zM68 27h1v1h-1zM72 27h2v1h-2zM31 29h3v1h-3zM50 29h1v1h-1zM62 29h1v1h-1zM66 29h1v1h-1zM27 31h1v1h-1zM37 31h1v1h-1zM56 31h2v1h-2zM37 32h1v1h-1zM40 32h1v1h-1zM68 32h1v1h-1zM39 33h1v1h-1zM68 33h1v1h-1zM25 34h2v1h-2zM42 34h1v1h-1zM76 34h3v1h-3zM30 35h1v1h-1zM41 35h2v1h-2zM52 35h1v1h-1zM65 35h1v1h-1zM69 35h1v1h-1zM75 35h2v1h-2zM53 36h1v1h-1zM38 38h2v1h-2zM61 38h1v1h-1zM74 38h1v1h-1zM59 39h1v1h-1zM62 39h1v1h-1zM36 41h2v1h-2zM61 41h1v1h-1zM39 42h4v1h-4zM39 43h2v1h-2zM47 43h1v1h-1zM76 43h1v1h-1zM34 44h1v1h-1zM40 44h1v1h-1zM47 44h1v1h-1zM79 44h1v1h-1zM48 45h1v1h-1zM75 45h1v1h-1zM37 46h1v1h-1zM39 46h1v1h-1zM50 46h2v1h-2zM25 47h1v1h-1zM37 47h1v1h-1zM55 47h1v1h-1zM26 48h1v1h-1zM37 48h1v1h-1zM79 48h1v1h-1zM64 49h1v1h-1zM67 49h1v1h-1zM26 50h2v1h-2zM27 51h2v1h-2zM81 51h1v1h-1zM39 52h1v1h-1zM41 52h1v1h-1zM81 52h1v1h-1zM38 53h1v1h-1zM53 54h1v1h-1zM58 54h1v1h-1zM62 54h1v1h-1zM85 54h1v1h-1zM67 55h2v1h-2zM83 55h2v1h-2zM20 56h1v1h-1zM56 56h1v1h-1zM61 56h1v1h-1zM57 57h1v1h-1zM67 57h1v1h-1zM34 58h1v1h-1zM26 59h1v1h-1zM68 61h1v1h-1zM46 62h1v1h-1zM63 62h1v1h-1zM18 63h1v1h-1zM40 63h1v1h-1zM76 64h1v1h-1zM25 65h1v1h-1zM67 65h1v1h-1zM73 66h2v1h-2zM88 66h1v1h-1zM17 67h1v1h-1zM25 67h1v1h-1zM50 67h1v1h-1zM40 68h1v1h-1zM51 68h2v1h-2zM55 68h1v1h-1zM69 68h1v1h-1zM39 69h1v1h-1zM44 70h1v1h-1zM43 71h1v1h-1zM43 72h1v1h-1zM37 75h1v1h-1zM87 78h1v1h-1zM93 78h1v1h-1zM93 80h1v1h-1zM95 86h1v1h-1zM23 88h1v1h-1zM91 88h1v1h-1zM21 89h2v1h-2zM12 104h1v1h-1zM89 104h1v1h-1zM87 112h1v1h-1zM89 115h1v1h-1z"/>
<path fill="#1878c0" d="M53 16h1v1h-1zM60 29h1v1h-1zM30 32h1v1h-1zM72 32h1v1h-1zM49 40h1v1h-1zM30 41h1v1h-1zM41 45h1v1h-1zM79 47h1v1h-1zM85 47h1v1h-1zM34 59h1v1h-1zM22 87h1v1h-1zM21 92h1v1h-1z"/>
<path fill="#0c6ccc" d="M54 16h1v1h-1zM61 22h1v1h-1zM41 24h1v1h-1zM63 24h1v1h-1zM41 25h1v1h-1zM73 31h1v1h-1zM73 32h1v1h-1zM43 45h1v1h-1zM56 46h1v1h-1z"/>
<path fill="#0c54cc" d="M55 16h2v1h-2zM66 19h1v1h-1zM45 20h1v1h-1zM45 27h1v1h-1zM54 31h1v1h-1zM46 34h1v1h-1zM54 34h2v1h-2zM59 34h1v1h-1zM67 62h1v1h-1z"/>
<path fill="#006ccc" d="M59 16h1v1h-1zM61 16h1v1h-1zM41 17h1v1h-1zM59 17h1v1h-1zM59 18h1v1h-1zM59 19h2v1h-2zM62 19h1v1h-1zM51 20h1v1h-1zM60 20h4v1h-4zM61 21h3v1h-3zM62 22h1v1h-1zM61 23h2v1h-2zM62 24h1v1h-1zM46 25h1v1h-1zM51 25h1v1h-1zM62 25h1v1h-1zM47 26h2v1h-2zM63 26h1v1h-1zM68 30h1v1h-1zM46 32h1v1h-1zM47 33h1v1h-1zM36 36h1v1h-1zM59 36h2v1h-2z"/>
<path fill="#0060d8" d="M60 16h1v1h-1zM60 17h1v1h-1zM60 18h1v1h-1zM58 19h1v1h-1zM47 27h1v1h-1z"/>
<path fill="#0c78a8" d="M63 16h1v1h-1zM74 27h1v1h-1zM75 28h1v1h-1zM41 31h1v1h-1zM33 34h1v1h-1zM35 36h1v1h-1zM30 37h1v1h-1zM43 37h1v1h-1zM51 37h1v1h-1zM40 39h1v1h-1zM46 39h1v1h-1zM25 40h1v1h-1zM70 40h2v1h-2zM54 41h1v1h-1zM78 41h1v1h-1zM57 42h1v1h-1zM44 43h1v1h-1zM36 44h1v1h-1zM38 44h1v1h-1zM68 44h1v1h-1zM45 46h1v1h-1zM30 47h1v1h-1zM24 49h1v1h-1zM39 49h1v1h-1zM48 49h1v1h-1zM61 49h1v1h-1zM66 49h1v1h-1zM80 49h1v1h-1zM46 50h1v1h-1zM32 51h1v1h-1zM63 51h1v1h-1zM53 52h1v1h-1zM55 53h1v1h-1zM55 55h1v1h-1zM52 60h1v1h-1zM82 60h1v1h-1zM77 64h1v1h-1zM64 65h1v1h-1zM66 65h1v1h-1zM70 65h1v1h-1zM21 66h1v1h-1zM78 66h1v1h-1zM21 67h1v1h-1zM91 67h1v1h-1zM25 68h1v1h-1zM44 68h2v1h-2zM61 68h1v1h-1zM21 77h1v1h-1zM93 79h2v1h-2zM61 82h1v1h-1zM79 82h1v1h-1zM33 83h1v1h-1zM30 85h1v1h-1zM92 91h1v1h-1zM94 91h1v1h-1zM97 92h1v1h-1zM14 93h1v1h-1zM34 104h1v1h-1zM9 105h1v1h-1zM32 112h1v1h-1z"/>
<path fill="#00b43c" d="M64 16h1v1h-1zM24 53h1v1h-1zM45 59h1v1h-1zM31 67h1v1h-1zM85 69h1v1h-1zM83 75h1v1h-1zM84 77h1v1h-1zM17 80h1v1h-1zM29 80h1v1h-1zM75 80h1v1h-1zM12 84h1v1h-1zM14 84h1v1h-1zM90 84h1v1h-1zM42 86h1v1h-1zM31 99h1v1h-1zM12 101h1v1h-1zM89 102h1v1h-1zM95 103h1v1h-1zM16 106h1v1h-1zM86 107h1v1h-1zM95 109h1v1h-1zM20 112h1v1h-1zM94 118h1v1h-1zM88 121h1v1h-1z"/>
<path fill="#30a83c" d="M65 16h1v1h-1zM83 50h1v1h-1zM80 71h1v1h-1zM22 73h1v1h-1zM88 81h1v1h-1zM32 93h1v1h-1zM86 94h1v1h-1zM9 98h1v1h-1zM92 103h1v1h-1zM87 120h1v1h-1zM22 124h1v1h-1zM90 126h1v1h-1zM99 127h1v1h-1z"/>
<path fill="#249c6c" d="M35 17h1v1h-1zM21 47h1v1h-1zM57 50h1v1h-1zM43 53h1v1h-1zM50 55h1v1h-1zM80 65h2v1h-2zM65 68h1v1h-1zM73 69h1v1h-1zM54 70h1v1h-1zM78 70h1v1h-1zM18 71h1v1h-1zM57 71h1v1h-1zM20 72h1v1h-1zM79 72h1v1h-1zM42 76h1v1h-1zM74 77h1v1h-1zM64 80h1v1h-1zM71 82h2v1h-2zM84 86h1v1h-1zM97 88h1v1h-1zM71 91h1v1h-1zM62 93h1v1h-1zM83 97h1v1h-1zM98 102h1v1h-1zM29 103h1v1h-1zM17 106h1v1h-1zM17 108h1v1h-1zM11 109h2v1h-2zM97 110h1v1h-1zM98 114h1v1h-1zM14 118h1v1h-1zM22 125h1v1h-1z"/>
<path fill="#488454" d="M36 17h1v1h-1z"/>
<path fill="#189078" d="M37 17h1v1h-1zM66 32h1v1h-1zM26 38h1v1h-1zM22 47h1v1h-1zM44 52h1v1h-1zM55 52h1v1h-1zM75 54h1v1h-1zM35 56h1v1h-1zM45 57h1v1h-1zM67 58h1v1h-1zM17 64h1v1h-1zM89 64h1v1h-1zM43 68h1v1h-1zM91 69h1v1h-1zM74 70h1v1h-1zM93 71h1v1h-1zM93 74h1v1h-1zM39 76h1v1h-1zM37 77h1v1h-1zM49 82h1v1h-1zM63 83h1v1h-1zM17 85h1v1h-1zM64 86h1v1h-1zM88 86h1v1h-1zM65 87h1v1h-1zM33 88h1v1h-1zM90 88h1v1h-1zM43 89h1v1h-1zM22 94h1v1h-1zM68 94h1v1h-1zM85 95h1v1h-1zM34 99h1v1h-1zM98 103h1v1h-1zM13 110h1v1h-1z"/>
<path fill="#0c60c0" d="M43 17h1v1h-1zM65 18h1v1h-1zM39 19h1v1h-1zM45 19h1v1h-1zM54 20h1v1h-1zM40 21h1v1h-1zM66 21h1v1h-1zM45 22h1v1h-1zM38 23h1v1h-1zM45 23h1v1h-1zM71 23h1v1h-1zM38 24h1v1h-1zM45 24h2v1h-2zM54 24h1v1h-1zM73 25h1v1h-1zM40 26h1v1h-1zM44 27h1v1h-1zM57 27h1v1h-1zM56 28h1v1h-1zM58 28h1v1h-1zM45 29h1v1h-1zM67 29h1v1h-1zM60 33h1v1h-1zM44 34h1v1h-1zM63 35h1v1h-1zM48 36h1v1h-1zM61 36h1v1h-1zM65 38h1v1h-1zM73 38h1v1h-1zM65 39h1v1h-1zM70 39h1v1h-1zM66 40h1v1h-1zM40 41h1v1h-1zM74 42h1v1h-1zM35 44h1v1h-1zM51 48h1v1h-1zM61 53h1v1h-1zM55 54h1v1h-1zM60 54h1v1h-1zM67 63h1v1h-1zM67 64h1v1h-1zM22 88h1v1h-1zM11 104h1v1h-1z"/>
<path fill="#1878a8" d="M52 17h2v1h-2zM68 24h1v1h-1zM61 30h1v1h-1zM61 31h1v1h-1zM61 32h2v1h-2zM31 37h1v1h-1zM41 39h1v1h-1zM42 40h1v1h-1zM24 41h1v1h-1zM60 41h1v1h-1zM75 41h1v1h-1zM79 41h1v1h-1zM67 42h1v1h-1zM38 43h1v1h-1zM70 44h1v1h-1zM84 44h1v1h-1zM28 45h1v1h-1zM72 46h1v1h-1zM46 47h1v1h-1zM43 48h1v1h-1zM62 48h1v1h-1zM68 48h1v1h-1zM36 49h1v1h-1zM62 50h1v1h-1zM26 51h1v1h-1zM33 51h1v1h-1zM53 51h1v1h-1zM67 51h1v1h-1zM79 51h1v1h-1zM52 52h1v1h-1zM64 52h1v1h-1zM78 52h1v1h-1zM32 59h1v1h-1zM76 59h1v1h-1zM36 61h1v1h-1zM78 63h1v1h-1zM41 64h1v1h-1zM78 64h1v1h-1zM62 65h1v1h-1zM86 65h1v1h-1zM22 66h1v1h-1zM82 67h1v1h-1zM26 68h1v1h-1zM68 68h1v1h-1zM73 68h1v1h-1zM69 69h1v1h-1zM66 70h1v1h-1zM29 72h1v1h-1zM69 72h1v1h-1zM58 76h1v1h-1zM25 80h1v1h-1zM95 80h1v1h-1zM21 81h1v1h-1zM34 81h1v1h-1zM61 83h1v1h-1zM96 85h1v1h-1zM47 86h1v1h-1zM78 89h1v1h-1zM19 92h1v1h-1zM96 92h1v1h-1zM89 93h1v1h-1zM17 96h1v1h-1zM96 102h1v1h-1zM100 114h1v1h-1z"/>
<path fill="#0c48cc" d="M56 17h1v1h-1z"/>
<path fill="#24a854" d="M64 17h1v1h-1zM49 54h1v1h-1zM76 69h1v1h-1zM81 78h1v1h-1zM11 84h1v1h-1zM15 85h1v1h-1zM36 85h1v1h-1zM50 89h1v1h-1zM46 92h1v1h-1zM88 98h1v1h-1zM14 101h1v1h-1zM30 103h1v1h-1zM81 108h1v1h-1zM25 113h1v1h-1zM27 115h1v1h-1z"/>
<path fill="#0cb430" d="M65 17h1v1h-1zM91 84h1v1h-1zM27 112h1v1h-1z"/>
<path fill="#1860cc" d="M35 18h1v1h-1zM53 20h1v1h-1zM40 24h1v1h-1zM68 29h2v1h-2zM50 34h1v1h-1zM67 37h1v1h-1zM64 40h1v1h-1zM57 45h1v1h-1zM60 53h1v1h-1zM29 60h1v1h-1zM52 61h2v1h-2z"/>
<path fill="#0c54c0" d="M36 18h1v1h-1zM72 25h1v1h-1zM44 28h1v1h-1zM47 29h1v1h-1zM69 37h1v1h-1zM51 49h1v1h-1zM57 59h1v1h-1z"/>
<path fill="#1848cc" d="M37 18h1v1h-1zM72 24h1v1h-1zM54 32h1v1h-1zM54 33h1v1h-1zM61 34h1v1h-1zM59 35h1v1h-1z"/>
<path fill="#1854c0" d="M38 18h1v1h-1zM65 21h1v1h-1zM53 33h1v1h-1zM61 33h1v1h-1zM60 34h1v1h-1zM61 35h1v1h-1zM73 39h1v1h-1zM61 52h1v1h-1zM57 58h1v1h-1zM56 59h1v1h-1z"/>
<path fill="#1860b4" d="M44 18h1v1h-1zM53 19h1v1h-1zM57 26h1v1h-1zM76 32h1v1h-1zM72 39h1v1h-1zM47 40h1v1h-1zM52 50h1v1h-1zM63 59h1v1h-1zM57 60h1v1h-1zM81 60h1v1h-1zM77 63h1v1h-1zM88 78h1v1h-1zM53 82h1v1h-1z"/>
<path fill="#246cb4" d="M52 18h1v1h-1zM48 38h1v1h-1zM49 39h1v1h-1zM45 40h2v1h-2zM73 43h1v1h-1zM79 43h1v1h-1zM56 44h1v1h-1zM29 46h1v1h-1zM39 48h1v1h-1zM38 49h1v1h-1zM45 49h1v1h-1zM32 50h1v1h-1zM47 50h1v1h-1zM49 52h1v1h-1zM46 54h1v1h-1zM23 58h1v1h-1zM75 58h1v1h-1zM77 59h1v1h-1zM83 59h1v1h-1zM35 63h1v1h-1zM27 69h2v1h-2zM69 71h1v1h-1zM76 74h1v1h-1zM15 77h1v1h-1zM17 77h1v1h-1zM51 78h1v1h-1zM14 79h1v1h-1zM51 79h1v1h-1zM80 81h1v1h-1zM27 84h1v1h-1zM15 88h1v1h-1zM20 88h1v1h-1zM20 89h1v1h-1zM93 90h1v1h-1zM17 98h1v1h-1zM96 100h1v1h-1zM93 113h1v1h-1z"/>
<path fill="#0c54d8" d="M57 18h1v1h-1zM57 19h1v1h-1zM51 21h1v1h-1zM73 24h1v1h-1z"/>
<path fill="#1854cc" d="M36 19h1v1h-1zM71 24h1v1h-1zM38 26h1v1h-1zM47 28h1v1h-1zM57 28h1v1h-1zM45 34h1v1h-1zM60 35h1v1h-1zM67 39h2v1h-2zM43 46h1v1h-1z"/>
<path fill="#243ccc" d="M37 19h1v1h-1z"/>
<path fill="#2454c0" d="M38 19h1v1h-1zM49 35h2v1h-2zM62 35h1v1h-1zM70 38h1v1h-1zM92 113h1v1h-1z"/>
<path fill="#2460b4" d="M43 19h2v1h-2zM36 26h2v1h-2zM49 36h1v1h-1zM45 44h1v1h-1zM62 47h1v1h-1zM47 49h1v1h-1zM52 51h1v1h-1zM45 54h1v1h-1zM45 55h1v1h-1zM62 59h1v1h-1zM82 59h1v1h-1zM56 60h1v1h-1zM56 69h1v1h-1zM39 70h1v1h-1zM24 80h1v1h-1zM53 81h1v1h-1zM12 93h1v1h-1zM91 98h1v1h-1zM90 99h1v1h-1z"/>
<path fill="#3c00e4" d="M67 19h1v1h-1zM68 20h1v1h-1z"/>
<path fill="#0c60d8" d="M68 19h1v1h-1zM63 25h1v1h-1zM46 27h1v1h-1zM48 27h1v1h-1zM52 31h1v1h-1z"/>
<path fill="#2460c0" d="M38 20h1v1h-1zM48 37h1v1h-1zM71 38h1v1h-1zM44 40h1v1h-1zM79 42h1v1h-1zM29 49h1v1h-1zM22 54h1v1h-1zM33 60h2v1h-2zM55 60h1v1h-1zM78 60h1v1h-1zM78 61h1v1h-1zM51 66h1v1h-1zM27 70h2v1h-2zM78 82h1v1h-1zM74 84h1v1h-1zM77 85h1v1h-1zM92 88h1v1h-1zM15 93h1v1h-1zM17 97h1v1h-1zM11 103h1v1h-1z"/>
<path fill="#2454cc" d="M44 20h1v1h-1zM65 20h1v1h-1zM45 28h2v1h-2zM48 28h1v1h-1zM20 91h1v1h-1z"/>
<path fill="#0060b4" d="M46 20h1v1h-1zM59 21h1v1h-1zM59 22h1v1h-1zM55 26h1v1h-1zM47 30h1v1h-1zM55 31h1v1h-1zM55 32h1v1h-1zM56 33h1v1h-1zM29 59h1v1h-1z"/>
<path fill="#006ca8" d="M47 20h2v1h-2zM47 21h1v1h-1zM66 22h1v1h-1zM44 25h1v1h-1zM43 26h1v1h-1zM56 26h1v1h-1zM72 26h1v1h-1zM66 28h1v1h-1zM50 30h1v1h-1zM49 31h1v1h-1zM38 32h1v1h-1zM60 38h1v1h-1zM41 41h1v1h-1zM54 47h1v1h-1zM63 47h1v1h-1zM41 48h1v1h-1zM31 49h1v1h-1zM60 51h1v1h-1zM80 53h1v1h-1zM61 54h1v1h-1zM28 59h1v1h-1zM20 62h1v1h-1zM45 63h1v1h-1zM25 66h1v1h-1zM42 72h1v1h-1z"/>
<path fill="#2448d8" d="M66 20h1v1h-1zM74 85h1v1h-1z"/>
<path fill="#3000e4" d="M67 20h1v1h-1z"/>
<path fill="#0c6ca8" d="M46 21h1v1h-1zM34 34h1v1h-1zM60 39h1v1h-1zM46 43h1v1h-1zM63 48h1v1h-1zM30 50h1v1h-1zM61 50h1v1h-1zM31 51h1v1h-1zM60 52h1v1h-1zM54 53h1v1h-1zM41 55h1v1h-1zM41 56h1v1h-1zM81 61h1v1h-1zM81 62h2v1h-2zM93 72h1v1h-1zM38 75h1v1h-1z"/>
<path fill="#1854d8" d="M52 21h1v1h-1zM68 37h1v1h-1z"/>
<path fill="#3030cc" d="M69 21h1v1h-1z"/>
<path fill="#0078cc" d="M54 22h1v1h-1zM64 25h1v1h-1zM52 27h1v1h-1zM52 28h1v1h-1z"/>
<path fill="#1860a8" d="M58 22h1v1h-1zM74 39h1v1h-1z"/>
<path fill="#186ca8" d="M65 22h1v1h-1zM36 25h1v1h-1zM47 39h1v1h-1zM80 42h1v1h-1zM45 43h1v1h-1zM55 44h1v1h-1zM71 47h1v1h-1zM44 49h1v1h-1zM45 52h2v1h-2zM65 52h1v1h-1zM41 54h1v1h-1zM42 56h1v1h-1zM42 57h1v1h-1zM62 60h1v1h-1zM66 62h1v1h-1zM66 64h1v1h-1zM87 67h2v1h-2zM55 69h1v1h-1zM29 70h1v1h-1zM75 72h1v1h-1zM52 82h1v1h-1zM86 85h1v1h-1zM91 99h1v1h-1zM91 113h1v1h-1z"/>
<path fill="#00849c" d="M68 22h1v1h-1zM67 25h1v1h-1zM66 27h1v1h-1zM31 28h1v1h-1zM66 30h1v1h-1zM64 31h1v1h-1zM67 31h1v1h-1zM71 32h1v1h-1zM78 32h1v1h-1zM69 33h1v1h-1zM29 34h1v1h-1zM79 34h1v1h-1zM29 35h1v1h-1zM70 35h1v1h-1zM34 37h1v1h-1zM46 37h1v1h-1zM74 37h1v1h-1zM35 38h1v1h-1zM40 38h1v1h-1zM58 38h1v1h-1zM34 39h2v1h-2zM55 39h1v1h-1zM26 40h1v1h-1zM35 40h1v1h-1zM61 40h1v1h-1zM34 41h1v1h-1zM38 42h1v1h-1zM61 42h1v1h-1zM25 43h3v1h-3zM41 43h1v1h-1zM43 43h1v1h-1zM49 43h2v1h-2zM69 43h1v1h-1zM41 44h1v1h-1zM48 44h1v1h-1zM61 44h1v1h-1zM67 44h1v1h-1zM53 45h1v1h-1zM64 45h1v1h-1zM24 46h1v1h-1zM58 46h1v1h-1zM74 46h2v1h-2zM26 47h1v1h-1zM64 47h1v1h-1zM75 47h1v1h-1zM35 48h1v1h-1zM64 48h1v1h-1zM76 48h1v1h-1zM25 49h2v1h-2zM28 50h1v1h-1zM60 50h1v1h-1zM68 50h1v1h-1zM40 51h1v1h-1zM83 52h2v1h-2zM21 53h1v1h-1zM81 53h2v1h-2zM84 53h1v1h-1zM72 54h1v1h-1zM74 54h1v1h-1zM81 54h2v1h-2zM84 54h1v1h-1zM86 54h1v1h-1zM61 55h2v1h-2zM73 55h1v1h-1zM59 56h1v1h-1zM69 56h1v1h-1zM19 57h1v1h-1zM41 57h1v1h-1zM58 57h1v1h-1zM35 58h1v1h-1zM41 58h1v1h-1zM68 60h1v1h-1zM73 60h2v1h-2zM26 61h1v1h-1zM65 61h2v1h-2zM82 61h1v1h-1zM44 62h1v1h-1zM69 62h1v1h-1zM26 63h1v1h-1zM75 63h2v1h-2zM24 64h3v1h-3zM58 64h1v1h-1zM19 65h1v1h-1zM73 65h1v1h-1zM88 65h1v1h-1zM55 66h1v1h-1zM24 67h1v1h-1zM26 67h1v1h-1zM43 67h2v1h-2zM84 67h1v1h-1zM39 68h1v1h-1zM41 68h1v1h-1zM80 68h1v1h-1zM35 69h1v1h-1zM65 70h1v1h-1zM44 71h1v1h-1zM49 71h1v1h-1zM77 72h1v1h-1zM92 72h1v1h-1zM69 73h1v1h-1zM86 74h1v1h-1zM54 75h1v1h-1zM87 75h1v1h-1zM21 76h1v1h-1zM86 76h1v1h-1zM88 77h2v1h-2zM21 78h1v1h-1zM94 78h1v1h-1zM80 82h1v1h-1zM44 83h1v1h-1zM29 85h1v1h-1zM96 86h1v1h-1zM63 87h1v1h-1zM13 89h1v1h-1zM21 90h1v1h-1zM72 90h1v1h-1zM85 90h2v1h-2zM15 95h1v1h-1zM94 95h1v1h-1zM16 96h1v1h-1zM85 97h1v1h-1zM97 101h1v1h-1zM12 103h1v1h-1zM97 105h1v1h-1zM22 111h1v1h-1zM87 113h1v1h-1zM13 114h1v1h-1zM88 115h1v1h-1zM89 125h1v1h-1z"/>
<path fill="#0084a8" d="M69 22h1v1h-1zM68 23h1v1h-1zM66 25h1v1h-1zM29 27h2v1h-2zM29 28h2v1h-2zM34 28h1v1h-1zM37 28h1v1h-1zM29 29h2v1h-2zM34 29h1v1h-1zM36 29h1v1h-1zM63 29h3v1h-3zM76 29h1v1h-1zM76 30h1v1h-1zM58 31h1v1h-1zM71 31h1v1h-1zM27 32h1v1h-1zM39 32h1v1h-1zM49 32h1v1h-1zM70 32h1v1h-1zM40 33h1v1h-1zM42 33h1v1h-1zM78 33h2v1h-2zM27 34h2v1h-2zM69 34h1v1h-1zM75 34h1v1h-1zM28 35h1v1h-1zM78 35h1v1h-1zM28 37h1v1h-1zM57 37h1v1h-1zM45 38h1v1h-1zM36 39h1v1h-1zM39 39h1v1h-1zM53 39h1v1h-1zM56 39h1v1h-1zM34 40h1v1h-1zM51 40h1v1h-1zM35 41h1v1h-1zM38 41h1v1h-1zM62 41h1v1h-1zM71 41h1v1h-1zM31 42h1v1h-1zM36 42h2v1h-2zM62 42h1v1h-1zM65 42h1v1h-1zM30 43h1v1h-1zM35 43h2v1h-2zM61 43h1v1h-1zM67 43h1v1h-1zM28 44h2v1h-2zM42 44h1v1h-1zM51 45h1v1h-1zM59 45h3v1h-3zM65 45h1v1h-1zM64 46h3v1h-3zM77 46h1v1h-1zM39 47h1v1h-1zM66 47h1v1h-1zM74 47h1v1h-1zM75 48h1v1h-1zM42 49h1v1h-1zM39 51h1v1h-1zM40 52h1v1h-1zM70 52h1v1h-1zM38 54h1v1h-1zM73 54h1v1h-1zM83 54h1v1h-1zM20 55h1v1h-1zM39 55h1v1h-1zM66 55h1v1h-1zM21 56h1v1h-1zM40 56h1v1h-1zM58 56h1v1h-1zM83 56h1v1h-1zM35 57h1v1h-1zM66 57h1v1h-1zM33 58h1v1h-1zM40 59h2v1h-2zM30 60h1v1h-1zM41 60h1v1h-1zM66 60h2v1h-2zM30 62h1v1h-1zM25 63h1v1h-1zM63 63h1v1h-1zM55 64h1v1h-1zM75 64h1v1h-1zM87 64h1v1h-1zM36 65h1v1h-1zM69 66h1v1h-1zM62 67h1v1h-1zM68 67h1v1h-1zM53 68h1v1h-1zM62 68h1v1h-1zM33 69h1v1h-1zM16 70h1v1h-1zM35 70h1v1h-1zM42 73h1v1h-1zM53 73h1v1h-1zM36 74h1v1h-1zM58 75h2v1h-2zM92 78h1v1h-1zM73 80h1v1h-1zM26 86h1v1h-1zM21 87h1v1h-1zM58 87h1v1h-1zM34 88h1v1h-1zM12 89h1v1h-1zM31 91h1v1h-1zM15 92h1v1h-1zM95 92h1v1h-1zM94 94h1v1h-1zM15 96h1v1h-1zM98 96h1v1h-1zM26 103h1v1h-1zM12 113h1v1h-1zM90 115h1v1h-1z"/>
<path fill="#3030c0" d="M70 22h1v1h-1z"/>
<path fill="#0c60b4" d="M46 23h1v1h-1zM67 28h1v1h-1zM49 29h1v1h-1zM52 33h1v1h-1zM53 34h1v1h-1zM36 45h1v1h-1zM53 47h1v1h-1zM80 52h1v1h-1zM54 54h1v1h-1zM58 58h1v1h-1zM74 67h1v1h-1zM97 98h1v1h-1z"/>
<path fill="#0c84a8" d="M69 23h1v1h-1zM43 25h1v1h-1zM35 27h1v1h-1zM72 33h1v1h-1zM43 36h3v1h-3zM35 37h1v1h-1zM62 37h1v1h-1zM53 40h1v1h-1zM28 41h1v1h-1zM57 41h1v1h-1zM51 42h1v1h-1zM77 42h1v1h-1zM22 43h1v1h-1zM68 43h1v1h-1zM30 46h1v1h-1zM23 48h1v1h-1zM78 48h1v1h-1zM39 50h1v1h-1zM63 55h1v1h-1zM25 58h1v1h-1zM51 58h1v1h-1zM39 59h1v1h-1zM80 67h1v1h-1zM29 68h1v1h-1zM34 69h1v1h-1zM62 69h1v1h-1zM38 70h1v1h-1zM34 71h1v1h-1zM52 73h1v1h-1zM26 74h1v1h-1zM59 76h1v1h-1zM17 78h1v1h-1zM35 80h1v1h-1zM32 82h1v1h-1zM43 83h1v1h-1zM73 85h1v1h-1zM11 89h1v1h-1zM86 89h1v1h-1zM19 91h1v1h-1zM32 91h1v1h-1zM91 97h1v1h-1zM90 98h1v1h-1zM20 105h1v1h-1zM12 112h1v1h-1zM98 112h1v1h-1z"/>
<path fill="#0084c0" d="M42 24h1v1h-1zM64 27h1v1h-1zM52 63h1v1h-1z"/>
<path fill="#2460a8" d="M37 25h1v1h-1zM62 57h1v1h-1z"/>
<path fill="#00909c" d="M66 26h1v1h-1zM36 28h1v1h-1zM28 29h1v1h-1zM28 30h1v1h-1zM58 30h1v1h-1zM64 30h1v1h-1zM74 34h1v1h-1zM27 35h1v1h-1zM29 36h1v1h-1zM74 36h1v1h-1zM29 37h1v1h-1zM38 39h1v1h-1zM54 39h1v1h-1zM57 39h2v1h-2zM33 41h1v1h-1zM64 42h1v1h-1zM48 43h1v1h-1zM64 43h1v1h-1zM70 43h1v1h-1zM64 44h1v1h-1zM29 45h1v1h-1zM60 46h1v1h-1zM76 46h1v1h-1zM85 46h1v1h-1zM74 48h1v1h-1zM68 49h1v1h-1zM86 49h1v1h-1zM24 50h2v1h-2zM59 51h1v1h-1zM32 52h1v1h-1zM59 52h1v1h-1zM57 53h2v1h-2zM73 53h1v1h-1zM67 54h1v1h-1zM80 54h1v1h-1zM39 56h1v1h-1zM18 57h1v1h-1zM25 57h1v1h-1zM87 58h1v1h-1zM40 61h1v1h-1zM50 61h1v1h-1zM50 62h1v1h-1zM58 62h1v1h-1zM17 63h1v1h-1zM37 63h1v1h-1zM58 63h1v1h-1zM74 63h1v1h-1zM41 65h1v1h-1zM55 65h1v1h-1zM74 65h1v1h-1zM65 66h1v1h-1zM41 67h1v1h-1zM54 67h1v1h-1zM79 67h1v1h-1zM17 68h1v1h-1zM24 68h1v1h-1zM63 68h1v1h-1zM81 69h1v1h-1zM37 70h1v1h-1zM78 71h1v1h-1zM37 72h1v1h-1zM78 72h1v1h-1zM26 73h1v1h-1zM54 73h1v1h-1zM42 74h1v1h-1zM55 74h1v1h-1zM28 77h1v1h-1zM87 77h1v1h-1zM93 77h1v1h-1zM70 78h1v1h-1zM15 79h2v1h-2zM26 79h1v1h-1zM73 79h2v1h-2zM29 81h1v1h-1zM62 81h1v1h-1zM77 81h1v1h-1zM32 83h1v1h-1zM32 84h1v1h-1zM43 84h2v1h-2zM73 84h1v1h-1zM22 86h1v1h-1zM66 86h1v1h-1zM68 86h1v1h-1zM11 90h2v1h-2zM69 90h1v1h-1zM87 90h1v1h-1zM22 91h1v1h-1zM14 96h1v1h-1zM14 97h1v1h-1zM90 97h1v1h-1zM26 102h1v1h-1zM27 103h1v1h-1zM90 107h1v1h-1zM88 116h1v1h-1zM90 116h1v1h-1zM96 127h1v1h-1zM83 128h1v1h-1z"/>
<path fill="#008490" d="M67 26h1v1h-1zM67 32h1v1h-1zM80 35h1v1h-1zM77 37h1v1h-1zM80 38h1v1h-1zM42 43h1v1h-1zM32 48h1v1h-1zM66 48h1v1h-1zM41 51h1v1h-1zM76 51h1v1h-1zM38 52h1v1h-1zM74 52h1v1h-1zM22 53h1v1h-1zM74 53h1v1h-1zM82 55h1v1h-1zM43 56h1v1h-1zM20 57h1v1h-1zM69 57h1v1h-1zM20 61h1v1h-1zM75 62h1v1h-1zM44 63h1v1h-1zM26 65h1v1h-1zM45 65h1v1h-1zM44 66h1v1h-1zM37 67h1v1h-1zM49 67h1v1h-1zM86 67h1v1h-1zM65 71h1v1h-1zM19 72h1v1h-1zM21 75h1v1h-1zM22 76h1v1h-1zM42 79h1v1h-1zM42 80h1v1h-1zM94 80h1v1h-1zM92 86h1v1h-1zM24 88h1v1h-1zM32 88h1v1h-1zM94 93h1v1h-1zM16 97h1v1h-1zM23 97h1v1h-1zM96 98h1v1h-1zM94 101h1v1h-1zM96 105h1v1h-1zM91 107h1v1h-1zM29 108h1v1h-1zM95 116h1v1h-1zM97 117h1v1h-1zM82 127h1v1h-1z"/>
<path fill="#009c6c" d="M75 26h1v1h-1zM75 38h1v1h-1zM77 38h1v1h-1zM77 39h1v1h-1zM25 44h1v1h-1zM85 51h1v1h-1zM76 52h1v1h-1zM85 52h1v1h-1zM24 54h1v1h-1zM25 55h1v1h-1zM27 58h1v1h-1zM29 58h1v1h-1zM89 58h1v1h-1zM89 59h1v1h-1zM89 60h1v1h-1zM85 68h1v1h-1zM23 69h1v1h-1zM90 69h1v1h-1zM63 70h2v1h-2zM18 72h1v1h-1zM58 72h1v1h-1zM60 73h1v1h-1zM85 74h1v1h-1zM23 75h1v1h-1zM29 77h1v1h-1zM86 77h1v1h-1zM77 78h1v1h-1zM83 79h1v1h-1zM19 80h1v1h-1zM60 81h1v1h-1zM57 84h1v1h-1zM69 84h1v1h-1zM93 84h2v1h-2zM80 85h1v1h-1zM25 87h1v1h-1zM25 88h1v1h-1zM27 88h1v1h-1zM30 88h1v1h-1zM83 89h1v1h-1zM16 90h1v1h-1zM79 91h1v1h-1zM85 91h1v1h-1zM98 93h1v1h-1zM45 97h1v1h-1zM46 100h1v1h-1zM91 100h1v1h-1zM94 100h1v1h-1zM13 102h1v1h-1zM15 103h1v1h-1zM82 107h1v1h-1zM14 110h1v1h-1zM21 110h1v1h-1zM14 111h1v1h-1zM11 112h1v1h-1zM87 116h1v1h-1zM94 117h2v1h-2zM95 118h1v1h-1zM95 119h1v1h-1zM97 124h1v1h-1zM78 140h1v1h-1z"/>
<path fill="#2478b4" d="M36 27h1v1h-1zM30 40h1v1h-1zM53 41h1v1h-1zM71 44h1v1h-1zM38 50h1v1h-1zM80 50h1v1h-1zM34 51h1v1h-1zM20 65h1v1h-1zM52 65h1v1h-1zM61 69h1v1h-1zM77 73h1v1h-1zM52 78h1v1h-1zM30 83h1v1h-1zM31 90h1v1h-1z"/>
<path fill="#00789c" d="M67 27h1v1h-1zM32 28h1v1h-1zM77 31h1v1h-1zM35 35h1v1h-1zM40 36h2v1h-2zM75 36h3v1h-3zM40 37h1v1h-1zM61 39h1v1h-1zM35 42h1v1h-1zM34 45h1v1h-1zM35 46h2v1h-2zM31 48h1v1h-1zM79 49h1v1h-1zM29 50h1v1h-1zM87 54h1v1h-1zM51 57h1v1h-1zM27 59h1v1h-1zM54 59h1v1h-1zM45 62h1v1h-1zM62 62h1v1h-1zM84 68h1v1h-1zM41 72h1v1h-1zM28 84h1v1h-1zM78 84h1v1h-1zM78 85h1v1h-1zM94 85h1v1h-1zM9 106h1v1h-1zM86 111h1v1h-1z"/>
<path fill="#18789c" d="M75 27h1v1h-1zM34 35h1v1h-1zM66 36h1v1h-1zM70 36h1v1h-1zM51 38h1v1h-1zM50 39h1v1h-1zM60 40h1v1h-1zM44 42h1v1h-1zM74 45h1v1h-1zM73 46h1v1h-1zM72 47h1v1h-1zM54 48h1v1h-1zM76 50h1v1h-1zM28 52h1v1h-1zM66 52h1v1h-1zM45 53h1v1h-1zM29 54h1v1h-1zM54 55h1v1h-1zM44 56h1v1h-1zM60 56h1v1h-1zM72 56h1v1h-1zM52 57h1v1h-1zM64 59h1v1h-1zM79 59h1v1h-1zM21 61h1v1h-1zM64 64h1v1h-1zM78 65h1v1h-1zM56 66h1v1h-1zM72 66h1v1h-1zM75 67h1v1h-1zM46 71h1v1h-1zM15 74h1v1h-1zM48 75h1v1h-1zM20 78h1v1h-1zM35 79h1v1h-1zM14 80h1v1h-1zM39 80h1v1h-1zM60 84h1v1h-1zM28 85h1v1h-1zM85 86h1v1h-1zM79 89h1v1h-1zM15 90h1v1h-1zM90 91h1v1h-1zM95 96h1v1h-1zM10 104h1v1h-1zM10 105h1v1h-1zM90 105h1v1h-1zM76 107h1v1h-1zM96 117h1v1h-1zM88 125h1v1h-1z"/>
<path fill="#0090a8" d="M35 28h1v1h-1zM28 31h1v1h-1zM70 31h1v1h-1zM28 33h1v1h-1zM27 36h1v1h-1zM73 36h1v1h-1zM27 37h1v1h-1zM33 39h1v1h-1zM33 40h1v1h-1zM32 41h1v1h-1zM65 43h1v1h-1zM23 44h1v1h-1zM30 44h1v1h-1zM65 44h2v1h-2zM23 45h1v1h-1zM85 48h1v1h-1zM48 53h1v1h-1zM19 55h1v1h-1zM40 60h1v1h-1zM50 60h1v1h-1zM49 61h1v1h-1zM51 63h1v1h-1zM36 64h1v1h-1zM43 73h1v1h-1zM89 73h1v1h-1zM34 75h1v1h-1zM36 75h1v1h-1zM31 84h1v1h-1zM22 92h1v1h-1zM86 125h1v1h-1zM96 128h1v1h-1z"/>
<path fill="#00b454" d="M76 28h1v1h-1zM79 56h1v1h-1zM83 62h1v1h-1zM30 66h1v1h-1zM30 69h1v1h-1zM91 70h1v1h-1zM66 75h1v1h-1zM80 79h1v1h-1zM74 82h1v1h-1zM81 84h1v1h-1zM57 85h1v1h-1zM81 87h1v1h-1zM16 99h1v1h-1zM13 101h1v1h-1zM23 112h1v1h-1zM85 117h1v1h-1zM93 118h1v1h-1zM97 119h1v1h-1zM92 120h1v1h-1zM90 121h1v1h-1zM90 122h1v1h-1zM98 123h1v1h-1zM89 127h1v1h-1z"/>
<path fill="#1848c0" d="M48 29h1v1h-1zM49 50h1v1h-1z"/>
<path fill="#1890a8" d="M29 30h1v1h-1zM43 32h1v1h-1zM32 39h1v1h-1zM80 47h1v1h-1zM26 70h1v1h-1z"/>
<path fill="#0c54b4" d="M48 30h1v1h-1z"/>
<path fill="#0c60a8" d="M49 30h1v1h-1z"/>
<path fill="#0c84b4" d="M59 30h1v1h-1zM29 31h1v1h-1zM77 47h1v1h-1zM64 54h1v1h-1zM56 64h1v1h-1z"/>
<path fill="#2478c0" d="M60 30h1v1h-1zM81 67h1v1h-1z"/>
<path fill="#009090" d="M65 30h1v1h-1zM66 31h1v1h-1zM70 33h2v1h-2zM72 34h2v1h-2zM25 35h2v1h-2zM72 35h1v1h-1zM79 35h1v1h-1zM26 36h1v1h-1zM26 37h1v1h-1zM78 37h1v1h-1zM27 40h1v1h-1zM54 40h1v1h-1zM58 40h1v1h-1zM77 41h1v1h-1zM81 41h3v1h-3zM71 42h1v1h-1zM82 42h1v1h-1zM62 43h2v1h-2zM27 44h1v1h-1zM31 44h1v1h-1zM33 44h1v1h-1zM62 44h1v1h-1zM24 45h1v1h-1zM33 45h1v1h-1zM25 46h1v1h-1zM31 46h1v1h-1zM59 46h1v1h-1zM67 46h1v1h-1zM31 47h1v1h-1zM35 47h1v1h-1zM65 47h1v1h-1zM76 47h1v1h-1zM36 48h1v1h-1zM65 48h1v1h-1zM80 48h1v1h-1zM74 49h1v1h-1zM57 51h1v1h-1zM73 52h1v1h-1zM82 52h1v1h-1zM37 53h1v1h-1zM72 53h1v1h-1zM85 53h2v1h-2zM23 54h1v1h-1zM66 54h1v1h-1zM68 54h1v1h-1zM38 55h1v1h-1zM22 56h1v1h-1zM82 56h1v1h-1zM23 57h1v1h-1zM39 57h1v1h-1zM87 57h1v1h-1zM18 58h3v1h-3zM26 58h1v1h-1zM36 58h1v1h-1zM40 58h1v1h-1zM86 59h1v1h-1zM25 61h1v1h-1zM47 61h2v1h-2zM61 61h1v1h-1zM73 61h1v1h-1zM25 62h2v1h-2zM31 62h1v1h-1zM37 62h1v1h-1zM59 62h3v1h-3zM38 63h1v1h-1zM44 64h1v1h-1zM50 64h1v1h-1zM62 64h1v1h-1zM24 65h1v1h-1zM44 65h1v1h-1zM54 65h1v1h-1zM43 66h1v1h-1zM67 66h2v1h-2zM71 66h1v1h-1zM23 67h1v1h-1zM40 67h1v1h-1zM46 67h1v1h-1zM55 67h1v1h-1zM79 68h1v1h-1zM24 69h1v1h-1zM45 70h1v1h-1zM76 70h1v1h-1zM90 70h1v1h-1zM32 71h1v1h-1zM37 71h1v1h-1zM45 71h1v1h-1zM76 71h2v1h-2zM89 71h2v1h-2zM26 72h1v1h-1zM40 72h1v1h-1zM54 72h1v1h-1zM63 72h1v1h-1zM41 73h1v1h-1zM68 73h1v1h-1zM87 73h2v1h-2zM62 74h1v1h-1zM69 74h1v1h-1zM83 74h1v1h-1zM28 75h1v1h-1zM53 75h1v1h-1zM55 75h1v1h-1zM28 76h1v1h-1zM71 76h1v1h-1zM88 76h2v1h-2zM27 77h1v1h-1zM71 77h1v1h-1zM91 77h2v1h-2zM22 78h1v1h-1zM25 78h1v1h-1zM27 78h1v1h-1zM69 78h1v1h-1zM20 79h1v1h-1zM23 79h1v1h-1zM82 79h1v1h-1zM51 80h1v1h-1zM79 80h1v1h-1zM73 81h1v1h-1zM20 82h1v1h-1zM79 83h1v1h-1zM95 84h1v1h-1zM18 85h1v1h-1zM67 85h1v1h-1zM25 86h1v1h-1zM48 86h1v1h-1zM14 87h1v1h-1zM70 87h2v1h-2zM12 88h2v1h-2zM43 88h1v1h-1zM17 89h1v1h-1zM23 89h2v1h-2zM26 89h1v1h-1zM84 89h1v1h-1zM33 91h1v1h-1zM69 91h1v1h-1zM87 91h1v1h-1zM11 92h1v1h-1zM94 92h1v1h-1zM11 95h1v1h-1zM89 96h1v1h-1zM32 97h1v1h-1zM84 97h1v1h-1zM74 101h1v1h-1zM88 102h1v1h-1zM95 102h1v1h-1zM82 108h1v1h-1zM12 111h2v1h-2zM11 113h1v1h-1zM99 113h1v1h-1zM88 114h1v1h-1zM87 115h1v1h-1zM90 117h1v1h-1zM17 118h1v1h-1zM61 144h1v1h-1z"/>
<path fill="#00a86c" d="M77 30h1v1h-1zM86 51h1v1h-1zM87 52h1v1h-1zM46 59h1v1h-1zM47 60h1v1h-1zM31 61h1v1h-1zM32 62h1v1h-1zM87 62h1v1h-1zM60 63h1v1h-1zM31 65h1v1h-1zM30 68h1v1h-1zM19 69h1v1h-1zM91 71h1v1h-1zM56 73h1v1h-1zM58 73h1v1h-1zM44 74h1v1h-1zM66 74h1v1h-1zM84 74h1v1h-1zM26 76h1v1h-1zM80 76h1v1h-1zM95 77h1v1h-1zM83 78h1v1h-1zM84 79h1v1h-1zM76 80h1v1h-1zM76 81h1v1h-1zM46 82h1v1h-1zM15 83h2v1h-2zM72 84h1v1h-1zM20 85h1v1h-1zM30 87h2v1h-2zM48 87h1v1h-1zM80 87h1v1h-1zM26 88h1v1h-1zM96 89h1v1h-1zM86 91h1v1h-1zM31 92h1v1h-1zM56 92h1v1h-1zM92 94h1v1h-1zM16 98h1v1h-1zM32 98h1v1h-1zM32 99h1v1h-1zM11 100h1v1h-1zM32 100h1v1h-1zM10 101h1v1h-1zM23 101h1v1h-1zM73 101h1v1h-1zM88 106h1v1h-1zM89 107h1v1h-1zM15 109h1v1h-1zM12 110h1v1h-1zM10 111h1v1h-1zM12 114h1v1h-1zM86 114h1v1h-1zM83 116h1v1h-1zM24 117h1v1h-1zM19 118h1v1h-1zM97 123h1v1h-1zM97 127h1v1h-1zM58 132h1v1h-1z"/>
<path fill="#6c6c6c" d="M25 31h1v1h-1zM59 119h1v1h-1z"/>
<path fill="#1884b4" d="M30 31h1v1h-1zM35 65h1v1h-1z"/>
<path fill="#2484a8" d="M42 31h2v1h-2zM60 31h1v1h-1zM64 41h1v1h-1zM52 42h1v1h-1zM71 51h1v1h-1zM29 61h1v1h-1zM73 86h1v1h-1zM94 90h1v1h-1z"/>
<path fill="#0060a8" d="M48 31h1v1h-1z"/>
<path fill="#0c90a8" d="M59 31h1v1h-1zM84 47h1v1h-1zM77 60h1v1h-1zM36 73h1v1h-1z"/>
<path fill="#009c84" d="M65 31h1v1h-1zM71 34h1v1h-1zM27 39h1v1h-1zM84 45h1v1h-1zM59 50h1v1h-1zM69 50h1v1h-1zM58 51h1v1h-1zM69 51h1v1h-1zM84 51h1v1h-1zM37 54h1v1h-1zM81 55h1v1h-1zM26 56h1v1h-1zM26 57h1v1h-1zM40 57h1v1h-1zM39 58h1v1h-1zM68 59h1v1h-1zM21 60h1v1h-1zM71 61h1v1h-1zM71 62h1v1h-1zM87 63h1v1h-1zM43 64h1v1h-1zM37 65h1v1h-1zM41 66h2v1h-2zM20 67h1v1h-1zM19 68h1v1h-1zM80 69h1v1h-1zM89 70h1v1h-1zM16 71h1v1h-1zM15 72h1v1h-1zM44 72h2v1h-2zM55 72h1v1h-1zM88 72h1v1h-1zM63 73h2v1h-2zM67 73h1v1h-1zM19 74h1v1h-1zM43 74h1v1h-1zM56 74h3v1h-3zM63 74h1v1h-1zM26 75h1v1h-1zM29 75h1v1h-1zM75 75h2v1h-2zM27 76h1v1h-1zM33 76h1v1h-1zM52 76h2v1h-2zM62 76h2v1h-2zM74 76h1v1h-1zM79 76h1v1h-1zM92 76h1v1h-1zM23 78h1v1h-1zM19 79h1v1h-1zM41 79h1v1h-1zM86 79h1v1h-1zM74 80h1v1h-1zM77 80h1v1h-1zM61 81h1v1h-1zM45 83h1v1h-1zM30 86h1v1h-1zM69 86h1v1h-1zM72 88h1v1h-1zM72 89h1v1h-1zM22 90h1v1h-1zM84 90h1v1h-1zM87 92h1v1h-1zM23 93h1v1h-1zM93 94h1v1h-1zM98 94h1v1h-1zM12 95h1v1h-1zM93 95h1v1h-1zM15 97h1v1h-1zM84 98h1v1h-1zM89 98h1v1h-1zM22 100h1v1h-1zM22 103h1v1h-1zM89 103h1v1h-1zM9 104h1v1h-1zM89 106h1v1h-1zM14 107h1v1h-1zM97 112h1v1h-1zM88 113h1v1h-1zM87 114h1v1h-1zM98 116h3v1h-3zM18 117h2v1h-2zM24 118h1v1h-1zM90 118h2v1h-2zM97 120h1v1h-1zM97 121h1v1h-1zM64 126h1v1h-1zM97 126h1v1h-1z"/>
<path fill="#00b448" d="M78 31h1v1h-1zM77 55h1v1h-1zM44 60h2v1h-2zM92 69h1v1h-1zM31 71h1v1h-1zM92 71h1v1h-1zM67 75h1v1h-1zM24 76h1v1h-1zM83 77h1v1h-1zM47 79h1v1h-1zM76 79h1v1h-1zM74 81h1v1h-1zM75 82h1v1h-1zM72 83h1v1h-1zM19 84h1v1h-1zM12 85h1v1h-1zM19 85h1v1h-1zM19 86h1v1h-1zM12 87h1v1h-1zM49 87h1v1h-1zM50 88h1v1h-1zM67 91h1v1h-1zM23 92h1v1h-1zM86 92h1v1h-1zM91 95h1v1h-1zM16 100h1v1h-1zM23 100h1v1h-1zM16 101h1v1h-1zM72 101h1v1h-1zM22 104h1v1h-1zM87 107h1v1h-1zM96 111h1v1h-1zM84 116h1v1h-1zM25 118h1v1h-1z"/>
<path fill="#6c6078" d="M25 32h1v1h-1z"/>
<path fill="#546c78" d="M26 32h1v1h-1z"/>
<path fill="#0c849c" d="M41 32h1v1h-1zM65 34h1v1h-1zM72 36h1v1h-1zM78 36h1v1h-1zM46 38h1v1h-1zM62 38h1v1h-1zM56 40h1v1h-1zM80 41h1v1h-1zM83 42h1v1h-1zM34 43h1v1h-1zM37 43h1v1h-1zM37 44h1v1h-1zM52 45h1v1h-1zM62 45h2v1h-2zM66 45h1v1h-1zM23 46h1v1h-1zM23 47h1v1h-1zM60 49h1v1h-1zM75 49h1v1h-1zM78 49h1v1h-1zM79 50h1v1h-1zM52 53h1v1h-1zM32 55h1v1h-1zM44 55h1v1h-1zM69 55h1v1h-1zM55 56h1v1h-1zM62 56h1v1h-1zM75 57h1v1h-1zM52 58h1v1h-1zM59 58h1v1h-1zM32 60h1v1h-1zM40 62h1v1h-1zM76 62h1v1h-1zM82 63h1v1h-1zM54 64h1v1h-1zM65 65h1v1h-1zM70 66h1v1h-1zM70 67h1v1h-1zM45 69h1v1h-1zM75 71h1v1h-1zM90 72h1v1h-1zM27 74h1v1h-1zM38 74h1v1h-1zM21 80h1v1h-1zM85 80h1v1h-1zM35 81h1v1h-1zM21 82h1v1h-1zM31 85h1v1h-1zM61 85h1v1h-1zM88 85h1v1h-1zM42 88h1v1h-1zM25 89h1v1h-1zM91 90h1v1h-1zM15 94h1v1h-1zM19 95h1v1h-1zM89 95h1v1h-1zM21 105h1v1h-1zM89 105h1v1h-1zM92 112h1v1h-1zM94 116h1v1h-1z"/>
<path fill="#18909c" d="M42 32h1v1h-1zM33 37h1v1h-1zM69 42h1v1h-1zM65 55h1v1h-1zM51 59h1v1h-1zM39 62h1v1h-1zM57 62h1v1h-1zM42 63h1v1h-1zM55 63h1v1h-1zM57 63h1v1h-1zM64 67h1v1h-1zM36 71h1v1h-1zM30 73h1v1h-1zM60 78h1v1h-1zM69 89h1v1h-1zM92 116h1v1h-1zM91 129h1v1h-1z"/>
<path fill="#1848d8" d="M53 32h1v1h-1z"/>
<path fill="#18849c" d="M63 32h1v1h-1zM63 33h1v1h-1zM44 37h1v1h-1zM28 38h2v1h-2zM30 39h1v1h-1zM59 40h1v1h-1zM22 41h1v1h-1zM59 41h1v1h-1zM43 42h1v1h-1zM52 43h1v1h-1zM83 43h1v1h-1zM51 44h1v1h-1zM69 44h1v1h-1zM82 44h2v1h-2zM27 46h1v1h-1zM63 46h1v1h-1zM80 46h2v1h-2zM47 47h1v1h-1zM56 47h1v1h-1zM83 47h1v1h-1zM53 49h1v1h-1zM23 50h1v1h-1zM37 51h2v1h-2zM31 56h1v1h-1zM82 57h1v1h-1zM86 58h1v1h-1zM78 59h1v1h-1zM26 60h1v1h-1zM36 62h1v1h-1zM64 62h2v1h-2zM18 64h1v1h-1zM57 64h1v1h-1zM72 65h1v1h-1zM27 66h1v1h-1zM22 67h1v1h-1zM72 67h1v1h-1zM38 69h1v1h-1zM55 70h1v1h-1zM66 71h1v1h-1zM49 72h1v1h-1zM68 72h1v1h-1zM52 74h1v1h-1zM14 75h1v1h-1zM19 77h1v1h-1zM40 80h1v1h-1zM22 82h1v1h-1zM88 83h1v1h-1zM26 84h1v1h-1zM86 84h2v1h-2zM78 86h1v1h-1zM78 87h1v1h-1zM30 89h1v1h-1zM88 94h2v1h-2zM92 97h1v1h-1zM83 99h1v1h-1zM97 99h1v1h-1zM10 103h1v1h-1zM98 104h1v1h-1zM98 105h1v1h-1zM90 106h1v1h-1zM10 110h1v1h-1zM87 124h1v1h-1z"/>
<path fill="#0c9090" d="M64 32h1v1h-1zM65 33h1v1h-1zM71 35h1v1h-1zM79 36h1v1h-1zM45 37h1v1h-1zM79 37h1v1h-1zM27 38h1v1h-1zM34 38h1v1h-1zM28 40h1v1h-1zM55 40h1v1h-1zM57 40h1v1h-1zM76 41h1v1h-1zM32 42h1v1h-1zM63 42h1v1h-1zM83 45h1v1h-1zM83 46h1v1h-1zM81 48h1v1h-1zM69 49h1v1h-1zM71 52h1v1h-1zM71 53h1v1h-1zM44 54h1v1h-1zM52 54h1v1h-1zM23 55h1v1h-1zM30 55h1v1h-1zM38 56h1v1h-1zM38 57h1v1h-1zM38 58h1v1h-1zM65 58h1v1h-1zM49 60h1v1h-1zM60 61h1v1h-1zM38 62h1v1h-1zM39 63h1v1h-1zM28 67h1v1h-1zM36 70h1v1h-1zM91 72h1v1h-1zM78 73h1v1h-1zM60 75h1v1h-1zM94 76h1v1h-1zM18 78h2v1h-2zM26 78h1v1h-1zM82 78h1v1h-1zM50 79h1v1h-1zM25 84h1v1h-1zM47 87h1v1h-1zM31 88h1v1h-1zM86 88h1v1h-1zM70 91h1v1h-1zM87 93h1v1h-1zM98 95h1v1h-1zM86 97h1v1h-1zM26 99h1v1h-1zM96 99h1v1h-1zM96 103h1v1h-1zM8 105h1v1h-1z"/>
<path fill="#0c9084" d="M65 32h1v1h-1zM76 40h1v1h-1zM81 42h1v1h-1zM31 43h1v1h-1zM81 43h1v1h-1zM81 44h1v1h-1zM80 45h1v1h-1zM23 51h1v1h-1zM68 51h1v1h-1zM82 51h1v1h-1zM44 53h1v1h-1zM43 55h1v1h-1zM74 56h1v1h-1zM21 57h1v1h-1zM24 57h1v1h-1zM37 58h1v1h-1zM53 58h1v1h-1zM38 59h1v1h-1zM45 61h1v1h-1zM59 61h1v1h-1zM75 61h1v1h-1zM39 64h1v1h-1zM82 64h1v1h-1zM40 66h1v1h-1zM73 73h1v1h-1zM14 74h1v1h-1zM72 75h1v1h-1zM90 77h1v1h-1zM32 79h1v1h-1zM70 79h1v1h-1zM80 80h1v1h-1zM39 81h1v1h-1zM16 84h2v1h-2zM23 85h1v1h-1zM35 85h1v1h-1zM65 86h1v1h-1zM27 89h1v1h-1zM18 94h1v1h-1zM64 95h1v1h-1zM23 96h1v1h-1zM91 96h1v1h-1zM9 102h1v1h-1zM33 102h1v1h-1zM22 106h1v1h-1zM10 107h1v1h-1zM91 108h1v1h-1zM98 115h1v1h-1zM96 119h1v1h-1zM99 123h1v1h-1z"/>
<path fill="#0c6c9c" d="M77 32h1v1h-1zM29 51h1v1h-1z"/>
<path fill="#00a860" d="M79 32h1v1h-1zM78 39h1v1h-1zM86 52h1v1h-1zM25 54h1v1h-1zM78 55h2v1h-2zM78 56h1v1h-1zM27 57h1v1h-1zM18 59h1v1h-1zM37 59h1v1h-1zM44 59h1v1h-1zM18 60h1v1h-1zM37 60h1v1h-1zM46 60h1v1h-1zM24 62h1v1h-1zM60 64h1v1h-1zM30 67h1v1h-1zM31 68h1v1h-1zM49 69h1v1h-1zM79 69h1v1h-1zM23 70h1v1h-1zM88 71h1v1h-1zM57 72h1v1h-1zM45 74h1v1h-1zM60 74h1v1h-1zM76 78h1v1h-1zM79 79h1v1h-1zM16 80h1v1h-1zM30 80h1v1h-1zM16 81h1v1h-1zM47 81h1v1h-1zM16 82h1v1h-1zM18 82h1v1h-1zM95 82h1v1h-1zM80 83h2v1h-2zM90 83h1v1h-1zM92 84h1v1h-1zM42 85h2v1h-2zM69 85h1v1h-1zM14 86h1v1h-1zM29 87h1v1h-1zM32 87h1v1h-1zM42 87h2v1h-2zM44 88h1v1h-1zM49 88h1v1h-1zM97 89h1v1h-1zM16 91h1v1h-1zM18 91h1v1h-1zM34 91h1v1h-1zM80 91h1v1h-1zM84 91h1v1h-1zM92 93h1v1h-1zM19 94h1v1h-1zM10 95h1v1h-1zM24 96h1v1h-1zM14 98h1v1h-1zM10 100h1v1h-1zM20 100h1v1h-1zM25 100h1v1h-1zM31 100h1v1h-1zM93 100h1v1h-1zM17 101h1v1h-1zM33 101h1v1h-1zM93 101h1v1h-1zM16 103h1v1h-1zM94 103h1v1h-1zM94 104h1v1h-1zM83 107h1v1h-1zM84 108h1v1h-1zM94 109h1v1h-1zM10 113h1v1h-1zM93 120h1v1h-1zM98 122h1v1h-1z"/>
<path fill="#1884a8" d="M64 33h1v1h-1zM33 35h1v1h-1zM31 39h1v1h-1zM69 41h1v1h-1zM22 42h1v1h-1zM68 42h1v1h-1zM53 43h1v1h-1zM71 43h1v1h-1zM50 45h1v1h-1zM61 47h1v1h-1zM82 47h1v1h-1zM23 49h1v1h-1zM37 50h1v1h-1zM56 53h1v1h-1zM51 60h1v1h-1zM59 60h1v1h-1zM36 63h1v1h-1zM56 63h1v1h-1zM21 65h1v1h-1zM75 65h1v1h-1zM39 67h1v1h-1zM66 69h1v1h-1zM48 73h1v1h-1zM59 77h1v1h-1zM27 86h1v1h-1zM91 89h1v1h-1zM32 90h1v1h-1zM93 91h1v1h-1zM99 115h1v1h-1zM82 128h1v1h-1z"/>
<path fill="#189084" d="M66 33h1v1h-1zM33 42h1v1h-1zM24 44h1v1h-1zM52 44h1v1h-1zM67 45h1v1h-1zM82 48h1v1h-1zM26 52h1v1h-1zM37 52h1v1h-1zM56 52h1v1h-1zM31 53h1v1h-1zM66 53h1v1h-1zM33 54h1v1h-1zM29 55h1v1h-1zM68 58h1v1h-1zM75 60h1v1h-1zM83 60h1v1h-1zM33 61h1v1h-1zM38 61h1v1h-1zM41 61h1v1h-1zM43 61h1v1h-1zM86 62h1v1h-1zM90 62h1v1h-1zM73 64h1v1h-1zM81 64h1v1h-1zM89 65h1v1h-1zM39 66h1v1h-1zM33 68h1v1h-1zM35 68h1v1h-1zM89 69h1v1h-1zM19 71h1v1h-1zM39 72h1v1h-1zM67 72h1v1h-1zM73 72h1v1h-1zM85 73h1v1h-1zM28 74h1v1h-1zM82 74h1v1h-1zM42 78h1v1h-1zM74 78h1v1h-1zM24 86h1v1h-1zM69 88h1v1h-1zM70 89h1v1h-1zM25 90h1v1h-1zM79 90h1v1h-1zM44 91h1v1h-1zM12 92h1v1h-1zM88 96h1v1h-1zM17 99h1v1h-1zM18 100h1v1h-1zM19 101h1v1h-1zM88 124h1v1h-1z"/>
<path fill="#0c8490" d="M67 33h1v1h-1zM34 36h1v1h-1zM63 44h1v1h-1zM34 47h1v1h-1zM33 48h1v1h-1zM32 49h1v1h-1zM65 49h1v1h-1zM40 50h1v1h-1zM22 51h1v1h-1zM74 55h1v1h-1zM87 56h1v1h-1zM22 57h1v1h-1zM66 58h1v1h-1zM23 65h1v1h-1zM40 65h1v1h-1zM38 67h1v1h-1zM90 67h1v1h-1zM38 68h1v1h-1zM74 68h1v1h-1zM54 69h1v1h-1zM30 72h1v1h-1zM76 72h1v1h-1zM62 73h1v1h-1zM86 73h1v1h-1zM20 76h1v1h-1zM82 80h1v1h-1zM81 82h1v1h-1zM33 84h1v1h-1zM25 85h1v1h-1zM62 87h1v1h-1zM92 87h1v1h-1zM96 87h1v1h-1zM41 89h1v1h-1zM98 92h1v1h-1zM95 93h1v1h-1zM11 94h1v1h-1zM23 94h1v1h-1zM12 105h1v1h-1zM76 110h1v1h-1z"/>
<path fill="#248478" d="M66 34h1v1h-1zM72 48h1v1h-1zM27 54h1v1h-1zM80 58h1v1h-1zM91 68h1v1h-1zM40 74h1v1h-1zM35 78h1v1h-1z"/>
<path fill="#187890" d="M67 34h1v1h-1zM41 37h1v1h-1zM35 49h1v1h-1zM41 50h1v1h-1zM45 51h1v1h-1zM28 53h1v1h-1zM51 56h1v1h-1zM42 58h1v1h-1zM42 59h1v1h-1zM41 71h1v1h-1zM20 77h1v1h-1zM62 86h1v1h-1zM86 86h1v1h-1zM93 86h1v1h-1zM33 96h1v1h-1z"/>
<path fill="#009c90" d="M70 34h1v1h-1zM73 35h2v1h-2zM70 41h1v1h-1zM70 42h1v1h-1zM22 45h1v1h-1zM31 45h1v1h-1zM85 49h1v1h-1zM85 50h1v1h-1zM78 54h1v1h-1zM88 59h1v1h-1zM30 61h1v1h-1zM43 63h1v1h-1zM50 63h1v1h-1zM59 63h1v1h-1zM37 64h1v1h-1zM74 64h1v1h-1zM54 66h1v1h-1zM21 69h1v1h-1zM25 70h1v1h-1zM35 71h1v1h-1zM89 72h1v1h-1zM55 73h1v1h-1zM65 74h1v1h-1zM27 75h1v1h-1zM35 75h1v1h-1zM62 75h1v1h-1zM34 76h1v1h-1zM23 77h1v1h-1zM53 77h1v1h-1zM70 77h1v1h-1zM45 82h1v1h-1zM76 82h1v1h-1zM31 83h1v1h-1zM58 86h1v1h-1zM95 90h1v1h-1zM78 91h1v1h-1zM20 93h1v1h-1zM22 93h1v1h-1zM24 95h1v1h-1zM86 96h1v1h-1zM22 102h1v1h-1zM91 116h1v1h-1z"/>
<path fill="#188484" d="M66 35h2v1h-2zM80 37h1v1h-1zM81 45h1v1h-1zM77 50h1v1h-1zM28 54h1v1h-1zM30 54h1v1h-1zM50 56h1v1h-1zM85 56h1v1h-1zM86 57h1v1h-1zM29 62h1v1h-1zM82 81h1v1h-1zM92 81h1v1h-1zM90 82h1v1h-1zM94 86h1v1h-1zM97 102h1v1h-1zM22 107h1v1h-1z"/>
<path fill="#009078" d="M24 36h1v1h-1zM24 37h1v1h-1zM75 37h2v1h-2zM81 39h1v1h-1zM75 52h1v1h-1zM24 55h1v1h-1zM28 58h1v1h-1zM86 60h1v1h-1zM45 66h1v1h-1zM85 67h1v1h-1zM51 69h2v1h-2zM16 72h1v1h-1zM88 74h1v1h-1zM22 75h1v1h-1zM76 76h1v1h-1zM77 77h1v1h-1zM68 78h1v1h-1zM86 78h1v1h-1zM95 81h1v1h-1zM19 82h1v1h-1zM18 84h1v1h-1zM56 85h1v1h-1zM32 86h1v1h-1zM84 88h1v1h-1zM33 97h1v1h-1zM94 97h1v1h-1zM14 103h1v1h-1zM96 107h1v1h-1zM94 120h1v1h-1zM65 125h1v1h-1z"/>
<path fill="#009c78" d="M25 36h1v1h-1zM78 38h1v1h-1zM79 39h1v1h-1zM79 40h1v1h-1zM26 44h1v1h-1zM26 46h1v1h-1zM57 52h1v1h-1zM77 54h1v1h-1zM24 56h1v1h-1zM44 58h1v1h-1zM19 59h1v1h-1zM69 59h1v1h-1zM20 60h1v1h-1zM69 60h1v1h-1zM32 61h1v1h-1zM37 61h1v1h-1zM89 61h1v1h-1zM74 62h1v1h-1zM24 63h1v1h-1zM62 63h1v1h-1zM88 63h1v1h-1zM38 64h1v1h-1zM59 64h1v1h-1zM18 65h1v1h-1zM42 65h2v1h-2zM17 66h2v1h-2zM36 66h2v1h-2zM42 67h1v1h-1zM65 67h1v1h-1zM49 68h1v1h-1zM63 69h1v1h-1zM84 69h1v1h-1zM49 70h1v1h-1zM77 70h1v1h-1zM30 71h1v1h-1zM31 72h1v1h-1zM14 73h1v1h-1zM19 73h2v1h-2zM40 73h1v1h-1zM65 73h2v1h-2zM21 74h1v1h-1zM68 74h1v1h-1zM73 74h1v1h-1zM74 75h1v1h-1zM29 76h1v1h-1zM60 76h1v1h-1zM75 76h1v1h-1zM93 76h1v1h-1zM81 77h1v1h-1zM24 78h1v1h-1zM28 78h1v1h-1zM75 78h1v1h-1zM17 79h1v1h-1zM27 79h1v1h-1zM49 79h1v1h-1zM77 79h2v1h-2zM85 79h1v1h-1zM15 80h1v1h-1zM83 80h1v1h-1zM73 82h1v1h-1zM74 83h1v1h-1zM89 83h1v1h-1zM24 84h1v1h-1zM68 84h1v1h-1zM44 85h1v1h-1zM68 85h1v1h-1zM21 86h1v1h-1zM71 86h1v1h-1zM19 87h1v1h-1zM27 87h1v1h-1zM79 87h1v1h-1zM95 87h1v1h-1zM71 88h1v1h-1zM83 88h1v1h-1zM40 89h1v1h-1zM18 90h1v1h-1zM96 90h1v1h-1zM92 92h1v1h-1zM63 93h1v1h-1zM24 94h1v1h-1zM63 94h1v1h-1zM90 94h1v1h-1zM90 95h1v1h-1zM12 96h2v1h-2zM31 96h1v1h-1zM90 96h1v1h-1zM33 98h1v1h-1zM33 99h1v1h-1zM85 99h1v1h-1zM17 100h1v1h-1zM21 100h1v1h-1zM33 100h1v1h-1zM9 101h1v1h-1zM11 101h1v1h-1zM21 101h1v1h-1zM15 104h1v1h-1zM93 104h1v1h-1zM96 104h1v1h-1zM93 105h1v1h-1zM93 106h1v1h-1zM16 109h2v1h-2zM20 109h1v1h-1zM11 110h1v1h-1zM20 110h1v1h-1zM22 110h1v1h-1zM21 111h1v1h-1zM95 111h1v1h-1zM10 114h1v1h-1zM82 116h1v1h-1zM97 122h1v1h-1zM21 124h1v1h-1zM83 127h1v1h-1z"/>
<path fill="#0090b4" d="M28 36h1v1h-1zM53 63h1v1h-1z"/>
<path fill="#0c789c" d="M42 36h1v1h-1zM56 36h1v1h-1zM51 39h1v1h-1zM42 41h1v1h-1zM80 43h1v1h-1zM73 47h1v1h-1zM53 48h1v1h-1zM40 49h2v1h-2zM45 50h1v1h-1zM72 55h1v1h-1zM33 57h1v1h-1zM43 59h1v1h-1zM80 59h1v1h-1zM80 61h1v1h-1zM77 62h1v1h-1zM64 63h1v1h-1zM45 64h1v1h-1zM71 65h1v1h-1zM26 66h1v1h-1zM43 70h1v1h-1zM74 73h1v1h-1zM18 75h1v1h-1zM37 76h1v1h-1zM24 79h1v1h-1zM43 79h1v1h-1zM13 94h1v1h-1zM86 112h1v1h-1zM95 115h1v1h-1zM96 116h1v1h-1zM95 120h1v1h-1z"/>
<path fill="#3060b4" d="M50 36h1v1h-1zM70 49h1v1h-1zM46 64h1v1h-1zM83 67h1v1h-1zM28 71h1v1h-1zM70 71h1v1h-1zM70 73h1v1h-1zM76 73h1v1h-1zM70 74h1v1h-1zM86 81h1v1h-1zM33 82h1v1h-1zM85 85h1v1h-1zM14 89h1v1h-1zM16 94h1v1h-1z"/>
<path fill="#30789c" d="M71 36h1v1h-1zM20 49h2v1h-2zM22 58h1v1h-1zM56 61h1v1h-1zM79 63h1v1h-1zM48 67h1v1h-1zM40 70h1v1h-1zM47 70h1v1h-1zM69 70h1v1h-1zM84 70h1v1h-1zM78 74h1v1h-1zM34 79h1v1h-1zM95 79h1v1h-1zM22 81h1v1h-1zM59 84h1v1h-1zM59 85h1v1h-1zM93 88h1v1h-1zM16 93h1v1h-1zM12 106h1v1h-1zM13 108h1v1h-1z"/>
<path fill="#008484" d="M80 36h1v1h-1zM75 39h1v1h-1zM34 46h1v1h-1zM78 50h1v1h-1zM30 58h1v1h-1zM35 59h1v1h-1zM18 74h1v1h-1zM13 104h1v1h-1z"/>
<path fill="#009084" d="M25 37h1v1h-1zM79 38h1v1h-1zM81 38h1v1h-1zM26 39h1v1h-1zM80 39h1v1h-1zM80 40h3v1h-3zM76 42h1v1h-1zM27 45h1v1h-1zM33 46h1v1h-1zM36 47h1v1h-1zM73 48h1v1h-1zM59 49h1v1h-1zM78 51h1v1h-1zM87 53h1v1h-1zM25 56h1v1h-1zM46 61h1v1h-1zM69 61h1v1h-1zM74 61h1v1h-1zM18 62h2v1h-2zM88 64h1v1h-1zM38 65h1v1h-1zM19 66h1v1h-1zM23 66h2v1h-2zM66 66h1v1h-1zM85 66h2v1h-2zM45 67h1v1h-1zM66 67h2v1h-2zM50 68h1v1h-1zM70 68h1v1h-1zM78 68h1v1h-1zM36 69h1v1h-1zM65 69h1v1h-1zM75 70h1v1h-1zM64 71h1v1h-1zM32 72h1v1h-1zM64 72h3v1h-3zM15 73h2v1h-2zM59 74h1v1h-1zM61 74h1v1h-1zM74 74h1v1h-1zM87 74h1v1h-1zM88 75h1v1h-1zM23 76h1v1h-1zM32 76h1v1h-1zM36 76h1v1h-1zM54 76h1v1h-1zM75 77h2v1h-2zM94 77h1v1h-1zM21 79h2v1h-2zM69 79h1v1h-1zM20 80h1v1h-1zM22 80h1v1h-1zM84 80h1v1h-1zM19 81h2v1h-2zM17 83h2v1h-2zM66 85h1v1h-1zM92 85h1v1h-1zM70 86h1v1h-1zM64 87h1v1h-1zM71 89h1v1h-1zM97 90h1v1h-1zM96 91h2v1h-2zM30 92h1v1h-1zM81 92h1v1h-1zM93 92h1v1h-1zM19 93h1v1h-1zM61 93h1v1h-1zM13 95h2v1h-2zM34 98h1v1h-1zM85 98h1v1h-1zM92 99h1v1h-1zM18 101h1v1h-1zM12 102h1v1h-1zM13 103h1v1h-1zM17 103h1v1h-1zM16 104h1v1h-1zM97 106h1v1h-1zM92 107h1v1h-1zM83 108h1v1h-1zM22 112h1v1h-1zM86 113h1v1h-1zM15 115h1v1h-1zM98 124h1v1h-1zM96 125h2v1h-2zM89 126h1v1h-1z"/>
<path fill="#30849c" d="M32 37h1v1h-1zM35 51h1v1h-1zM57 61h1v1h-1zM71 64h1v1h-1zM86 64h1v1h-1zM60 68h1v1h-1zM34 74h1v1h-1zM64 93h1v1h-1zM88 95h1v1h-1zM19 99h1v1h-1zM82 109h1v1h-1zM94 113h1v1h-1zM93 116h1v1h-1zM89 119h1v1h-1z"/>
<path fill="#24789c" d="M42 37h1v1h-1zM50 37h1v1h-1zM41 38h2v1h-2zM24 42h1v1h-1zM50 44h1v1h-1zM49 48h1v1h-1zM69 48h1v1h-1zM76 49h1v1h-1zM36 50h1v1h-1zM53 50h1v1h-1zM45 56h1v1h-1zM31 59h1v1h-1zM27 60h1v1h-1zM64 60h1v1h-1zM79 62h1v1h-1zM65 63h2v1h-2zM70 64h1v1h-1zM72 64h1v1h-1zM53 65h1v1h-1zM77 65h1v1h-1zM77 66h1v1h-1zM89 67h1v1h-1zM44 69h1v1h-1zM39 71h1v1h-1zM28 72h1v1h-1zM27 73h1v1h-1zM72 73h1v1h-1zM33 79h1v1h-1zM23 80h1v1h-1zM33 81h1v1h-1zM51 83h1v1h-1zM87 85h1v1h-1zM60 86h1v1h-1zM18 88h1v1h-1zM73 89h1v1h-1zM48 90h1v1h-1zM84 95h1v1h-1zM34 103h1v1h-1zM21 106h1v1h-1z"/>
<path fill="#246ca8" d="M49 37h1v1h-1zM47 38h1v1h-1zM48 39h1v1h-1zM48 40h1v1h-1zM74 40h1v1h-1zM56 43h1v1h-1zM22 50h1v1h-1zM31 50h1v1h-1zM47 51h1v1h-1zM46 55h1v1h-1zM32 56h1v1h-1zM88 56h1v1h-1zM32 57h1v1h-1zM24 58h1v1h-1zM82 58h1v1h-1zM74 59h2v1h-2zM35 60h1v1h-1zM78 62h1v1h-1zM81 63h1v1h-1zM57 65h1v1h-1zM49 66h1v1h-1zM27 67h1v1h-1zM83 70h1v1h-1zM29 71h1v1h-1zM71 74h1v1h-1zM17 75h1v1h-1zM89 78h1v1h-1zM91 78h1v1h-1zM52 80h1v1h-1zM46 86h1v1h-1zM77 87h1v1h-1zM13 93h1v1h-1zM16 95h1v1h-1zM10 106h1v1h-1z"/>
<path fill="#3060a8" d="M70 37h1v1h-1zM21 50h1v1h-1zM76 58h1v1h-1zM13 79h1v1h-1zM53 80h1v1h-1z"/>
<path fill="#3c60b4" d="M71 37h1v1h-1zM35 62h1v1h-1zM20 96h1v1h-1z"/>
<path fill="#188490" d="M81 37h1v1h-1zM30 38h2v1h-2zM29 39h1v1h-1zM58 41h1v1h-1zM33 43h1v1h-1zM51 43h1v1h-1zM53 44h1v1h-1zM82 45h1v1h-1zM57 47h1v1h-1zM34 48h1v1h-1zM42 50h1v1h-1zM42 51h1v1h-1zM42 52h1v1h-1zM65 53h1v1h-1zM71 54h1v1h-1zM85 55h1v1h-1zM71 56h1v1h-1zM73 56h1v1h-1zM44 57h1v1h-1zM53 57h1v1h-1zM59 57h1v1h-1zM64 58h1v1h-1zM52 59h1v1h-1zM58 65h1v1h-1zM20 66h1v1h-1zM38 66h1v1h-1zM34 68h1v1h-1zM46 68h1v1h-1zM66 68h1v1h-1zM46 69h1v1h-1zM48 70h1v1h-1zM27 72h1v1h-1zM33 72h1v1h-1zM74 72h1v1h-1zM32 73h1v1h-1zM82 73h1v1h-1zM69 75h2v1h-2zM38 77h1v1h-1zM81 80h1v1h-1zM60 82h1v1h-1zM63 82h1v1h-1zM62 83h1v1h-1zM45 84h1v1h-1zM45 85h1v1h-1zM63 86h1v1h-1zM24 87h1v1h-1zM70 90h2v1h-2zM91 91h1v1h-1zM92 98h1v1h-1zM17 105h1v1h-1zM87 111h1v1h-1zM90 113h1v1h-1zM97 116h1v1h-1zM91 117h1v1h-1zM96 126h1v1h-1z"/>
<path fill="#009c60" d="M23 38h2v1h-2zM22 52h1v1h-1zM36 59h1v1h-1zM88 60h1v1h-1zM18 61h1v1h-1zM18 73h1v1h-1zM78 77h1v1h-1zM85 77h1v1h-1zM78 78h1v1h-1zM15 81h1v1h-1zM79 84h1v1h-1zM21 85h1v1h-1zM79 85h1v1h-1zM29 88h1v1h-1zM93 93h1v1h-1zM34 97h1v1h-1zM93 97h1v1h-1zM14 104h1v1h-1zM13 105h1v1h-1zM95 105h1v1h-1zM96 106h1v1h-1zM29 107h1v1h-1zM13 109h1v1h-1zM18 110h1v1h-1zM11 116h1v1h-1zM98 117h1v1h-1zM65 126h1v1h-1zM57 132h1v1h-1z"/>
<path fill="#189c54" d="M25 38h1v1h-1zM29 63h1v1h-1zM50 70h1v1h-1zM32 77h1v1h-1zM51 81h1v1h-1zM38 90h1v1h-1zM36 91h1v1h-1zM74 105h1v1h-1zM17 111h1v1h-1z"/>
<path fill="#249090" d="M32 38h1v1h-1zM69 45h1v1h-1zM49 53h1v1h-1zM65 54h1v1h-1zM60 59h1v1h-1zM32 63h1v1h-1zM33 64h1v1h-1zM53 64h1v1h-1zM28 66h1v1h-1zM17 70h1v1h-1zM62 70h1v1h-1zM68 71h1v1h-1zM28 73h1v1h-1zM30 74h1v1h-1zM79 75h1v1h-1zM17 88h1v1h-1zM34 89h1v1h-1zM87 94h1v1h-1zM88 104h1v1h-1zM78 106h1v1h-1zM98 106h1v1h-1zM14 112h1v1h-1zM92 117h1v1h-1zM96 118h1v1h-1z"/>
<path fill="#189090" d="M33 38h1v1h-1zM28 39h1v1h-1zM60 47h1v1h-1zM81 47h1v1h-1zM22 48h1v1h-1zM61 48h1v1h-1zM84 48h1v1h-1zM70 53h1v1h-1zM75 56h1v1h-1zM69 58h1v1h-1zM31 60h1v1h-1zM38 60h1v1h-1zM61 60h1v1h-1zM58 61h1v1h-1zM76 61h1v1h-1zM49 63h1v1h-1zM74 71h1v1h-1zM34 72h1v1h-1zM29 73h1v1h-1zM31 73h1v1h-1zM31 74h1v1h-1zM35 74h1v1h-1zM41 74h1v1h-1zM19 75h1v1h-1zM42 75h1v1h-1zM19 76h1v1h-1zM57 76h1v1h-1zM72 76h1v1h-1zM63 79h1v1h-1zM26 80h1v1h-1zM28 81h1v1h-1zM27 83h1v1h-1zM23 86h1v1h-1z"/>
<path fill="#2478a8" d="M49 38h1v1h-1zM45 42h1v1h-1zM72 43h1v1h-1zM77 43h1v1h-1zM54 44h1v1h-1zM47 48h1v1h-1zM37 49h1v1h-1zM43 49h1v1h-1zM77 49h1v1h-1zM33 50h1v1h-1zM46 53h1v1h-1zM61 57h1v1h-1zM25 59h1v1h-1zM55 61h1v1h-1zM21 62h1v1h-1zM33 63h1v1h-1zM41 63h1v1h-1zM46 63h1v1h-1zM62 66h1v1h-1zM89 66h1v1h-1zM27 68h2v1h-2zM82 70h1v1h-1zM27 71h1v1h-1zM38 71h1v1h-1zM48 71h1v1h-1zM48 72h1v1h-1zM75 74h1v1h-1zM14 76h1v1h-1zM18 76h1v1h-1zM18 77h1v1h-1zM50 77h1v1h-1zM57 77h1v1h-1zM50 78h1v1h-1zM88 79h1v1h-1zM38 83h1v1h-1zM27 85h1v1h-1zM60 85h1v1h-1zM15 87h1v1h-1zM16 89h1v1h-1zM14 90h1v1h-1zM14 91h1v1h-1zM13 92h1v1h-1zM11 93h1v1h-1zM84 99h1v1h-1zM95 100h1v1h-1zM97 104h1v1h-1zM11 105h1v1h-1zM18 105h1v1h-1zM8 106h1v1h-1zM9 107h1v1h-1z"/>
<path fill="#247890" d="M50 38h1v1h-1zM75 40h1v1h-1zM55 48h1v1h-1zM54 49h1v1h-1zM54 50h1v1h-1zM42 54h1v1h-1zM28 55h1v1h-1zM33 56h1v1h-1zM77 58h1v1h-1zM42 60h1v1h-1zM57 66h1v1h-1zM92 68h1v1h-1zM43 69h1v1h-1zM44 80h1v1h-1zM71 81h2v1h-2zM55 85h1v1h-1zM95 95h1v1h-1zM87 100h1v1h-1zM91 105h1v1h-1z"/>
<path fill="#2460cc" d="M66 38h1v1h-1zM41 46h1v1h-1zM52 66h1v1h-1zM77 82h1v1h-1zM21 91h1v1h-1z"/>
<path fill="#2454d8" d="M67 38h1v1h-1z"/>
<path fill="#009c54" d="M76 38h1v1h-1zM85 75h1v1h-1zM55 91h1v1h-1zM14 114h1v1h-1z"/>
<path fill="#18b424" d="M22 39h1v1h-1zM91 64h1v1h-1z"/>
<path fill="#00a854" d="M23 39h1v1h-1zM23 52h1v1h-1zM23 53h1v1h-1zM20 59h1v1h-1zM19 60h1v1h-1zM87 60h1v1h-1zM88 61h1v1h-1zM88 62h1v1h-1zM83 63h1v1h-1zM83 64h2v1h-2zM17 65h1v1h-1zM32 65h1v1h-1zM22 70h1v1h-1zM30 70h1v1h-1zM17 72h1v1h-1zM67 74h1v1h-1zM89 75h1v1h-1zM85 76h1v1h-1zM35 77h1v1h-1zM80 77h1v1h-1zM48 80h1v1h-1zM17 81h2v1h-2zM94 81h1v1h-1zM15 82h1v1h-1zM17 82h1v1h-1zM21 83h1v1h-1zM71 84h1v1h-1zM71 85h1v1h-1zM20 86h1v1h-1zM49 86h1v1h-1zM24 97h1v1h-1zM17 102h1v1h-1zM94 102h1v1h-1zM95 104h1v1h-1zM16 105h1v1h-1zM22 105h1v1h-1zM94 105h1v1h-1zM14 106h1v1h-1zM15 108h1v1h-1zM94 108h1v1h-1zM95 110h1v1h-1zM11 111h1v1h-1zM11 114h1v1h-1zM98 129h1v1h-1z"/>
<path fill="#0c9c60" d="M24 39h1v1h-1zM75 53h1v1h-1zM75 69h1v1h-1zM85 70h1v1h-1zM26 77h1v1h-1zM22 83h1v1h-1zM81 85h1v1h-1zM79 86h1v1h-1zM28 87h1v1h-1zM20 101h1v1h-1z"/>
<path fill="#18906c" d="M25 39h1v1h-1zM55 51h1v1h-1zM86 55h1v1h-1zM86 56h1v1h-1zM79 58h1v1h-1zM84 65h1v1h-1zM33 66h1v1h-1zM90 68h1v1h-1zM39 74h1v1h-1zM69 80h1v1h-1zM89 81h1v1h-1zM87 86h1v1h-1zM45 91h1v1h-1zM92 105h1v1h-1zM99 124h1v1h-1z"/>
<path fill="#0c906c" d="M76 39h1v1h-1zM43 60h1v1h-1zM36 68h1v1h-1zM17 73h1v1h-1zM50 82h1v1h-1zM87 117h1v1h-1z"/>
<path fill="#309078" d="M22 40h1v1h-1zM56 49h1v1h-1zM51 53h1v1h-1zM34 54h1v1h-1zM51 54h1v1h-1zM29 56h1v1h-1zM80 57h1v1h-1zM42 61h1v1h-1zM27 65h1v1h-1zM61 65h1v1h-1zM87 68h1v1h-1zM59 69h1v1h-1zM51 72h1v1h-1zM43 77h1v1h-1zM55 81h1v1h-1zM64 82h1v1h-1zM35 84h1v1h-1zM27 90h1v1h-1zM41 90h1v1h-1zM27 91h1v1h-1zM17 92h1v1h-1zM20 99h1v1h-1zM46 106h1v1h-1zM91 109h1v1h-1zM81 120h1v1h-1z"/>
<path fill="#249084" d="M23 40h1v1h-1zM74 50h1v1h-1zM24 51h1v1h-1zM74 51h1v1h-1zM54 52h1v1h-1zM67 52h1v1h-1zM33 53h1v1h-1zM69 54h1v1h-1zM49 59h1v1h-1zM60 60h1v1h-1zM71 60h1v1h-1zM70 61h1v1h-1zM33 62h1v1h-1zM42 62h1v1h-1zM86 63h1v1h-1zM61 67h1v1h-1zM42 68h1v1h-1zM59 68h1v1h-1zM62 71h1v1h-1zM67 71h1v1h-1zM82 71h1v1h-1zM38 72h1v1h-1zM50 72h1v1h-1zM68 77h1v1h-1zM33 78h1v1h-1zM43 80h1v1h-1zM27 81h1v1h-1zM35 82h1v1h-1zM38 84h1v1h-1zM62 84h1v1h-1zM58 85h1v1h-1zM73 88h1v1h-1zM94 88h1v1h-1zM33 89h1v1h-1zM16 92h1v1h-1zM64 94h1v1h-1zM29 101h1v1h-1zM32 102h1v1h-1zM88 103h1v1h-1zM18 109h1v1h-1zM96 112h1v1h-1zM18 119h1v1h-1zM88 119h1v1h-1zM90 120h1v1h-1zM88 126h1v1h-1z"/>
<path fill="#24849c" d="M24 40h1v1h-1zM29 40h1v1h-1zM23 41h1v1h-1zM63 41h1v1h-1zM23 42h1v1h-1zM23 43h1v1h-1zM82 46h1v1h-1zM48 47h1v1h-1zM22 49h1v1h-1zM75 50h1v1h-1zM81 50h1v1h-1zM25 51h1v1h-1zM36 51h1v1h-1zM33 52h1v1h-1zM55 57h1v1h-1zM76 57h1v1h-1zM50 58h1v1h-1zM39 61h1v1h-1zM64 61h1v1h-1zM77 61h1v1h-1zM55 62h1v1h-1zM21 63h1v1h-1zM31 63h1v1h-1zM70 63h1v1h-1zM65 64h1v1h-1zM79 64h1v1h-1zM34 65h1v1h-1zM50 65h1v1h-1zM79 66h1v1h-1zM77 67h1v1h-1zM41 69h1v1h-1zM56 70h1v1h-1zM67 70h1v1h-1zM33 73h1v1h-1zM39 78h1v1h-1zM32 81h1v1h-1zM54 82h1v1h-1zM87 82h1v1h-1zM34 83h1v1h-1zM51 84h1v1h-1zM61 84h1v1h-1zM46 85h1v1h-1zM67 86h1v1h-1zM31 89h1v1h-1zM13 90h1v1h-1zM33 90h1v1h-1zM87 101h1v1h-1zM28 102h1v1h-1zM10 109h1v1h-1zM21 118h1v1h-1z"/>
<path fill="#0c9c78" d="M77 40h1v1h-1zM32 43h1v1h-1zM32 45h1v1h-1zM67 53h1v1h-1zM23 56h1v1h-1zM64 57h1v1h-1zM44 61h1v1h-1zM43 62h1v1h-1zM89 62h1v1h-1zM48 68h1v1h-1zM79 70h1v1h-1zM54 71h1v1h-1zM63 71h1v1h-1zM47 73h1v1h-1zM78 76h1v1h-1zM63 77h1v1h-1zM82 77h1v1h-1zM71 78h1v1h-1zM31 82h1v1h-1zM15 91h1v1h-1zM83 91h1v1h-1zM18 95h1v1h-1zM23 95h1v1h-1zM11 96h1v1h-1zM13 97h1v1h-1zM82 99h1v1h-1zM98 113h1v1h-1zM84 115h1v1h-1zM100 117h1v1h-1zM97 118h1v1h-1z"/>
<path fill="#0ca86c" d="M78 40h1v1h-1zM24 52h1v1h-1zM77 56h1v1h-1zM80 56h1v1h-1zM59 72h1v1h-1zM27 80h1v1h-1zM37 82h1v1h-1zM87 96h1v1h-1zM21 109h1v1h-1zM81 110h1v1h-1z"/>
<path fill="#3078a8" d="M43 41h2v1h-2zM74 44h1v1h-1zM70 46h1v1h-1zM49 47h1v1h-1zM68 47h1v1h-1zM35 50h1v1h-1zM47 67h1v1h-1zM60 69h1v1h-1zM77 74h1v1h-1zM86 80h1v1h-1zM30 90h1v1h-1zM99 110h1v1h-1z"/>
<path fill="#306cb4" d="M45 41h1v1h-1zM71 45h1v1h-1zM28 46h1v1h-1zM38 48h1v1h-1zM71 50h1v1h-1zM24 59h1v1h-1zM90 66h1v1h-1zM94 74h1v1h-1zM16 77h1v1h-1zM59 78h1v1h-1zM84 84h1v1h-1zM98 111h1v1h-1z"/>
<path fill="#246cc0" d="M46 41h1v1h-1zM77 44h2v1h-2zM79 52h1v1h-1zM34 64h1v1h-1zM29 82h1v1h-1z"/>
<path fill="#0c8484" d="M34 42h1v1h-1zM80 44h1v1h-1zM33 47h1v1h-1zM33 55h1v1h-1zM53 59h1v1h-1zM37 68h1v1h-1zM92 73h1v1h-1z"/>
<path fill="#30a818" d="M84 42h1v1h-1zM23 71h1v1h-1zM30 78h1v1h-1zM25 91h1v1h-1zM66 99h1v1h-1zM13 118h1v1h-1z"/>
<path fill="#48a800" d="M85 42h1v1h-1zM100 127h1v1h-1zM89 130h1v1h-1zM80 132h1v1h-1zM93 137h1v1h-1zM62 146h1v1h-1z"/>
<path fill="#248490" d="M24 43h1v1h-1zM48 48h1v1h-1zM60 48h1v1h-1zM81 49h1v1h-1zM34 50h1v1h-1zM43 50h1v1h-1zM21 51h1v1h-1zM27 52h1v1h-1zM42 53h1v1h-1zM54 56h1v1h-1zM63 56h1v1h-1zM73 57h2v1h-2zM54 58h1v1h-1zM65 59h2v1h-2zM41 62h1v1h-1zM80 62h1v1h-1zM30 63h1v1h-1zM80 63h1v1h-1zM80 64h1v1h-1zM22 65h1v1h-1zM46 65h1v1h-1zM85 65h1v1h-1zM22 68h1v1h-1zM67 68h1v1h-1zM72 68h1v1h-1zM46 70h1v1h-1zM59 71h1v1h-1zM83 73h2v1h-2zM91 73h1v1h-1zM71 75h1v1h-1zM14 77h1v1h-1zM72 77h1v1h-1zM14 78h1v1h-1zM73 78h1v1h-1zM59 79h1v1h-1zM34 80h1v1h-1zM40 81h1v1h-1zM85 81h1v1h-1zM87 81h1v1h-1zM55 84h1v1h-1zM58 84h1v1h-1zM96 84h1v1h-1zM46 87h1v1h-1zM11 88h1v1h-1zM77 88h1v1h-1zM10 89h1v1h-1zM42 89h1v1h-1zM87 89h1v1h-1zM34 90h1v1h-1zM78 90h1v1h-1zM72 91h1v1h-1zM17 95h1v1h-1zM95 97h1v1h-1zM88 100h1v1h-1zM90 104h1v1h-1zM20 106h1v1h-1zM99 112h1v1h-1zM89 113h1v1h-1z"/>
<path fill="#3060cc" d="M78 43h1v1h-1z"/>
<path fill="#189c84" d="M82 43h1v1h-1zM68 45h1v1h-1zM22 46h1v1h-1zM32 46h1v1h-1zM73 51h1v1h-1zM64 56h1v1h-1zM76 56h1v1h-1zM81 56h1v1h-1zM37 57h1v1h-1zM71 63h1v1h-1zM26 71h1v1h-1zM56 71h1v1h-1zM35 72h1v1h-1zM77 75h1v1h-1zM87 79h1v1h-1zM23 83h1v1h-1zM91 86h1v1h-1zM97 93h1v1h-1zM20 95h1v1h-1zM92 96h1v1h-1zM10 108h1v1h-1zM92 109h1v1h-1zM95 128h1v1h-1z"/>
<path fill="#249c54" d="M84 43h1v1h-1zM76 53h1v1h-1zM75 68h1v1h-1zM22 71h1v1h-1zM72 71h1v1h-1zM89 82h1v1h-1zM45 87h1v1h-1zM87 88h1v1h-1zM37 90h1v1h-1zM10 94h1v1h-1zM35 97h1v1h-1zM26 113h1v1h-1z"/>
<path fill="#309c48" d="M85 43h1v1h-1zM76 68h1v1h-1zM72 70h1v1h-1zM81 73h1v1h-1zM97 87h1v1h-1zM80 90h1v1h-1zM38 91h1v1h-1zM22 95h1v1h-1zM83 96h1v1h-1zM12 98h1v1h-1zM54 116h1v1h-1zM90 131h1v1h-1z"/>
<path fill="#009c9c" d="M22 44h1v1h-1zM30 45h1v1h-1zM84 46h1v1h-1zM86 50h1v1h-1zM79 54h1v1h-1zM31 55h1v1h-1zM65 56h1v1h-1zM65 57h1v1h-1zM51 64h2v1h-2zM36 72h1v1h-1zM37 73h1v1h-1zM64 76h1v1h-1zM52 77h1v1h-1zM69 77h1v1h-1zM25 83h1v1h-1zM10 102h1v1h-1zM27 102h1v1h-1z"/>
<path fill="#0c9c84" d="M32 44h1v1h-1zM32 47h1v1h-1zM69 52h1v1h-1zM72 52h1v1h-1zM52 72h1v1h-1zM89 74h2v1h-2zM70 76h1v1h-1zM73 76h1v1h-1zM61 78h1v1h-1zM31 86h1v1h-1zM88 101h1v1h-1zM29 102h1v1h-1zM88 105h1v1h-1zM13 106h1v1h-1zM90 108h1v1h-1zM14 109h1v1h-1zM97 111h1v1h-1zM92 118h1v1h-1z"/>
<path fill="#247884" d="M49 44h1v1h-1zM34 56h1v1h-1zM63 57h1v1h-1zM39 75h1v1h-1zM14 81h1v1h-1zM47 90h1v1h-1zM96 97h1v1h-1z"/>
<path fill="#306ca8" d="M72 44h1v1h-1zM72 45h1v1h-1zM70 48h1v1h-1zM30 52h1v1h-1zM34 52h1v1h-1zM50 52h1v1h-1zM74 58h1v1h-1zM85 58h1v1h-1zM47 63h1v1h-1zM68 69h1v1h-1zM15 75h1v1h-1zM56 78h2v1h-2zM56 79h1v1h-1zM23 82h1v1h-1zM86 82h1v1h-1zM87 83h1v1h-1zM18 99h1v1h-1zM11 106h1v1h-1zM91 106h1v1h-1zM99 111h1v1h-1z"/>
<path fill="#3c6c9c" d="M73 44h1v1h-1zM71 49h1v1h-1zM48 66h1v1h-1zM54 78h1v1h-1zM90 78h1v1h-1zM23 81h1v1h-1zM25 81h1v1h-1zM12 82h1v1h-1zM9 110h1v1h-1z"/>
<path fill="#0c9c6c" d="M25 45h1v1h-1zM73 49h1v1h-1zM21 52h1v1h-1zM26 55h1v1h-1zM28 57h2v1h-2zM86 61h1v1h-1zM33 65h1v1h-1zM59 65h1v1h-1zM32 68h1v1h-1zM22 69h1v1h-1zM48 69h1v1h-1zM22 74h1v1h-1zM95 78h1v1h-1zM18 79h1v1h-1zM36 79h1v1h-1zM81 79h1v1h-1zM93 81h1v1h-1zM80 86h1v1h-1zM33 87h1v1h-1zM40 88h1v1h-1zM24 90h1v1h-1zM89 90h1v1h-1zM84 94h1v1h-1zM45 96h1v1h-1zM87 97h1v1h-1zM23 98h1v1h-1zM22 99h1v1h-1z"/>
<path fill="#0ca860" d="M26 45h1v1h-1zM45 58h1v1h-1zM72 62h1v1h-1zM29 64h1v1h-1zM37 79h1v1h-1zM16 85h1v1h-1zM81 86h1v1h-1zM39 89h1v1h-1zM18 102h1v1h-1zM97 113h1v1h-1z"/>
<path fill="#186ccc" d="M42 45h1v1h-1zM56 45h1v1h-1z"/>
<path fill="#3084a8" d="M70 45h1v1h-1zM28 82h1v1h-1z"/>
<path fill="#307890" d="M73 45h1v1h-1zM71 48h1v1h-1zM55 49h1v1h-1zM51 52h1v1h-1zM70 57h1v1h-1zM72 57h1v1h-1zM31 58h1v1h-1zM42 70h1v1h-1zM47 71h1v1h-1zM43 78h1v1h-1zM55 80h1v1h-1zM91 81h1v1h-1zM50 84h1v1h-1zM58 88h1v1h-1zM90 92h1v1h-1zM98 99h1v1h-1zM32 104h1v1h-1z"/>
<path fill="#3054cc" d="M42 46h1v1h-1z"/>
<path fill="#309c84" d="M68 46h1v1h-1zM47 58h1v1h-1zM11 108h1v1h-1zM90 119h1v1h-1z"/>
<path fill="#3c9090" d="M69 46h1v1h-1zM31 64h1v1h-1z"/>
<path fill="#549054" d="M17 47h1v1h-1zM37 86h1v1h-1zM70 104h1v1h-1zM83 110h1v1h-1zM15 112h1v1h-1zM22 116h1v1h-1zM60 121h1v1h-1z"/>
<path fill="#3c48b4" d="M28 47h1v1h-1z"/>
<path fill="#3054b4" d="M29 47h1v1h-1zM85 59h1v1h-1zM75 73h1v1h-1zM16 75h1v1h-1zM17 76h1v1h-1z"/>
<path fill="#007890" d="M58 47h2v1h-2zM38 76h1v1h-1zM93 85h1v1h-1z"/>
<path fill="#3c789c" d="M69 47h1v1h-1zM34 61h1v1h-1zM49 65h1v1h-1zM76 65h1v1h-1zM34 73h1v1h-1zM15 76h1v1h-1zM86 83h1v1h-1zM84 85h1v1h-1zM12 108h1v1h-1zM95 113h1v1h-1zM87 125h1v1h-1z"/>
<path fill="#3c6ca8" d="M70 47h1v1h-1zM53 78h1v1h-1zM9 109h1v1h-1z"/>
<path fill="#249078" d="M21 48h1v1h-1zM54 51h1v1h-1zM56 51h1v1h-1zM70 54h1v1h-1zM30 56h1v1h-1zM89 63h1v1h-1zM85 64h1v1h-1zM82 65h1v1h-1zM86 68h1v1h-1zM88 68h1v1h-1zM82 72h1v1h-1zM61 73h1v1h-1zM88 82h1v1h-1zM83 83h1v1h-1zM94 87h1v1h-1zM59 92h1v1h-1zM63 92h1v1h-1zM91 92h1v1h-1zM96 93h1v1h-1zM68 95h1v1h-1zM19 100h1v1h-1zM97 103h1v1h-1zM31 105h1v1h-1zM23 107h1v1h-1zM14 113h1v1h-1zM22 113h1v1h-1zM83 115h1v1h-1z"/>
<path fill="#3054c0" d="M28 48h1v1h-1zM46 48h1v1h-1zM46 49h1v1h-1zM50 51h1v1h-1zM34 63h1v1h-1zM52 79h1v1h-1zM79 81h1v1h-1zM15 89h1v1h-1zM98 98h1v1h-1zM96 101h1v1h-1z"/>
<path fill="#3048c0" d="M29 48h1v1h-1zM84 58h1v1h-1z"/>
<path fill="#30906c" d="M56 48h1v1h-1zM50 53h1v1h-1zM53 56h1v1h-1zM33 67h1v1h-1zM71 68h1v1h-1zM47 69h1v1h-1zM71 69h2v1h-2zM59 70h1v1h-1zM73 70h1v1h-1zM41 75h1v1h-1zM59 80h1v1h-1zM85 87h1v1h-1zM91 104h1v1h-1zM96 114h1v1h-1z"/>
<path fill="#249054" d="M57 48h1v1h-1z"/>
<path fill="#0c8478" d="M58 48h1v1h-1z"/>
<path fill="#0c7890" d="M59 48h1v1h-1zM75 51h1v1h-1zM42 55h1v1h-1zM87 55h1v1h-1zM91 87h1v1h-1z"/>
<path fill="#189c78" d="M83 48h1v1h-1zM77 52h1v1h-1zM70 59h1v1h-1zM72 63h1v1h-1zM30 64h1v1h-1zM29 67h1v1h-1zM58 71h1v1h-1zM20 75h1v1h-1zM24 75h1v1h-1zM68 75h1v1h-1zM50 76h1v1h-1zM39 77h1v1h-1zM62 80h1v1h-1zM88 80h1v1h-1zM37 83h1v1h-1zM49 85h1v1h-1zM65 85h1v1h-1zM89 85h1v1h-1zM28 89h1v1h-1zM23 90h1v1h-1zM26 90h1v1h-1zM18 93h1v1h-1zM95 99h1v1h-1zM9 103h1v1h-1zM88 111h1v1h-1zM88 112h1v1h-1zM88 120h1v1h-1zM91 122h1v1h-1z"/>
<path fill="#60786c" d="M19 49h1v1h-1zM13 78h1v1h-1zM39 100h1v1h-1zM60 120h1v1h-1z"/>
<path fill="#248484" d="M33 49h2v1h-2zM55 50h1v1h-1zM52 55h2v1h-2zM71 55h1v1h-1zM70 56h1v1h-1zM65 60h1v1h-1zM85 60h1v1h-1zM28 61h1v1h-1zM79 65h1v1h-1zM83 65h1v1h-1zM58 66h1v1h-1zM56 67h1v1h-1zM70 69h1v1h-1zM40 71h1v1h-1zM34 78h1v1h-1zM38 78h1v1h-1zM70 80h1v1h-1zM41 81h1v1h-1zM12 83h1v1h-1zM50 83h1v1h-1zM55 83h1v1h-1zM18 86h1v1h-1zM90 87h1v1h-1zM85 88h1v1h-1zM77 89h1v1h-1zM89 99h1v1h-1zM32 103h1v1h-1zM92 106h1v1h-1zM87 108h1v1h-1zM96 115h1v1h-1z"/>
<path fill="#30a848" d="M57 49h1v1h-1zM49 55h1v1h-1zM21 71h1v1h-1zM50 74h1v1h-1zM40 77h1v1h-1zM97 86h1v1h-1zM40 87h1v1h-1zM11 97h1v1h-1zM10 98h1v1h-1zM31 102h1v1h-1zM23 104h1v1h-1zM65 127h1v1h-1z"/>
<path fill="#18a860" d="M58 49h1v1h-1zM26 53h1v1h-1zM29 66h1v1h-1zM19 70h1v1h-1zM25 72h1v1h-1zM87 72h1v1h-1zM82 75h1v1h-1zM81 76h1v1h-1zM47 82h1v1h-1zM82 85h1v1h-1zM82 88h1v1h-1zM83 90h1v1h-1zM62 92h1v1h-1zM86 95h2v1h-2zM88 97h1v1h-1zM30 102h1v1h-1zM95 127h1v1h-1z"/>
<path fill="#3c906c" d="M72 49h1v1h-1zM23 63h1v1h-1zM58 67h1v1h-1zM65 82h1v1h-1zM48 83h1v1h-1zM16 86h1v1h-1zM42 90h1v1h-1zM28 91h1v1h-1zM27 93h1v1h-1zM90 93h1v1h-1zM27 98h1v1h-1zM46 101h1v1h-1zM75 111h1v1h-1zM21 119h1v1h-1zM87 126h1v1h-1z"/>
<path fill="#30a854" d="M82 49h1v1h-1zM35 54h1v1h-1zM85 63h1v1h-1zM60 65h1v1h-1zM88 69h1v1h-1zM76 89h1v1h-1zM28 90h1v1h-1zM37 91h1v1h-1zM21 95h1v1h-1zM11 98h1v1h-1zM61 133h1v1h-1zM88 135h1v1h-1z"/>
<path fill="#18b43c" d="M83 49h1v1h-1zM93 75h1v1h-1zM25 76h1v1h-1zM48 78h1v1h-1zM41 85h1v1h-1zM31 93h1v1h-1zM30 100h1v1h-1zM66 116h1v1h-1zM90 127h1v1h-1z"/>
<path fill="#18a86c" d="M84 49h1v1h-1zM36 53h1v1h-1zM48 59h1v1h-1zM35 66h1v1h-1zM18 67h1v1h-1zM61 77h2v1h-2zM73 83h1v1h-1zM82 84h1v1h-1zM40 90h1v1h-1zM77 91h1v1h-1zM98 101h1v1h-1zM21 104h1v1h-1zM20 118h1v1h-1z"/>
<path fill="#3ca830" d="M20 50h1v1h-1zM65 79h1v1h-1zM28 107h1v1h-1zM18 113h1v1h-1zM53 116h1v1h-1zM72 124h1v1h-1z"/>
<path fill="#308478" d="M44 50h1v1h-1zM44 51h1v1h-1zM27 55h1v1h-1zM70 55h1v1h-1zM84 60h1v1h-1zM42 69h1v1h-1zM13 81h1v1h-1zM56 81h1v1h-1zM82 82h1v1h-1zM49 83h1v1h-1zM93 87h1v1h-1zM96 96h1v1h-1zM85 100h2v1h-2zM100 106h1v1h-1zM23 116h1v1h-1zM100 124h1v1h-1zM99 125h1v1h-1z"/>
<path fill="#2448cc" d="M50 50h1v1h-1zM19 89h1v1h-1z"/>
<path fill="#1854b4" d="M51 50h1v1h-1z"/>
<path fill="#3c8484" d="M56 50h1v1h-1zM72 50h1v1h-1zM22 61h1v1h-1zM23 64h1v1h-1zM61 72h1v1h-1zM72 72h1v1h-1zM49 77h1v1h-1zM58 79h1v1h-1zM24 81h1v1h-1zM64 81h1v1h-1zM66 87h1v1h-1zM73 87h1v1h-1zM58 89h1v1h-1zM21 96h1v1h-1zM46 102h1v1h-1zM18 106h1v1h-1zM98 108h1v1h-1zM83 109h1v1h-1zM98 109h1v1h-1zM86 110h1v1h-1zM15 119h1v1h-1zM89 120h1v1h-1zM90 138h1v1h-1z"/>
<path fill="#00b46c" d="M58 50h1v1h-1zM91 65h1v1h-1zM32 69h1v1h-1zM56 72h1v1h-1zM64 74h1v1h-1zM91 76h1v1h-1zM68 91h1v1h-1zM73 102h1v1h-1zM93 108h1v1h-1zM85 115h1v1h-1z"/>
<path fill="#249c78" d="M73 50h1v1h-1zM32 53h1v1h-1zM69 53h1v1h-1zM77 53h1v1h-1zM34 55h1v1h-1zM75 55h1v1h-1zM91 63h1v1h-1zM71 67h1v1h-1zM81 70h1v1h-1zM55 71h1v1h-1zM38 73h1v1h-1zM30 75h1v1h-1zM32 78h1v1h-1zM32 80h1v1h-1zM49 89h1v1h-1zM10 90h1v1h-1zM77 90h1v1h-1zM83 98h1v1h-1zM26 100h1v1h-1zM94 111h1v1h-1zM17 119h1v1h-1z"/>
<path fill="#3c9c60" d="M82 50h1v1h-1zM59 67h2v1h-2zM40 76h1v1h-1zM46 78h1v1h-1zM41 82h1v1h-1zM84 82h1v1h-1zM74 88h1v1h-1zM99 96h1v1h-1zM75 109h1v1h-1zM12 117h2v1h-2z"/>
<path fill="#0cb454" d="M84 50h1v1h-1zM36 56h1v1h-1zM82 76h1v1h-1zM67 90h1v1h-1zM15 101h1v1h-1zM93 110h1v1h-1z"/>
<path fill="#48a818" d="M20 51h1v1h-1zM23 62h1v1h-1zM58 102h1v1h-1zM73 106h1v1h-1zM18 107h1v1h-1zM54 121h1v1h-1zM92 127h1v1h-1zM90 130h1v1h-1z"/>
<path fill="#24609c" d="M30 51h1v1h-1zM88 55h1v1h-1z"/>
<path fill="#309084" d="M43 51h1v1h-1zM28 56h1v1h-1zM60 57h1v1h-1zM24 60h1v1h-1zM49 64h1v1h-1zM57 70h1v1h-1zM73 77h1v1h-1zM49 78h1v1h-1zM38 79h1v1h-1zM87 80h1v1h-1zM26 81h1v1h-1zM84 83h1v1h-1zM35 89h1v1h-1zM44 90h1v1h-1zM83 100h1v1h-1zM20 102h1v1h-1zM19 106h1v1h-1zM95 112h1v1h-1zM96 113h1v1h-1zM23 117h1v1h-1zM93 117h1v1h-1zM82 137h1v1h-1z"/>
<path fill="#246c9c" d="M46 51h1v1h-1zM29 52h1v1h-1zM85 57h1v1h-1zM43 58h1v1h-1zM63 58h1v1h-1zM73 59h1v1h-1zM56 68h1v1h-1zM13 80h1v1h-1zM56 80h1v1h-1zM81 81h1v1h-1zM60 83h1v1h-1zM97 97h1v1h-1zM33 103h1v1h-1z"/>
<path fill="#2448c0" d="M48 51h1v1h-1zM51 67h1v1h-1z"/>
<path fill="#303ccc" d="M49 51h1v1h-1zM95 101h1v1h-1zM92 114h1v1h-1z"/>
<path fill="#2454b4" d="M51 51h1v1h-1zM61 51h1v1h-1z"/>
<path fill="#249c90" d="M72 51h1v1h-1zM21 103h1v1h-1z"/>
<path fill="#0c9078" d="M77 51h1v1h-1zM27 53h1v1h-1zM36 60h1v1h-1zM72 60h1v1h-1zM39 65h1v1h-1zM23 68h1v1h-1zM37 69h1v1h-1zM53 69h1v1h-1zM54 77h1v1h-1zM83 81h2v1h-2zM51 82h1v1h-1zM22 85h1v1h-1zM24 85h1v1h-1zM14 94h1v1h-1zM97 107h1v1h-1z"/>
<path fill="#309c60" d="M83 51h1v1h-1zM43 52h1v1h-1zM50 54h1v1h-1zM49 56h1v1h-1zM28 65h1v1h-1zM34 67h1v1h-1zM58 70h1v1h-1zM87 71h1v1h-1zM79 73h1v1h-1zM49 74h1v1h-1zM91 74h1v1h-1zM30 76h1v1h-1zM42 77h1v1h-1zM48 81h1v1h-1zM35 103h1v1h-1zM82 110h1v1h-1zM28 112h1v1h-1zM21 113h1v1h-1zM12 116h1v1h-1zM85 118h1v1h-1zM19 119h2v1h-2z"/>
<path fill="#24b448" d="M87 51h1v1h-1zM35 55h1v1h-1zM91 103h1v1h-1z"/>
<path fill="#489c54" d="M89 51h1v1h-1zM20 53h1v1h-1zM62 91h1v1h-1zM62 145h1v1h-1z"/>
<path fill="#489c30" d="M20 52h1v1h-1zM54 97h1v1h-1zM8 101h1v1h-1zM65 103h1v1h-1zM81 114h1v1h-1zM35 131h1v1h-1z"/>
<path fill="#18a878" d="M25 52h1v1h-1zM62 78h1v1h-1zM62 79h1v1h-1zM92 111h1v1h-1zM86 115h1v1h-1z"/>
<path fill="#308490" d="M31 52h1v1h-1zM60 58h1v1h-1zM70 58h1v1h-1zM61 59h1v1h-1zM90 63h1v1h-1zM21 64h1v1h-1zM76 66h1v1h-1zM82 66h1v1h-1zM62 72h1v1h-1zM51 73h1v1h-1zM79 74h1v1h-1zM39 82h1v1h-1zM11 83h1v1h-1zM34 84h1v1h-1zM32 89h1v1h-1zM43 90h1v1h-1zM47 100h1v1h-1zM86 101h1v1h-1zM26 104h1v1h-1zM13 107h1v1h-1zM95 114h1v1h-1zM99 114h1v1h-1zM21 117h1v1h-1z"/>
<path fill="#309090" d="M35 52h1v1h-1zM54 57h1v1h-1zM22 60h1v1h-1zM56 62h1v1h-1zM32 64h1v1h-1zM80 66h2v1h-2zM48 74h1v1h-1zM78 75h1v1h-1zM69 76h1v1h-1zM24 82h1v1h-1zM83 84h1v1h-1zM94 89h1v1h-1zM94 112h1v1h-1z"/>
<path fill="#00b460" d="M25 53h1v1h-1zM37 55h1v1h-1zM61 63h1v1h-1zM61 64h1v1h-1zM24 70h1v1h-1zM53 71h1v1h-1zM59 73h1v1h-1zM51 75h1v1h-1zM90 75h1v1h-1zM24 77h1v1h-1zM75 79h1v1h-1zM47 80h1v1h-1zM95 83h1v1h-1zM48 88h1v1h-1zM11 91h1v1h-1zM20 94h2v1h-2zM10 99h1v1h-1zM31 101h1v1h-1zM22 109h1v1h-1zM93 109h1v1h-1zM12 115h1v1h-1zM92 119h1v1h-1zM84 127h1v1h-1zM97 128h1v1h-1z"/>
<path fill="#246c90" d="M29 53h1v1h-1z"/>
<path fill="#306c9c" d="M30 53h1v1h-1zM61 58h1v1h-1zM71 72h1v1h-1zM89 80h1v1h-1zM34 82h1v1h-1zM61 86h1v1h-1zM76 87h1v1h-1z"/>
<path fill="#308484" d="M34 53h1v1h-1zM51 55h1v1h-1zM52 56h1v1h-1zM31 57h1v1h-1zM77 57h1v1h-1zM47 68h1v1h-1zM71 71h1v1h-1zM80 74h2v1h-2zM70 82h1v1h-1zM49 84h1v1h-1zM18 87h1v1h-1zM22 96h1v1h-1zM20 98h1v1h-1zM88 99h1v1h-1zM99 100h1v1h-1zM99 102h1v1h-1zM99 103h1v1h-1zM98 107h1v1h-1zM16 119h1v1h-1z"/>
<path fill="#309c6c" d="M35 53h1v1h-1zM61 66h1v1h-1zM20 71h1v1h-1zM60 72h1v1h-1zM40 78h1v1h-1zM50 85h1v1h-1zM83 85h1v1h-1zM61 89h1v1h-1zM60 90h1v1h-1zM82 91h1v1h-1zM19 102h1v1h-1zM18 103h1v1h-1zM77 106h1v1h-1zM38 112h1v1h-1zM54 115h1v1h-1z"/>
<path fill="#0ca854" d="M26 54h1v1h-1zM84 63h1v1h-1zM36 67h1v1h-1zM78 69h1v1h-1zM39 90h1v1h-1zM13 98h1v1h-1zM95 98h1v1h-1zM14 102h1v1h-1zM93 102h1v1h-1zM98 127h1v1h-1z"/>
<path fill="#0c9c90" d="M31 54h1v1h-1zM42 64h1v1h-1zM25 73h1v1h-1zM13 91h1v1h-1z"/>
<path fill="#0ca878" d="M32 54h1v1h-1zM29 74h1v1h-1zM25 75h1v1h-1zM30 81h1v1h-1zM24 83h1v1h-1zM92 95h1v1h-1z"/>
<path fill="#00c048" d="M36 54h1v1h-1zM61 80h1v1h-1z"/>
<path fill="#24906c" d="M43 54h1v1h-1zM78 58h1v1h-1zM24 61h1v1h-1zM76 67h1v1h-1zM47 72h1v1h-1zM86 72h1v1h-1zM94 75h1v1h-1zM72 78h1v1h-1zM55 82h1v1h-1zM59 82h1v1h-1zM83 82h1v1h-1zM13 83h1v1h-1zM39 88h1v1h-1zM45 92h1v1h-1zM95 94h1v1h-1zM21 98h1v1h-1zM28 108h1v1h-1zM26 114h2v1h-2z"/>
<path fill="#0c9c9c" d="M47 54h1v1h-1zM93 112h1v1h-1z"/>
<path fill="#189c60" d="M76 54h1v1h-1zM30 57h1v1h-1zM27 61h1v1h-1zM27 62h1v1h-1zM74 69h1v1h-1zM73 71h1v1h-1zM33 77h1v1h-1zM86 87h1v1h-1zM89 87h1v1h-1zM45 88h1v1h-1zM35 91h1v1h-1zM81 91h1v1h-1zM27 104h1v1h-1zM23 106h1v1h-1zM82 115h1v1h-1zM86 117h1v1h-1zM98 126h1v1h-1z"/>
<path fill="#486c78" d="M88 54h1v1h-1z"/>
<path fill="#18c030" d="M36 55h1v1h-1zM31 94h1v1h-1zM14 100h1v1h-1zM71 107h1v1h-1zM26 117h1v1h-1z"/>
<path fill="#309c78" d="M47 55h1v1h-1zM21 58h1v1h-1zM81 75h1v1h-1zM26 82h2v1h-2zM59 88h1v1h-1zM82 100h1v1h-1z"/>
<path fill="#30b448" d="M48 55h1v1h-1z"/>
<path fill="#24909c" d="M64 55h1v1h-1zM70 62h1v1h-1zM35 73h1v1h-1zM80 75h1v1h-1zM25 82h1v1h-1z"/>
<path fill="#0cb460" d="M76 55h1v1h-1zM37 56h1v1h-1zM20 70h1v1h-1zM31 80h1v1h-1zM36 81h1v1h-1zM46 81h1v1h-1zM36 82h1v1h-1zM90 103h1v1h-1zM85 116h1v1h-1z"/>
<path fill="#3c8478" d="M46 56h1v1h-1zM22 64h1v1h-1zM72 80h1v1h-1zM40 82h1v1h-1zM91 82h1v1h-1zM65 83h1v1h-1zM64 85h1v1h-1zM17 86h1v1h-1zM98 91h1v1h-1zM65 95h1v1h-1zM35 98h1v1h-1z"/>
<path fill="#489c60" d="M47 56h1v1h-1z"/>
<path fill="#48a830" d="M48 56h1v1h-1zM66 79h1v1h-1zM53 87h1v1h-1zM75 89h1v1h-1zM59 93h1v1h-1zM74 95h1v1h-1zM81 107h1v1h-1zM70 115h1v1h-1zM54 117h1v1h-1zM91 126h1v1h-1zM88 134h1v1h-1zM62 144h1v1h-1z"/>
<path fill="#186c9c" d="M43 57h1v1h-1zM50 57h1v1h-1zM84 66h1v1h-1zM17 74h1v1h-1z"/>
<path fill="#489060" d="M46 57h1v1h-1zM100 126h1v1h-1z"/>
<path fill="#48906c" d="M47 57h1v1h-1zM80 89h1v1h-1zM97 95h1v1h-1zM38 100h1v1h-1zM81 100h1v1h-1zM69 101h1v1h-1zM22 117h1v1h-1z"/>
<path fill="#489078" d="M48 57h1v1h-1zM22 62h1v1h-1zM46 77h1v1h-1zM38 87h1v1h-1zM74 89h1v1h-1z"/>
<path fill="#3c8490" d="M49 57h1v1h-1zM81 57h1v1h-1zM49 58h1v1h-1zM23 60h1v1h-1zM47 66h1v1h-1zM31 75h1v1h-1zM85 83h1v1h-1zM89 86h1v1h-1zM74 87h2v1h-2zM29 90h1v1h-1zM45 90h1v1h-1zM29 91h1v1h-1zM17 93h1v1h-1zM11 107h2v1h-2z"/>
<path fill="#3c6c90" d="M71 57h1v1h-1zM55 79h1v1h-1z"/>
<path fill="#18a848" d="M78 57h1v1h-1zM64 69h1v1h-1zM77 69h1v1h-1zM53 70h1v1h-1zM29 78h1v1h-1zM37 78h1v1h-1zM67 80h1v1h-1zM15 84h1v1h-1zM70 84h1v1h-1zM12 86h1v1h-1zM56 90h1v1h-1zM91 93h1v1h-1zM34 100h1v1h-1zM92 110h1v1h-1zM23 113h1v1h-1zM67 122h1v1h-1z"/>
<path fill="#0ca848" d="M79 57h1v1h-1zM32 67h1v1h-1zM34 77h1v1h-1zM92 104h1v1h-1z"/>
<path fill="#249c84" d="M46 58h1v1h-1zM76 60h1v1h-1zM24 74h1v1h-1zM38 82h1v1h-1zM28 86h1v1h-1zM10 92h1v1h-1zM20 117h1v1h-1z"/>
<path fill="#3c9c78" d="M48 58h1v1h-1zM24 73h1v1h-1zM50 73h1v1h-1z"/>
<path fill="#3c54a8" d="M62 58h1v1h-1zM54 79h1v1h-1z"/>
<path fill="#546090" d="M71 58h1v1h-1z"/>
<path fill="#486c84" d="M72 58h1v1h-1zM99 107h1v1h-1z"/>
<path fill="#3c7890" d="M73 58h1v1h-1zM41 70h1v1h-1zM60 70h1v1h-1zM70 70h1v1h-1zM33 80h1v1h-1zM54 81h1v1h-1zM16 87h1v1h-1zM63 91h1v1h-1zM97 96h1v1h-1zM100 101h1v1h-1zM87 102h1v1h-1zM32 105h1v1h-1zM23 118h1v1h-1z"/>
<path fill="#3c60a8" d="M81 58h1v1h-1zM84 59h1v1h-1zM34 62h1v1h-1zM85 72h1v1h-1z"/>
<path fill="#24a878" d="M21 59h1v1h-1zM93 111h1v1h-1z"/>
<path fill="#3c84a8" d="M22 59h1v1h-1z"/>
<path fill="#3060c0" d="M23 59h1v1h-1zM35 61h1v1h-1zM63 66h1v1h-1zM85 84h1v1h-1zM77 86h1v1h-1zM93 89h1v1h-1zM19 105h1v1h-1z"/>
<path fill="#0c909c" d="M50 59h1v1h-1zM67 59h1v1h-1zM25 60h1v1h-1zM49 62h1v1h-1zM54 63h1v1h-1zM21 68h1v1h-1zM90 73h1v1h-1zM25 74h1v1h-1zM51 77h1v1h-1zM41 80h1v1h-1zM30 82h1v1h-1zM44 82h1v1h-1zM26 83h1v1h-1zM88 84h1v1h-1zM84 96h1v1h-1zM23 102h1v1h-1zM14 108h1v1h-1zM92 108h1v1h-1z"/>
<path fill="#488478" d="M71 59h1v1h-1zM44 77h1v1h-1zM34 85h1v1h-1zM17 87h1v1h-1zM86 109h1v1h-1z"/>
<path fill="#3c6c84" d="M72 59h1v1h-1z"/>
<path fill="#2448b4" d="M81 59h1v1h-1z"/>
<path fill="#00a884" d="M87 59h1v1h-1zM73 63h1v1h-1zM20 68h1v1h-1zM32 70h1v1h-1zM64 75h2v1h-2zM61 76h1v1h-1zM57 86h1v1h-1zM95 89h1v1h-1zM32 101h1v1h-1zM85 125h1v1h-1z"/>
<path fill="#00906c" d="M19 61h1v1h-1zM28 88h1v1h-1zM98 125h1v1h-1z"/>
<path fill="#489048" d="M23 61h1v1h-1zM67 96h1v1h-1zM74 96h1v1h-1zM72 122h1v1h-1zM34 128h1v1h-1z"/>
<path fill="#24a86c" d="M83 61h1v1h-1zM51 74h1v1h-1zM31 81h1v1h-1zM51 85h1v1h-1z"/>
<path fill="#309c54" d="M84 61h1v1h-1zM90 64h1v1h-1zM31 78h1v1h-1zM64 83h1v1h-1zM63 84h1v1h-1zM60 88h1v1h-1zM35 99h1v1h-1zM90 100h1v1h-1zM17 107h1v1h-1zM77 107h1v1h-1zM16 108h1v1h-1zM27 121h1v1h-1z"/>
<path fill="#0cb448" d="M87 61h1v1h-1zM52 71h1v1h-1zM25 77h1v1h-1z"/>
<path fill="#54903c" d="M90 61h1v1h-1zM67 112h1v1h-1z"/>
<path fill="#549c30" d="M91 61h1v1h-1zM62 90h1v1h-1zM47 92h1v1h-1zM66 96h1v1h-1zM66 97h1v1h-1zM66 101h1v1h-1zM75 110h1v1h-1zM66 112h1v1h-1zM53 115h1v1h-1zM86 119h1v1h-1zM23 125h1v1h-1zM86 134h1v1h-1z"/>
<path fill="#3c8460" d="M28 62h1v1h-1zM63 90h1v1h-1zM47 91h1v1h-1z"/>
<path fill="#246ccc" d="M52 62h2v1h-2zM76 83h1v1h-1z"/>
<path fill="#18a854" d="M84 62h1v1h-1zM35 67h1v1h-1zM50 75h1v1h-1zM31 79h1v1h-1zM68 80h1v1h-1zM70 92h1v1h-1zM30 101h1v1h-1zM31 103h1v1h-1zM31 104h1v1h-1zM82 106h1v1h-1zM86 116h1v1h-1zM83 117h1v1h-1zM76 122h1v1h-1zM88 123h1v1h-1zM88 127h1v1h-1z"/>
<path fill="#249c60" d="M85 62h1v1h-1zM27 64h1v1h-1zM34 66h1v1h-1zM59 66h1v1h-1zM64 68h1v1h-1zM77 68h1v1h-1zM39 73h1v1h-1zM49 75h1v1h-1zM77 76h1v1h-1zM72 79h1v1h-1zM70 83h1v1h-1zM82 83h1v1h-1zM15 86h1v1h-1zM84 87h1v1h-1zM47 89h1v1h-1zM39 91h1v1h-1zM18 92h1v1h-1zM82 92h1v1h-1zM69 94h1v1h-1zM12 97h1v1h-1zM89 100h1v1h-1zM86 108h1v1h-1zM89 110h1v1h-1zM20 113h1v1h-1zM81 115h1v1h-1z"/>
<path fill="#608454" d="M91 62h1v1h-1zM54 108h1v1h-1zM30 116h1v1h-1z"/>
<path fill="#3c9084" d="M22 63h1v1h-1zM60 71h1v1h-1zM66 82h1v1h-1zM65 84h1v1h-1zM59 89h1v1h-1zM86 126h1v1h-1zM92 130h1v1h-1z"/>
<path fill="#0c9060" d="M27 63h1v1h-1zM22 98h1v1h-1zM10 115h1v1h-1z"/>
<path fill="#249c3c" d="M28 63h1v1h-1zM16 65h1v1h-1zM25 93h1v1h-1z"/>
<path fill="#18a830" d="M16 64h1v1h-1zM98 121h1v1h-1z"/>
<path fill="#24a83c" d="M28 64h1v1h-1zM91 83h1v1h-1zM86 93h1v1h-1z"/>
<path fill="#487890" d="M47 64h1v1h-1zM65 94h1v1h-1zM72 114h1v1h-1z"/>
<path fill="#488484" d="M48 64h1v1h-1zM85 82h1v1h-1zM85 101h1v1h-1z"/>
<path fill="#000000" d="M63 64h1v1h-1zM68 70h1v1h-1zM42 71h1v1h-1z"/>
<path fill="#487884" d="M47 65h1v1h-1zM96 95h1v1h-1z"/>
<path fill="#486c9c" d="M48 65h1v1h-1zM16 76h1v1h-1zM54 80h1v1h-1zM87 109h1v1h-1z"/>
<path fill="#24a860" d="M90 65h1v1h-1zM19 67h1v1h-1zM18 70h1v1h-1zM80 70h1v1h-1zM23 74h1v1h-1zM38 81h1v1h-1zM67 81h1v1h-1zM90 85h1v1h-1zM90 89h1v1h-1zM42 91h1v1h-1zM10 96h1v1h-1zM73 107h1v1h-1zM87 123h1v1h-1z"/>
<path fill="#00b430" d="M31 66h1v1h-1zM79 78h1v1h-1zM84 78h1v1h-1zM28 79h1v1h-1zM21 84h1v1h-1zM13 85h1v1h-1zM17 91h1v1h-1zM99 94h1v1h-1zM93 99h2v1h-2zM92 101h1v1h-1zM16 102h1v1h-1zM91 102h1v1h-1zM16 107h1v1h-1zM19 111h1v1h-1zM23 111h1v1h-1zM11 115h1v1h-1zM19 116h1v1h-1zM94 119h1v1h-1z"/>
<path fill="#00a83c" d="M32 66h1v1h-1zM79 77h1v1h-1zM29 79h1v1h-1zM18 80h1v1h-1zM17 90h1v1h-1zM24 93h1v1h-1zM93 98h1v1h-1zM95 107h1v1h-1z"/>
<path fill="#54a824" d="M60 66h1v1h-1zM53 86h1v1h-1zM66 111h1v1h-1z"/>
<path fill="#307884" d="M83 66h1v1h-1zM44 79h1v1h-1zM21 97h1v1h-1zM81 105h1v1h-1zM100 107h1v1h-1z"/>
<path fill="#3c846c" d="M57 67h1v1h-1zM26 91h1v1h-1zM27 92h1v1h-1z"/>
<path fill="#249060" d="M89 68h1v1h-1zM82 98h1v1h-1zM97 108h1v1h-1z"/>
<path fill="#189c90" d="M17 69h1v1h-1zM28 103h1v1h-1z"/>
<path fill="#18b460" d="M18 69h1v1h-1z"/>
<path fill="#00c024" d="M31 69h1v1h-1zM80 84h1v1h-1zM23 91h1v1h-1zM15 98h1v1h-1zM85 107h1v1h-1z"/>
<path fill="#00a848" d="M50 69h1v1h-1zM85 78h1v1h-1zM93 82h1v1h-1zM19 83h2v1h-2zM92 83h1v1h-1zM13 84h1v1h-1zM70 85h1v1h-1zM13 86h1v1h-1zM13 87h1v1h-1zM82 87h1v1h-1zM99 93h1v1h-1zM23 99h1v1h-1zM92 100h1v1h-1zM15 102h1v1h-1zM14 105h1v1h-1zM17 110h1v1h-1zM99 117h1v1h-1zM40 121h1v1h-1zM99 128h1v1h-1z"/>
<path fill="#3c9c54" d="M58 69h1v1h-1zM31 76h1v1h-1zM65 81h1v1h-1zM98 90h1v1h-1zM32 95h1v1h-1zM10 97h1v1h-1zM78 107h1v1h-1zM60 134h1v1h-1zM92 138h1v1h-1z"/>
<path fill="#3078b4" d="M67 69h1v1h-1zM58 78h1v1h-1z"/>
<path fill="#30b424" d="M86 69h1v1h-1zM83 86h1v1h-1zM89 88h1v1h-1zM86 105h1v1h-1z"/>
<path fill="#3ca83c" d="M87 69h1v1h-1zM21 72h1v1h-1zM79 96h1v1h-1zM19 113h1v1h-1zM69 115h1v1h-1zM61 134h1v1h-1z"/>
<path fill="#0cb46c" d="M21 70h1v1h-1z"/>
<path fill="#00c00c" d="M31 70h1v1h-1zM94 82h1v1h-1zM20 84h1v1h-1zM15 99h1v1h-1zM9 100h1v1h-1zM89 101h1v1h-1zM90 102h1v1h-1zM15 106h1v1h-1zM94 107h1v1h-1zM24 112h1v1h-1z"/>
<path fill="#24a830" d="M51 70h1v1h-1zM86 70h1v1h-1zM71 83h1v1h-1zM85 108h1v1h-1zM97 114h1v1h-1z"/>
<path fill="#18a83c" d="M52 70h1v1h-1zM88 87h1v1h-1zM55 90h1v1h-1zM56 91h1v1h-1zM85 94h1v1h-1zM94 98h1v1h-1zM44 99h1v1h-1zM92 102h1v1h-1z"/>
<path fill="#3c78a8" d="M61 70h1v1h-1zM17 94h1v1h-1zM20 104h1v1h-1z"/>
<path fill="#3c9054" d="M71 70h1v1h-1zM17 112h1v1h-1zM86 118h1v1h-1zM87 119h1v1h-1z"/>
<path fill="#54a830" d="M87 70h1v1h-1zM64 127h1v1h-1zM62 139h1v1h-1z"/>
<path fill="#30a860" d="M88 70h1v1h-1zM41 78h1v1h-1zM66 81h1v1h-1zM81 88h1v1h-1zM56 89h1v1h-1zM61 91h1v1h-1zM87 104h1v1h-1z"/>
<path fill="#00c030" d="M92 70h1v1h-1zM28 80h1v1h-1zM37 81h1v1h-1zM52 88h1v1h-1zM85 92h1v1h-1zM15 100h1v1h-1zM85 106h1v1h-1zM89 122h1v1h-1z"/>
<path fill="#3cb400" d="M93 70h1v1h-1zM66 80h1v1h-1zM82 86h1v1h-1zM35 96h1v1h-1zM30 104h1v1h-1zM34 113h1v1h-1zM34 131h1v1h-1zM89 131h1v1h-1z"/>
<path fill="#24b43c" d="M24 71h2v1h-2zM92 75h1v1h-1zM67 76h1v1h-1z"/>
<path fill="#0c9c54" d="M50 71h1v1h-1zM36 77h1v1h-1zM22 84h1v1h-1z"/>
<path fill="#309c30" d="M51 71h1v1h-1zM71 79h1v1h-1z"/>
<path fill="#488490" d="M61 71h1v1h-1zM80 109h1v1h-1z"/>
<path fill="#30b43c" d="M81 71h1v1h-1zM82 90h1v1h-1z"/>
<path fill="#483cb4" d="M83 71h1v1h-1z"/>
<path fill="#543cb4" d="M84 71h1v1h-1z"/>
<path fill="#48609c" d="M85 71h1v1h-1zM12 81h1v1h-1z"/>
<path fill="#309060" d="M86 71h1v1h-1zM92 82h1v1h-1zM64 84h1v1h-1zM34 96h1v1h-1zM87 98h1v1h-1zM40 99h1v1h-1zM81 99h1v1h-1zM75 106h1v1h-1zM77 108h1v1h-1zM99 126h1v1h-1z"/>
<path fill="#489c24" d="M22 72h1v1h-1zM66 98h1v1h-1zM28 105h1v1h-1z"/>
<path fill="#30a824" d="M23 72h1v1h-1zM92 74h1v1h-1zM54 120h1v1h-1z"/>
<path fill="#3cb40c" d="M24 72h1v1h-1zM88 88h1v1h-1zM71 92h1v1h-1zM45 106h1v1h-1zM93 138h1v1h-1z"/>
<path fill="#3c54b4" d="M70 72h1v1h-1zM71 73h1v1h-1zM53 79h1v1h-1zM89 79h1v1h-1z"/>
<path fill="#3ca818" d="M80 72h1v1h-1z"/>
<path fill="#30b418" d="M81 72h1v1h-1zM62 97h1v1h-1zM75 98h1v1h-1zM23 105h1v1h-1zM87 105h1v1h-1zM24 113h1v1h-1zM26 116h2v1h-2zM27 117h1v1h-1z"/>
<path fill="#3c609c" d="M83 72h1v1h-1zM57 79h1v1h-1zM33 104h1v1h-1z"/>
<path fill="#4830c0" d="M84 72h1v1h-1z"/>
<path fill="#48a824" d="M23 73h1v1h-1zM65 104h1v1h-1zM47 108h1v1h-1zM68 108h1v1h-1zM15 120h1v1h-1zM86 120h1v1h-1zM93 129h1v1h-1z"/>
<path fill="#30909c" d="M49 73h1v1h-1zM81 109h1v1h-1z"/>
<path fill="#3c9060" d="M80 73h1v1h-1zM40 75h1v1h-1zM68 81h1v1h-1zM96 82h1v1h-1zM97 85h1v1h-1zM66 91h1v1h-1zM28 93h1v1h-1zM67 97h1v1h-1zM81 106h1v1h-1zM28 113h1v1h-1zM72 123h1v1h-1z"/>
<path fill="#3054a8" d="M16 74h1v1h-1z"/>
<path fill="#00b40c" d="M84 75h1v1h-1zM91 101h1v1h-1z"/>
<path fill="#00c03c" d="M91 75h1v1h-1zM48 79h1v1h-1zM91 94h1v1h-1zM19 112h1v1h-1z"/>
<path fill="#3ca854" d="M41 76h1v1h-1zM61 90h1v1h-1zM12 99h1v1h-1z"/>
<path fill="#3c9c6c" d="M68 76h1v1h-1zM96 83h1v1h-1zM90 86h1v1h-1zM46 96h1v1h-1zM77 122h1v1h-1z"/>
<path fill="#00c018" d="M83 76h1v1h-1zM94 83h1v1h-1zM14 85h1v1h-1zM84 92h1v1h-1zM84 107h1v1h-1zM66 117h1v1h-1zM84 117h1v1h-1zM93 119h1v1h-1zM98 128h1v1h-1z"/>
<path fill="#00b418" d="M84 76h1v1h-1zM93 83h1v1h-1zM44 87h1v1h-1zM95 108h1v1h-1zM23 110h1v1h-1z"/>
<path fill="#3c9c18" d="M30 77h1v1h-1z"/>
<path fill="#3c9c3c" d="M31 77h1v1h-1zM39 92h1v1h-1zM18 108h1v1h-1zM60 133h1v1h-1zM53 134h1v1h-1zM87 136h1v1h-1z"/>
<path fill="#0ca884" d="M60 77h1v1h-1zM91 120h1v1h-1z"/>
<path fill="#0ca83c" d="M36 78h1v1h-1z"/>
<path fill="#3c7884" d="M44 78h1v1h-1zM13 82h1v1h-1zM18 96h1v1h-1z"/>
<path fill="#30c000" d="M47 78h1v1h-1zM51 89h1v1h-1zM96 110h1v1h-1z"/>
<path fill="#30846c" d="M67 78h1v1h-1zM71 80h1v1h-1zM56 83h1v1h-1zM28 92h1v1h-1zM26 93h1v1h-1zM87 99h1v1h-1zM97 115h1v1h-1z"/>
<path fill="#00b424" d="M80 78h1v1h-1zM75 81h1v1h-1zM50 87h1v1h-1zM15 105h1v1h-1zM94 106h1v1h-1zM15 107h1v1h-1zM18 111h1v1h-1zM20 111h1v1h-1z"/>
<path fill="#24b40c" d="M30 79h1v1h-1zM70 116h1v1h-1zM26 118h1v1h-1zM87 121h1v1h-1z"/>
<path fill="#189c48" d="M67 79h1v1h-1zM96 108h1v1h-1z"/>
<path fill="#009060" d="M68 79h1v1h-1z"/>
<path fill="#4824c0" d="M90 79h1v1h-1zM99 98h1v1h-1z"/>
<path fill="#3c24cc" d="M91 79h1v1h-1z"/>
<path fill="#48b424" d="M65 80h1v1h-1z"/>
<path fill="#303cb4" d="M90 80h1v1h-1z"/>
<path fill="#3048b4" d="M91 80h1v1h-1z"/>
<path fill="#30609c" d="M90 81h1v1h-1z"/>
<path fill="#30a830" d="M14 82h1v1h-1zM88 89h1v1h-1zM25 99h1v1h-1zM55 121h1v1h-1z"/>
<path fill="#3c7878" d="M56 82h1v1h-1zM32 96h1v1h-1z"/>
<path fill="#48789c" d="M39 83h1v1h-1zM22 118h1v1h-1z"/>
<path fill="#48846c" d="M40 83h1v1h-1zM100 102h1v1h-1z"/>
<path fill="#306c90" d="M59 83h1v1h-1z"/>
<path fill="#189060" d="M56 84h1v1h-1zM70 88h1v1h-1zM46 91h1v1h-1zM25 94h1v1h-1z"/>
<path fill="#3048d8" d="M75 84h1v1h-1zM75 85h1v1h-1z"/>
<path fill="#3c48d8" d="M76 84h1v1h-1z"/>
<path fill="#54846c" d="M97 84h1v1h-1zM67 95h1v1h-1zM47 102h1v1h-1z"/>
<path fill="#3048cc" d="M76 85h1v1h-1zM20 92h1v1h-1z"/>
<path fill="#0cb43c" d="M91 85h1v1h-1zM85 93h1v1h-1zM25 112h1v1h-1z"/>
<path fill="#0cc024" d="M41 86h1v1h-1z"/>
<path fill="#00a824" d="M43 86h2v1h-2z"/>
<path fill="#188478" d="M45 86h1v1h-1z"/>
<path fill="#0cb424" d="M50 86h1v1h-1zM26 112h1v1h-1zM88 122h1v1h-1z"/>
<path fill="#306cc0" d="M74 86h1v1h-1z"/>
<path fill="#3c54cc" d="M75 86h1v1h-1z"/>
<path fill="#3c48cc" d="M76 86h1v1h-1z"/>
<path fill="#48b400" d="M11 87h1v1h-1zM55 122h1v1h-1z"/>
<path fill="#24b430" d="M41 87h1v1h-1zM98 89h1v1h-1zM99 95h1v1h-1z"/>
<path fill="#18c000" d="M52 87h1v1h-1zM83 93h1v1h-1zM57 97h1v1h-1zM86 106h1v1h-1zM90 110h1v1h-1zM78 113h1v1h-1zM100 119h1v1h-1zM98 120h1v1h-1z"/>
<path fill="#00a830" d="M83 87h1v1h-1zM80 98h1v1h-1zM95 106h1v1h-1z"/>
<path fill="#0c9c48" d="M87 87h1v1h-1zM29 92h1v1h-1z"/>
<path fill="#3c60c0" d="M16 88h1v1h-1z"/>
<path fill="#24c024" d="M51 88h1v1h-1z"/>
<path fill="#3c9c48" d="M75 88h1v1h-1zM28 104h1v1h-1zM84 109h1v1h-1z"/>
<path fill="#309054" d="M76 88h1v1h-1zM83 95h1v1h-1zM87 118h1v1h-1zM87 127h1v1h-1z"/>
<path fill="#48a848" d="M60 89h1v1h-1zM28 95h1v1h-1zM62 134h1v1h-1z"/>
<path fill="#18a884" d="M68 89h1v1h-1zM11 99h1v1h-1zM91 119h1v1h-1z"/>
<path fill="#3cb424" d="M82 89h1v1h-1zM72 107h1v1h-1zM93 128h1v1h-1z"/>
<path fill="#30b40c" d="M89 89h1v1h-1zM76 123h1v1h-1z"/>
<path fill="#489c48" d="M66 90h1v1h-1zM79 114h1v1h-1zM71 115h1v1h-1z"/>
<path fill="#00b484" d="M68 90h1v1h-1z"/>
<path fill="#3ca860" d="M76 90h1v1h-1zM90 109h1v1h-1z"/>
<path fill="#3cb418" d="M81 90h1v1h-1zM58 110h1v1h-1zM82 114h1v1h-1z"/>
<path fill="#0cc000" d="M24 91h1v1h-1zM87 106h1v1h-1zM34 114h1v1h-1z"/>
<path fill="#606084" d="M73 91h1v1h-1z"/>
<path fill="#18b400" d="M24 92h1v1h-1zM83 94h1v1h-1zM80 97h1v1h-1zM42 106h1v1h-1zM24 111h1v1h-1zM99 121h1v1h-1z"/>
<path fill="#30b400" d="M25 92h1v1h-1zM91 110h1v1h-1zM18 112h1v1h-1zM15 114h1v1h-1zM67 117h1v1h-1zM100 118h1v1h-1zM88 128h1v1h-1zM67 138h1v1h-1zM79 149h1v1h-1z"/>
<path fill="#3c9048" d="M26 92h1v1h-1z"/>
<path fill="#0cb400" d="M35 92h1v1h-1zM43 106h1v1h-1z"/>
<path fill="#24b418" d="M36 92h1v1h-1zM67 116h1v1h-1z"/>
<path fill="#609048" d="M48 92h1v1h-1zM93 130h1v1h-1zM62 138h1v1h-1z"/>
<path fill="#3c9c24" d="M55 92h1v1h-1zM75 97h1v1h-1z"/>
<path fill="#18b430" d="M83 92h1v1h-1zM31 95h1v1h-1zM72 108h1v1h-1z"/>
<path fill="#3c9078" d="M10 93h1v1h-1zM46 97h1v1h-1zM29 100h1v1h-1zM19 103h1v1h-1zM21 123h1v1h-1z"/>
<path fill="#00a890" d="M21 93h1v1h-1z"/>
<path fill="#307878" d="M45 93h1v1h-1z"/>
<path fill="#548448" d="M51 93h1v1h-1z"/>
<path fill="#549030" d="M52 93h1v1h-1z"/>
<path fill="#24b424" d="M70 93h1v1h-1z"/>
<path fill="#0ca830" d="M82 93h1v1h-1z"/>
<path fill="#18c00c" d="M84 93h1v1h-1zM8 100h1v1h-1zM87 122h1v1h-1z"/>
<path fill="#549060" d="M27 94h1v1h-1zM23 124h1v1h-1z"/>
<path fill="#609054" d="M28 94h1v1h-1zM66 102h1v1h-1zM29 113h1v1h-1z"/>
<path fill="#30b430" d="M32 94h1v1h-1zM89 129h1v1h-1z"/>
<path fill="#24c000" d="M74 94h1v1h-1zM8 99h1v1h-1zM56 101h1v1h-1zM57 102h1v1h-1zM98 119h1v1h-1zM99 120h1v1h-1zM77 127h1v1h-1z"/>
<path fill="#3ca824" d="M75 94h1v1h-1zM41 103h1v1h-1zM74 106h1v1h-1zM35 113h1v1h-1zM86 121h1v1h-1zM60 122h1v1h-1zM78 127h1v1h-1z"/>
<path fill="#48a83c" d="M96 94h1v1h-1z"/>
<path fill="#30a86c" d="M97 94h1v1h-1z"/>
<path fill="#547884" d="M66 95h1v1h-1z"/>
<path fill="#489c18" d="M9 96h1v1h-1zM80 99h1v1h-1zM97 109h1v1h-1z"/>
<path fill="#3c48c0" d="M19 96h1v1h-1zM18 98h1v1h-1z"/>
<path fill="#548484" d="M47 96h1v1h-1z"/>
<path fill="#54a800" d="M63 96h1v1h-1z"/>
<path fill="#24b400" d="M80 96h1v1h-1zM90 101h1v1h-1zM35 114h1v1h-1zM67 118h1v1h-1zM98 118h2v1h-2zM99 119h1v1h-1zM78 126h1v1h-1z"/>
<path fill="#3c9c30" d="M9 97h1v1h-1zM35 102h1v1h-1z"/>
<path fill="#3c30cc" d="M18 97h1v1h-1zM93 114h1v1h-1zM93 115h1v1h-1z"/>
<path fill="#483cc0" d="M19 97h1v1h-1z"/>
<path fill="#4854b4" d="M20 97h1v1h-1z"/>
<path fill="#187884" d="M22 97h1v1h-1z"/>
<path fill="#6c8448" d="M53 97h1v1h-1z"/>
<path fill="#48b418" d="M63 97h1v1h-1z"/>
<path fill="#48903c" d="M68 97h1v1h-1z"/>
<path fill="#549c0c" d="M74 97h1v1h-1z"/>
<path fill="#3c849c" d="M99 97h1v1h-1zM9 108h1v1h-1z"/>
<path fill="#4860a8" d="M19 98h1v1h-1z"/>
<path fill="#54906c" d="M28 98h1v1h-1zM82 129h1v1h-1z"/>
<path fill="#0ca824" d="M44 98h1v1h-1z"/>
<path fill="#488460" d="M52 98h1v1h-1zM31 106h1v1h-1z"/>
<path fill="#549048" d="M53 98h1v1h-1zM70 114h1v1h-1z"/>
<path fill="#549024" d="M67 98h1v1h-1z"/>
<path fill="#189c3c" d="M81 98h1v1h-1z"/>
<path fill="#600cb4" d="M100 98h1v1h-1z"/>
<path fill="#00cc0c" d="M9 99h1v1h-1z"/>
<path fill="#3ca848" d="M13 99h1v1h-1zM61 135h2v1h-2z"/>
<path fill="#18c018" d="M14 99h1v1h-1z"/>
<path fill="#608460" d="M38 99h1v1h-1zM23 123h1v1h-1z"/>
<path fill="#487878" d="M39 99h1v1h-1zM100 100h1v1h-1z"/>
<path fill="#18b448" d="M45 99h1v1h-1zM12 100h1v1h-1z"/>
<path fill="#607848" d="M52 99h1v1h-1z"/>
<path fill="#3c6090" d="M99 99h1v1h-1z"/>
<path fill="#604890" d="M100 99h1v1h-1z"/>
<path fill="#24c03c" d="M13 100h1v1h-1z"/>
<path fill="#18b418" d="M45 100h1v1h-1z"/>
<path fill="#18b454" d="M98 100h1v1h-1zM89 128h1v1h-1z"/>
<path fill="#607878" d="M47 101h2v1h-2zM71 114h1v1h-1z"/>
<path fill="#6c846c" d="M68 101h1v1h-1z"/>
<path fill="#549c24" d="M8 102h1v1h-1zM45 105h1v1h-1zM12 121h1v1h-1zM66 132h1v1h-1z"/>
<path fill="#189c9c" d="M21 102h1v1h-1z"/>
<path fill="#609000" d="M51 102h1v1h-1z"/>
<path fill="#3cb448" d="M72 102h1v1h-1z"/>
<path fill="#549078" d="M20 103h1v1h-1zM80 110h1v1h-1zM18 125h1v1h-1z"/>
<path fill="#3c6cb4" d="M19 104h1v1h-1zM7 106h1v1h-1z"/>
<path fill="#54786c" d="M24 104h1v1h-1zM72 115h1v1h-1z"/>
<path fill="#489c3c" d="M64 104h1v1h-1zM21 120h1v1h-1zM77 123h1v1h-1zM71 124h1v1h-1zM92 128h1v1h-1zM87 135h1v1h-1z"/>
<path fill="#60a824" d="M69 104h1v1h-1z"/>
<path fill="#549018" d="M75 105h1v1h-1z"/>
<path fill="#788460" d="M47 106h1v1h-1z"/>
<path fill="#549c54" d="M48 106h1v1h-1z"/>
<path fill="#489c6c" d="M72 106h1v1h-1z"/>
<path fill="#547878" d="M99 106h1v1h-1z"/>
<path fill="#600ccc" d="M7 107h1v1h-1z"/>
<path fill="#4848c0" d="M8 107h1v1h-1z"/>
<path fill="#248460" d="M30 107h1v1h-1z"/>
<path fill="#24a818" d="M35 107h1v1h-1z"/>
<path fill="#549c3c" d="M47 107h1v1h-1zM48 123h1v1h-1z"/>
<path fill="#6c30b4" d="M8 108h1v1h-1z"/>
<path fill="#00846c" d="M30 108h1v1h-1z"/>
<path fill="#489054" d="M78 108h1v1h-1zM66 131h1v1h-1z"/>
<path fill="#607860" d="M29 109h1v1h-1zM53 135h1v1h-1z"/>
<path fill="#30a80c" d="M96 109h1v1h-1z"/>
<path fill="#0cb418" d="M24 110h1v1h-1z"/>
<path fill="#548478" d="M87 110h1v1h-1z"/>
<path fill="#486ca8" d="M98 110h1v1h-1z"/>
<path fill="#549c18" d="M67 111h1v1h-1z"/>
<path fill="#6c6c54" d="M83 111h1v1h-1z"/>
<path fill="#48a80c" d="M15 113h1v1h-1z"/>
<path fill="#249c48" d="M27 113h1v1h-1z"/>
<path fill="#548460" d="M38 113h2v1h-2zM65 131h1v1h-1z"/>
<path fill="#18b40c" d="M78 114h1v1h-1z"/>
<path fill="#3c54c0" d="M94 114h1v1h-1z"/>
<path fill="#845484" d="M30 115h1v1h-1z"/>
<path fill="#303cc0" d="M94 115h1v1h-1z"/>
<path fill="#6030a8" d="M16 117h1v1h-1z"/>
<path fill="#5448b4" d="M15 118h1v1h-1z"/>
<path fill="#48549c" d="M16 118h1v1h-1z"/>
<path fill="#3ca800" d="M27 118h1v1h-1zM55 134h1v1h-1z"/>
<path fill="#6c489c" d="M19 120h1v1h-1z"/>
<path fill="#608478" d="M20 120h1v1h-1z"/>
<path fill="#783c9c" d="M20 121h1v1h-1z"/>
<path fill="#548454" d="M39 121h1v1h-1zM61 138h1v1h-1z"/>
<path fill="#0cc018" d="M89 121h1v1h-1z"/>
<path fill="#546c9c" d="M92 122h1v1h-1z"/>
<path fill="#546c90" d="M93 122h1v1h-1z"/>
<path fill="#48a854" d="M22 123h1v1h-1z"/>
<path fill="#606c84" d="M69 123h1v1h-1zM91 139h1v1h-1z"/>
<path fill="#60843c" d="M71 123h1v1h-1z"/>
<path fill="#54609c" d="M92 123h1v1h-1z"/>
<path fill="#60489c" d="M93 123h1v1h-1z"/>
<path fill="#546c84" d="M94 124h1v1h-1z"/>
<path fill="#486c90" d="M100 125h1v1h-1z"/>
<path fill="#00b478" d="M85 126h1v1h-1z"/>
<path fill="#60846c" d="M83 129h1v1h-1z"/>
<path fill="#549c60" d="M92 129h1v1h-1z"/>
<path fill="#6c903c" d="M49 130h1v1h-1z"/>
<path fill="#6c8454" d="M66 130h1v1h-1z"/>
<path fill="#608448" d="M49 131h1v1h-1zM73 142h1v1h-1z"/>
<path fill="#24a80c" d="M56 133h1v1h-1z"/>
<path fill="#309c3c" d="M54 134h1v1h-1z"/>
<path fill="#3c9c00" d="M56 134h1v1h-1z"/>
<path fill="#54a83c" d="M87 134h1v1h-1zM38 146h1v1h-1z"/>
<path fill="#549c48" d="M82 138h1v1h-1z"/>
<path fill="#609060" d="M91 138h1v1h-1z"/>
<path fill="#60903c" d="M61 145h1v1h-1z"/>
<path fill="#54a80c" d="M61 146h1v1h-1z"/></svg>
<svg class="ov" width="2167" height="1003" viewBox="0 0 2167 1003">
<defs><linearGradient id="yor" x1="0" y1="0" x2="0" y2="1"><stop offset="0" stop-color="#800026"/><stop offset="0.125" stop-color="#bd0026"/><stop offset="0.25" stop-color="#e31a1c"/><stop offset="0.375" stop-color="#fc4e2a"/><stop offset="0.5" stop-color="#fd8d3c"/><stop offset="0.625" stop-color="#feb24c"/><stop offset="0.75" stop-color="#fed976"/><stop offset="0.875" stop-color="#ffeda0"/><stop offset="1" stop-color="#ffffcc"/></linearGradient></defs>
<g font-family="'Liberation Serif','DejaVu Serif',serif" fill="#000">
<text x="308.2" y="34.3" font-size="45.35" text-anchor="middle">Stokes Circular Polarization Ratio</text>
<text x="1083.6" y="38.8" font-size="45.35" text-anchor="middle">Degree of polarization</text>
<text x="1861.6" y="31.2" font-size="45.35" text-anchor="middle">m-chi</text>
<rect x="623.6" y="45.3" width="47.4" height="939.3" fill="url(#yor)" stroke="#000" stroke-width="1.2"/>
<path d="M671 984.6h5.8" stroke="#000" stroke-width="1.2"/><text x="730.3" y="997.4" font-size="39" text-anchor="end">0.0</text>
<path d="M671 796.74h5.8" stroke="#000" stroke-width="1.2"/><text x="730.3" y="809.54" font-size="39" text-anchor="end">0.2</text>
<path d="M671 608.88h5.8" stroke="#000" stroke-width="1.2"/><text x="730.3" y="621.68" font-size="39" text-anchor="end">0.4</text>
<path d="M671 421.02h5.8" stroke="#000" stroke-width="1.2"/><text x="730.3" y="433.82" font-size="39" text-anchor="end">0.6</text>
<path d="M671 233.16h5.8" stroke="#000" stroke-width="1.2"/><text x="730.3" y="245.96" font-size="39" text-anchor="end">0.8</text>
<path d="M671 45.3h5.8" stroke="#000" stroke-width="1.2"/><text x="730.3" y="58.1" font-size="39" text-anchor="end">1.0</text>
<rect x="1399.6" y="49.7" width="47.4" height="939.5" fill="url(#yor)" stroke="#000" stroke-width="1.2"/>
<path d="M1447 989.2h5.8" stroke="#000" stroke-width="1.2"/><text x="1506.3" y="1002" font-size="39" text-anchor="end">0.0</text>
<path d="M1447 801.3h5.8" stroke="#000" stroke-width="1.2"/><text x="1506.3" y="814.1" font-size="39" text-anchor="end">0.2</text>
<path d="M1447 613.4h5.8" stroke="#000" stroke-width="1.2"/><text x="1506.3" y="626.2" font-size="39" text-anchor="end">0.4</text>
<path d="M1447 425.5h5.8" stroke="#000" stroke-width="1.2"/><text x="1506.3" y="438.3" font-size="39" text-anchor="end">0.6</text>
<path d="M1447 237.6h5.8" stroke="#000" stroke-width="1.2"/><text x="1506.3" y="250.4" font-size="39" text-anchor="end">0.8</text>
<path d="M1447 49.7h5.8" stroke="#000" stroke-width="1.2"/><text x="1506.3" y="62.5" font-size="39" text-anchor="end">1.0</text>
</g></svg>
</body></html>
